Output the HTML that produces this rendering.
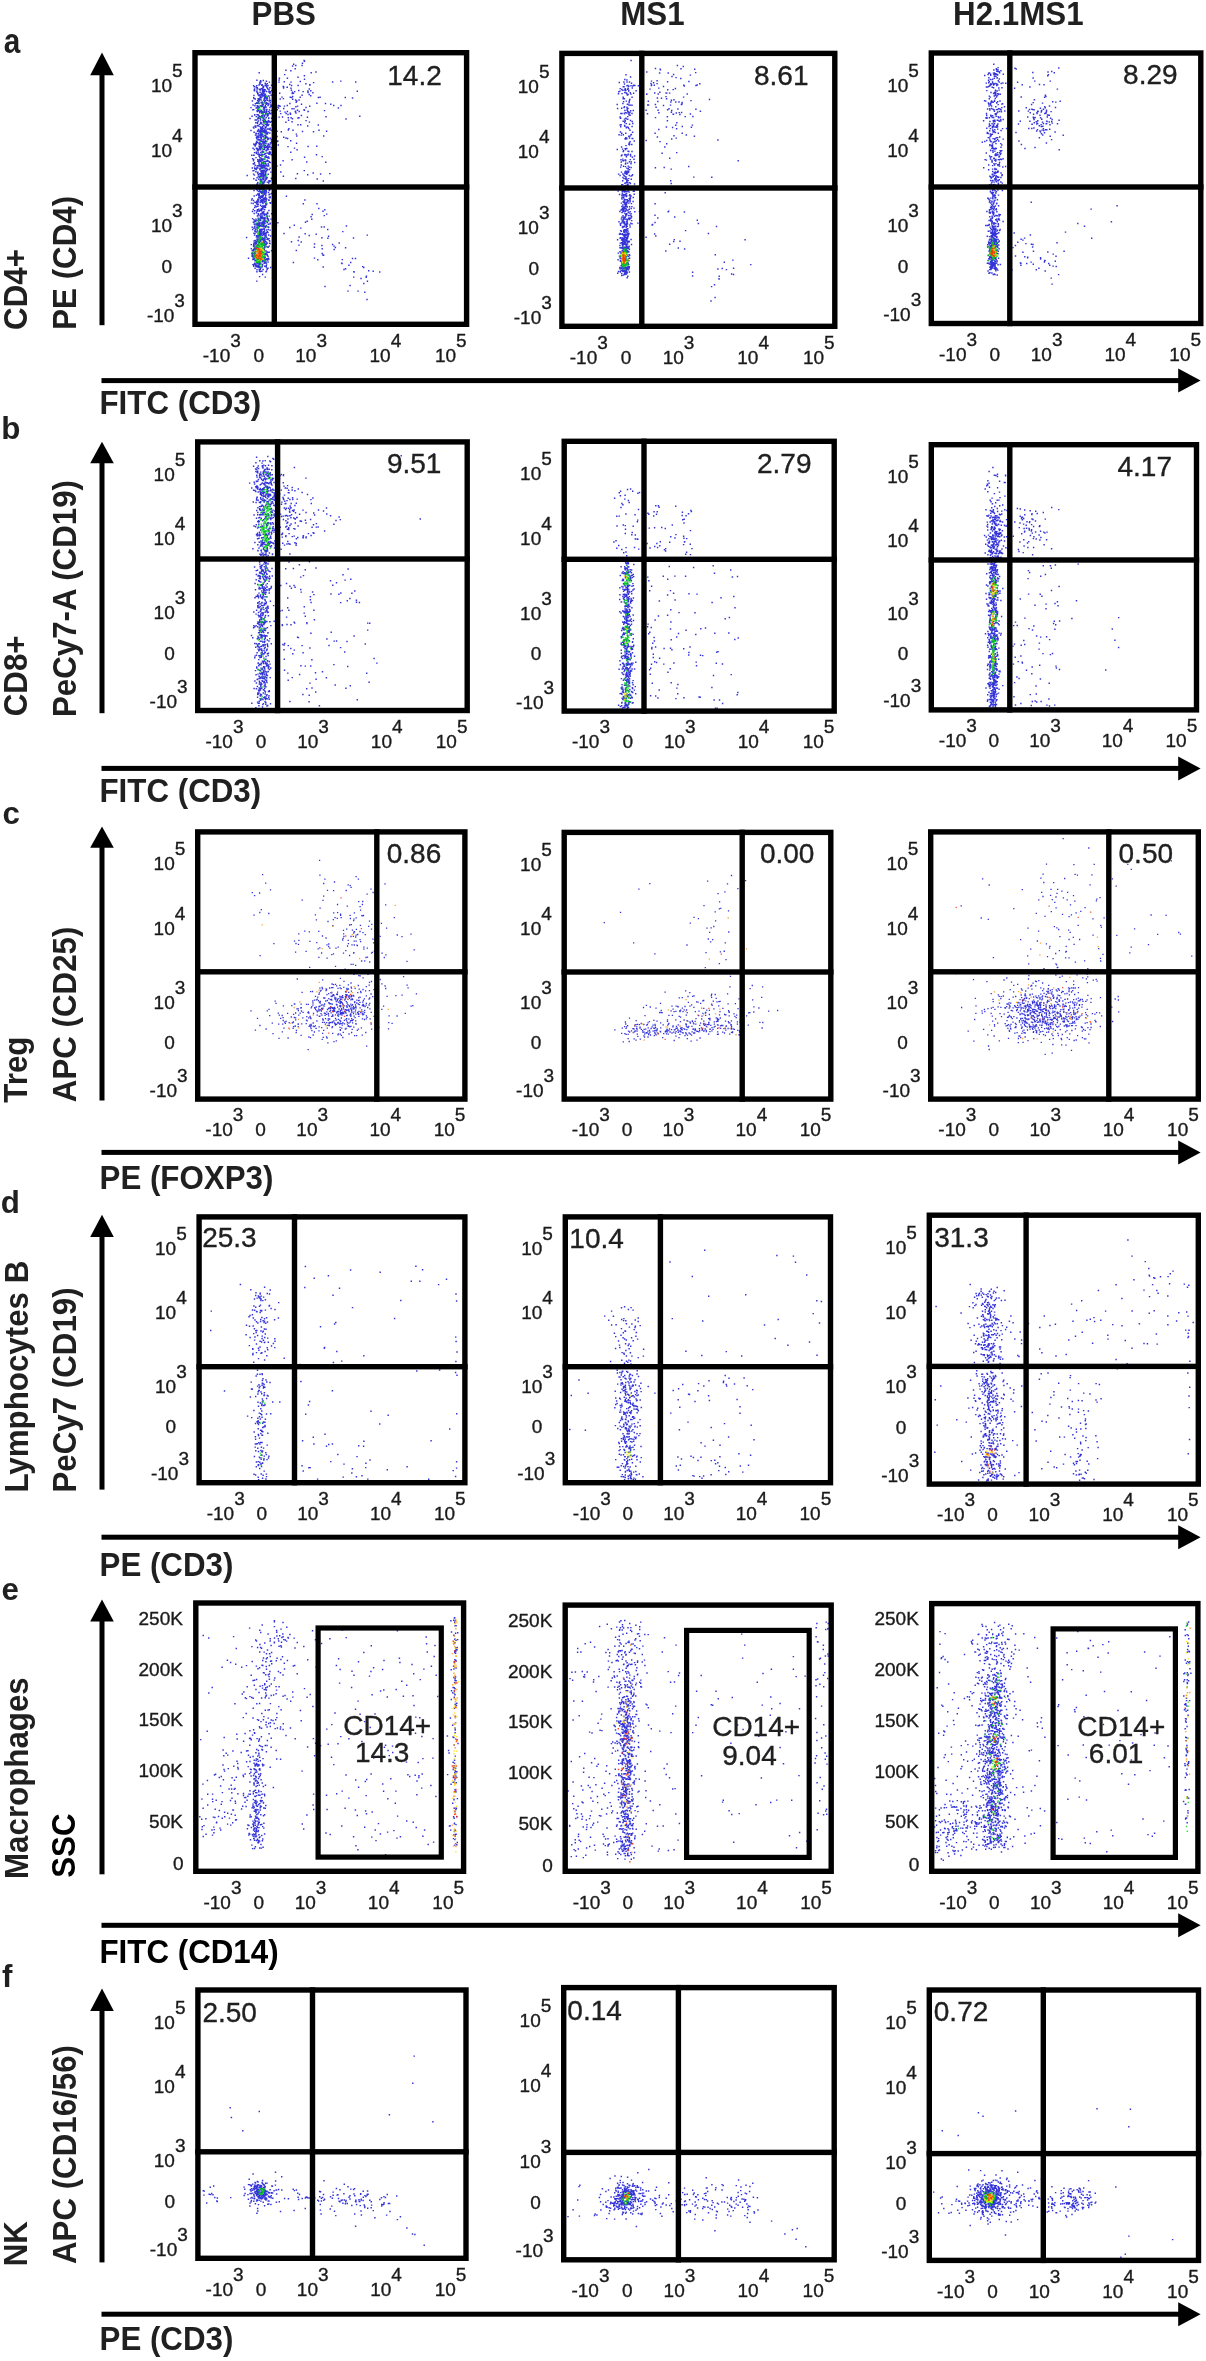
<!DOCTYPE html>
<html><head><meta charset="utf-8"><style>
html,body{margin:0;padding:0;background:#fff;}
body{width:1206px;height:2361px;overflow:hidden;font-family:"Liberation Sans",sans-serif;}
svg{display:block;}
.r{stroke:#1a1a1a;stroke-width:0.35px;}
</style></head><body>
<svg width="1206" height="2361" viewBox="0 0 1206 2361" font-family="Liberation Sans, sans-serif">
<rect width="1206" height="2361" fill="#fff"/>
<g stroke-linecap="square" fill="none" stroke-opacity="0.8">
<path stroke="#0000d0" stroke-width="1.3" d="M394.3 917.7h0M302.1 992.3h0M402.1 995.2h0M308.2 1049.6h0M297.3 979.0h0M302.2 900.2h0M273.9 943.7h0M260.1 955.7h0M306.1 951.3h0M319.6 860.4h0M270.5 889.9h0M385.0 883.9h0M366.7 1046.2h0M407.0 961.3h0M335.5 966.3h0M251.0 1010.8h0M295.6 952.2h0M385.7 904.9h0M347.3 906.2h0M411.0 934.1h0M414.2 949.8h0M334.5 882.0h0M397.1 1016.0h0M405.3 1013.3h0M416.4 993.8h0M268.8 913.5h0M319.9 875.2h0M320.1 908.1h0M403.6 976.6h0M265.7 883.1h0M262.6 874.6h0M257.5 1018.4h0M309.3 931.8h0M298.8 933.9h0M254.0 915.1h0M273.0 1033.7h0M380.2 936.3h0M283.4 1005.9h0M266.1 1029.0h0M395.9 995.7h0M316.4 919.9h0M323.7 883.5h0M309.9 941.4h0M288.1 1038.0h0M375.3 916.8h0M333.6 890.7h0M279.0 1038.3h0M371.0 889.1h0M318.9 957.3h0M358.4 879.2h0M275.2 1001.1h0M356.1 876.6h0M309.7 967.3h0M255.4 1030.1h0M386.6 928.1h0M308.9 971.4h0M324.9 879.1h0M304.8 931.1h0M378.9 1027.3h0M381.4 923.3h0M327.5 890.3h0M318.8 931.3h0M261.3 909.7h0M272.3 1023.2h0M387.1 996.4h0M388.5 1028.9h0M408.1 987.8h0M373.1 892.5h0M380.2 979.5h0M337.5 904.5h0M367.1 894.2h0M259.6 893.0h0M315.4 914.9h0M259.8 912.5h0M407.1 985.1h0M323.0 900.3h0M369.7 962.0h0M412.8 1005.6h0M340.4 978.4h0M402.0 936.6h0M397.3 935.0h0M346.2 890.5h0M411.1 1006.2h0M276.0 1003.4h0M343.5 953.2h0M323.7 896.1h0M372.9 939.1h0M301.1 1035.4h0M254.6 895.7h0M269.7 1015.7h0M373.6 942.9h0M327.1 958.2h0M259.9 1025.5h0M328.0 921.5h0M252.3 892.6h0M389.1 1015.9h0M316.8 942.6h0M322.5 936.0h0M381.9 983.8h0M385.7 988.5h0M351.1 887.3h0M382.1 953.2h0M371.5 929.1h0M326.0 938.0h0M322.7 979.9h0M384.3 957.5h0M371.6 1029.2h0M327.9 1042.9h0M338.2 947.2h0M367.5 971.0h0M392.1 1023.3h0M354.0 974.3h0M377.3 1027.1h0M385.1 986.0h0M385.9 954.8h0M267.3 1010.8h0M349.6 955.5h0M278.7 1024.2h0M369.5 921.2h0M388.8 1022.6h0M269.0 1009.4h0M308.9 1037.0h0M332.9 925.6h0M383.6 1006.2h0M278.3 1013.1h0M377.8 1002.9h0M371.8 924.4h0M381.8 1009.3h0M358.8 975.7h0M350.1 915.3h0M282.3 1031.9h0M358.7 901.7h0M374.3 951.2h0M376.1 1014.6h0M310.5 1037.7h0M371.5 981.5h0M365.8 1032.5h0M349.3 971.6h0M333.5 953.9h0M368.0 974.3h0M350.2 885.6h0M363.1 977.8h0M321.6 953.0h0M348.2 884.9h0M298.5 944.3h0M353.9 952.7h0M345.8 950.6h0M344.0 981.3h0M298.9 940.4h0M355.7 965.4h0M354.4 912.9h0M294.5 941.2h0M296.0 943.5h0M353.6 953.2h0M310.6 991.7h0M372.4 952.4h0M345.1 969.2h0M322.2 1039.3h0M361.6 961.0h0M368.7 926.4h0M360.4 925.4h0M345.1 969.7h0M331.8 954.7h0M333.7 912.9h0M334.0 1041.7h0M360.2 975.9h0M362.7 901.5h0M336.0 948.1h0M376.4 1009.0h0M367.3 948.2h0M287.6 1013.3h0M343.5 930.3h0M336.3 1040.9h0M362.3 1035.2h0M372.8 996.6h0M365.3 934.7h0M363.5 915.4h0M347.5 946.0h0M364.7 960.8h0M349.0 1034.0h0M363.0 915.9h0M361.4 1027.9h0M333.3 919.6h0M342.8 1037.5h0M318.2 948.9h0M319.8 947.8h0M279.3 1015.1h0M363.9 947.2h0M353.1 964.3h0M373.9 989.6h0M351.1 964.3h0M363.9 949.2h0M360.1 906.7h0M363.0 932.6h0M371.5 953.2h0M362.4 904.5h0M367.5 957.1h0M374.0 1016.3h0M328.8 944.0h0M350.4 918.5h0M366.0 957.5h0M332.7 1033.3h0M313.2 1035.0h0M337.6 912.7h0M369.5 982.3h0M361.8 915.7h0M327.0 944.9h0M291.8 1005.6h0M360.6 910.2h0M283.9 1028.2h0M335.0 917.7h0M341.1 917.6h0M327.1 1038.0h0M349.7 925.0h0M343.6 933.9h0M340.6 914.1h0M340.6 915.4h0M354.6 1035.7h0M323.3 1037.3h0M346.7 929.2h0M356.6 1035.7h0M343.1 938.4h0M348.4 943.6h0M356.2 917.8h0M342.7 940.0h0M354.0 919.1h0M328.6 946.5h0M337.3 918.3h0M326.5 1036.8h0M329.8 948.1h0M366.3 986.6h0M353.7 920.7h0M357.3 1030.3h0M358.4 1029.1h0M369.2 985.2h0M371.1 1024.0h0M360.1 939.7h0M348.4 984.9h0M360.6 941.7h0M343.9 936.5h0M351.3 924.7h0M351.4 924.6h0M322.6 1033.4h0M371.1 994.0h0M351.0 983.0h0M352.0 944.8h0M280.7 1018.4h0M332.1 984.0h0M358.3 985.5h0M369.4 990.6h0M371.2 1012.3h0M357.0 945.2h0M296.4 1030.5h0M296.2 1032.7h0M293.6 1014.3h0M357.4 945.7h0M335.5 984.3h0M333.5 984.6h0M369.7 998.0h0M366.3 995.9h0M308.3 1004.4h0M319.0 1030.8h0M348.2 940.4h0M354.3 945.0h0M306.5 1004.3h0M363.0 989.5h0M365.6 990.9h0M312.5 991.5h0M301.8 1023.8h0M351.6 1032.5h0M370.1 1018.8h0M323.7 1030.4h0M282.2 1015.5h0M283.1 1017.6h0M301.1 1004.1h0M338.3 1033.8h0M338.0 1034.9h0M294.3 1003.8h0M294.8 1004.1h0M311.9 1030.7h0M366.3 1018.8h0M352.4 930.1h0M361.0 992.7h0M283.2 1020.5h0M360.7 991.5h0M369.9 1008.8h0M319.9 988.2h0M356.4 929.3h0M329.7 988.0h0M291.3 1017.0h0M364.5 1019.5h0M340.2 1034.1h0M341.4 1035.3h0M314.4 1032.0h0M356.1 941.1h0M322.1 987.5h0M284.7 1022.2h0M282.8 1024.2h0M321.7 1027.6h0M354.2 941.1h0M340.2 987.8h0M339.9 985.4h0M360.0 931.5h0M351.0 936.5h0M336.6 985.8h0M343.3 1032.3h0M369.0 999.1h0M343.8 987.4h0M357.7 934.5h0M319.1 1026.9h0M295.6 1013.0h0M302.8 1017.9h0M359.2 989.1h0M369.8 1003.3h0M369.1 1005.0h0M340.4 1030.4h0M297.0 1008.9h0M353.7 933.2h0M362.5 1018.8h0M351.2 987.1h0M314.5 1000.2h0M311.8 1006.6h0M331.7 987.6h0M311.2 1007.9h0M332.9 987.7h0M316.9 1021.0h0M298.2 1024.3h0M293.1 1028.4h0M298.2 1026.6h0M295.6 1017.9h0M298.2 1023.9h0M294.4 1017.5h0M298.8 1015.2h0M367.1 1017.3h0M308.5 1011.9h0M366.4 1015.9h0M300.9 1008.0h0M301.3 1007.7h0M306.2 1023.6h0M303.1 1012.4h0M298.3 1008.9h0M298.4 1010.7h0M354.5 931.7h0M316.1 1028.3h0M354.1 931.9h0M316.2 1028.3h0M353.4 936.4h0M352.2 1029.4h0M286.1 1021.4h0M300.2 1013.2h0M285.4 1023.3h0M311.1 1028.6h0M301.5 1011.0h0M322.5 988.8h0M313.0 1003.0h0M312.8 1001.0h0M319.4 992.8h0M355.7 937.0h0M356.1 935.2h0M320.4 991.2h0M295.7 1019.8h0M321.0 990.3h0M357.8 992.7h0M310.5 1017.9h0M355.2 988.3h0M310.0 1016.5h0M315.4 1025.8h0M317.8 997.1h0M315.5 996.3h0M332.1 1027.5h0M308.9 1013.2h0M313.2 1023.0h0M307.9 1012.7h0M327.3 1028.2h0M364.4 998.8h0M323.8 998.0h0M326.0 988.8h0M326.6 989.5h0M317.2 1015.2h0M326.1 990.7h0M307.2 1020.8h0M306.5 1020.2h0M327.0 994.6h0M308.7 1017.8h0M306.8 1016.6h0M295.2 1026.4h0M319.0 994.4h0M317.4 999.1h0M316.4 999.9h0M289.2 1022.7h0M295.2 1025.8h0M293.5 1026.7h0M310.9 1018.5h0M338.0 988.3h0M312.9 1005.2h0M341.2 988.7h0M292.3 1022.9h0M293.4 1021.8h0M367.7 1007.5h0M293.0 1022.6h0M355.9 1023.7h0M356.1 1024.1h0M346.1 1028.5h0M314.3 1026.6h0M345.3 1029.1h0M313.3 1026.1h0M313.5 1013.5h0M309.1 1026.3h0M311.2 1025.6h0M309.8 1025.1h0M311.1 1024.5h0M310.7 1027.0h0M360.1 997.4h0M324.8 998.0h0M366.4 1003.4h0M366.1 1005.1h0M340.3 1029.6h0M340.0 1027.4h0M341.7 1028.1h0M314.7 1007.6h0M328.7 993.7h0M322.6 1022.4h0M319.3 1016.3h0M319.9 1016.1h0M363.4 1000.5h0M353.8 1027.1h0M318.4 1000.7h0M320.2 1003.1h0M319.4 1002.2h0M320.3 1001.5h0M351.4 991.2h0M323.3 1019.9h0M322.7 1018.8h0M351.5 988.2h0M323.1 1020.2h0M363.9 1014.1h0M364.7 1012.3h0M358.7 997.9h0M328.8 998.7h0M325.8 1001.0h0M355.7 1020.8h0M362.7 1002.1h0M348.4 989.0h0M364.6 1010.4h0M363.9 1005.4h0M363.2 1004.5h0M365.1 1006.7h0M327.9 1025.4h0M363.5 1006.0h0M329.3 1025.6h0M336.6 1024.3h0M358.9 1016.4h0M335.5 1025.1h0M332.5 1026.7h0M347.2 989.8h0M346.9 989.0h0M346.9 988.3h0M337.2 993.8h0M337.6 992.1h0M342.3 1025.1h0M316.2 1007.0h0M315.1 1008.4h0M351.0 1026.3h0M348.5 1025.7h0M349.9 1026.8h0M348.8 1026.3h0M348.0 1026.2h0M317.3 1011.8h0M331.8 992.5h0M331.3 992.8h0M317.0 1010.6h0M321.0 1013.7h0M352.6 1022.9h0M315.7 1009.7h0M330.9 992.7h0M320.0 1006.1h0M325.4 1024.2h0M324.4 1022.3h0M326.7 1022.7h0M322.8 1004.9h0M321.4 1005.2h0M328.8 1002.7h0M327.4 1000.5h0M321.9 1015.2h0M356.9 1000.1h0M325.1 1015.3h0M325.6 1018.6h0M359.1 1000.4h0M360.0 1002.3h0M358.5 1000.7h0M362.9 1004.9h0M362.8 1005.4h0M362.4 1005.7h0M354.1 1016.1h0M355.1 1017.7h0M332.5 995.2h0M324.1 1006.0h0M324.6 1004.0h0M331.1 996.1h0M360.7 1012.7h0M326.6 1014.4h0M362.9 1014.8h0M325.3 1013.5h0M362.6 1013.6h0M332.1 996.6h0M324.4 1013.1h0M319.3 1006.3h0M318.9 1006.9h0M322.6 1009.2h0M323.0 1008.1h0M321.6 1008.3h0M321.4 1011.2h0M318.7 1010.8h0M318.6 1009.2h0M321.0 1009.8h0M319.0 1010.9h0M360.1 1007.9h0M319.9 1009.9h0M352.5 1020.5h0M351.7 1018.7h0M353.2 1019.7h0M351.9 1020.5h0M354.8 1001.7h0M354.7 1002.6h0M328.6 1015.9h0M356.8 1003.0h0M348.9 1023.2h0M350.2 1022.1h0M358.4 1004.0h0M359.5 1004.6h0M331.3 999.3h0M361.7 1009.9h0M330.4 999.6h0M331.8 1000.0h0M347.5 1022.4h0M362.9 1011.8h0M347.4 1024.1h0M361.2 1011.8h0M329.0 1022.9h0M329.8 1022.4h0M329.2 1023.9h0M342.6 1023.0h0M343.0 1022.8h0M326.8 1011.8h0M344.5 1023.9h0M329.6 1019.1h0M328.3 1018.9h0M329.4 1018.8h0M328.2 1020.3h0M328.4 1014.2h0M341.2 1023.7h0M357.9 1012.7h0M328.3 1013.3h0M358.9 1014.1h0M357.6 1012.3h0M339.7 1024.0h0M340.2 1023.2h0M358.2 1013.5h0M358.4 1014.4h0M340.7 1021.3h0M330.8 1022.6h0M334.0 995.6h0M333.1 995.4h0M332.3 1021.9h0M333.6 994.7h0M333.6 994.9h0M332.3 1022.5h0M332.8 1021.9h0M329.3 1003.2h0M329.4 1003.7h0M332.7 1016.1h0M331.7 1016.3h0M355.5 1004.9h0M334.5 1022.9h0M338.4 1023.1h0M334.9 1023.9h0M337.9 1022.9h0M335.7 1024.0h0M337.7 1022.8h0M338.1 1022.3h0M359.0 1011.3h0M336.7 994.3h0M337.4 994.5h0M335.5 1018.4h0M333.9 1020.9h0M348.7 992.3h0M348.9 1019.2h0M350.7 1020.7h0M355.9 1014.1h0M352.4 998.9h0M351.1 996.9h0M351.6 995.5h0M353.4 995.3h0M353.7 996.0h0M352.7 999.6h0M351.8 996.3h0M351.7 999.1h0M352.6 1004.7h0M351.2 1005.9h0M352.4 1005.1h0M336.1 1020.0h0M336.2 1019.9h0M338.4 1019.3h0M335.0 999.0h0M334.9 997.5h0M335.7 999.8h0M346.7 1018.7h0M346.0 1019.3h0M346.6 1020.9h0M327.5 1009.5h0M341.4 997.0h0M339.9 996.5h0M329.8 1011.4h0M345.5 991.6h0M346.1 992.1h0M354.3 1008.2h0M339.8 1020.3h0M340.0 1020.6h0M355.8 1006.3h0M356.2 1007.9h0M355.1 1007.7h0M344.4 1020.3h0M355.2 1011.8h0M355.6 1010.2h0M331.1 1012.9h0M329.4 1008.0h0M332.8 1014.8h0M328.6 1008.5h0M353.1 1012.2h0M353.5 1013.6h0M351.5 1012.2h0M349.2 1005.7h0M350.8 1004.2h0M350.3 1015.2h0M350.9 1015.2h0M350.9 1016.4h0M332.4 1004.2h0M330.1 1003.8h0M330.6 1003.7h0M332.0 1004.1h0M353.5 1006.7h0M353.8 1009.0h0M352.9 1008.0h0M351.1 1008.0h0M342.5 995.6h0M342.6 995.8h0M351.6 1010.6h0M351.8 1009.6h0M337.5 999.6h0M336.0 998.1h0M338.2 998.6h0M337.8 1015.5h0M338.5 1016.1h0M348.9 997.3h0M350.8 999.9h0M349.6 998.4h0M348.8 996.2h0M348.9 995.9h0M349.7 995.9h0M347.2 1015.4h0M346.6 1015.6h0M335.5 1014.9h0M349.5 1006.5h0M350.6 1008.9h0M336.3 1001.6h0M338.4 1002.1h0M337.3 1000.7h0M346.8 1005.8h0M346.4 1005.8h0M347.9 1004.7h0M346.3 1001.7h0M347.2 1003.0h0M350.7 1014.0h0M350.1 1014.9h0M350.8 1013.9h0M341.4 1018.0h0M330.6 1010.5h0M332.9 1010.5h0M332.6 1008.3h0M330.2 1008.0h0M331.9 1007.6h0M330.8 1006.8h0M330.5 1008.6h0M332.2 1007.7h0M340.4 999.6h0M340.1 998.1h0M341.5 999.1h0M346.0 994.7h0M345.6 994.9h0M345.4 996.7h0M347.3 994.8h0M346.7 995.9h0M347.0 1006.7h0M348.8 1009.3h0M349.1 1011.5h0M347.1 1007.3h0M348.7 1010.2h0M348.8 1010.3h0M348.6 1010.1h0M342.3 1003.0h0M343.0 997.6h0M336.8 1004.6h0M342.5 997.5h0M336.4 1004.3h0M337.0 1005.1h0M344.8 1000.0h0M343.2 1004.8h0M344.2 1005.9h0M342.8 1004.2h0M340.4 1003.2h0M341.4 1001.9h0M341.4 1002.3h0M340.1 1002.3h0M340.6 1001.3h0M339.6 1000.8h0M336.6 1012.9h0M346.0 997.3h0M347.9 999.4h0M345.2 999.2h0M338.2 1014.0h0M345.9 997.8h0M346.0 1013.0h0M345.2 1012.3h0M333.3 1008.0h0M334.6 1007.4h0M333.8 1007.8h0M335.0 1008.7h0M339.6 1006.0h0M340.6 1005.6h0M340.1 1003.6h0M340.8 1006.0h0M334.8 1011.4h0M333.0 1011.0h0M334.4 1010.4h0M333.3 1011.7h0M333.9 1009.2h0M334.3 1010.3h0M343.8 1009.1h0M343.4 1007.5h0M346.5 1010.7h0M347.4 1010.2h0M345.5 1009.6h0M346.6 1010.0h0M337.6 1007.1h0M340.2 1012.4h0M341.9 1013.6h0M341.3 1013.9h0M340.4 1013.3h0M341.0 1012.7h0M340.0 1014.7h0M341.7 1008.7h0M340.6 1006.8h0M339.1 1009.0h0M343.2 1012.6h0M342.8 1012.2h0M342.0 1015.1h0M343.0 1013.6h0M342.2 1012.4h0M342.5 1013.5h0M343.8 1013.6h0M342.3 1013.1h0M337.0 1012.2h0M337.8 1011.9h0M337.7 1011.5h0M338.4 1011.5h0M337.6 1011.3h0M337.1 1011.8h0M344.8 1011.6h0M343.1 1012.1h0M344.8 1011.2h0M341.8 1010.1h0M340.2 1011.6h0M340.4 1010.3h0M341.6 1009.3h0M768.6 1011.1h0M638.9 889.2h0M731.5 875.5h0M707.6 881.1h0M737.9 888.7h0M620.5 912.3h0M748.3 1025.1h0M654.9 953.9h0M614.9 1029.8h0M665.1 992.1h0M728.8 932.0h0M725.3 942.8h0M706.0 952.6h0M604.3 922.7h0M777.6 1010.5h0M730.5 976.4h0M649.8 883.7h0M687.0 945.0h0M745.6 880.7h0M633.6 942.9h0M752.7 999.9h0M761.7 997.3h0M762.6 986.9h0M704.0 905.6h0M690.3 923.2h0M660.5 1003.3h0M727.6 993.9h0M710.7 971.1h0M727.5 883.8h0M718.0 893.7h0M719.4 963.6h0M705.3 967.7h0M729.9 986.8h0M715.6 920.9h0M750.1 988.6h0M724.9 891.8h0M742.9 950.9h0M726.0 959.6h0M752.3 985.5h0M645.0 1015.6h0M719.6 901.8h0M762.1 1028.0h0M728.5 910.9h0M741.5 997.1h0M698.4 918.7h0M629.5 1018.1h0M715.2 911.9h0M674.2 1040.5h0M694.0 917.4h0M623.3 1041.9h0M710.7 941.8h0M646.4 1005.4h0M762.8 1022.5h0M697.0 1040.1h0M712.7 939.7h0M735.4 1003.7h0M685.7 990.9h0M759.9 1022.3h0M708.3 939.0h0M720.4 951.9h0M643.5 1007.5h0M758.9 1008.0h0M709.6 932.3h0M707.0 928.2h0M650.3 1007.0h0M742.7 1007.2h0M679.3 997.9h0M739.0 998.9h0M720.8 908.3h0M728.1 1003.9h0M713.8 926.5h0M656.0 1008.2h0M719.4 908.9h0M691.1 1041.2h0M738.1 1008.6h0M746.6 1015.9h0M740.8 1001.6h0M753.9 1006.9h0M715.2 994.5h0M753.8 1012.0h0M703.7 1000.5h0M711.1 927.8h0M724.2 951.4h0M682.3 997.6h0M724.3 951.2h0M748.7 1012.8h0M694.1 995.8h0M700.1 1038.0h0M749.8 1012.6h0M636.0 1040.2h0M711.7 994.2h0M629.2 1041.5h0M689.8 992.7h0M711.3 995.5h0M672.0 1006.1h0M659.7 1012.5h0M692.7 996.3h0M662.2 1012.7h0M702.8 1000.9h0M688.0 996.5h0M711.6 997.4h0M688.4 1002.4h0M695.3 1011.7h0M693.9 1007.3h0M661.2 1010.5h0M691.6 1004.8h0M636.2 1020.7h0M736.7 1015.1h0M661.2 1012.7h0M657.0 1021.1h0M700.6 1003.4h0M649.4 1021.7h0M698.0 1002.1h0M696.6 1001.9h0M675.8 1019.9h0M672.4 1015.4h0M734.0 1013.9h0M653.9 1020.4h0M717.4 1034.3h0M740.1 1022.2h0M668.9 1015.3h0M625.4 1022.0h0M690.0 1006.2h0M625.7 1024.0h0M718.4 1034.2h0M621.7 1033.4h0M722.9 1008.4h0M708.6 1034.1h0M716.2 998.4h0M671.1 1010.9h0M740.3 1019.9h0M740.5 1020.7h0M699.0 1011.2h0M729.0 1011.7h0M622.3 1028.2h0M685.0 1006.5h0M729.2 1012.3h0M728.6 1010.6h0M736.2 1017.7h0M720.0 1011.6h0M720.1 1001.3h0M718.9 1001.7h0M734.9 1016.3h0M676.1 1006.2h0M667.5 1021.3h0M634.1 1038.8h0M628.1 1038.7h0M667.5 1019.8h0M677.8 1006.5h0M703.8 1008.4h0M713.3 1001.2h0M729.2 1015.9h0M718.7 1005.8h0M679.0 1037.6h0M729.7 1034.2h0M673.1 1009.1h0M662.7 1037.6h0M626.1 1034.3h0M660.7 1022.8h0M712.2 1005.4h0M717.0 1001.9h0M711.6 1004.2h0M725.9 1014.8h0M680.4 1021.7h0M713.9 1008.9h0M724.6 1014.5h0M739.0 1034.7h0M687.3 1038.6h0M696.0 1018.6h0M739.3 1035.0h0M640.3 1039.1h0M674.1 1011.7h0M728.4 1021.6h0M731.5 1020.9h0M737.4 1024.1h0M737.4 1021.9h0M680.6 1017.2h0M679.2 1016.3h0M686.3 1015.2h0M626.6 1026.9h0M624.6 1026.6h0M739.5 1030.8h0M740.8 1032.9h0M678.2 1006.8h0M739.6 1032.1h0M698.7 1015.7h0M648.0 1022.8h0M682.4 1008.2h0M655.0 1024.5h0M709.4 1010.4h0M647.4 1024.6h0M705.8 1012.5h0M684.1 1020.0h0M706.8 1010.2h0M648.0 1037.0h0M719.5 1014.8h0M643.9 1024.5h0M702.0 1016.2h0M686.6 1010.0h0M687.2 1012.6h0M675.9 1011.4h0M709.4 1014.5h0M644.6 1037.1h0M725.5 1021.1h0M695.1 1021.3h0M624.9 1033.6h0M628.2 1034.4h0M711.9 1030.8h0M626.1 1028.3h0M705.7 1015.4h0M627.6 1025.7h0M705.4 1013.0h0M702.9 1013.3h0M701.7 1019.0h0M637.5 1024.4h0M717.7 1031.9h0M668.9 1023.3h0M668.5 1024.2h0M691.6 1035.1h0M709.9 1031.7h0M722.7 1032.1h0M637.3 1034.2h0M641.2 1023.5h0M637.8 1036.4h0M720.3 1018.0h0M737.8 1030.3h0M683.0 1011.6h0M684.2 1009.9h0M692.4 1021.4h0M728.9 1022.9h0M692.3 1020.9h0M729.9 1022.8h0M680.7 1010.2h0M679.7 1010.8h0M680.1 1011.5h0M687.1 1020.6h0M690.4 1034.0h0M687.8 1021.2h0M724.5 1033.0h0M731.5 1032.4h0M732.6 1031.8h0M717.5 1018.3h0M732.5 1032.7h0M706.4 1031.6h0M716.2 1017.9h0M708.7 1018.7h0M709.9 1018.5h0M663.2 1024.8h0M628.5 1031.2h0M629.6 1032.0h0M663.7 1033.7h0M676.0 1036.1h0M693.9 1023.8h0M695.8 1024.1h0M703.8 1021.2h0M704.1 1030.8h0M733.1 1028.8h0M703.7 1031.2h0M734.4 1029.4h0M646.8 1025.2h0M685.0 1035.7h0M687.5 1035.1h0M666.5 1033.8h0M686.3 1034.1h0M668.3 1034.2h0M717.7 1028.4h0M632.9 1028.6h0M718.3 1019.5h0M718.0 1021.2h0M718.0 1019.7h0M717.6 1021.4h0M718.7 1019.7h0M633.3 1032.6h0M700.6 1023.2h0M730.9 1025.0h0M693.3 1022.9h0M631.5 1030.9h0M731.2 1024.7h0M720.6 1028.3h0M731.5 1026.4h0M685.9 1024.0h0M686.4 1024.4h0M712.0 1027.7h0M692.1 1031.9h0M713.0 1029.3h0M634.8 1025.2h0M654.3 1035.7h0M655.2 1033.8h0M634.8 1026.2h0M656.2 1034.8h0M635.2 1031.0h0M694.7 1033.0h0M634.5 1031.8h0M636.0 1024.7h0M693.7 1033.0h0M637.0 1031.0h0M643.9 1035.8h0M644.7 1034.2h0M679.9 1034.3h0M655.6 1027.7h0M689.1 1033.0h0M655.3 1025.9h0M640.1 1027.2h0M717.3 1019.8h0M652.1 1026.9h0M653.1 1025.2h0M639.4 1024.7h0M696.6 1031.2h0M636.8 1026.8h0M709.9 1019.9h0M698.9 1031.8h0M697.7 1031.4h0M728.1 1028.5h0M717.5 1024.9h0M715.1 1026.4h0M722.8 1025.5h0M690.4 1023.1h0M721.4 1025.5h0M690.0 1022.0h0M720.5 1025.8h0M718.1 1025.1h0M731.5 1028.0h0M660.7 1027.9h0M634.0 1029.0h0M731.3 1029.2h0M648.6 1034.5h0M650.5 1035.0h0M716.5 1021.7h0M692.0 1026.3h0M726.4 1025.9h0M725.8 1030.2h0M723.9 1028.7h0M725.4 1028.3h0M726.1 1026.4h0M667.8 1025.1h0M637.1 1029.1h0M636.6 1028.6h0M641.4 1029.3h0M640.0 1028.0h0M710.2 1029.4h0M660.6 1031.9h0M709.9 1029.2h0M693.1 1029.3h0M660.3 1031.5h0M658.4 1033.7h0M693.3 1029.0h0M714.1 1027.1h0M665.5 1031.1h0M665.3 1031.8h0M688.2 1027.6h0M678.3 1024.9h0M688.8 1026.3h0M676.5 1026.5h0M672.9 1026.9h0M644.2 1029.4h0M673.1 1025.9h0M687.1 1027.0h0M686.3 1025.9h0M695.0 1029.6h0M695.4 1029.5h0M695.0 1030.6h0M695.2 1028.8h0M685.6 1032.8h0M714.3 1021.8h0M699.8 1025.3h0M703.6 1024.0h0M685.9 1032.9h0M714.3 1024.1h0M704.0 1023.4h0M648.2 1027.8h0M642.6 1030.7h0M644.1 1032.2h0M642.8 1032.2h0M645.7 1029.1h0M699.4 1028.6h0M706.2 1030.3h0M686.9 1029.6h0M684.9 1029.4h0M670.1 1032.0h0M705.2 1029.0h0M672.0 1033.0h0M647.4 1032.8h0M646.1 1032.7h0M702.4 1030.0h0M710.8 1025.3h0M701.4 1027.9h0M646.2 1033.2h0M702.0 1030.2h0M699.6 1030.5h0M702.4 1028.9h0M647.9 1031.2h0M707.5 1024.6h0M705.8 1024.4h0M653.7 1028.1h0M656.9 1030.0h0M654.6 1028.3h0M651.1 1028.5h0M655.2 1030.5h0M657.3 1028.8h0M649.5 1030.5h0M683.1 1033.1h0M704.4 1025.4h0M708.6 1024.4h0M708.7 1022.9h0M667.1 1032.2h0M667.0 1030.8h0M704.9 1025.2h0M709.0 1022.4h0M667.2 1031.0h0M673.7 1032.1h0M682.8 1032.7h0M709.0 1024.4h0M666.8 1031.0h0M708.8 1024.7h0M675.4 1033.1h0M653.1 1031.2h0M676.1 1031.6h0M657.3 1032.9h0M656.7 1030.9h0M671.5 1029.7h0M654.6 1030.8h0M678.3 1032.4h0M654.9 1032.6h0M669.5 1028.9h0M668.8 1030.5h0M667.2 1029.4h0M706.4 1026.5h0M666.8 1030.6h0M666.9 1029.5h0M682.3 1029.8h0M682.1 1027.9h0M684.0 1028.6h0M649.0 1033.4h0M650.0 1032.1h0M649.0 1033.7h0M679.1 1031.2h0M680.5 1031.0h0M681.0 1032.0h0M674.3 1029.8h0M675.1 1029.7h0M677.4 1028.2h0M676.1 1028.3h0M678.0 1030.2h0M677.7 1030.2h0M678.0 1029.8h0M681.1 1027.9h0M681.3 1029.4h0M680.7 1028.4h0M988.3 919.4h0M1088.8 848.0h0M1053.7 882.6h0M986.9 981.7h0M1075.4 962.1h0M1078.2 925.3h0M1020.6 939.7h0M1091.9 874.8h0M1046.5 864.2h0M1038.6 931.2h0M993.4 957.7h0M1064.7 878.5h0M1027.9 928.1h0M1171.4 860.8h0M1116.8 935.3h0M1191.8 956.1h0M1063.2 838.6h0M981.2 918.0h0M968.2 1031.1h0M1112.4 878.8h0M1084.6 960.9h0M1134.6 928.9h0M973.9 1041.1h0M1094.2 864.3h0M1108.8 854.2h0M956.1 973.5h0M961.6 1007.5h0M1013.8 908.7h0M973.5 979.7h0M1151.1 915.0h0M1090.1 884.8h0M1116.2 886.2h0M1148.5 944.6h0M1166.1 915.4h0M1157.7 934.4h0M1100.5 997.7h0M1022.3 889.6h0M1073.9 864.7h0M1036.3 913.3h0M1062.5 914.4h0M1030.7 949.1h0M989.2 885.0h0M1045.0 916.4h0M1108.9 960.1h0M982.6 878.8h0M1071.5 1050.3h0M1127.8 864.3h0M1104.1 917.9h0M1118.7 1011.8h0M1052.2 1053.1h0M1131.3 869.3h0M1043.1 874.1h0M1045.2 1054.4h0M961.2 905.8h0M975.4 998.3h0M999.3 1040.9h0M1111.8 1007.1h0M1112.6 1021.5h0M1028.7 963.9h0M1087.8 968.7h0M1131.2 947.2h0M1027.7 955.8h0M1059.9 936.6h0M1093.0 918.9h0M1041.3 1042.3h0M1129.8 952.8h0M974.7 1019.5h0M1085.1 907.7h0M1038.8 899.9h0M1043.8 882.5h0M1079.6 939.5h0M983.6 1029.3h0M1047.5 956.6h0M1093.1 935.1h0M987.8 1034.8h0M1068.6 930.2h0M975.9 1013.4h0M1089.0 1042.8h0M989.2 1049.5h0M976.0 1005.8h0M1008.5 1038.4h0M988.5 1046.0h0M1041.7 892.4h0M1178.7 932.5h0M1040.9 878.1h0M1180.4 934.1h0M994.1 1036.0h0M1052.9 1044.5h0M1051.3 911.6h0M1037.4 941.0h0M1103.0 954.3h0M1004.0 980.0h0M1070.5 904.9h0M1069.1 916.6h0M1073.5 895.6h0M1100.0 897.6h0M1071.4 914.8h0M1006.8 978.0h0M1059.4 950.6h0M1107.6 925.7h0M1055.7 953.5h0M1087.4 982.7h0M1077.4 875.1h0M1075.1 874.4h0M1017.7 984.4h0M1051.0 889.3h0M1044.0 968.7h0M1043.0 896.5h0M1029.2 971.2h0M1074.8 901.2h0M1070.2 932.4h0M1074.1 944.3h0M1107.3 1033.2h0M1115.2 999.0h0M1056.1 907.8h0M1076.7 971.1h0M1053.1 958.6h0M1118.2 996.5h0M1098.7 948.7h0M1046.4 943.8h0M1100.5 958.4h0M1067.6 892.4h0M1100.3 1026.5h0M1069.0 957.9h0M1011.5 982.1h0M1069.1 939.5h0M1080.8 911.4h0M1028.0 1040.7h0M1100.7 961.0h0M1058.7 929.5h0M1118.4 1000.0h0M1100.8 925.3h0M991.6 1030.3h0M1066.2 946.4h0M1065.6 957.8h0M1076.1 912.9h0M1101.4 927.2h0M1096.8 899.2h0M1067.2 899.8h0M1096.4 900.9h0M1059.9 977.4h0M1054.4 926.6h0M1056.9 927.9h0M1028.9 975.6h0M1054.8 902.4h0M1063.4 897.8h0M1050.6 895.4h0M1073.3 937.4h0M1049.9 946.4h0M1108.0 1025.7h0M1049.5 948.2h0M1055.9 963.8h0M991.2 993.6h0M1076.2 1040.0h0M1097.1 981.1h0M1013.8 985.3h0M1010.2 989.7h0M1049.6 1039.3h0M1018.3 1042.7h0M1106.6 1027.9h0M1096.2 979.3h0M1082.8 977.8h0M1052.3 899.6h0M1061.9 891.1h0M1077.0 974.8h0M1071.5 973.7h0M1028.5 979.0h0M1090.9 1002.3h0M1061.7 1044.9h0M1099.6 1012.9h0M992.3 1016.1h0M1087.2 974.0h0M1101.7 1015.9h0M1055.9 975.0h0M1087.9 995.4h0M1066.0 1045.2h0M982.3 1013.2h0M1023.1 1042.4h0M1093.3 980.1h0M1091.2 998.6h0M1086.4 978.9h0M1066.4 951.4h0M1057.7 889.4h0M1074.1 1040.5h0M1065.8 952.0h0M1056.7 964.9h0M1056.0 897.0h0M1042.6 983.0h0M1057.0 893.3h0M1069.3 1039.4h0M1066.3 981.7h0M1087.7 976.8h0M982.0 1010.8h0M1077.6 1035.7h0M993.0 999.3h0M1003.7 991.8h0M1096.6 1012.7h0M991.2 1013.3h0M997.7 1023.1h0M993.2 1001.6h0M992.7 1021.2h0M1062.3 976.1h0M1078.3 992.6h0M1078.5 987.7h0M988.0 1008.6h0M984.4 1009.4h0M984.8 1011.5h0M995.6 1018.9h0M1094.9 1014.2h0M1082.4 1037.7h0M1088.8 1034.1h0M994.5 1024.6h0M1061.6 1039.5h0M994.6 1026.1h0M1062.8 971.5h0M994.9 1009.4h0M1085.8 1038.8h0M1087.1 999.9h0M1087.2 1009.4h0M1084.4 1038.9h0M1069.8 1033.9h0M1013.6 991.8h0M1038.8 980.7h0M1067.2 1037.6h0M1033.8 1038.6h0M1036.4 981.7h0M1073.6 981.1h0M1092.4 1013.6h0M1057.3 967.6h0M1040.8 987.8h0M1057.8 967.3h0M991.4 1008.2h0M993.1 1007.4h0M1003.3 996.0h0M1001.5 1016.7h0M1057.2 971.8h0M1013.2 997.1h0M1061.2 1038.5h0M1035.5 981.2h0M1053.3 1038.6h0M1000.8 998.7h0M998.1 1006.8h0M1014.9 1033.2h0M1062.3 1034.5h0M999.5 1003.1h0M1025.2 1037.0h0M1009.3 999.3h0M1090.1 1029.7h0M1091.1 1027.5h0M1001.2 996.7h0M1000.0 1013.6h0M1085.2 1030.4h0M1028.1 988.1h0M1035.8 985.9h0M1033.1 983.2h0M1073.7 984.7h0M1095.0 1020.4h0M1005.2 1023.7h0M1082.3 1031.2h0M1022.2 990.1h0M1021.4 988.9h0M1057.9 1033.4h0M1058.4 1035.5h0M1000.9 1007.3h0M1075.2 987.9h0M1075.1 988.2h0M1075.4 1028.9h0M1031.7 985.5h0M1071.9 1030.5h0M998.3 994.9h0M1030.8 986.2h0M1068.5 987.9h0M999.2 996.3h0M1081.4 1026.8h0M1083.5 1029.5h0M1081.6 1027.2h0M1082.3 1027.5h0M1087.9 1027.6h0M1096.0 1021.9h0M1085.2 1023.1h0M1085.8 1001.4h0M1095.6 1021.7h0M1087.7 1015.8h0M1031.9 989.2h0M1018.4 1038.5h0M1020.7 1037.7h0M1025.7 991.0h0M1067.0 1030.6h0M1065.5 1031.9h0M1086.3 1014.7h0M1007.9 1028.4h0M1085.6 1012.6h0M1071.7 987.8h0M1015.7 996.5h0M1072.7 990.6h0M1009.5 1031.3h0M1009.3 1030.5h0M1074.7 994.5h0M1073.4 988.0h0M1085.8 1017.7h0M1081.9 1007.2h0M1087.1 1022.7h0M1091.0 1024.0h0M1048.7 985.3h0M1082.3 999.5h0M1069.4 994.9h0M1004.2 1014.2h0M1069.1 990.0h0M1006.1 1025.9h0M1018.9 1036.1h0M1069.8 988.4h0M1019.8 1036.0h0M1008.5 1024.6h0M1052.9 1035.7h0M1052.0 1034.0h0M1007.5 1025.5h0M1045.4 1035.5h0M1043.5 1034.6h0M1021.9 1033.4h0M1071.5 992.0h0M1060.3 1029.7h0M1017.1 1032.6h0M1010.7 1003.2h0M1076.0 1025.6h0M1009.1 1002.9h0M1082.2 1004.6h0M1005.0 1007.7h0M1005.2 1008.0h0M1005.5 1008.0h0M1067.0 993.5h0M1069.0 991.6h0M1081.8 1015.1h0M1042.7 990.6h0M1043.7 988.8h0M1008.1 1004.2h0M1007.0 1020.6h0M1055.4 1030.3h0M1007.1 1004.0h0M1039.3 1034.4h0M1040.8 994.1h0M1010.9 1029.2h0M1067.6 999.0h0M1010.6 1028.1h0M1083.0 1001.4h0M1057.1 991.0h0M1073.7 999.6h0M1058.1 988.7h0M1059.3 990.4h0M1058.7 989.2h0M1010.1 1026.0h0M1013.0 1022.2h0M1012.3 1018.7h0M1011.0 1024.4h0M1015.1 1027.6h0M1015.8 1027.5h0M1007.5 1017.3h0M1008.1 1012.4h0M1063.2 991.7h0M1064.9 993.9h0M1008.0 1017.3h0M1008.2 1017.2h0M1006.7 1006.6h0M1061.6 992.6h0M1025.2 1033.0h0M1062.3 991.4h0M1024.0 1032.6h0M1078.4 998.2h0M1080.5 999.3h0M1076.4 999.2h0M1025.2 994.0h0M1070.3 1002.0h0M1068.4 1002.7h0M1016.2 1024.4h0M1056.2 989.8h0M1022.6 1031.2h0M1013.9 1016.7h0M1015.9 1026.4h0M1015.4 1023.4h0M1009.0 1016.3h0M1016.9 1018.0h0M1010.9 1016.7h0M1009.5 1015.3h0M1011.4 1017.4h0M1078.7 1008.1h0M1009.4 1005.2h0M1072.4 1025.7h0M1072.5 1001.9h0M1033.6 997.0h0M1035.9 996.1h0M1011.2 1010.3h0M1032.4 994.2h0M1052.2 989.7h0M1030.1 994.5h0M1069.7 1005.8h0M1078.5 1017.2h0M1079.4 1005.3h0M1058.9 1026.2h0M1064.9 999.3h0M1057.8 1027.2h0M1065.1 999.3h0M1079.5 1004.6h0M1080.0 1016.1h0M1079.2 1017.6h0M1046.7 1032.4h0M1042.8 1031.3h0M1060.4 1024.2h0M1044.1 993.3h0M1010.0 1006.8h0M1009.2 1008.2h0M1010.0 1006.2h0M1048.6 1032.0h0M1048.2 989.1h0M1078.3 1000.9h0M1080.0 1000.5h0M1048.3 988.7h0M1079.4 1000.9h0M1050.3 990.5h0M1030.0 995.1h0M1077.0 1003.1h0M1074.4 1004.1h0M1073.1 1003.2h0M1075.0 1002.3h0M1074.5 1005.5h0M1038.6 995.9h0M1021.0 1024.9h0M1014.7 1005.7h0M1076.3 1004.9h0M1065.8 1003.1h0M1021.5 1028.3h0M1022.0 1027.5h0M1024.0 1030.2h0M1021.2 995.0h0M1012.5 1010.8h0M1077.2 1009.4h0M1077.8 1011.5h0M1040.9 1031.6h0M1040.0 1032.2h0M1060.9 997.9h0M1020.0 999.6h0M1072.8 1008.1h0M1074.8 1007.6h0M1025.8 995.9h0M1058.0 995.2h0M1024.9 995.5h0M1019.5 1022.2h0M1059.8 995.6h0M1059.4 995.6h0M1033.4 1032.3h0M1033.6 1031.7h0M1071.5 1025.7h0M1069.3 1025.9h0M1013.1 1007.9h0M1077.9 1019.4h0M1076.8 1018.4h0M1065.7 1024.8h0M1076.3 1019.5h0M1064.3 1026.0h0M1069.9 1008.0h0M1021.0 1018.5h0M1019.5 1020.7h0M1020.6 1019.0h0M1055.7 1024.8h0M1056.7 1026.6h0M1036.8 1030.9h0M1036.3 1032.4h0M1036.7 1032.9h0M1072.7 1021.9h0M1074.8 1023.0h0M1036.6 1031.8h0M1073.2 1022.9h0M1074.5 1021.4h0M1062.8 1001.0h0M1018.3 1012.4h0M1020.0 1013.9h0M1020.2 1014.5h0M1016.7 1010.6h0M1017.4 1009.5h0M1016.6 1010.2h0M1066.8 1026.9h0M1063.2 1004.1h0M1066.3 1025.8h0M1067.0 1025.0h0M1065.0 1005.3h0M1068.1 1026.1h0M1066.8 1026.5h0M1065.5 1006.1h0M1047.8 992.9h0M1066.4 1006.4h0M1046.9 991.3h0M1051.9 994.1h0M1052.1 991.8h0M1051.1 993.2h0M1053.2 1029.0h0M1051.2 1028.2h0M1056.7 998.9h0M1017.6 1005.3h0M1077.4 1012.7h0M1075.7 1013.2h0M1042.6 995.9h0M1042.1 997.0h0M1076.1 1016.7h0M1027.5 1030.0h0M1048.3 991.5h0M1073.6 1010.5h0M1062.9 1021.5h0M1049.1 993.3h0M1057.1 997.4h0M1059.2 999.7h0M1057.2 998.3h0M1064.4 1006.7h0M1063.8 1009.1h0M1050.5 998.1h0M1057.3 1022.6h0M1029.3 998.7h0M1052.7 996.2h0M1053.3 995.1h0M1022.1 1027.0h0M1055.8 1001.6h0M1019.8 1002.9h0M1018.1 1002.3h0M1063.0 1004.3h0M1063.0 1005.9h0M1044.6 1028.6h0M1053.6 998.0h0M1051.3 1000.1h0M1053.8 997.2h0M1053.3 998.3h0M1048.9 1001.4h0M1039.2 1030.0h0M1041.6 1027.4h0M1071.9 1023.4h0M1070.0 1023.7h0M1017.8 1007.6h0M1015.1 1006.5h0M1016.2 1007.4h0M1015.1 1006.6h0M1064.4 1021.5h0M1064.0 1022.1h0M1020.4 1010.8h0M1033.8 1000.1h0M1022.5 1000.1h0M1054.5 1005.0h0M1021.6 997.7h0M1023.9 999.5h0M1023.9 1000.0h0M1045.5 996.5h0M1046.4 994.4h0M1045.4 996.4h0M1047.2 997.0h0M1055.8 1008.5h0M1059.6 1000.9h0M1057.4 1012.1h0M1054.6 1006.3h0M1054.5 1007.3h0M1057.1 1002.3h0M1059.2 1001.3h0M1056.0 1006.2h0M1059.1 1000.9h0M1068.5 1021.5h0M1030.0 1027.3h0M1058.7 1004.5h0M1060.0 1006.0h0M1032.9 1029.4h0M1032.5 1028.7h0M1030.1 1029.1h0M1057.4 1004.3h0M1072.1 1019.1h0M1047.7 1028.9h0M1046.5 1028.2h0M1026.4 998.3h0M1026.8 997.9h0M1026.1 997.9h0M1022.5 1023.0h0M1024.5 998.3h0M1054.9 1011.5h0M1051.6 1005.1h0M1048.3 1027.9h0M1049.1 1029.5h0M1048.5 1028.8h0M1050.3 1027.9h0M1038.4 1027.8h0M1023.4 1020.3h0M1060.9 1009.6h0M1022.5 1018.4h0M1021.9 1020.8h0M1060.2 1011.5h0M1069.0 1009.9h0M1068.6 1009.7h0M1068.7 1010.3h0M1022.3 1013.8h0M1042.6 998.8h0M1021.9 1013.5h0M1023.8 1014.2h0M1042.4 998.8h0M1063.1 1009.5h0M1063.9 1011.5h0M1035.6 1030.1h0M1074.1 1012.9h0M1063.9 1009.2h0M1034.9 1028.2h0M1073.6 1014.1h0M1049.5 1005.7h0M1075.0 1014.5h0M1063.8 1011.4h0M1073.6 1012.2h0M1019.9 1005.1h0M1018.0 1003.2h0M1020.7 1004.6h0M1020.5 1004.8h0M1047.7 1000.5h0M1047.3 1002.0h0M1047.1 1002.5h0M1052.9 1024.6h0M1036.4 997.6h0M1037.7 997.8h0M1074.5 1017.8h0M1072.8 1016.6h0M1072.4 1018.0h0M1024.9 1025.6h0M1024.4 1024.5h0M1025.7 1026.3h0M1019.0 1007.2h0M1020.9 1007.2h0M1058.4 1012.9h0M1057.6 1013.7h0M1064.1 1019.2h0M1039.9 997.5h0M1064.2 1020.9h0M1040.0 999.0h0M1067.4 1020.9h0M1041.8 999.8h0M1065.2 1018.5h0M1040.0 998.3h0M1066.9 1019.3h0M1061.9 1019.0h0M1061.7 1018.2h0M1052.4 1008.5h0M1022.6 1001.1h0M1053.8 1008.0h0M1022.3 1002.8h0M1052.1 1006.4h0M1070.7 1012.6h0M1071.3 1014.8h0M1069.1 1013.5h0M1063.8 1012.3h0M1060.3 1014.7h0M1060.0 1013.6h0M1028.2 1001.8h0M1052.9 1011.2h0M1055.2 1014.5h0M1071.8 1017.4h0M1069.9 1018.2h0M1057.0 1012.9h0M1066.8 1014.1h0M1066.1 1012.6h0M1057.1 1019.6h0M1057.8 1020.8h0M1057.3 1018.8h0M1066.9 1017.2h0M1068.7 1016.4h0M1065.8 1016.5h0M1063.6 1018.0h0M1032.9 1002.2h0M1032.6 1002.6h0M1032.4 1001.5h0M1039.9 1025.2h0M1041.7 1025.3h0M1029.1 1024.5h0M1029.7 1026.9h0M1027.2 1027.2h0M1029.5 1026.2h0M1025.0 1017.5h0M1025.3 1015.4h0M1055.3 1018.4h0M1046.0 1004.9h0M1056.5 1019.7h0M1061.2 1015.3h0M1061.1 1016.3h0M1042.1 1025.2h0M1061.3 1016.4h0M1060.3 1015.8h0M1058.0 1017.0h0M1052.3 1012.9h0M1043.9 1003.0h0M1054.8 1018.1h0M1059.4 1017.2h0M1056.0 1016.2h0M1053.8 1012.3h0M1055.1 1017.8h0M1054.4 1017.5h0M1036.7 1026.1h0M1036.3 1024.7h0M1025.2 1022.8h0M1026.0 1022.9h0M1027.0 1023.1h0M1032.1 1027.0h0M1030.7 1026.4h0M1024.2 1021.5h0M1026.2 1022.2h0M1024.9 1021.3h0M1053.4 1021.7h0M1052.2 1023.0h0M1051.1 1022.7h0M1023.0 1003.3h0M1050.2 1006.3h0M1050.2 1008.7h0M1049.5 1007.3h0M1049.6 1007.3h0M1053.7 1017.9h0M1053.3 1015.6h0M1034.5 1002.6h0M1034.3 1002.3h0M1034.5 1001.7h0M1025.3 1021.0h0M1025.1 1018.3h0M1035.7 1025.4h0M1034.2 1026.2h0M1026.9 1019.1h0M1033.1 1024.8h0M1026.1 1019.0h0M1035.2 1026.5h0M1033.5 1027.2h0M1048.3 1024.7h0M1050.6 1026.3h0M1048.6 1025.0h0M1050.7 1024.3h0M1024.7 1014.9h0M1046.6 1024.8h0M1023.7 1008.1h0M1027.5 1023.1h0M1022.2 1007.8h0M1021.0 1009.0h0M1048.2 1010.3h0M1048.5 1011.1h0M1053.8 1018.4h0M1052.7 1019.3h0M1051.4 1019.5h0M1051.9 1020.3h0M1028.0 1019.5h0M1028.9 1019.0h0M1049.8 1013.7h0M1049.3 1013.5h0M1049.5 1012.2h0M1035.5 1021.3h0M1034.9 1021.8h0M1031.5 1022.2h0M1032.7 1022.5h0M1049.9 1017.3h0M1049.2 1015.4h0M1039.8 1002.9h0M1041.1 1002.5h0M1039.7 1003.1h0M1043.6 1005.3h0M1043.7 1005.4h0M1028.5 1015.4h0M1027.7 1015.7h0M1036.3 1002.9h0M1037.4 1022.3h0M1026.0 1005.3h0M1038.3 1022.0h0M1032.5 1018.8h0M1038.0 1001.0h0M1036.9 1002.5h0M1038.7 1022.1h0M1037.9 1001.2h0M1024.9 1006.2h0M1038.4 1022.1h0M1024.2 1003.2h0M1029.5 1004.7h0M1027.7 1004.5h0M1027.8 1006.1h0M1027.6 1005.3h0M1024.1 1010.6h0M1025.0 1011.9h0M1024.1 1011.4h0M1040.1 1021.8h0M1027.0 1012.1h0M1046.2 1007.4h0M1045.0 1008.6h0M1046.1 1006.5h0M1045.0 1008.9h0M1034.4 1020.0h0M1031.0 1005.7h0M1034.6 1020.9h0M1030.1 1004.3h0M1032.7 1003.7h0M1033.6 1019.4h0M1050.1 1019.5h0M1050.8 1019.6h0M1050.1 1023.4h0M1050.1 1024.1h0M1046.4 1010.3h0M1046.2 1009.5h0M1045.7 1010.4h0M1046.4 1015.0h0M1046.2 1012.5h0M1046.4 1013.7h0M1024.4 1006.2h0M1025.8 1007.2h0M1026.3 1007.2h0M1025.4 1006.7h0M1025.6 1008.9h0M1042.6 1021.3h0M1043.7 1022.0h0M1042.3 1022.9h0M1044.9 1023.2h0M1035.0 1005.1h0M1044.7 1008.7h0M1046.7 1017.0h0M1047.8 1017.7h0M1035.5 1004.9h0M1043.6 1008.8h0M1045.1 1016.8h0M1037.7 1018.6h0M1030.0 1013.1h0M1028.7 1014.9h0M1027.4 1014.8h0M1028.5 1015.0h0M1036.9 1020.3h0M1044.6 1013.0h0M1042.4 1011.5h0M1043.1 1009.3h0M1043.2 1011.7h0M1045.7 1022.1h0M1046.2 1023.7h0M1046.6 1023.4h0M1045.4 1021.5h0M1047.9 1022.9h0M1045.5 1021.2h0M1031.2 1017.8h0M1032.5 1015.8h0M1031.4 1016.0h0M1047.9 1019.7h0M1039.8 1020.4h0M1040.6 1005.4h0M1040.7 1004.9h0M1040.0 1019.1h0M1040.6 1021.1h0M1040.0 1003.6h0M1039.4 1005.0h0M1039.9 1019.9h0M1042.9 1017.4h0M1042.3 1016.1h0M1044.8 1016.7h0M1028.8 1007.8h0M1029.1 1008.1h0M1029.1 1006.4h0M1029.5 1006.3h0M1031.2 1008.1h0M1030.5 1007.4h0M1043.0 1019.9h0M1043.9 1019.8h0M1044.3 1018.5h0M1042.4 1019.1h0M1042.5 1018.9h0M1037.3 1004.2h0M1034.9 1006.9h0M1037.8 1005.6h0M1030.5 1014.1h0M1037.1 1005.4h0M1036.8 1004.0h0M1031.0 1012.7h0M1038.2 1005.5h0M1038.2 1008.6h0M1038.7 1007.5h0M1038.1 1006.3h0M1038.9 1007.8h0M1039.3 1012.6h0M1041.7 1014.1h0M1040.4 1006.8h0M1039.4 1015.1h0M1040.6 1012.3h0M1039.3 1013.2h0M1040.6 1007.4h0M1034.7 1017.6h0M1038.1 1016.0h0M1041.7 1015.5h0M1039.0 1015.4h0M1034.0 1016.8h0M1033.2 1015.6h0M1037.9 1015.8h0M1037.0 1016.8h0M1037.1 1015.2h0M1033.3 1016.0h0M1029.0 1010.0h0M1027.6 1011.0h0M1028.6 1010.8h0M1027.7 1009.5h0M1039.2 1009.3h0M1040.7 1009.2h0M1040.6 1010.2h0M1037.6 1011.2h0M1036.8 1011.4h0M1041.1 1010.2h0M1036.2 1011.0h0M1041.8 1010.0h0M1034.4 1012.3h0M1033.8 1012.5h0M1035.1 1013.6h0M1035.7 1013.6h0M1030.5 1010.7h0M1032.6 1009.4h0M1032.2 1011.1h0M1033.2 1009.9h0M1034.4 1011.6h0M1033.0 1012.0h0M1034.4 1009.7h0M1035.7 1009.9h0M1033.9 1009.3h0"/>
<path stroke="#ff8c00" stroke-width="1.3" d="M395.2 905.4h0M262.2 924.9h0M388.3 1009.3h0M332.8 926.4h0M359.6 958.5h0M299.8 1002.0h0M322.2 948.6h0M319.3 982.4h0M354.3 986.6h0M298.9 1027.8h0M289.4 1029.2h0M294.2 1007.5h0M298.5 1019.3h0M316.9 991.8h0M352.3 934.7h0M319.1 990.1h0M290.1 1023.3h0M359.4 996.8h0M313.3 1015.2h0M326.2 1025.9h0M331.6 993.0h0M361.2 1014.1h0M352.3 992.6h0M360.6 1011.4h0M346.3 991.2h0M333.6 1015.8h0M342.6 999.9h0M342.6 1006.0h0M347.8 999.4h0M709.3 959.2h0M728.2 918.0h0M746.6 948.9h0M644.1 1040.2h0M686.0 999.7h0M668.3 1009.9h0M719.9 1009.1h0M715.6 1013.9h0M736.1 1034.7h0M735.9 1034.8h0M685.6 1011.3h0M703.7 1014.9h0M642.3 1023.9h0M687.2 1021.4h0M658.1 1034.3h0M666.0 1026.8h0M633.4 1032.2h0M634.9 1025.5h0M730.0 1028.4h0M725.0 1028.0h0M667.5 1027.1h0M657.8 1032.6h0M707.5 1027.2h0M1039.9 954.8h0M1108.4 920.3h0M1097.4 937.2h0M1040.5 943.2h0M1098.2 946.6h0M989.6 1024.8h0M1069.8 977.4h0M994.4 991.9h0M1028.5 984.8h0M1037.0 1038.8h0M999.0 1000.2h0M1022.6 1038.5h0M1086.3 1018.7h0M1053.7 987.8h0M1090.6 1022.4h0M1018.6 991.6h0M1020.9 992.8h0M1053.1 1031.9h0M1031.2 997.2h0M1016.5 1002.3h0M1077.0 1012.3h0M1049.3 993.3h0M1049.9 999.5h0M1051.1 1003.6h0M1070.3 1019.0h0M1070.5 1016.6h0M1067.2 1012.3h0M1057.2 1017.2h0M1053.8 1023.3h0M1049.2 1026.4h0M1046.1 1008.2h0M1047.3 1011.9h0M1031.3 1017.9h0"/>
<path stroke="#ff2000" stroke-width="1.3" d="M341.0 897.9h0M361.3 928.6h0M371.0 1022.6h0M328.8 1033.1h0M345.8 936.0h0M288.9 1028.1h0M322.0 1009.5h0M346.0 991.5h0M350.4 994.5h0M332.7 1011.7h0M330.6 1006.6h0M344.5 1016.3h0M346.6 996.9h0M344.9 1011.3h0M721.3 954.1h0M742.6 1014.1h0M701.7 1008.2h0M665.2 1039.3h0M708.9 1008.3h0M698.0 1015.1h0M719.1 1027.9h0M705.1 1024.2h0M680.0 1026.2h0M702.8 1028.5h0M956.2 907.3h0M1090.7 912.2h0M1078.2 917.3h0M1049.1 906.1h0M1043.6 968.9h0M1062.7 987.6h0M1090.1 1021.6h0M1082.0 1013.6h0M1049.0 997.4h0M1062.7 1007.0h0M1022.9 1000.2h0M1025.7 1000.9h0M1043.7 1003.1h0M1031.7 1017.6h0M1047.4 1020.9h0M1043.1 1019.0h0"/>
<path stroke="#0000d0" stroke-width="1.45" d="M367.3 235.1h0M286.4 196.2h0M345.3 97.5h0M367.0 299.5h0M345.6 247.7h0M308.1 146.4h0M353.5 237.9h0M340.8 81.1h0M293.4 262.4h0M325.0 286.4h0M346.0 119.0h0M355.7 81.9h0M359.8 116.3h0M332.6 81.9h0M323.2 267.0h0M259.2 72.7h0M329.8 173.6h0M284.0 233.4h0M352.5 97.9h0M357.3 91.2h0M306.8 161.9h0M304.6 157.2h0M325.8 162.2h0M348.0 291.1h0M350.1 285.4h0M342.8 231.6h0M346.4 225.9h0M256.8 281.1h0M283.4 176.3h0M292.1 159.8h0M315.9 71.9h0M289.8 227.5h0M316.2 234.3h0M358.0 291.1h0M316.8 146.2h0M313.5 131.7h0M364.8 292.2h0M379.7 271.9h0M326.0 116.7h0M295.8 178.4h0M304.9 200.0h0M325.5 103.4h0M322.2 156.6h0M283.1 160.7h0M288.0 146.6h0M324.5 110.6h0M294.3 225.3h0M296.3 250.4h0M273.9 72.6h0M303.3 203.7h0M318.3 125.0h0M316.5 154.8h0M302.5 131.5h0M317.0 203.7h0M327.7 229.5h0M323.3 181.0h0M326.6 131.2h0M311.2 72.8h0M307.7 174.8h0M314.5 258.1h0M323.7 136.0h0M314.5 243.9h0M304.3 170.6h0M297.4 173.8h0M291.5 241.8h0M314.4 247.3h0M313.2 172.9h0M316.9 103.3h0M373.2 271.3h0M341.0 105.4h0M342.3 259.6h0M362.7 266.6h0M309.2 235.5h0M317.2 178.9h0M324.2 226.9h0M320.6 173.9h0M300.8 228.1h0M290.8 152.3h0M319.0 130.2h0M321.9 237.8h0M321.9 245.5h0M344.0 269.5h0M313.6 82.6h0M353.7 277.1h0M355.5 258.4h0M312.2 214.5h0M299.0 245.1h0M338.4 108.0h0M307.7 126.0h0M363.8 267.5h0M321.5 227.0h0M309.7 106.3h0M296.6 143.2h0M330.8 104.2h0M276.5 225.6h0M280.5 165.0h0M305.5 222.2h0M324.3 215.6h0M317.8 259.8h0M318.8 208.4h0M304.4 75.7h0M285.9 70.3h0M297.1 149.8h0M309.4 122.1h0M277.9 222.8h0M361.0 278.5h0M280.8 171.9h0M352.5 258.4h0M305.2 233.8h0M333.7 105.5h0M339.2 243.0h0M354.2 272.1h0M307.2 221.2h0M367.4 281.2h0M353.9 271.6h0M299.1 237.0h0M327.9 238.2h0M318.4 97.5h0M328.6 236.2h0M368.7 270.8h0M320.1 97.3h0M294.5 148.1h0M304.1 60.5h0M342.1 263.4h0M341.6 263.1h0M247.2 175.4h0M311.1 216.8h0M301.2 241.9h0M363.8 283.4h0M302.1 65.4h0M293.7 64.3h0M304.5 61.3h0M311.8 219.2h0M350.7 262.4h0M296.4 134.1h0M298.0 77.3h0M296.8 135.9h0M334.2 249.4h0M326.7 214.1h0M300.7 124.7h0M345.6 268.7h0M366.4 276.3h0M348.9 265.2h0M302.5 63.2h0M324.8 209.8h0M290.7 140.8h0M366.2 277.2h0M307.4 117.2h0M332.6 244.4h0M323.0 211.2h0M284.7 74.6h0M322.2 248.7h0M287.4 78.3h0M298.0 124.8h0M293.0 130.3h0M304.5 79.2h0M290.9 70.7h0M276.9 165.9h0M295.2 68.7h0M285.9 122.3h0M298.2 240.5h0M288.3 130.0h0M288.9 128.7h0M300.3 81.5h0M286.0 137.9h0M323.0 255.0h0M323.6 255.3h0M287.6 138.5h0M273.7 79.5h0M306.1 120.6h0M282.0 97.1h0M310.7 95.7h0M292.6 65.9h0M322.2 253.4h0M246.6 237.4h0M281.3 131.7h0M335.4 247.4h0M279.7 93.2h0M279.4 78.3h0M295.8 65.4h0M334.1 246.1h0M312.9 92.8h0M283.7 137.3h0M298.1 85.4h0M274.0 239.8h0M305.9 83.8h0M265.3 277.1h0M283.4 98.6h0M309.7 84.8h0M310.0 84.9h0M278.9 82.1h0M291.0 82.1h0M279.1 80.0h0M302.1 95.3h0M303.2 91.6h0M273.7 205.3h0M291.6 85.5h0M287.3 105.5h0M308.0 111.5h0M308.2 111.5h0M278.3 144.9h0M298.7 90.5h0M280.2 98.9h0M292.1 121.8h0M259.6 276.6h0M279.1 117.1h0M309.3 88.9h0M310.8 90.7h0M284.3 81.8h0M301.5 104.3h0M289.9 103.5h0M270.7 267.5h0M273.5 191.5h0M306.0 107.4h0M304.1 109.7h0M301.4 115.4h0M298.0 117.9h0M299.0 117.8h0M277.0 131.2h0M288.6 120.3h0M289.7 84.5h0M280.8 113.6h0M252.1 116.3h0M251.0 130.5h0M250.0 118.4h0M282.5 117.0h0M290.3 97.2h0M309.2 94.5h0M294.7 91.6h0M308.1 92.5h0M304.4 110.2h0M308.0 92.1h0M283.6 87.9h0M283.7 87.0h0M283.2 86.4h0M307.9 91.0h0M276.1 174.1h0M273.7 173.9h0M273.9 180.9h0M300.2 97.3h0M284.5 106.1h0M291.0 88.2h0M299.1 100.0h0M274.9 88.9h0M275.9 197.0h0M292.1 108.7h0M294.0 108.7h0M297.6 106.1h0M287.1 87.1h0M287.3 87.2h0M273.5 178.0h0M291.4 90.3h0M277.8 140.9h0M252.2 198.7h0M277.5 141.4h0M251.0 107.6h0M292.5 118.7h0M274.3 91.2h0M295.9 106.7h0M283.7 108.4h0M280.2 111.1h0M277.1 136.4h0M296.2 102.3h0M296.6 101.0h0M251.8 155.2h0M297.5 110.2h0M288.3 117.7h0M299.2 111.5h0M287.4 111.4h0M292.7 99.2h0M295.6 111.3h0M291.1 117.7h0M296.0 112.9h0M295.3 111.7h0M292.5 92.1h0M285.0 112.1h0M292.2 93.5h0M280.1 106.3h0M293.5 93.2h0M295.6 99.9h0M296.8 101.0h0M292.7 96.4h0M291.7 97.4h0M288.0 114.5h0M286.2 113.4h0M248.5 258.3h0M290.5 114.3h0M290.2 113.1h0M290.4 113.3h0M253.6 85.6h0M269.4 82.1h0M251.6 200.1h0M273.3 98.8h0M274.8 120.6h0M270.5 187.9h0M273.7 120.6h0M271.6 213.8h0M271.5 85.2h0M251.4 203.1h0M271.6 250.8h0M278.6 108.1h0M277.9 107.3h0M256.9 80.2h0M276.8 109.4h0M277.3 109.7h0M262.6 274.5h0M271.6 184.6h0M272.1 188.1h0M279.2 105.8h0M278.2 105.4h0M270.6 203.2h0M268.0 268.3h0M273.9 134.5h0M273.4 134.7h0M275.1 134.5h0M274.0 134.9h0M270.6 236.0h0M274.1 141.3h0M273.6 101.3h0M272.2 179.4h0M275.4 103.4h0M254.6 88.9h0M254.3 86.8h0M271.4 178.2h0M272.0 178.6h0M270.8 172.1h0M271.5 193.5h0M274.2 106.9h0M253.8 178.8h0M254.2 90.2h0M254.6 90.7h0M254.2 196.0h0M254.0 190.6h0M254.0 188.4h0M266.4 81.3h0M273.3 224.7h0M252.2 227.2h0M270.5 162.6h0M253.7 97.8h0M253.9 95.4h0M255.2 120.0h0M271.6 90.6h0M270.4 91.7h0M272.3 201.8h0M260.6 82.1h0M260.7 80.8h0M260.2 81.5h0M260.9 81.9h0M270.3 196.9h0M270.4 202.7h0M254.7 114.6h0M254.8 115.1h0M259.7 82.9h0M254.4 175.1h0M253.6 174.1h0M266.1 271.7h0M266.4 271.2h0M267.1 269.6h0M253.4 127.1h0M254.9 126.1h0M272.8 93.5h0M253.9 127.9h0M263.3 80.5h0M254.1 132.2h0M256.8 85.6h0M273.3 166.7h0M273.1 164.8h0M254.2 213.5h0M253.3 209.4h0M254.0 98.6h0M252.4 100.9h0M254.7 210.7h0M252.5 211.5h0M254.5 152.6h0M254.3 149.4h0M252.9 109.7h0M253.7 109.6h0M273.2 220.3h0M271.0 219.1h0M253.1 170.8h0M268.0 85.5h0M267.3 83.6h0M253.9 170.6h0M254.0 155.2h0M271.1 95.2h0M253.7 155.3h0M253.5 160.7h0M254.9 105.8h0M268.9 210.4h0M253.7 159.4h0M252.6 158.8h0M253.1 105.0h0M271.1 130.3h0M253.9 164.0h0M253.3 163.7h0M253.0 148.3h0M254.5 162.7h0M255.2 165.3h0M272.0 125.1h0M254.7 207.4h0M270.6 100.8h0M252.3 167.9h0M254.7 168.7h0M272.7 131.2h0M254.5 167.1h0M270.5 152.8h0M271.4 154.7h0M253.8 144.0h0M255.2 146.0h0M254.9 144.7h0M254.3 144.8h0M254.6 202.1h0M253.5 200.5h0M256.9 271.7h0M257.0 269.8h0M270.4 122.3h0M272.6 122.5h0M272.9 122.4h0M253.2 203.4h0M255.1 205.6h0M270.3 102.7h0M251.3 244.6h0M270.5 104.9h0M271.5 106.2h0M271.3 105.1h0M270.8 106.6h0M270.4 138.3h0M271.4 139.4h0M271.3 139.9h0M271.0 149.2h0M271.1 149.2h0M261.9 271.2h0M263.1 269.4h0M271.1 142.9h0M271.6 141.6h0M270.4 142.7h0M268.7 182.9h0M268.9 182.1h0M257.0 88.0h0M257.3 87.6h0M257.4 88.6h0M256.1 87.0h0M267.5 88.2h0M269.9 87.8h0M267.7 88.8h0M259.0 85.0h0M260.2 84.0h0M272.1 112.8h0M271.3 110.5h0M271.7 121.5h0M273.0 148.0h0M271.7 147.6h0M266.2 84.4h0M265.3 85.5h0M265.3 83.3h0M266.1 85.7h0M265.2 83.6h0M267.2 268.4h0M264.7 266.2h0M266.2 267.0h0M271.5 118.3h0M273.0 116.5h0M268.7 234.9h0M267.5 212.4h0M270.3 180.9h0M269.0 180.8h0M269.5 181.6h0M267.8 213.5h0M272.8 113.8h0M253.7 266.2h0M270.8 113.8h0M255.1 268.2h0M269.2 189.9h0M269.4 190.6h0M268.1 261.9h0M267.4 260.1h0M269.8 189.7h0M256.9 91.8h0M256.9 90.1h0M259.7 270.5h0M260.4 271.5h0M259.5 271.3h0M259.3 269.6h0M260.3 269.2h0M261.8 85.2h0M262.2 84.7h0M261.9 84.6h0M268.0 232.5h0M270.1 230.1h0M267.3 232.1h0M268.7 227.3h0M268.4 229.4h0M254.0 219.6h0M269.0 89.5h0M267.6 238.5h0M257.7 93.3h0M258.0 94.6h0M254.4 221.0h0M258.0 93.2h0M269.1 91.3h0M270.0 91.6h0M257.4 92.5h0M252.6 218.6h0M269.2 238.6h0M257.6 122.2h0M255.9 122.6h0M257.5 123.2h0M255.8 122.8h0M256.4 119.9h0M257.8 119.1h0M258.2 126.0h0M255.8 126.0h0M257.6 125.5h0M255.8 127.3h0M257.9 209.8h0M257.1 211.3h0M257.4 209.6h0M257.5 210.7h0M264.8 207.2h0M265.6 207.2h0M264.9 206.1h0M261.2 88.8h0M268.5 192.4h0M266.9 87.2h0M268.9 92.0h0M269.9 93.3h0M266.6 86.1h0M268.3 174.2h0M258.0 154.3h0M269.1 200.3h0M258.1 152.2h0M258.2 153.9h0M256.3 152.2h0M256.4 153.6h0M270.0 202.7h0M269.1 200.3h0M268.5 157.0h0M268.2 157.6h0M267.6 157.8h0M257.7 194.0h0M256.0 157.6h0M256.4 180.3h0M255.9 180.1h0M264.7 209.4h0M256.1 206.4h0M256.4 206.8h0M257.9 206.2h0M269.2 216.1h0M267.3 217.5h0M256.5 195.3h0M257.5 150.4h0M268.4 160.9h0M257.5 149.9h0M258.1 117.8h0M258.1 150.4h0M269.0 158.3h0M257.8 149.1h0M256.3 116.6h0M257.8 182.4h0M257.6 183.4h0M257.7 183.1h0M256.9 184.3h0M258.2 130.2h0M258.1 114.6h0M257.1 177.8h0M257.0 114.6h0M255.3 98.9h0M257.6 100.8h0M258.1 98.7h0M269.5 240.8h0M254.5 235.1h0M255.0 233.5h0M257.3 190.5h0M256.8 189.2h0M258.3 214.5h0M257.2 188.2h0M256.5 212.7h0M254.0 233.3h0M269.7 241.1h0M254.9 233.5h0M268.1 239.4h0M255.1 231.2h0M256.4 186.4h0M254.9 231.0h0M257.6 185.4h0M257.7 159.6h0M255.9 186.3h0M255.1 230.5h0M257.6 186.2h0M268.7 258.5h0M257.8 109.8h0M257.3 107.8h0M268.2 258.8h0M257.2 107.3h0M256.2 107.9h0M268.7 259.5h0M258.2 103.0h0M268.1 105.5h0M256.9 102.8h0M256.5 103.2h0M255.4 103.7h0M257.6 103.2h0M258.3 204.1h0M257.8 199.3h0M257.0 203.2h0M256.8 203.9h0M257.3 111.6h0M257.1 110.7h0M257.9 204.5h0M269.1 194.7h0M257.2 105.6h0M257.9 105.9h0M269.8 194.2h0M268.7 103.9h0M269.2 101.1h0M267.9 103.5h0M269.9 224.1h0M269.7 99.9h0M267.9 226.8h0M267.6 100.3h0M267.3 98.2h0M268.3 224.3h0M268.3 96.0h0M269.5 97.9h0M269.2 96.1h0M268.2 125.4h0M268.1 163.8h0M269.5 161.8h0M269.4 162.3h0M267.4 252.0h0M263.6 86.2h0M263.4 87.2h0M256.4 148.3h0M263.0 86.4h0M257.0 148.9h0M269.2 252.2h0M262.6 88.2h0M267.9 252.2h0M257.6 148.5h0M267.8 138.5h0M267.7 139.5h0M268.6 139.1h0M257.5 131.3h0M256.0 133.3h0M268.6 138.3h0M256.7 133.8h0M253.3 222.1h0M254.0 222.3h0M254.2 224.0h0M268.8 129.0h0M267.6 129.0h0M270.2 128.3h0M269.7 129.5h0M268.0 122.3h0M268.8 124.4h0M252.6 229.5h0M257.8 200.3h0M257.6 201.8h0M255.7 202.5h0M257.8 201.1h0M258.2 201.5h0M257.7 202.3h0M257.3 201.7h0M257.8 161.2h0M256.7 201.2h0M254.0 228.2h0M268.7 200.0h0M269.8 197.1h0M269.8 197.4h0M270.0 197.7h0M269.3 197.2h0M267.5 255.4h0M268.1 256.5h0M265.2 205.8h0M266.8 203.9h0M265.6 203.7h0M266.2 204.1h0M266.1 204.9h0M257.3 136.6h0M269.1 154.2h0M267.7 247.0h0M257.0 135.9h0M268.7 153.6h0M255.5 134.9h0M269.3 152.6h0M257.4 136.6h0M269.0 152.9h0M269.3 152.3h0M269.3 246.1h0M270.1 153.8h0M268.2 247.2h0M269.8 152.7h0M267.4 222.4h0M270.2 223.3h0M267.5 169.1h0M260.1 89.7h0M260.3 90.0h0M269.2 169.6h0M259.4 89.3h0M267.5 169.7h0M270.1 168.2h0M267.3 182.1h0M268.1 132.5h0M262.0 266.9h0M269.8 132.9h0M267.6 133.4h0M251.3 248.6h0M252.2 250.3h0M270.0 243.4h0M255.8 143.5h0M269.6 243.3h0M256.5 143.4h0M255.9 144.6h0M257.6 172.9h0M257.2 165.6h0M257.9 172.3h0M255.9 171.7h0M268.5 165.1h0M267.5 166.1h0M267.8 166.0h0M270.0 107.4h0M268.7 166.1h0M269.4 109.9h0M268.3 219.6h0M268.4 219.0h0M268.7 220.8h0M267.4 218.5h0M267.4 219.1h0M268.3 219.1h0M254.6 226.7h0M254.9 224.8h0M258.2 139.7h0M256.4 137.5h0M258.1 139.9h0M256.8 138.8h0M257.9 137.8h0M256.8 142.6h0M256.6 141.4h0M256.6 142.5h0M257.5 142.3h0M256.4 142.9h0M270.0 144.4h0M268.1 144.0h0M268.3 143.9h0M267.6 145.7h0M268.4 144.7h0M266.3 265.7h0M261.3 208.6h0M266.6 264.1h0M265.9 263.2h0M266.1 91.1h0M266.7 91.6h0M256.4 169.6h0M260.9 210.3h0M265.1 89.7h0M266.6 186.4h0M264.6 185.5h0M266.0 186.4h0M259.1 211.3h0M260.8 209.9h0M256.0 168.4h0M258.7 209.3h0M256.8 168.1h0M259.8 210.5h0M255.8 168.9h0M257.1 167.2h0M257.9 167.9h0M260.6 210.2h0M257.4 216.0h0M257.9 215.8h0M269.9 151.6h0M268.6 149.4h0M264.0 206.0h0M262.7 207.8h0M261.8 206.5h0M263.7 207.1h0M262.9 208.3h0M262.2 208.8h0M269.6 121.4h0M269.1 121.2h0M269.9 121.9h0M268.3 120.4h0M257.7 267.0h0M256.6 266.8h0M263.1 209.1h0M261.5 210.8h0M266.1 213.9h0M265.7 214.6h0M264.6 214.4h0M261.8 209.4h0M263.9 211.4h0M266.5 214.3h0M260.5 205.2h0M260.6 205.4h0M264.5 181.9h0M265.9 179.4h0M265.2 180.5h0M267.3 148.8h0M269.2 146.9h0M268.5 147.5h0M270.2 146.9h0M269.5 146.1h0M267.9 147.7h0M267.8 147.0h0M267.8 148.7h0M259.9 94.9h0M259.6 154.1h0M261.0 94.2h0M268.6 111.6h0M260.1 94.7h0M260.7 152.5h0M269.6 112.3h0M252.2 252.1h0M251.9 253.6h0M260.1 92.3h0M266.2 190.3h0M265.6 190.7h0M260.3 149.7h0M258.7 149.8h0M261.3 123.3h0M260.4 123.5h0M259.4 124.6h0M263.0 203.4h0M260.7 122.1h0M262.8 205.9h0M268.8 118.2h0M268.7 117.9h0M262.9 89.1h0M262.6 89.6h0M262.4 90.9h0M264.2 92.0h0M263.6 90.7h0M264.2 89.4h0M264.3 90.7h0M262.5 89.7h0M255.3 240.5h0M254.1 241.0h0M260.8 127.5h0M259.9 126.6h0M264.9 94.7h0M264.4 94.2h0M252.3 254.7h0M252.0 256.1h0M264.3 94.4h0M265.5 94.1h0M259.8 157.6h0M259.4 155.2h0M259.2 156.3h0M260.6 155.2h0M260.9 157.9h0M259.1 155.8h0M266.1 155.8h0M266.2 157.3h0M264.9 156.9h0M267.1 157.2h0M253.7 265.3h0M254.3 263.9h0M254.7 263.3h0M252.9 264.6h0M266.1 200.7h0M266.0 201.5h0M264.5 201.4h0M265.4 201.8h0M258.4 120.9h0M260.5 119.1h0M260.5 120.1h0M260.9 182.8h0M260.7 183.0h0M259.9 183.7h0M268.0 115.6h0M267.5 115.9h0M267.7 114.8h0M269.2 113.5h0M269.2 113.6h0M268.2 114.8h0M267.7 114.0h0M269.7 113.2h0M260.6 214.0h0M260.8 214.1h0M258.3 213.6h0M264.5 154.5h0M264.8 154.0h0M267.2 153.0h0M265.6 153.4h0M260.2 268.0h0M258.6 267.6h0M260.6 200.3h0M260.4 96.6h0M258.7 95.5h0M260.6 202.0h0M259.9 266.7h0M260.0 202.1h0M260.3 96.4h0M260.1 97.3h0M260.3 202.5h0M258.5 266.9h0M260.7 268.0h0M259.5 186.7h0M261.0 185.4h0M260.7 185.9h0M260.6 187.2h0M266.7 102.4h0M265.1 102.7h0M259.2 103.6h0M261.1 102.7h0M266.9 103.8h0M258.7 101.6h0M264.6 101.6h0M265.4 103.6h0M259.6 148.4h0M259.5 147.6h0M260.9 148.5h0M259.1 146.2h0M260.4 146.5h0M260.5 146.9h0M266.1 104.1h0M267.2 177.5h0M266.6 178.8h0M266.1 177.2h0M265.6 176.5h0M265.4 106.5h0M265.8 178.6h0M266.4 104.3h0M265.3 105.8h0M259.3 99.5h0M259.2 100.7h0M258.7 98.6h0M258.4 99.3h0M259.2 98.9h0M259.6 98.7h0M260.7 99.3h0M261.1 100.1h0M258.8 106.8h0M264.5 235.0h0M266.0 235.5h0M266.0 234.0h0M260.9 105.7h0M260.3 105.8h0M265.0 233.2h0M264.5 159.2h0M267.2 160.1h0M266.7 99.0h0M264.5 98.2h0M265.8 100.2h0M260.5 181.7h0M265.1 100.9h0M258.8 179.2h0M260.9 180.3h0M260.3 180.5h0M260.7 179.6h0M264.3 98.4h0M262.7 182.7h0M263.8 182.9h0M266.0 150.4h0M264.4 149.4h0M266.4 150.7h0M262.6 184.1h0M267.2 149.8h0M263.0 183.2h0M263.1 184.0h0M267.2 231.9h0M264.6 231.0h0M264.5 230.1h0M266.2 232.7h0M266.7 230.0h0M267.3 231.6h0M260.7 189.8h0M265.8 127.1h0M259.2 189.4h0M266.1 126.9h0M265.6 127.3h0M266.8 125.6h0M266.0 127.7h0M259.9 190.1h0M260.2 189.1h0M265.2 126.9h0M263.6 93.4h0M261.7 93.2h0M262.7 92.1h0M262.4 93.9h0M263.8 93.6h0M267.3 124.3h0M266.1 122.4h0M267.2 123.3h0M266.2 124.5h0M266.5 122.4h0M265.2 124.6h0M260.7 161.0h0M264.3 215.2h0M260.6 160.9h0M266.6 216.0h0M267.2 215.9h0M261.2 159.8h0M259.0 160.3h0M264.5 217.5h0M259.6 159.5h0M265.0 217.5h0M259.8 160.9h0M267.1 217.9h0M267.1 97.2h0M266.0 95.9h0M265.6 97.1h0M265.7 97.9h0M265.0 97.7h0M258.6 108.5h0M265.0 96.1h0M264.7 97.5h0M258.3 108.8h0M259.2 107.6h0M260.6 130.6h0M262.6 152.1h0M262.1 154.2h0M263.2 152.3h0M260.2 131.0h0M258.6 129.5h0M262.9 154.6h0M261.3 129.4h0M260.6 128.9h0M260.8 128.3h0M261.7 152.2h0M266.4 192.1h0M266.3 191.3h0M264.4 191.0h0M264.7 191.4h0M265.9 193.6h0M265.8 193.1h0M264.8 192.9h0M265.6 140.7h0M266.4 141.4h0M264.5 143.0h0M265.6 142.1h0M265.5 227.6h0M262.0 156.0h0M262.0 155.9h0M261.5 155.0h0M259.8 197.3h0M259.5 197.7h0M258.8 197.7h0M260.3 198.2h0M258.6 199.7h0M265.5 138.8h0M260.9 143.8h0M265.2 137.8h0M261.0 144.9h0M265.4 137.1h0M259.4 144.4h0M258.9 143.2h0M267.2 137.3h0M266.2 137.5h0M262.6 213.6h0M263.5 212.1h0M262.6 212.1h0M261.9 213.3h0M262.6 213.3h0M263.6 213.5h0M263.0 213.2h0M264.1 213.9h0M262.9 213.5h0M263.8 213.8h0M264.0 122.8h0M263.8 122.8h0M261.7 123.0h0M263.0 124.7h0M261.3 123.8h0M258.8 196.1h0M260.7 196.1h0M260.5 196.9h0M258.7 195.1h0M259.3 195.3h0M261.2 192.2h0M258.6 191.5h0M266.0 143.8h0M264.8 145.4h0M259.9 191.7h0M260.9 192.4h0M259.2 193.7h0M261.1 191.6h0M265.5 145.8h0M264.3 145.3h0M259.3 191.5h0M263.7 125.7h0M262.4 126.7h0M262.2 151.1h0M258.4 117.6h0M263.1 149.4h0M259.8 117.1h0M260.8 116.8h0M260.1 117.7h0M262.5 151.3h0M263.4 151.7h0M259.1 118.3h0M260.7 116.6h0M259.3 117.2h0M259.4 117.1h0M263.3 186.0h0M262.4 185.6h0M263.1 185.6h0M261.7 185.3h0M263.4 187.9h0M263.4 186.8h0M264.6 194.4h0M265.8 195.3h0M261.6 185.5h0M261.6 186.3h0M259.3 115.9h0M258.3 115.7h0M266.7 199.0h0M266.2 198.6h0M265.2 147.6h0M264.0 202.3h0M262.3 201.4h0M264.8 199.5h0M261.5 201.4h0M263.0 200.4h0M265.7 198.1h0M264.0 202.0h0M266.3 147.3h0M266.6 146.8h0M264.5 148.3h0M266.1 199.3h0M261.5 201.1h0M262.3 202.5h0M265.0 198.0h0M261.8 200.4h0M264.6 146.0h0M267.1 147.6h0M265.6 197.0h0M264.4 197.9h0M258.2 220.6h0M259.8 176.1h0M262.8 103.2h0M264.3 129.5h0M260.9 141.5h0M264.9 130.2h0M262.7 103.0h0M259.2 177.5h0M259.9 140.3h0M258.2 218.2h0M266.0 129.9h0M255.9 219.1h0M260.9 140.1h0M262.4 103.0h0M261.4 102.5h0M260.3 176.7h0M257.1 220.1h0M261.3 176.5h0M264.3 129.3h0M255.9 220.6h0M259.4 142.9h0M261.2 176.8h0M260.8 179.0h0M265.3 128.1h0M259.7 142.7h0M262.2 102.0h0M265.3 175.2h0M265.7 174.0h0M264.0 181.8h0M262.0 181.2h0M261.5 181.1h0M263.8 179.3h0M262.0 179.6h0M264.0 181.0h0M265.0 163.4h0M260.9 110.4h0M267.0 161.3h0M258.4 110.7h0M259.5 111.7h0M259.7 112.7h0M265.5 163.2h0M259.2 110.9h0M266.6 161.3h0M265.2 161.5h0M259.8 111.3h0M261.6 105.9h0M263.0 105.0h0M263.5 106.9h0M262.1 106.3h0M261.4 106.4h0M263.3 104.4h0M262.2 104.4h0M264.3 99.2h0M263.9 100.2h0M260.8 137.6h0M264.5 109.9h0M261.3 138.4h0M266.9 109.4h0M266.1 107.3h0M261.1 139.1h0M258.9 137.3h0M264.6 107.2h0M266.3 109.4h0M260.6 137.1h0M264.5 108.3h0M264.4 107.4h0M259.3 139.4h0M264.7 121.5h0M264.5 120.0h0M267.0 121.6h0M265.6 121.4h0M264.6 119.1h0M264.5 121.7h0M265.2 120.2h0M266.4 121.4h0M259.1 163.3h0M260.6 161.3h0M258.9 162.4h0M265.5 136.2h0M267.3 134.0h0M266.0 134.1h0M265.5 136.9h0M266.1 136.3h0M264.7 135.4h0M265.4 135.7h0M266.0 136.4h0M258.8 161.3h0M260.1 161.2h0M259.0 132.0h0M261.1 133.2h0M259.6 131.0h0M260.6 133.2h0M260.8 133.7h0M260.5 131.9h0M258.5 133.8h0M262.3 95.7h0M264.1 95.6h0M263.8 95.7h0M260.0 215.3h0M263.9 95.5h0M260.4 216.4h0M260.7 217.8h0M261.7 95.1h0M263.0 95.9h0M261.3 97.6h0M263.0 95.5h0M261.7 97.3h0M264.0 121.0h0M263.9 120.7h0M263.5 120.1h0M263.6 121.4h0M262.9 120.4h0M263.3 190.8h0M262.8 189.0h0M253.7 244.8h0M262.4 189.8h0M254.1 242.9h0M264.1 189.5h0M255.3 242.6h0M255.3 244.0h0M253.7 244.2h0M262.9 189.3h0M262.6 190.3h0M264.0 189.3h0M258.8 134.1h0M260.9 135.8h0M260.3 135.0h0M261.3 135.8h0M258.9 135.8h0M266.0 171.4h0M266.3 170.6h0M264.5 170.7h0M265.0 171.9h0M265.7 172.2h0M265.6 172.4h0M266.8 170.4h0M265.6 131.4h0M258.0 235.7h0M256.9 231.9h0M264.5 132.5h0M257.4 230.7h0M256.5 235.8h0M264.9 132.8h0M266.4 133.3h0M265.2 131.9h0M266.6 131.6h0M266.0 131.8h0M258.1 233.9h0M266.2 131.3h0M256.2 231.9h0M266.5 237.3h0M265.4 236.4h0M266.0 262.3h0M265.0 238.5h0M264.8 262.0h0M264.8 260.6h0M264.7 262.0h0M266.1 261.9h0M264.5 237.2h0M260.5 166.5h0M260.1 165.0h0M258.7 165.7h0M259.2 164.1h0M261.1 166.4h0M261.1 166.3h0M259.2 166.0h0M261.6 146.8h0M264.1 147.2h0M259.8 174.1h0M262.9 146.0h0M259.7 173.7h0M264.1 147.0h0M258.3 174.2h0M258.3 175.9h0M261.0 175.5h0M261.1 173.8h0M262.0 148.3h0M264.1 158.9h0M262.8 159.7h0M262.4 158.9h0M262.3 160.4h0M263.3 159.5h0M261.6 158.7h0M265.7 169.1h0M264.8 168.1h0M265.5 168.7h0M266.6 168.2h0M266.3 165.5h0M265.0 166.7h0M266.1 165.5h0M266.1 164.2h0M267.2 166.0h0M265.1 165.6h0M262.8 143.0h0M260.8 170.1h0M263.3 144.6h0M263.3 143.1h0M261.0 171.8h0M263.2 143.1h0M261.4 144.3h0M263.9 143.8h0M261.3 144.9h0M259.9 168.5h0M260.6 168.4h0M259.9 169.8h0M264.1 141.1h0M264.6 226.3h0M263.3 142.9h0M265.1 226.2h0M266.3 225.4h0M263.4 142.3h0M261.5 141.2h0M266.1 226.3h0M264.3 142.0h0M262.5 141.4h0M263.4 109.0h0M263.6 107.3h0M264.0 109.1h0M262.9 128.2h0M262.3 130.6h0M262.2 130.5h0M263.2 128.5h0M261.6 129.3h0M262.3 129.1h0M263.7 131.0h0M262.7 130.6h0M262.2 128.2h0M263.1 139.7h0M261.4 138.4h0M264.3 139.0h0M261.3 137.7h0M264.9 219.8h0M264.5 218.5h0M265.1 218.3h0M264.5 222.5h0M266.5 221.1h0M264.9 223.1h0M266.9 221.2h0M265.2 223.1h0M267.0 222.4h0M264.3 223.7h0M265.4 221.2h0M262.5 217.0h0M261.7 217.1h0M262.0 216.7h0M262.0 215.2h0M257.7 227.7h0M257.3 227.2h0M257.2 229.0h0M257.6 227.4h0M256.2 227.1h0M255.6 229.0h0M257.5 228.0h0M264.4 116.6h0M261.5 200.0h0M263.6 199.9h0M262.6 197.4h0M264.1 199.8h0M266.2 117.6h0M261.8 199.7h0M261.7 197.5h0M266.3 117.5h0M263.9 199.3h0M263.2 198.8h0M264.2 199.5h0M262.8 178.4h0M263.1 178.5h0M263.0 176.7h0M261.4 176.8h0M263.9 178.0h0M262.9 176.0h0M264.0 176.4h0M262.5 192.0h0M266.5 112.9h0M265.0 111.8h0M261.9 192.9h0M264.9 111.9h0M263.3 193.1h0M266.5 112.9h0M263.4 191.8h0M266.6 110.9h0M261.7 193.3h0M263.7 193.3h0M261.9 192.8h0M262.1 191.6h0M263.6 193.5h0M264.4 110.8h0M263.9 192.6h0M266.8 111.8h0M264.3 112.2h0M263.3 194.9h0M262.0 195.9h0M262.2 195.5h0M262.5 196.6h0M261.6 196.7h0M263.0 195.0h0M263.3 196.0h0M262.6 264.5h0M264.2 263.3h0M262.4 265.6h0M257.3 223.2h0M257.4 223.9h0M258.1 223.8h0M256.7 223.4h0M257.8 223.5h0M255.7 221.2h0M261.6 135.1h0M261.7 135.9h0M262.8 134.9h0M263.1 136.7h0M263.4 136.8h0M262.2 131.9h0M264.0 132.3h0M264.1 132.0h0M262.3 133.9h0M264.1 131.2h0M262.5 131.6h0M262.7 131.7h0M261.8 131.3h0M263.5 162.7h0M257.5 239.0h0M257.2 238.9h0M261.9 162.5h0M263.1 163.4h0M263.9 161.6h0M258.0 237.3h0M261.4 162.5h0M261.4 162.9h0M261.5 162.2h0M256.5 237.0h0M261.5 162.6h0M264.3 161.5h0M262.3 163.0h0M262.2 116.4h0M263.2 118.6h0M263.5 117.5h0M262.2 117.5h0M263.7 117.3h0M263.4 117.8h0M264.5 115.3h0M265.9 114.8h0M265.8 113.8h0M266.0 114.6h0M266.1 113.5h0M265.9 114.5h0M265.9 113.0h0M265.5 241.4h0M267.0 239.3h0M266.0 241.8h0M265.0 240.0h0M261.3 111.7h0M263.5 111.9h0M261.8 112.5h0M263.5 112.8h0M263.7 112.5h0M263.5 111.6h0M263.2 112.0h0M262.7 111.4h0M261.4 110.4h0M263.3 112.5h0M264.3 110.1h0M261.6 115.9h0M262.4 113.8h0M262.6 113.3h0M261.6 113.1h0M263.3 115.0h0M262.0 115.9h0M262.0 115.8h0M257.6 224.5h0M257.9 225.3h0M256.6 225.0h0M255.4 224.2h0M258.3 225.7h0M255.6 224.7h0M257.2 224.1h0M258.1 226.8h0M262.6 235.6h0M263.7 234.6h0M264.0 234.4h0M263.2 234.0h0M264.3 233.5h0M261.6 234.7h0M263.3 174.4h0M261.4 174.5h0M261.8 175.0h0M263.3 174.3h0M263.4 174.8h0M264.3 174.9h0M261.7 174.5h0M264.1 175.0h0M263.7 173.3h0M263.4 173.4h0M262.1 173.6h0M263.6 173.8h0M264.1 174.4h0M263.2 175.5h0M262.9 174.0h0M263.5 165.2h0M261.7 232.9h0M262.7 165.8h0M263.2 233.0h0M263.8 165.0h0M262.5 232.9h0M262.8 166.3h0M261.7 230.7h0M261.7 164.7h0M261.4 231.3h0M261.5 164.4h0M263.8 166.2h0M263.9 232.0h0M264.0 165.1h0M255.0 260.7h0M261.9 166.3h0M263.4 231.6h0M255.0 245.9h0M255.0 247.8h0M253.6 246.5h0M253.6 245.8h0M262.9 170.4h0M261.5 171.8h0M262.2 167.5h0M264.1 170.3h0M261.5 172.2h0M261.4 167.0h0M261.9 171.7h0M262.5 167.8h0M262.2 168.2h0M264.2 167.2h0M262.6 167.8h0M261.6 170.6h0M261.4 167.6h0M262.5 172.0h0M263.2 170.2h0M262.6 171.8h0M263.3 172.0h0M262.9 167.5h0M262.7 172.7h0M262.6 171.8h0M264.2 229.3h0M264.2 228.7h0M262.3 229.5h0M262.2 229.2h0M262.3 229.3h0M262.8 229.1h0M264.1 228.2h0M258.6 219.6h0M260.4 218.5h0M260.3 219.0h0M258.5 220.3h0M260.1 220.2h0M260.7 218.7h0M260.7 220.5h0M258.8 220.0h0M259.7 218.8h0M260.1 219.9h0M255.4 263.9h0M258.2 265.9h0M257.4 266.0h0M255.7 266.0h0M258.2 263.6h0M255.8 264.2h0M255.5 264.9h0M257.1 265.2h0M257.7 263.0h0M260.4 232.2h0M260.8 231.3h0M260.6 231.8h0M259.3 231.3h0M259.8 231.2h0M259.7 231.8h0M261.0 232.9h0M260.8 230.5h0M259.9 229.7h0M260.9 229.3h0M258.6 227.7h0M266.8 258.8h0M266.9 259.5h0M265.5 260.0h0M265.0 259.0h0M264.4 257.0h0M265.2 257.2h0M267.2 243.0h0M259.3 234.7h0M265.7 244.8h0M265.1 243.9h0M259.8 233.3h0M261.1 234.4h0M266.3 244.5h0M260.0 234.8h0M266.1 244.8h0M260.9 235.1h0M260.7 234.6h0M266.8 243.3h0M264.7 242.8h0M264.6 243.1h0M264.5 243.8h0M260.0 235.8h0M265.8 244.3h0M265.1 244.7h0M264.0 220.6h0M263.4 218.4h0M264.0 218.2h0M263.2 218.0h0M264.0 220.4h0M263.3 218.8h0M263.5 220.8h0M262.1 218.3h0M262.9 218.3h0M257.9 240.3h0M257.0 239.4h0M258.1 241.3h0M256.4 241.2h0M256.9 241.8h0M257.3 242.0h0M264.8 247.2h0M264.6 247.8h0M265.0 246.0h0M266.1 246.6h0M263.0 238.4h0M262.5 237.6h0M263.9 238.6h0M259.8 223.0h0M261.0 223.0h0M258.8 221.5h0M259.5 222.8h0M259.1 223.2h0M262.6 223.2h0M263.8 221.1h0M262.3 222.4h0M263.4 222.7h0M263.5 221.5h0M262.6 221.9h0M263.1 223.8h0M263.6 221.5h0M264.9 250.6h0M266.1 251.0h0M264.3 249.4h0M258.9 263.1h0M260.7 263.5h0M260.4 263.3h0M258.8 265.9h0M259.1 264.1h0M258.9 264.4h0M260.8 264.0h0M259.6 264.8h0M262.9 224.0h0M261.8 224.4h0M263.0 226.6h0M261.9 226.3h0M262.8 224.1h0M263.8 225.2h0M263.2 225.9h0M263.5 224.8h0M262.6 225.5h0M263.2 226.5h0M263.4 226.1h0M266.2 252.9h0M265.2 253.6h0M265.6 254.5h0M267.1 254.1h0M264.3 254.5h0M264.9 254.8h0M267.1 254.8h0M261.0 225.7h0M260.7 225.9h0M259.3 226.3h0M260.8 225.2h0M259.4 224.2h0M259.6 224.7h0M259.2 226.2h0M258.7 225.4h0M259.2 225.0h0M259.0 226.4h0M258.5 224.7h0M260.9 225.3h0M254.1 248.6h0M253.7 249.7h0M254.9 248.2h0M255.2 249.8h0M253.6 250.2h0M253.9 249.5h0M258.7 236.2h0M260.2 236.4h0M258.8 236.8h0M260.3 237.9h0M260.2 238.9h0M260.6 237.9h0M258.6 238.9h0M260.2 238.8h0M260.2 236.9h0M258.3 236.7h0M260.9 238.4h0M260.0 238.3h0M252.9 259.5h0M255.0 258.2h0M254.1 259.3h0M254.5 258.4h0M253.1 257.8h0M263.2 239.8h0M263.9 239.8h0M263.5 241.0h0M264.0 240.3h0M262.2 239.8h0M262.6 239.1h0M262.3 261.5h0M263.8 260.7h0M263.2 261.1h0M262.7 261.7h0M258.1 244.8h0M255.5 242.3h0M255.9 242.5h0M255.3 244.2h0M256.1 242.4h0M256.3 243.8h0M256.2 243.2h0M255.6 243.5h0M256.4 243.8h0M253.7 251.0h0M254.4 252.6h0M252.5 253.4h0M253.4 253.6h0M254.5 253.0h0M254.6 253.0h0M254.4 254.5h0M254.4 256.6h0M252.5 256.2h0M254.0 255.7h0M253.9 256.2h0M254.4 255.8h0M253.3 255.9h0M261.0 239.0h0M259.5 241.2h0M260.6 241.5h0M259.6 241.1h0M260.4 239.6h0M259.9 241.0h0M259.8 239.4h0M260.8 239.8h0M260.4 240.1h0M261.6 243.7h0M263.5 242.0h0M262.3 242.9h0M262.2 244.9h0M262.7 244.1h0M263.3 242.8h0M264.1 242.0h0M256.9 262.9h0M257.3 261.8h0M257.6 260.8h0M257.9 262.5h0M256.1 260.7h0M257.7 261.4h0M255.8 260.3h0M256.7 262.1h0M258.1 261.9h0M257.7 262.2h0M256.9 260.1h0M257.4 245.1h0M256.0 245.9h0M256.8 245.9h0M256.4 246.2h0M257.2 246.8h0M256.9 246.3h0M258.2 247.9h0M258.6 243.0h0M260.5 244.1h0M259.4 242.3h0M263.8 245.1h0M264.2 245.6h0M259.7 262.6h0M258.3 262.5h0M259.2 260.0h0M258.8 260.5h0M261.9 246.6h0M259.0 260.3h0M259.7 262.9h0M259.5 261.6h0M263.8 259.2h0M264.1 258.0h0M262.7 259.7h0M262.3 249.9h0M263.0 248.2h0M262.3 249.1h0M263.5 249.2h0M255.6 248.2h0M258.0 250.9h0M257.7 250.3h0M256.5 248.0h0M256.9 249.1h0M258.5 245.0h0M259.2 246.4h0M259.1 245.6h0M260.1 247.8h0M259.2 246.4h0M262.8 252.2h0M263.0 252.3h0M262.0 251.5h0M264.2 254.5h0M263.0 256.7h0M262.3 255.4h0M261.4 256.7h0M263.5 254.7h0M263.6 254.5h0M256.1 259.7h0M256.3 258.0h0M258.0 259.6h0M258.1 257.1h0M257.6 253.9h0M258.0 256.7h0M256.0 256.7h0M260.7 257.7h0M258.7 249.4h0M260.1 251.7h0M260.2 255.3h0M260.1 255.2h0M745.1 239.7h0M665.2 192.7h0M676.7 152.6h0M711.8 177.2h0M646.8 71.9h0M685.6 230.6h0M631.1 60.5h0M716.5 226.5h0M655.4 167.8h0M709.5 99.5h0M684.4 211.9h0M750.8 264.6h0M693.8 177.1h0M738.2 160.7h0M655.1 203.7h0M694.4 136.2h0M717.9 140.0h0M688.7 166.4h0M715.3 254.7h0M708.4 233.4h0M646.2 140.5h0M700.4 111.2h0M684.6 249.0h0M732.9 260.1h0M655.5 117.6h0M671.2 169.1h0M665.8 250.9h0M664.2 167.4h0M669.7 158.3h0M639.7 235.0h0M646.1 237.3h0M674.7 216.9h0M686.3 135.0h0M717.9 268.9h0M692.6 272.3h0M692.6 276.0h0M677.4 65.5h0M711.0 301.0h0M655.0 215.2h0M715.1 297.4h0M662.1 153.2h0M647.5 113.8h0M691.0 100.6h0M682.3 126.5h0M669.7 244.2h0M733.6 268.3h0M660.0 141.6h0M695.9 109.3h0M687.2 93.9h0M692.4 125.1h0M655.8 236.0h0M683.3 66.5h0M670.7 180.7h0M658.8 129.5h0M691.4 127.3h0M678.3 247.9h0M637.9 223.1h0M671.2 183.5h0M698.4 223.4h0M697.3 220.3h0M654.6 234.0h0M711.6 286.6h0M690.4 75.1h0M714.5 284.8h0M655.1 133.2h0M680.0 241.3h0M724.3 262.3h0M694.7 69.3h0M680.8 78.5h0M666.4 126.9h0M667.6 81.8h0M692.9 116.4h0M657.4 137.0h0M695.7 72.6h0M657.8 217.9h0M652.1 224.9h0M733.5 274.4h0M664.8 146.9h0M731.6 274.0h0M681.0 68.8h0M688.9 81.4h0M666.7 143.8h0M668.2 73.0h0M674.3 239.6h0M699.8 83.7h0M690.4 113.9h0M658.9 112.8h0M668.7 211.1h0M668.2 211.8h0M655.5 68.4h0M726.4 269.6h0M682.2 133.3h0M671.7 138.9h0M722.2 268.5h0M676.6 128.8h0M676.8 122.7h0M639.5 211.5h0M675.8 125.2h0M697.2 84.9h0M696.0 85.4h0M667.4 120.8h0M672.6 127.5h0M684.3 85.9h0M676.2 138.1h0M673.7 241.4h0M683.6 97.1h0M673.2 89.6h0M719.1 279.0h0M663.5 86.4h0M675.4 88.4h0M648.3 101.2h0M683.8 85.2h0M674.0 135.7h0M659.6 73.0h0M658.1 110.2h0M652.6 224.4h0M719.2 276.2h0M655.0 222.5h0M719.0 278.6h0M634.5 183.9h0M673.6 74.4h0M663.5 105.5h0M672.0 76.4h0M646.7 94.3h0M646.8 94.0h0M638.4 85.8h0M676.1 77.6h0M617.2 104.4h0M660.4 69.8h0M660.2 69.2h0M685.2 116.6h0M656.1 107.3h0M642.5 109.6h0M630.6 77.0h0M641.8 109.9h0M647.7 104.9h0M648.5 105.0h0M655.4 104.4h0M654.7 93.0h0M657.8 101.5h0M657.4 98.0h0M646.1 110.2h0M619.1 134.7h0M667.7 89.7h0M658.8 88.1h0M617.3 149.4h0M667.4 116.7h0M626.0 74.8h0M659.8 92.2h0M634.6 155.9h0M666.6 98.7h0M679.9 114.5h0M681.6 112.5h0M618.6 174.1h0M674.0 99.7h0M617.6 108.4h0M634.3 140.9h0M671.4 100.3h0M634.3 191.2h0M669.6 93.1h0M658.2 93.9h0M634.7 162.5h0M650.0 89.1h0M682.1 102.5h0M682.0 104.0h0M661.5 98.3h0M681.4 104.5h0M673.1 114.1h0M669.0 108.7h0M667.6 109.8h0M657.1 80.8h0M657.1 83.6h0M673.5 114.2h0M618.5 93.8h0M666.0 96.6h0M670.9 102.0h0M634.2 194.2h0M636.1 90.7h0M624.8 79.5h0M621.2 135.1h0M676.3 112.9h0M666.1 92.9h0M670.5 105.1h0M671.4 112.2h0M679.2 112.6h0M619.3 82.4h0M666.8 93.1h0M651.5 81.1h0M632.2 121.5h0M651.0 83.4h0M679.0 101.9h0M677.9 109.0h0M654.3 85.2h0M651.4 85.5h0M653.6 82.7h0M651.6 84.9h0M675.8 101.9h0M620.4 131.9h0M618.8 91.8h0M632.8 123.5h0M621.7 133.3h0M634.9 85.4h0M632.0 151.5h0M634.8 211.7h0M671.7 110.4h0M632.1 126.4h0M620.7 126.7h0M626.9 80.0h0M632.1 97.2h0M631.4 134.4h0M632.6 132.2h0M631.5 83.2h0M621.6 146.9h0M630.0 130.3h0M632.0 105.2h0M621.3 162.0h0M632.4 157.2h0M621.3 164.9h0M620.7 167.1h0M631.8 144.4h0M623.3 134.7h0M633.3 191.3h0M618.1 191.0h0M632.7 189.1h0M620.2 124.9h0M621.1 124.8h0M633.6 93.2h0M621.7 108.2h0M634.0 159.3h0M633.3 110.4h0M625.1 138.8h0M623.9 81.9h0M624.9 126.2h0M628.9 128.6h0M628.3 127.4h0M621.0 159.7h0M632.0 113.4h0M629.6 124.2h0M625.8 133.3h0M631.3 162.0h0M622.1 93.6h0M632.2 138.5h0M620.9 113.4h0M622.0 113.5h0M632.8 138.6h0M621.5 172.1h0M630.5 120.5h0M629.5 82.0h0M620.4 118.3h0M623.2 98.8h0M621.4 155.7h0M620.7 118.3h0M620.1 116.9h0M622.0 154.9h0M623.6 101.6h0M622.9 103.4h0M632.8 86.0h0M633.9 85.3h0M631.3 179.2h0M629.1 102.7h0M632.5 174.8h0M632.0 175.6h0M626.3 127.8h0M627.0 126.9h0M629.8 99.8h0M620.1 175.4h0M629.2 101.2h0M629.7 99.4h0M630.0 136.1h0M628.8 151.5h0M628.8 136.2h0M631.0 134.7h0M619.0 221.7h0M632.3 88.0h0M623.2 97.2h0M627.0 82.0h0M624.4 98.7h0M630.5 154.4h0M627.4 104.2h0M619.9 91.1h0M620.2 88.6h0M621.7 89.5h0M632.0 223.8h0M626.3 101.1h0M624.6 125.4h0M622.6 149.1h0M625.1 148.6h0M621.7 184.8h0M626.3 123.6h0M628.9 144.3h0M629.4 144.8h0M629.7 144.2h0M626.0 145.6h0M630.6 156.0h0M624.5 106.8h0M624.1 107.4h0M630.1 141.7h0M617.7 273.2h0M629.3 143.0h0M630.4 105.1h0M628.9 105.0h0M623.2 151.5h0M624.9 121.3h0M626.0 148.6h0M624.7 122.4h0M625.6 149.6h0M626.8 148.4h0M623.5 166.3h0M623.2 121.2h0M625.2 120.7h0M623.6 150.8h0M624.5 84.0h0M626.8 138.8h0M625.4 138.9h0M631.9 206.6h0M629.0 114.8h0M630.1 115.3h0M628.9 114.6h0M625.8 137.8h0M626.8 138.1h0M626.1 138.5h0M629.5 138.0h0M631.7 220.6h0M624.9 110.5h0M630.3 159.6h0M628.7 86.2h0M631.0 85.7h0M624.5 119.1h0M630.4 183.5h0M628.1 151.3h0M633.3 197.5h0M631.0 94.1h0M629.5 161.7h0M621.2 187.1h0M631.0 163.8h0M630.3 92.8h0M625.9 118.3h0M626.2 118.8h0M627.8 119.2h0M628.3 166.1h0M627.2 277.8h0M629.2 167.3h0M622.9 160.6h0M623.5 160.7h0M630.7 110.7h0M631.1 167.5h0M627.0 107.3h0M625.1 160.0h0M622.8 159.1h0M633.1 201.4h0M627.8 276.3h0M631.4 203.6h0M634.0 208.1h0M631.2 208.4h0M626.4 156.7h0M625.0 154.4h0M624.8 154.9h0M624.5 113.7h0M628.3 168.8h0M625.0 154.8h0M624.3 113.1h0M629.7 169.6h0M631.6 216.8h0M628.2 154.3h0M627.0 85.8h0M626.3 155.0h0M628.0 85.5h0M627.7 155.1h0M629.0 113.5h0M628.6 111.9h0M630.0 112.4h0M625.7 163.3h0M627.6 163.1h0M625.5 163.9h0M629.8 182.6h0M628.7 90.4h0M628.7 90.2h0M628.7 91.0h0M627.8 116.6h0M625.5 166.6h0M625.7 160.7h0M628.2 88.3h0M625.6 160.0h0M627.3 108.7h0M628.1 94.4h0M626.3 93.0h0M627.1 110.2h0M628.0 108.4h0M627.4 95.0h0M626.8 93.5h0M628.6 170.9h0M628.6 172.5h0M624.9 173.3h0M625.1 171.7h0M624.8 89.9h0M624.8 92.5h0M628.1 169.1h0M626.8 168.1h0M622.9 90.2h0M625.2 88.6h0M623.3 86.8h0M624.1 86.7h0M631.5 244.4h0M631.0 176.1h0M622.7 180.7h0M629.3 175.5h0M627.7 111.2h0M627.0 113.0h0M622.1 190.9h0M625.6 112.6h0M628.8 178.6h0M623.9 175.2h0M622.9 174.0h0M624.5 175.9h0M625.8 90.5h0M625.2 89.0h0M624.9 183.2h0M622.7 184.8h0M625.6 89.4h0M627.7 89.2h0M624.0 178.5h0M622.9 177.4h0M617.6 239.8h0M628.1 186.0h0M621.9 217.2h0M622.1 199.1h0M621.8 198.1h0M619.5 194.4h0M621.4 203.1h0M627.1 171.2h0M626.4 172.7h0M627.2 172.6h0M625.6 171.3h0M625.7 185.5h0M627.4 184.8h0M627.7 185.4h0M628.1 184.2h0M626.3 182.8h0M624.4 188.7h0M624.7 186.1h0M624.7 186.5h0M618.5 271.5h0M618.6 271.6h0M621.7 195.1h0M627.8 182.4h0M627.0 180.3h0M628.1 180.6h0M626.8 181.2h0M629.1 191.9h0M621.9 206.5h0M627.1 174.0h0M626.4 174.2h0M619.9 211.4h0M622.0 212.6h0M621.0 210.1h0M621.4 218.9h0M625.9 176.8h0M625.6 179.0h0M625.8 178.6h0M627.1 179.1h0M626.1 178.1h0M628.2 190.9h0M621.6 209.4h0M629.9 224.9h0M630.1 226.9h0M630.6 223.1h0M625.1 190.9h0M625.2 188.9h0M620.3 223.7h0M624.4 190.6h0M621.5 223.0h0M623.8 189.8h0M622.9 191.3h0M622.8 191.6h0M621.7 275.6h0M621.7 273.8h0M628.8 203.1h0M630.1 201.8h0M620.6 225.3h0M630.1 200.2h0M629.8 195.3h0M629.9 194.7h0M629.6 199.3h0M631.1 196.0h0M630.5 198.4h0M630.2 197.3h0M628.4 200.7h0M629.2 198.6h0M629.4 195.6h0M620.6 230.6h0M629.7 219.5h0M628.7 233.1h0M628.2 231.1h0M629.6 206.8h0M629.3 209.2h0M625.5 194.2h0M626.1 191.8h0M626.9 191.8h0M626.6 193.8h0M628.6 218.2h0M629.4 218.0h0M630.9 218.3h0M631.1 216.1h0M630.2 211.8h0M628.2 211.9h0M624.5 191.9h0M622.2 193.1h0M624.6 194.6h0M623.1 194.4h0M625.0 194.6h0M620.1 233.4h0M621.4 231.3h0M628.5 215.6h0M629.1 215.5h0M629.2 213.1h0M631.1 213.6h0M629.1 215.4h0M630.8 215.1h0M624.9 202.9h0M623.8 202.5h0M623.7 198.1h0M624.8 202.0h0M624.5 199.4h0M624.2 200.4h0M623.1 201.7h0M624.9 199.8h0M624.1 200.6h0M624.1 216.9h0M623.5 218.0h0M624.0 218.6h0M623.0 215.8h0M626.1 274.2h0M626.0 273.5h0M627.2 273.0h0M628.2 235.1h0M629.0 234.0h0M622.9 205.0h0M624.6 204.1h0M625.9 199.8h0M627.3 199.8h0M628.6 269.8h0M629.4 272.0h0M622.6 197.0h0M623.7 196.9h0M624.6 213.1h0M626.4 195.9h0M622.2 197.0h0M625.1 195.7h0M626.5 196.6h0M623.9 194.7h0M622.7 194.9h0M626.7 195.8h0M623.2 195.2h0M626.7 203.6h0M627.4 202.0h0M625.9 203.4h0M626.5 202.2h0M627.8 201.3h0M625.5 205.0h0M626.6 206.0h0M626.4 204.2h0M625.2 206.3h0M621.0 234.2h0M619.5 234.2h0M624.3 274.6h0M624.5 273.8h0M624.9 274.4h0M623.3 275.1h0M618.3 253.1h0M626.0 215.7h0M625.9 216.1h0M625.2 217.4h0M623.7 210.6h0M623.1 211.2h0M622.6 212.1h0M623.2 209.8h0M622.6 209.9h0M624.2 211.1h0M623.3 219.5h0M623.3 219.7h0M625.1 219.3h0M624.0 221.5h0M622.8 220.7h0M622.2 220.9h0M622.7 220.4h0M631.1 239.5h0M622.6 208.7h0M626.8 219.3h0M623.1 206.9h0M622.4 208.9h0M628.0 219.6h0M624.3 208.3h0M626.6 221.5h0M623.5 209.5h0M623.1 208.4h0M627.1 220.9h0M627.2 221.2h0M624.1 208.9h0M624.3 207.2h0M623.5 206.9h0M623.1 209.7h0M625.6 214.5h0M626.3 213.6h0M626.0 215.5h0M626.5 214.5h0M626.9 213.9h0M626.7 213.7h0M625.9 210.8h0M625.3 211.2h0M625.9 210.4h0M627.9 210.2h0M627.4 223.2h0M626.5 223.8h0M627.5 224.1h0M627.0 221.9h0M626.5 224.5h0M625.2 208.4h0M627.3 206.9h0M626.2 209.0h0M626.6 206.8h0M625.4 206.8h0M626.4 209.6h0M623.2 222.5h0M624.5 222.2h0M624.9 223.1h0M623.1 222.4h0M624.2 223.4h0M623.9 222.7h0M626.4 224.7h0M626.2 227.3h0M626.4 224.8h0M626.2 226.1h0M627.2 226.3h0M622.1 237.7h0M620.2 238.2h0M620.4 237.7h0M622.0 239.3h0M622.6 227.4h0M623.7 226.6h0M624.3 226.5h0M622.5 227.2h0M623.1 226.4h0M623.6 226.9h0M623.9 226.6h0M625.0 224.7h0M626.9 230.3h0M625.2 230.2h0M627.1 229.6h0M626.0 230.5h0M625.9 229.9h0M626.4 229.1h0M627.8 228.6h0M627.9 228.8h0M624.0 229.9h0M624.7 229.7h0M624.8 230.6h0M624.8 229.8h0M629.0 241.3h0M628.9 242.0h0M628.2 242.0h0M629.3 241.6h0M628.5 242.0h0M618.1 259.8h0M620.4 271.5h0M621.1 270.5h0M621.4 270.3h0M620.5 271.9h0M621.6 239.9h0M627.4 232.9h0M627.7 233.4h0M626.7 231.9h0M627.6 233.1h0M629.3 268.1h0M625.0 232.6h0M622.5 233.6h0M624.5 232.3h0M624.8 231.9h0M623.7 231.0h0M624.8 231.5h0M623.7 232.1h0M625.2 231.0h0M620.3 243.1h0M621.5 242.8h0M622.1 243.9h0M619.9 245.5h0M628.1 236.2h0M627.3 236.5h0M627.7 234.6h0M625.4 235.4h0M625.9 234.9h0M626.2 235.1h0M625.8 235.2h0M626.6 234.5h0M628.7 247.3h0M628.3 248.0h0M628.8 247.6h0M629.3 246.1h0M624.5 235.7h0M623.9 235.2h0M623.2 234.8h0M625.1 234.3h0M624.1 234.8h0M622.7 234.5h0M622.6 234.2h0M621.2 247.9h0M620.0 247.7h0M621.5 247.5h0M625.7 272.0h0M626.0 272.2h0M626.1 270.0h0M626.4 271.0h0M627.1 271.9h0M625.4 271.6h0M626.0 272.2h0M625.7 271.0h0M626.2 270.4h0M625.7 270.0h0M626.4 270.0h0M627.7 236.7h0M626.2 237.7h0M626.9 239.5h0M627.6 238.3h0M626.3 239.7h0M627.0 238.8h0M625.2 237.2h0M626.8 239.0h0M629.4 249.2h0M628.5 251.4h0M629.3 266.7h0M628.7 264.6h0M628.2 266.4h0M624.5 237.8h0M623.5 238.4h0M623.7 239.0h0M625.0 238.0h0M623.7 238.9h0M623.9 238.8h0M624.1 236.8h0M622.2 239.5h0M624.7 237.9h0M623.7 270.9h0M624.9 272.2h0M623.6 271.4h0M622.9 270.1h0M624.7 270.3h0M623.4 270.4h0M622.7 270.9h0M624.8 270.9h0M622.9 271.5h0M619.8 267.5h0M620.0 268.7h0M621.2 267.9h0M621.7 268.2h0M626.0 240.1h0M627.7 241.3h0M626.5 241.1h0M627.2 242.3h0M626.8 239.8h0M626.1 240.1h0M625.9 240.0h0M625.8 239.8h0M625.3 242.3h0M628.3 263.3h0M628.9 260.8h0M624.6 241.6h0M624.9 241.3h0M624.9 240.8h0M623.2 239.8h0M624.1 241.2h0M624.9 239.8h0M622.7 240.7h0M623.2 239.8h0M624.9 241.2h0M623.0 242.2h0M622.5 242.7h0M624.5 242.3h0M622.2 250.9h0M628.8 251.9h0M626.8 244.6h0M626.2 245.5h0M625.3 244.2h0M626.6 243.9h0M627.6 244.0h0M626.1 245.2h0M629.1 254.7h0M628.7 256.5h0M629.7 255.2h0M622.8 245.6h0M623.6 244.6h0M624.3 244.3h0M624.6 244.1h0M622.9 243.2h0M622.5 245.3h0M624.7 242.9h0M625.1 243.0h0M622.8 244.8h0M623.6 243.7h0M628.3 258.7h0M629.6 258.3h0M626.7 267.1h0M627.9 268.3h0M625.6 268.3h0M626.4 268.9h0M626.1 269.6h0M627.2 269.4h0M627.6 267.2h0M626.7 267.4h0M626.8 269.0h0M622.1 264.7h0M621.9 265.6h0M622.2 263.9h0M621.2 265.7h0M621.9 263.8h0M628.1 248.1h0M626.7 246.8h0M625.6 248.0h0M627.9 248.6h0M627.1 247.4h0M625.2 247.1h0M625.8 247.8h0M626.5 246.4h0M628.2 247.5h0M627.0 246.3h0M627.5 246.7h0M626.8 248.5h0M626.7 248.4h0M628.1 247.2h0M626.5 246.5h0M621.1 252.4h0M621.1 253.2h0M620.0 251.8h0M624.7 248.7h0M622.9 246.1h0M622.9 246.2h0M623.2 247.5h0M624.7 247.3h0M625.2 248.6h0M622.6 248.4h0M622.2 247.4h0M623.0 248.6h0M623.0 267.6h0M625.1 269.3h0M623.2 267.3h0M624.3 268.0h0M622.3 266.9h0M625.2 267.7h0M624.2 268.2h0M623.9 267.9h0M623.0 266.9h0M622.9 269.2h0M623.3 267.3h0M621.6 261.7h0M621.6 262.1h0M621.4 261.2h0M620.5 261.2h0M622.2 262.1h0M621.7 261.6h0M622.0 262.8h0M620.4 260.7h0M620.6 256.5h0M619.4 256.1h0M625.4 249.1h0M627.0 250.7h0M625.5 251.2h0M627.5 250.6h0M625.9 249.9h0M625.8 251.1h0M626.4 249.4h0M620.0 258.0h0M621.0 258.8h0M625.3 263.7h0M627.0 264.1h0M626.0 264.6h0M625.2 266.0h0M627.5 264.5h0M622.2 251.1h0M623.6 251.3h0M624.4 249.3h0M624.7 249.2h0M623.7 248.9h0M624.3 249.4h0M624.6 249.2h0M622.6 250.4h0M625.0 251.2h0M624.8 248.9h0M623.6 264.4h0M623.9 265.3h0M623.9 265.5h0M625.0 265.7h0M627.0 252.4h0M627.6 252.1h0M626.0 254.7h0M625.4 254.6h0M625.3 252.3h0M626.9 263.6h0M626.3 263.6h0M626.3 261.7h0M626.8 262.4h0M625.5 261.1h0M626.6 263.0h0M627.4 262.4h0M627.0 256.0h0M627.2 255.7h0M626.9 254.8h0M625.5 256.3h0M626.7 255.9h0M625.2 259.6h0M625.5 260.7h0M626.8 260.2h0M625.8 259.2h0M626.0 257.8h0M627.8 260.6h0M625.2 253.2h0M623.5 252.2h0M624.3 251.8h0M623.5 252.3h0M624.0 253.7h0M625.0 263.5h0M623.1 256.9h0M623.0 256.1h0M624.0 257.6h0M1059.2 149.7h0M1021.2 97.0h0M1111.4 221.8h0M1011.9 269.9h0M1065.5 232.1h0M1016.0 132.5h0M1031.2 202.2h0M1091.1 209.1h0M1117.1 205.8h0M1091.7 238.2h0M1035.0 147.4h0M1057.0 242.7h0M1064.1 251.2h0M1014.2 232.9h0M1057.4 89.1h0M1052.1 284.1h0M1058.8 68.0h0M1063.2 135.2h0M1084.5 226.3h0M1077.8 223.5h0M1018.8 111.0h0M1058.6 274.6h0M1014.6 88.2h0M1030.4 234.9h0M1032.8 72.4h0M1051.2 278.1h0M1025.0 148.5h0M1029.9 87.0h0M1020.3 121.2h0M1015.0 68.2h0M1022.2 84.7h0M1016.2 68.9h0M1017.6 82.3h0M1018.5 123.9h0M1044.0 84.8h0M1008.5 139.8h0M1047.8 252.0h0M1045.2 270.9h0M1046.4 143.0h0M983.7 167.7h0M1036.3 269.8h0M1060.2 101.2h0M1010.4 255.3h0M1022.9 252.3h0M1056.0 256.2h0M1053.2 254.1h0M1050.3 81.1h0M1019.0 140.9h0M1039.4 137.7h0M1033.1 77.9h0M1039.5 84.4h0M1051.6 139.6h0M1021.4 144.4h0M1015.5 255.9h0M1055.1 131.9h0M1034.4 99.8h0M1034.8 81.1h0M1055.5 107.4h0M1045.4 95.2h0M1015.4 245.5h0M1013.0 247.6h0M982.3 142.2h0M1059.1 120.2h0M1038.9 268.2h0M993.8 64.2h0M1045.9 96.4h0M1028.8 128.5h0M1017.8 242.2h0M1056.2 266.4h0M1055.3 261.3h0M1026.7 263.5h0M1044.6 97.2h0M1020.9 265.3h0M1033.3 264.3h0M1055.8 102.1h0M1025.9 243.6h0M1031.1 262.1h0M1021.1 239.2h0M1033.5 251.2h0M1052.7 101.7h0M1051.7 71.5h0M1054.3 72.7h0M985.1 159.6h0M1042.5 103.1h0M1027.7 257.2h0M1024.8 256.8h0M1048.0 71.9h0M1024.6 238.1h0M1022.9 240.1h0M1020.9 263.2h0M1027.6 257.7h0M1020.4 262.9h0M1032.6 247.0h0M1053.1 266.1h0M1047.7 75.7h0M1050.2 136.3h0M1033.2 102.6h0M1033.0 244.5h0M1006.5 128.5h0M1031.4 244.3h0M1048.4 74.8h0M1040.6 257.8h0M1040.6 258.9h0M1005.8 83.3h0M1057.5 123.7h0M1048.7 263.4h0M1049.7 265.3h0M1026.3 107.8h0M1002.4 190.4h0M984.7 75.5h0M1031.8 128.5h0M1049.5 105.9h0M1005.6 166.4h0M1045.1 260.6h0M1044.7 260.5h0M1044.4 262.0h0M984.6 100.8h0M1004.8 111.0h0M984.8 141.4h0M1004.5 106.7h0M983.6 120.8h0M1049.7 129.3h0M1031.6 104.4h0M1029.9 121.3h0M1042.7 135.0h0M1029.5 109.5h0M986.3 153.0h0M1044.8 106.8h0M1027.7 116.9h0M1030.2 112.8h0M986.4 160.1h0M998.1 67.6h0M1028.3 111.1h0M986.8 90.6h0M1000.9 70.7h0M1052.2 123.1h0M1002.6 128.6h0M1001.1 130.4h0M988.6 73.2h0M1003.2 139.1h0M1032.8 109.6h0M1031.9 109.2h0M1002.9 82.9h0M1001.2 83.4h0M1051.7 121.4h0M1034.1 109.8h0M1052.1 119.5h0M1002.6 103.8h0M1051.1 111.6h0M1001.9 104.1h0M1001.8 145.0h0M1002.0 87.7h0M1000.8 143.6h0M1003.3 74.2h0M1049.3 115.3h0M1033.6 114.3h0M1050.0 124.8h0M1003.1 221.5h0M1001.0 147.3h0M1032.2 124.2h0M1046.8 129.8h0M1032.0 124.3h0M988.7 164.9h0M1050.6 118.3h0M1046.5 110.2h0M1000.8 120.9h0M1044.5 132.7h0M1049.3 122.0h0M1003.2 119.5h0M1000.8 119.5h0M1041.5 133.7h0M1040.5 131.9h0M1001.4 111.7h0M1033.3 117.3h0M988.1 74.6h0M987.6 109.0h0M1033.5 117.7h0M987.9 87.0h0M986.4 87.0h0M988.6 169.8h0M1033.9 127.9h0M985.8 101.1h0M1040.4 108.3h0M1002.3 183.1h0M998.6 205.8h0M988.5 198.4h0M1001.8 150.6h0M987.7 198.1h0M986.7 140.4h0M1002.8 167.0h0M1000.8 151.5h0M1043.5 109.2h0M1045.2 107.7h0M1001.0 172.9h0M1001.8 107.6h0M1001.1 110.0h0M999.7 136.9h0M1036.7 131.0h0M1037.5 129.6h0M997.9 189.9h0M986.8 128.3h0M988.2 137.6h0M1036.9 112.8h0M1037.6 111.2h0M1038.2 111.4h0M1046.2 123.8h0M1000.0 101.0h0M1046.7 123.6h0M991.0 92.4h0M998.5 195.1h0M1047.1 121.5h0M1046.6 121.1h0M988.4 103.0h0M1046.1 112.4h0M998.0 69.7h0M1045.9 113.2h0M1046.5 111.6h0M987.4 132.4h0M997.7 101.6h0M988.3 133.5h0M987.2 133.3h0M1002.3 174.8h0M1037.1 113.5h0M1001.9 175.4h0M998.3 133.3h0M1047.3 116.9h0M986.9 211.5h0M997.8 270.1h0M1047.5 114.9h0M1048.3 115.2h0M1000.9 153.4h0M990.5 158.9h0M993.9 69.9h0M1003.1 158.7h0M997.7 129.1h0M1001.5 159.4h0M988.1 271.0h0M1034.3 122.8h0M1035.1 117.5h0M1033.8 118.5h0M997.6 137.7h0M1043.4 123.5h0M1000.8 181.9h0M988.5 80.3h0M986.3 83.1h0M1045.6 129.8h0M1043.8 130.4h0M1043.4 128.8h0M997.7 84.7h0M1044.8 113.4h0M1041.5 110.8h0M1041.8 110.5h0M1000.3 214.8h0M986.7 115.5h0M1036.2 121.6h0M986.5 113.7h0M1041.2 112.1h0M998.9 214.4h0M1034.1 119.4h0M986.5 113.4h0M1042.9 126.3h0M998.3 80.8h0M998.7 140.9h0M990.6 74.3h0M989.5 72.9h0M999.2 81.9h0M990.5 157.2h0M988.9 273.3h0M1042.0 130.1h0M989.6 156.0h0M1040.6 117.7h0M991.6 156.6h0M1041.7 119.1h0M1040.0 131.0h0M989.9 272.8h0M1039.3 125.8h0M1042.5 122.1h0M1040.0 115.2h0M1041.8 119.3h0M997.2 274.9h0M1037.8 120.7h0M995.0 274.4h0M986.1 117.6h0M986.0 118.1h0M987.0 117.7h0M987.0 118.3h0M1036.9 121.9h0M998.8 88.0h0M998.2 104.6h0M989.3 96.1h0M1000.9 177.4h0M990.3 97.1h0M996.8 71.2h0M996.3 68.6h0M996.5 69.5h0M999.3 79.0h0M1037.7 123.6h0M1036.7 123.9h0M1041.2 124.7h0M999.1 90.1h0M990.6 150.1h0M1041.7 126.6h0M1041.3 126.6h0M990.7 150.4h0M997.7 112.0h0M999.5 111.4h0M987.4 225.4h0M998.2 116.8h0M1000.4 117.0h0M985.8 225.5h0M998.8 117.8h0M998.1 71.5h0M999.2 71.8h0M997.6 126.7h0M997.7 74.9h0M999.6 72.8h0M992.6 165.6h0M997.9 124.0h0M994.2 273.9h0M998.4 94.4h0M998.5 93.9h0M991.9 273.0h0M998.6 94.0h0M1000.3 94.3h0M993.3 274.6h0M989.8 176.1h0M999.0 108.7h0M1000.5 109.3h0M998.7 108.6h0M989.8 108.8h0M992.6 169.1h0M991.6 100.9h0M989.9 110.1h0M989.3 98.8h0M990.7 75.2h0M999.1 216.0h0M990.7 105.0h0M991.6 106.0h0M989.1 106.0h0M998.9 120.4h0M999.2 121.3h0M995.3 98.4h0M992.2 161.9h0M997.8 164.7h0M989.5 184.7h0M999.6 166.0h0M992.0 161.8h0M994.0 163.7h0M991.2 184.3h0M998.1 165.4h0M996.7 102.7h0M996.8 102.9h0M991.0 187.5h0M999.3 164.3h0M988.8 185.7h0M990.1 186.9h0M999.6 162.5h0M991.1 135.2h0M994.2 92.9h0M990.9 135.8h0M993.6 93.5h0M991.0 134.5h0M990.2 136.2h0M995.8 106.8h0M996.8 113.1h0M1000.2 150.7h0M995.4 132.6h0M991.0 116.3h0M991.6 115.9h0M990.7 115.1h0M994.7 131.9h0M991.0 177.6h0M990.5 176.8h0M994.4 111.2h0M991.3 177.9h0M994.3 96.0h0M994.5 100.4h0M989.4 117.7h0M991.1 141.8h0M994.8 129.7h0M990.4 128.6h0M990.6 180.4h0M990.5 141.2h0M990.3 133.9h0M989.7 130.7h0M989.5 125.0h0M989.4 124.0h0M989.9 144.7h0M989.9 145.6h0M989.6 138.0h0M989.9 140.0h0M997.6 171.1h0M995.0 190.8h0M990.3 103.6h0M998.2 171.3h0M991.2 101.6h0M990.9 102.9h0M997.8 172.3h0M988.9 104.3h0M990.5 191.3h0M998.2 185.3h0M998.3 184.1h0M998.4 183.2h0M990.4 191.8h0M991.4 192.9h0M990.4 125.6h0M993.4 73.1h0M989.1 126.6h0M994.4 73.0h0M994.6 164.9h0M994.4 73.6h0M993.7 158.5h0M992.0 160.3h0M996.5 96.9h0M997.1 95.8h0M995.8 83.4h0M997.0 83.9h0M988.3 231.3h0M996.7 85.5h0M995.4 114.5h0M996.2 116.2h0M995.3 113.7h0M996.2 114.2h0M989.9 121.4h0M992.2 87.2h0M995.0 169.6h0M996.4 169.2h0M996.3 169.1h0M994.9 168.5h0M993.6 87.7h0M992.1 101.9h0M994.6 101.3h0M993.2 102.3h0M995.9 73.8h0M997.5 109.4h0M990.9 198.1h0M995.9 163.6h0M994.8 73.4h0M997.1 90.9h0M999.0 219.5h0M998.8 218.5h0M990.4 79.5h0M994.3 158.2h0M998.5 219.6h0M996.5 109.6h0M989.1 199.5h0M999.5 220.1h0M999.4 156.2h0M999.0 156.9h0M995.5 90.3h0M988.9 77.7h0M995.3 91.9h0M997.6 139.6h0M994.9 138.6h0M994.0 109.7h0M996.3 137.7h0M993.1 109.3h0M996.4 191.4h0M993.5 109.6h0M994.9 138.8h0M994.8 139.2h0M994.7 139.6h0M991.6 108.4h0M995.8 192.9h0M999.6 152.7h0M996.8 203.2h0M997.9 154.7h0M995.0 200.3h0M1000.3 154.5h0M995.7 197.7h0M997.4 199.8h0M999.4 159.7h0M1000.5 159.2h0M992.4 134.3h0M994.1 131.8h0M992.7 171.5h0M994.2 172.7h0M995.1 198.1h0M993.1 131.9h0M998.3 159.6h0M989.5 201.9h0M992.6 115.7h0M989.9 85.7h0M990.9 84.7h0M989.1 86.3h0M990.5 202.9h0M990.0 200.5h0M990.1 85.0h0M991.6 84.2h0M990.8 83.6h0M989.2 81.7h0M995.3 93.6h0M994.8 92.5h0M995.6 94.8h0M995.7 92.4h0M997.3 93.8h0M995.2 95.2h0M988.7 82.7h0M993.1 138.6h0M995.2 195.2h0M995.4 205.9h0M995.8 74.3h0M995.0 141.8h0M996.6 203.7h0M995.0 196.9h0M987.3 236.3h0M997.2 74.4h0M993.7 117.4h0M989.8 216.7h0M997.2 78.0h0M997.1 77.7h0M992.2 117.6h0M995.9 76.2h0M996.3 140.7h0M992.7 130.0h0M993.2 131.0h0M991.2 206.1h0M994.6 74.4h0M994.5 76.3h0M993.9 74.6h0M996.3 208.7h0M998.3 223.7h0M993.3 152.1h0M990.1 213.2h0M992.9 150.5h0M994.5 141.6h0M992.8 152.1h0M990.5 212.4h0M995.9 209.6h0M996.4 209.8h0M992.9 150.5h0M989.3 212.5h0M993.3 142.3h0M996.9 211.8h0M997.4 125.4h0M995.7 127.0h0M994.9 120.1h0M996.7 125.4h0M995.0 121.4h0M997.3 120.3h0M996.7 127.3h0M990.6 219.5h0M990.7 221.0h0M989.1 220.4h0M990.7 218.9h0M996.0 143.6h0M993.6 84.9h0M994.1 83.6h0M994.5 84.1h0M998.4 226.1h0M998.4 224.5h0M993.6 84.1h0M995.9 159.4h0M995.5 160.6h0M995.8 161.0h0M994.8 160.3h0M996.3 148.5h0M994.9 149.0h0M995.4 148.2h0M995.0 148.9h0M992.9 187.7h0M993.4 188.0h0M999.3 179.8h0M998.2 180.7h0M992.9 187.1h0M992.3 186.8h0M998.0 180.2h0M997.9 180.3h0M992.5 82.0h0M992.7 82.7h0M996.1 155.4h0M992.6 190.5h0M994.9 151.1h0M995.5 155.4h0M993.1 189.7h0M994.0 189.4h0M993.4 188.6h0M989.5 210.8h0M989.5 209.6h0M991.9 148.2h0M993.7 148.7h0M993.4 148.4h0M992.7 147.2h0M995.4 172.0h0M994.9 172.8h0M996.6 172.4h0M992.2 79.6h0M992.8 79.1h0M994.4 78.2h0M991.3 206.7h0M990.6 207.6h0M991.0 209.2h0M991.4 207.3h0M992.1 123.8h0M995.9 270.7h0M993.5 125.1h0M994.2 123.8h0M995.5 269.3h0M995.8 269.8h0M994.5 123.8h0M993.5 122.0h0M991.7 145.5h0M993.2 120.6h0M992.1 146.2h0M992.5 145.7h0M991.6 145.6h0M992.5 143.9h0M994.2 120.3h0M994.0 120.4h0M995.9 154.5h0M997.2 155.0h0M994.9 184.9h0M997.5 152.8h0M995.0 155.0h0M995.9 153.8h0M998.7 177.2h0M991.9 182.4h0M994.4 184.4h0M993.2 184.6h0M997.9 177.3h0M993.8 126.3h0M992.4 126.5h0M989.7 269.6h0M994.0 126.9h0M990.8 269.4h0M992.4 127.7h0M992.9 198.8h0M992.8 197.4h0M991.8 192.8h0M993.0 192.8h0M994.5 173.5h0M992.2 174.4h0M993.5 192.7h0M992.6 174.1h0M992.9 192.4h0M992.8 174.8h0M994.4 175.4h0M992.4 194.0h0M1000.1 229.4h0M991.9 201.1h0M992.0 202.0h0M993.9 202.4h0M997.2 215.8h0M994.2 200.9h0M995.9 215.4h0M997.6 230.2h0M994.1 195.8h0M992.9 195.0h0M993.0 196.7h0M994.4 194.9h0M993.1 195.2h0M998.1 264.8h0M1000.4 264.4h0M993.5 204.0h0M991.8 204.3h0M992.7 205.7h0M999.7 230.6h0M998.8 232.7h0M994.1 182.1h0M993.0 180.4h0M992.3 180.7h0M993.3 176.4h0M993.5 214.8h0M992.2 177.1h0M992.9 213.4h0M993.8 213.6h0M995.4 173.4h0M996.2 175.8h0M996.9 218.9h0M996.9 220.6h0M995.7 219.8h0M994.5 216.2h0M992.3 217.7h0M992.2 218.2h0M992.1 216.3h0M992.6 217.6h0M992.3 211.2h0M992.5 212.1h0M994.1 210.1h0M993.1 211.9h0M993.8 212.2h0M989.3 224.5h0M994.3 208.1h0M993.9 206.6h0M993.4 209.0h0M992.2 208.5h0M991.9 207.4h0M994.1 207.0h0M990.1 227.1h0M988.8 225.3h0M996.2 179.5h0M996.1 181.2h0M996.5 181.7h0M995.0 180.1h0M991.7 220.1h0M991.7 221.0h0M995.0 179.3h0M995.9 177.0h0M994.8 178.8h0M995.7 177.9h0M997.5 176.8h0M996.2 179.0h0M997.6 233.4h0M994.7 222.9h0M997.4 221.8h0M995.8 223.6h0M990.7 228.6h0M995.6 226.3h0M997.6 226.6h0M987.4 263.2h0M988.1 260.5h0M992.3 221.5h0M992.3 221.4h0M993.8 223.3h0M991.8 224.1h0M994.4 223.3h0M991.9 222.8h0M993.9 224.2h0M993.5 223.0h0M994.7 268.7h0M995.2 266.4h0M996.1 268.0h0M997.1 268.9h0M995.0 267.8h0M996.1 267.8h0M990.8 233.0h0M991.5 233.2h0M990.0 230.9h0M991.4 232.5h0M992.3 226.9h0M992.2 225.6h0M992.9 226.7h0M994.1 226.3h0M990.8 266.3h0M991.3 268.7h0M990.6 268.0h0M989.7 267.1h0M990.9 268.4h0M990.9 267.7h0M991.5 267.9h0M995.9 229.4h0M995.1 230.3h0M995.8 228.3h0M995.1 229.5h0M998.1 239.4h0M998.2 242.0h0M999.3 241.0h0M998.7 241.9h0M987.7 244.7h0M991.5 235.8h0M991.2 235.8h0M995.5 232.7h0M996.9 231.1h0M995.9 231.1h0M998.6 258.2h0M992.4 268.0h0M992.3 266.6h0M994.3 268.1h0M992.7 266.3h0M993.8 268.1h0M991.8 267.5h0M993.5 229.4h0M991.6 229.5h0M992.9 227.7h0M992.9 229.9h0M994.2 229.4h0M993.0 228.0h0M993.4 227.8h0M994.1 227.9h0M994.2 228.5h0M998.1 245.1h0M998.7 245.0h0M995.0 265.1h0M995.2 263.9h0M988.2 255.5h0M994.5 231.4h0M994.5 232.9h0M994.4 233.0h0M992.5 230.9h0M992.8 232.1h0M992.1 233.0h0M992.0 232.4h0M991.2 237.0h0M989.5 236.6h0M991.4 238.9h0M987.6 247.0h0M988.6 246.4h0M991.3 265.8h0M995.1 233.4h0M996.2 234.4h0M995.1 236.2h0M991.0 264.2h0M991.0 266.2h0M988.8 263.3h0M994.9 233.7h0M989.6 264.1h0M996.1 233.7h0M991.5 264.3h0M989.0 263.5h0M995.5 234.9h0M994.8 234.2h0M997.8 247.2h0M993.0 234.7h0M993.7 235.6h0M992.3 235.5h0M992.6 234.0h0M993.1 233.4h0M993.7 234.0h0M999.1 248.7h0M994.5 234.4h0M992.0 235.1h0M998.3 251.2h0M993.0 235.5h0M992.7 233.9h0M994.0 235.0h0M998.0 253.7h0M996.9 237.0h0M996.5 236.9h0M996.8 237.8h0M994.8 238.9h0M995.4 239.2h0M996.8 236.6h0M994.7 239.0h0M993.5 263.6h0M993.0 264.4h0M993.7 264.5h0M992.8 264.8h0M992.5 263.7h0M994.5 264.3h0M993.8 266.0h0M993.7 263.7h0M989.3 240.1h0M991.3 240.4h0M991.2 241.7h0M988.6 242.0h0M989.9 239.3h0M990.3 242.3h0M991.3 240.0h0M990.1 239.4h0M997.3 260.9h0M994.8 262.4h0M995.9 263.3h0M994.9 261.1h0M997.2 261.1h0M995.7 261.3h0M996.8 263.0h0M991.4 260.4h0M990.5 261.9h0M990.6 261.7h0M991.0 263.1h0M991.2 262.4h0M992.1 237.3h0M992.6 236.4h0M993.0 238.0h0M994.6 238.2h0M992.7 236.5h0M993.8 238.2h0M993.1 237.8h0M996.3 241.0h0M994.9 240.7h0M996.2 241.5h0M996.1 239.7h0M996.5 239.8h0M995.6 241.9h0M994.8 239.9h0M992.6 260.4h0M993.3 262.7h0M992.4 262.9h0M992.1 260.3h0M992.0 261.1h0M991.8 262.4h0M991.8 262.8h0M992.5 262.9h0M992.4 262.4h0M992.0 260.4h0M992.4 263.2h0M988.7 243.5h0M989.3 243.7h0M990.6 242.6h0M990.6 243.3h0M990.3 242.7h0M990.1 245.2h0M989.3 242.8h0M990.5 257.5h0M988.9 258.8h0M991.2 259.2h0M991.5 259.2h0M991.4 259.8h0M989.5 258.9h0M989.5 258.4h0M991.1 259.9h0M994.1 241.2h0M992.5 240.1h0M993.5 239.7h0M993.2 241.8h0M993.2 240.6h0M991.7 242.3h0M993.8 241.4h0M992.3 242.2h0M994.2 241.6h0M996.2 259.6h0M994.8 257.8h0M995.6 257.6h0M994.9 257.6h0M995.9 257.7h0M995.4 257.9h0M995.7 259.0h0M995.7 258.0h0M995.9 258.1h0M996.4 244.2h0M996.7 242.9h0M995.4 244.1h0M996.3 244.0h0M994.7 244.1h0M997.2 243.4h0M994.7 244.7h0M994.7 242.9h0M990.5 246.6h0M989.7 247.7h0M991.5 247.4h0M991.3 247.2h0M991.5 248.0h0M990.6 245.4h0M991.3 247.0h0M990.9 246.4h0M990.0 256.8h0M989.7 257.0h0M990.8 256.5h0M991.1 255.3h0M991.3 254.8h0M996.6 246.7h0M995.1 247.4h0M996.7 246.5h0M995.1 246.0h0M996.6 246.0h0M997.3 246.3h0M992.8 258.8h0M993.8 244.0h0M992.5 244.3h0M992.7 245.0h0M992.3 257.4h0M992.7 244.4h0M991.9 258.3h0M994.4 258.2h0M993.0 244.0h0M994.0 242.8h0M992.2 260.1h0M992.6 244.4h0M991.7 245.1h0M992.7 242.8h0M993.1 257.7h0M992.9 259.5h0M993.0 257.7h0M991.7 257.6h0M994.3 260.1h0M991.9 243.8h0M994.6 256.9h0M995.7 256.1h0M995.3 255.0h0M994.7 256.5h0M995.5 255.2h0M991.1 249.9h0M990.0 249.3h0M989.1 251.2h0M991.2 248.5h0M989.4 251.1h0M989.7 249.5h0M989.5 248.6h0M989.6 250.5h0M991.2 252.3h0M990.7 253.5h0M997.4 249.9h0M996.6 250.1h0M996.2 250.9h0M996.5 252.5h0M996.6 253.8h0M992.2 246.4h0M993.9 247.4h0M991.9 246.2h0M993.9 255.4h0M994.2 256.2h0M992.5 255.9h0M993.8 256.9h0M993.4 249.4h0M993.7 248.5h0M993.1 250.2h0M992.5 251.3h0M992.0 248.5h0M994.6 253.2h0M420.3 518.9h0M306.0 478.1h0M335.2 684.9h0M287.7 597.9h0M365.3 644.0h0M310.9 633.2h0M284.3 659.2h0M401.2 455.8h0M313.9 610.3h0M354.1 636.0h0M357.3 699.7h0M434.1 453.8h0M294.4 467.4h0M289.9 701.4h0M319.4 705.8h0M333.9 664.6h0M347.7 666.5h0M348.1 568.9h0M309.4 561.7h0M331.2 632.2h0M309.9 648.0h0M302.9 694.5h0M347.0 641.5h0M316.0 567.9h0M299.6 674.5h0M366.7 673.2h0M299.4 564.7h0M326.4 677.8h0M324.6 530.9h0M303.1 652.8h0M340.7 602.6h0M369.1 682.2h0M289.0 562.0h0M289.9 553.9h0M331.0 594.0h0M285.7 568.7h0M309.1 701.8h0M280.8 585.5h0M326.9 638.9h0M315.5 672.7h0M284.5 670.2h0M316.1 679.2h0M344.7 652.0h0M330.6 515.8h0M329.0 645.4h0M293.4 568.4h0M374.1 658.5h0M350.3 685.7h0M376.9 663.1h0M315.7 691.9h0M288.2 680.3h0M251.8 703.3h0M345.9 688.2h0M314.4 619.7h0M354.8 591.0h0M322.5 671.8h0M302.1 645.6h0M311.9 659.8h0M287.8 673.1h0M367.7 630.1h0M304.3 606.8h0M304.2 613.1h0M305.3 569.8h0M336.5 582.8h0M292.8 653.7h0M300.9 665.7h0M307.5 494.4h0M310.7 665.9h0M309.2 695.3h0M339.1 517.0h0M303.0 510.1h0M274.2 621.3h0M305.3 616.2h0M306.7 688.7h0M333.9 524.2h0M340.8 593.0h0M292.2 677.6h0M340.6 647.6h0M312.6 592.0h0M332.8 585.3h0M294.3 650.1h0M350.8 579.3h0M300.8 577.1h0M310.0 683.1h0M312.9 497.9h0M343.0 574.8h0M336.6 640.9h0M251.5 635.5h0M369.7 623.2h0M338.9 594.3h0M288.9 610.2h0M311.3 503.4h0M334.2 641.1h0M367.7 623.1h0M330.5 580.7h0M340.3 519.6h0M326.5 508.0h0M303.5 575.6h0M351.9 593.2h0M287.7 607.7h0M345.1 580.1h0M312.0 688.0h0M359.4 602.5h0M305.3 666.1h0M280.0 610.9h0M347.3 600.7h0M311.1 602.5h0M286.5 583.4h0M298.4 637.6h0M297.6 637.3h0M326.8 514.0h0M336.0 520.4h0M302.1 492.4h0M284.0 649.7h0M301.2 592.1h0M313.9 594.6h0M300.7 589.5h0M282.4 625.5h0M294.2 622.2h0M310.9 499.6h0M286.6 617.1h0M294.7 623.1h0M297.2 499.1h0M306.0 512.5h0M349.9 598.4h0M306.9 623.5h0M318.5 509.9h0M306.9 622.8h0M314.6 515.0h0M313.7 512.9h0M356.5 602.2h0M298.3 488.9h0M323.5 511.0h0M282.2 610.4h0M310.4 596.8h0M281.1 549.2h0M310.4 599.7h0M294.1 585.5h0M289.9 586.2h0M356.4 600.3h0M267.8 456.5h0M291.4 588.2h0M310.6 519.4h0M273.7 459.2h0M282.3 624.7h0M288.3 645.6h0M295.1 587.3h0M290.8 648.5h0M256.6 457.3h0M296.1 545.3h0M291.0 624.8h0M318.1 526.9h0M287.0 624.4h0M313.5 524.8h0M316.4 523.6h0M273.6 605.6h0M284.5 545.1h0M283.5 474.7h0M313.9 533.3h0M313.2 532.7h0M316.3 527.1h0M282.9 644.4h0M284.7 643.5h0M312.1 527.2h0M270.5 703.8h0M284.2 645.1h0M252.9 548.7h0M272.9 458.5h0M255.9 707.6h0M294.9 490.7h0M305.4 520.2h0M311.1 535.4h0M254.9 542.4h0M306.0 523.0h0M254.6 566.9h0M294.9 529.0h0M294.2 536.1h0M283.4 475.5h0M299.6 514.2h0M283.3 482.8h0M281.3 474.5h0M284.0 486.1h0M292.6 497.7h0M281.3 490.1h0M294.9 542.8h0M296.3 543.5h0M308.4 533.6h0M297.8 537.4h0M292.3 536.6h0M282.7 543.3h0M296.4 538.7h0M296.3 503.2h0M254.8 657.7h0M255.0 656.1h0M270.6 461.7h0M287.6 485.6h0M298.1 525.9h0M249.6 483.1h0M251.7 487.9h0M292.2 487.4h0M292.2 490.0h0M270.9 625.6h0M255.0 597.8h0M287.8 541.5h0M287.0 543.9h0M302.9 537.4h0M255.9 462.8h0M306.2 537.0h0M253.3 502.0h0M254.1 515.0h0M254.0 525.9h0M292.8 499.5h0M288.8 543.7h0M284.5 495.1h0M289.1 533.6h0M270.4 601.3h0M290.0 544.2h0M281.6 534.5h0M282.3 537.1h0M294.9 505.5h0M301.1 521.2h0M301.4 521.3h0M262.5 707.0h0M285.8 536.6h0M288.6 490.2h0M270.2 677.6h0M286.0 535.8h0M288.2 498.3h0M288.3 492.6h0M300.2 521.0h0M289.0 492.8h0M287.1 488.2h0M285.3 488.0h0M279.6 478.6h0M282.5 533.2h0M280.1 475.8h0M282.4 534.1h0M306.0 537.7h0M303.3 535.9h0M253.8 612.0h0M303.4 535.7h0M279.7 494.0h0M253.6 466.3h0M303.2 537.7h0M271.9 465.7h0M294.1 510.0h0M254.9 680.9h0M293.9 528.6h0M284.3 507.9h0M283.0 497.5h0M281.5 504.3h0M276.4 538.1h0M297.1 517.4h0M280.3 527.2h0M283.4 498.8h0M269.8 460.9h0M252.8 637.7h0M288.7 529.5h0M276.2 540.2h0M280.5 514.1h0M259.8 460.8h0M283.4 519.5h0M271.3 643.8h0M291.2 503.4h0M267.7 705.5h0M254.1 688.4h0M289.9 499.4h0M295.5 512.7h0M295.3 522.9h0M265.2 460.6h0M255.0 490.4h0M291.1 523.9h0M281.9 502.1h0M281.5 516.5h0M254.7 643.4h0M284.8 501.2h0M283.7 499.5h0M283.2 516.1h0M287.0 500.6h0M286.9 523.3h0M257.9 550.4h0M271.4 557.7h0M288.7 529.1h0M285.8 526.9h0M296.7 517.4h0M294.9 518.8h0M288.7 527.7h0M287.4 529.2h0M262.1 463.1h0M286.8 526.3h0M295.3 519.0h0M262.9 461.0h0M272.0 568.5h0M289.9 525.4h0M285.2 503.8h0M285.8 503.4h0M257.6 702.1h0M277.1 493.1h0M276.7 484.1h0M277.4 502.9h0M254.2 482.2h0M254.6 483.9h0M287.7 522.2h0M285.9 520.8h0M271.4 586.5h0M287.7 522.4h0M271.1 587.9h0M277.5 476.1h0M286.3 508.2h0M278.3 475.8h0M285.6 509.4h0M292.5 510.5h0M293.8 517.9h0M270.7 668.0h0M276.2 522.4h0M270.1 571.6h0M254.7 626.7h0M253.6 627.8h0M253.7 627.4h0M291.5 514.7h0M253.9 625.6h0M276.8 525.3h0M253.6 490.2h0M276.8 481.1h0M257.8 544.8h0M290.9 517.8h0M269.3 690.8h0M293.6 511.2h0M288.0 518.9h0M290.2 505.9h0M285.4 515.7h0M278.6 528.4h0M287.8 516.0h0M290.4 508.0h0M272.3 575.9h0M291.0 507.8h0M286.4 515.5h0M268.5 465.2h0M267.0 682.6h0M258.9 705.8h0M259.2 703.3h0M276.7 520.1h0M258.2 703.2h0M289.9 515.7h0M288.5 508.3h0M289.6 509.6h0M265.8 704.2h0M258.2 465.9h0M289.8 512.2h0M266.9 706.0h0M289.6 511.5h0M256.4 655.3h0M274.5 547.9h0M257.7 603.3h0M278.6 514.0h0M276.1 511.4h0M275.9 474.1h0M272.6 554.0h0M257.9 507.8h0M272.4 554.5h0M257.6 538.7h0M268.9 561.6h0M257.1 467.7h0M255.6 468.9h0M257.2 467.6h0M257.9 606.1h0M257.8 605.8h0M257.8 512.4h0M262.8 704.6h0M257.1 652.8h0M256.6 499.9h0M269.4 691.6h0M263.4 703.6h0M256.1 502.5h0M268.5 691.4h0M265.5 465.7h0M256.7 510.5h0M256.4 481.2h0M256.7 666.9h0M256.5 518.3h0M255.1 583.5h0M257.7 584.4h0M257.7 694.4h0M269.9 621.8h0M257.6 697.2h0M257.5 570.3h0M256.2 570.6h0M257.3 535.7h0M268.0 564.0h0M256.9 497.4h0M257.7 514.8h0M257.3 497.1h0M256.6 499.0h0M257.8 692.9h0M269.0 695.8h0M259.6 561.9h0M260.9 560.9h0M268.4 615.7h0M259.8 561.5h0M257.7 594.9h0M267.4 653.8h0M268.4 653.3h0M263.8 465.1h0M257.0 476.9h0M257.2 596.3h0M262.4 465.7h0M256.8 475.3h0M256.1 596.4h0M259.9 559.1h0M255.5 589.7h0M257.4 686.5h0M257.8 521.4h0M269.2 699.3h0M267.2 698.7h0M268.7 697.5h0M267.2 649.1h0M257.7 471.2h0M256.4 481.4h0M267.4 627.6h0M255.9 471.4h0M256.7 469.6h0M256.9 472.1h0M267.8 646.5h0M257.7 481.3h0M257.7 472.7h0M256.2 579.8h0M257.9 607.4h0M274.8 540.9h0M256.3 524.8h0M268.0 606.5h0M256.1 614.1h0M267.6 606.3h0M274.1 482.4h0M256.4 683.0h0M257.2 679.6h0M256.6 610.3h0M257.5 679.3h0M268.2 655.5h0M275.7 481.3h0M259.8 564.1h0M256.8 668.0h0M256.4 688.7h0M256.5 534.5h0M256.6 534.7h0M257.8 534.8h0M268.5 558.5h0M257.6 533.3h0M267.4 612.4h0M267.1 611.0h0M267.3 644.5h0M267.7 646.0h0M267.4 644.0h0M268.2 612.2h0M267.2 612.3h0M275.3 546.0h0M260.7 700.2h0M259.3 701.3h0M269.8 638.6h0M268.9 640.9h0M267.3 640.0h0M273.4 478.5h0M267.4 568.1h0M255.5 670.6h0M258.0 638.1h0M257.3 638.7h0M257.9 621.9h0M255.8 491.5h0M255.7 647.3h0M256.8 486.0h0M257.6 528.1h0M256.1 674.7h0M256.4 574.4h0M267.9 633.0h0M268.0 632.7h0M257.5 646.5h0M258.0 674.1h0M255.8 486.8h0M257.6 486.5h0M271.8 469.7h0M255.6 526.7h0M256.1 486.8h0M258.6 468.5h0M267.0 607.5h0M268.2 608.2h0M257.7 644.9h0M256.4 643.8h0M265.8 702.5h0M257.6 645.5h0M267.3 607.6h0M265.0 701.7h0M267.0 467.9h0M267.4 468.2h0M260.9 555.3h0M259.9 554.2h0M260.5 554.2h0M267.4 675.4h0M273.9 543.7h0M257.9 487.8h0M273.7 543.3h0M257.6 489.1h0M256.4 487.7h0M267.3 583.6h0M267.4 660.9h0M267.6 660.6h0M269.2 592.9h0M273.9 490.3h0M274.1 492.8h0M269.1 581.2h0M274.3 530.3h0M273.9 532.1h0M275.6 530.2h0M265.1 685.3h0M265.9 686.7h0M264.4 686.0h0M275.7 524.6h0M264.3 561.0h0M264.9 561.0h0M257.6 623.6h0M273.3 523.9h0M267.8 569.9h0M264.3 559.7h0M268.9 571.0h0M273.4 524.0h0M264.2 690.1h0M264.7 688.3h0M268.2 671.5h0M258.0 550.7h0M267.0 672.1h0M273.0 503.3h0M273.2 526.8h0M263.8 558.0h0M263.6 558.1h0M275.3 528.7h0M258.8 659.6h0M260.1 698.6h0M260.6 700.0h0M273.2 528.6h0M268.5 578.1h0M269.9 578.2h0M269.4 579.1h0M270.0 588.8h0M267.1 587.0h0M274.5 500.2h0M273.1 499.4h0M273.8 505.2h0M274.3 505.4h0M263.9 564.0h0M274.2 499.3h0M262.2 565.2h0M274.3 496.9h0M269.0 589.0h0M260.4 568.1h0M273.9 496.1h0M274.6 495.2h0M260.7 566.2h0M260.7 566.2h0M260.2 566.5h0M274.4 494.1h0M267.2 590.1h0M258.1 602.6h0M260.0 603.7h0M269.2 590.4h0M259.4 601.8h0M258.4 479.5h0M257.7 626.7h0M273.4 517.6h0M256.1 625.8h0M267.1 663.4h0M270.0 664.1h0M259.9 657.5h0M258.9 655.8h0M269.3 661.4h0M260.4 606.6h0M258.6 605.1h0M259.0 607.1h0M259.9 655.8h0M263.0 466.9h0M266.1 562.6h0M266.5 562.9h0M262.4 466.7h0M264.6 562.3h0M265.6 563.5h0M263.0 468.1h0M264.9 599.5h0M265.2 600.4h0M268.4 668.4h0M259.0 548.1h0M269.5 669.4h0M268.4 667.8h0M259.0 548.0h0M260.6 472.1h0M266.0 603.7h0M264.4 603.1h0M265.0 603.6h0M266.3 602.6h0M265.4 691.9h0M265.0 691.3h0M266.2 602.0h0M265.1 693.9h0M265.1 684.7h0M265.2 683.0h0M266.6 556.7h0M267.0 574.3h0M269.5 576.3h0M268.1 555.5h0M267.3 577.0h0M269.0 666.5h0M268.2 664.9h0M268.0 666.1h0M260.8 501.8h0M258.1 500.2h0M264.6 604.9h0M260.1 502.3h0M273.1 510.1h0M260.3 502.8h0M274.8 511.0h0M259.4 502.2h0M260.5 695.2h0M260.7 695.9h0M259.0 692.9h0M260.2 695.7h0M258.1 694.2h0M260.5 694.3h0M265.0 696.8h0M266.6 695.8h0M267.0 694.6h0M266.0 698.0h0M260.9 685.8h0M272.3 474.8h0M264.4 698.1h0M265.5 699.4h0M259.2 688.0h0M260.8 686.8h0M270.6 474.9h0M265.7 698.6h0M270.2 472.7h0M259.6 477.5h0M260.2 477.4h0M260.9 478.1h0M260.3 546.1h0M259.6 475.8h0M258.2 663.6h0M259.8 664.1h0M260.8 499.0h0M260.3 484.8h0M261.8 688.2h0M258.2 663.0h0M260.6 497.6h0M260.1 474.7h0M259.6 474.0h0M260.7 474.0h0M264.8 652.3h0M266.1 610.7h0M264.7 652.8h0M265.5 615.5h0M265.1 612.2h0M265.3 652.4h0M260.6 506.5h0M259.6 506.6h0M266.6 650.6h0M275.7 515.1h0M274.1 515.1h0M263.6 689.6h0M266.7 649.9h0M263.4 689.8h0M274.5 516.0h0M264.4 648.7h0M264.8 644.9h0M260.2 688.6h0M259.7 690.7h0M265.3 644.8h0M260.9 688.5h0M265.2 647.3h0M266.0 656.5h0M260.4 689.7h0M264.6 648.2h0M258.9 691.0h0M259.3 690.0h0M258.6 690.2h0M260.9 609.8h0M259.1 607.7h0M274.2 514.0h0M258.5 612.5h0M263.3 693.0h0M260.9 610.8h0M260.2 611.4h0M260.9 585.2h0M265.0 617.3h0M264.1 618.7h0M264.9 617.1h0M263.8 697.6h0M261.8 602.9h0M266.9 609.4h0M264.3 681.5h0M265.8 608.2h0M265.5 680.0h0M259.6 542.2h0M261.7 698.5h0M262.0 699.1h0M263.0 699.6h0M261.4 698.8h0M266.6 680.3h0M262.1 602.4h0M259.2 542.1h0M266.6 681.2h0M262.7 598.7h0M260.2 641.3h0M258.5 597.7h0M260.4 596.4h0M259.6 682.5h0M258.4 596.2h0M260.6 684.4h0M260.5 595.4h0M259.3 684.1h0M260.8 684.8h0M261.0 664.8h0M260.8 664.4h0M259.5 664.6h0M258.8 665.7h0M259.1 587.1h0M261.5 605.2h0M260.0 588.1h0M259.9 588.9h0M261.0 588.2h0M259.0 588.7h0M262.8 605.6h0M263.8 605.1h0M261.4 694.8h0M264.8 641.2h0M260.9 568.4h0M264.3 641.4h0M264.5 642.5h0M260.2 510.3h0M258.6 643.8h0M260.4 615.7h0M260.9 615.8h0M266.9 621.5h0M264.3 621.1h0M259.7 508.6h0M263.1 555.9h0M260.8 615.3h0M265.6 622.0h0M260.0 509.0h0M258.3 615.3h0M260.9 614.0h0M259.3 615.9h0M263.9 554.7h0M259.3 643.8h0M261.3 554.8h0M259.6 509.3h0M262.3 553.9h0M265.0 620.6h0M259.5 581.5h0M260.8 581.9h0M260.4 494.3h0M258.7 580.8h0M259.4 681.3h0M266.0 568.0h0M258.9 517.7h0M259.2 649.9h0M271.3 484.6h0M261.4 567.4h0M259.7 649.4h0M259.7 517.5h0M261.7 565.8h0M258.8 650.7h0M272.1 485.1h0M259.9 649.5h0M266.0 566.7h0M264.3 566.7h0M266.0 565.3h0M259.4 647.1h0M260.8 646.6h0M259.9 648.9h0M260.5 595.0h0M258.1 646.5h0M258.1 649.1h0M259.1 647.3h0M259.0 593.1h0M261.0 541.0h0M259.0 538.2h0M269.2 469.2h0M271.3 483.3h0M268.2 472.0h0M266.7 596.7h0M265.0 596.8h0M266.0 659.1h0M267.6 469.4h0M265.7 659.1h0M264.5 660.5h0M271.0 481.6h0M270.1 482.4h0M270.6 482.8h0M270.6 480.0h0M260.4 488.4h0M259.9 514.6h0M260.7 489.6h0M260.9 617.8h0M261.8 684.2h0M260.0 515.0h0M261.1 682.9h0M260.6 514.5h0M259.7 514.6h0M272.1 479.8h0M263.9 682.8h0M260.8 616.2h0M259.0 616.7h0M259.4 489.4h0M272.4 480.0h0M272.3 479.5h0M272.5 478.1h0M260.4 492.8h0M260.1 491.2h0M258.2 491.9h0M263.9 658.1h0M262.3 661.1h0M261.3 657.3h0M261.4 656.5h0M265.2 638.3h0M265.2 638.1h0M264.5 639.2h0M259.2 535.4h0M259.3 639.3h0M258.8 637.6h0M260.6 535.3h0M259.4 535.8h0M258.2 669.4h0M259.6 670.1h0M261.0 668.1h0M266.0 585.1h0M263.2 472.0h0M259.3 521.6h0M258.4 521.9h0M258.7 520.8h0M263.8 471.9h0M263.9 653.8h0M261.5 655.1h0M262.7 654.0h0M263.8 654.0h0M261.4 653.9h0M261.4 653.0h0M265.2 622.4h0M264.4 623.4h0M264.1 622.6h0M261.8 613.0h0M270.3 537.5h0M263.1 612.8h0M270.7 536.1h0M266.0 554.9h0M266.1 554.3h0M263.4 645.1h0M265.4 554.2h0M260.1 577.5h0M259.3 578.5h0M263.4 646.0h0M259.7 578.4h0M261.5 646.2h0M263.0 645.2h0M263.1 644.7h0M260.4 578.8h0M265.3 554.8h0M265.9 554.0h0M259.8 619.7h0M260.6 622.0h0M259.7 621.1h0M262.4 482.9h0M263.7 483.8h0M261.4 483.9h0M263.6 479.3h0M261.6 479.4h0M263.3 480.5h0M262.7 615.4h0M263.2 613.6h0M263.0 614.4h0M262.8 480.5h0M265.0 581.3h0M265.1 580.9h0M265.2 580.7h0M264.1 582.4h0M265.1 581.3h0M270.3 488.0h0M272.8 489.2h0M260.2 670.6h0M271.9 489.9h0M270.8 489.9h0M260.4 670.8h0M261.5 649.0h0M259.7 673.1h0M262.1 680.7h0M271.5 533.9h0M263.9 609.4h0M262.7 681.3h0M271.2 532.2h0M263.2 607.5h0M261.2 608.5h0M261.4 609.2h0M261.8 609.0h0M271.7 533.1h0M262.8 642.1h0M261.9 641.3h0M261.8 609.0h0M266.8 678.0h0M266.5 677.5h0M265.1 676.8h0M264.6 678.7h0M264.6 677.4h0M260.8 673.9h0M259.0 676.1h0M260.4 673.7h0M261.5 650.2h0M262.2 652.2h0M264.0 650.6h0M260.3 677.7h0M260.7 677.9h0M259.6 676.5h0M260.1 678.4h0M260.7 677.9h0M259.1 678.4h0M262.1 650.4h0M267.1 550.3h0M267.4 551.1h0M266.5 472.1h0M264.1 470.6h0M259.6 572.9h0M265.6 472.0h0M260.2 572.7h0M260.9 572.6h0M267.7 551.1h0M264.1 471.7h0M262.3 585.2h0M261.5 584.9h0M267.4 550.9h0M259.9 572.2h0M265.0 469.5h0M263.3 584.2h0M264.6 470.0h0M269.4 552.9h0M261.6 584.7h0M265.8 469.4h0M265.9 662.9h0M265.7 570.2h0M261.1 618.5h0M265.2 569.0h0M261.7 617.8h0M265.0 661.8h0M265.5 663.6h0M263.3 619.0h0M266.3 664.1h0M266.6 663.0h0M258.8 524.2h0M264.6 587.1h0M265.4 588.2h0M266.9 587.0h0M266.3 675.2h0M265.5 594.2h0M266.5 674.9h0M264.4 593.0h0M266.2 673.8h0M266.0 592.3h0M265.8 592.6h0M264.4 674.7h0M259.8 533.9h0M272.3 492.3h0M270.2 490.6h0M271.0 538.3h0M271.0 490.6h0M270.2 490.8h0M270.7 523.2h0M266.0 671.9h0M272.6 522.7h0M270.8 522.9h0M265.4 671.2h0M264.2 672.9h0M263.4 661.4h0M261.4 663.2h0M261.5 552.1h0M263.1 553.1h0M263.6 663.6h0M261.0 550.4h0M263.3 662.4h0M263.1 662.2h0M262.9 661.4h0M270.6 499.0h0M272.7 497.5h0M272.0 499.1h0M271.5 498.8h0M258.5 575.4h0M259.7 575.8h0M271.5 545.8h0M270.9 524.4h0M259.3 575.9h0M259.0 575.7h0M259.8 575.9h0M270.2 546.5h0M270.8 547.0h0M266.5 666.1h0M266.9 665.2h0M264.7 666.9h0M260.5 576.6h0M258.1 575.9h0M264.4 668.0h0M271.2 502.1h0M264.2 667.9h0M264.8 668.9h0M263.6 474.0h0M270.0 500.0h0M261.1 474.8h0M272.4 501.7h0M263.1 473.4h0M263.7 474.6h0M265.6 577.4h0M266.2 578.0h0M264.9 579.7h0M266.7 579.0h0M266.4 577.8h0M263.3 595.3h0M263.2 595.5h0M263.0 597.1h0M261.6 598.0h0M270.6 504.6h0M262.1 476.1h0M261.4 597.5h0M262.2 597.2h0M259.0 624.4h0M259.6 624.3h0M262.7 597.7h0M271.3 503.8h0M262.7 596.9h0M258.2 623.5h0M259.4 622.3h0M265.8 635.7h0M267.0 636.0h0M265.3 636.9h0M264.7 635.9h0M264.4 635.3h0M261.5 619.8h0M262.5 621.7h0M262.0 569.5h0M270.4 494.5h0M270.6 495.5h0M264.7 589.7h0M261.8 570.4h0M266.0 592.2h0M266.7 589.8h0M264.1 589.3h0M263.1 570.0h0M265.2 590.6h0M262.7 570.8h0M263.5 571.0h0M258.0 636.4h0M259.9 634.6h0M260.0 634.7h0M260.8 634.7h0M261.0 636.4h0M261.9 499.7h0M263.4 500.6h0M262.8 500.5h0M272.5 528.3h0M264.1 628.7h0M259.5 532.2h0M264.5 630.3h0M264.9 629.5h0M268.8 474.0h0M260.7 530.0h0M262.1 637.2h0M265.5 630.6h0M270.1 528.2h0M268.2 475.1h0M267.5 473.5h0M261.0 638.0h0M270.0 473.6h0M264.2 629.8h0M265.9 628.4h0M264.1 628.3h0M263.7 666.6h0M272.4 530.7h0M260.1 626.0h0M260.5 627.1h0M263.5 666.9h0M259.3 627.9h0M272.6 530.1h0M263.5 588.3h0M262.8 588.2h0M262.8 586.6h0M262.3 586.7h0M263.4 588.7h0M268.9 483.8h0M268.9 483.1h0M268.3 483.2h0M262.0 505.1h0M260.8 526.8h0M267.4 482.7h0M258.4 527.2h0M266.8 574.1h0M266.0 571.4h0M266.5 573.7h0M265.7 572.3h0M264.4 572.5h0M267.5 486.4h0M264.3 573.8h0M263.5 496.2h0M263.0 498.1h0M263.0 498.2h0M263.9 579.5h0M263.4 578.1h0M271.4 542.3h0M270.1 541.4h0M271.5 542.1h0M271.1 542.4h0M270.4 543.0h0M270.2 506.2h0M272.7 543.0h0M258.6 632.8h0M264.6 576.5h0M259.1 632.6h0M265.6 575.9h0M259.3 632.8h0M262.4 678.6h0M262.2 668.4h0M270.8 519.5h0M272.1 518.1h0M263.7 678.6h0M270.9 518.0h0M263.2 676.8h0M261.6 677.0h0M261.6 669.4h0M262.6 678.3h0M270.7 518.3h0M261.6 668.4h0M262.7 669.6h0M263.8 677.6h0M265.5 479.7h0M264.7 478.7h0M266.9 478.7h0M263.5 594.6h0M263.4 593.6h0M262.3 592.6h0M263.7 593.0h0M263.5 548.2h0M261.3 550.2h0M263.4 549.2h0M261.7 672.6h0M265.7 482.1h0M265.1 482.3h0M264.3 484.1h0M262.0 673.3h0M263.9 670.7h0M267.0 482.9h0M266.5 483.0h0M262.7 673.7h0M264.7 483.6h0M263.5 671.5h0M263.3 672.4h0M262.4 675.0h0M260.9 630.0h0M266.3 473.9h0M259.3 630.3h0M259.9 631.0h0M265.8 474.6h0M261.0 630.3h0M267.1 475.8h0M261.5 622.3h0M261.9 489.7h0M262.7 488.6h0M269.8 477.1h0M268.1 476.5h0M269.0 478.2h0M261.5 624.3h0M269.5 477.2h0M263.6 624.2h0M268.7 475.5h0M263.8 624.5h0M263.9 488.2h0M263.0 622.6h0M261.3 623.9h0M263.4 489.7h0M263.5 589.4h0M263.7 589.7h0M263.8 591.4h0M261.8 591.0h0M263.8 590.5h0M264.6 550.3h0M265.2 551.7h0M265.0 550.7h0M266.3 486.3h0M266.1 550.4h0M265.4 485.1h0M266.7 550.9h0M266.2 552.1h0M265.7 486.8h0M266.9 487.2h0M264.5 484.8h0M261.2 573.4h0M263.6 571.4h0M262.2 573.7h0M262.5 626.6h0M262.3 625.3h0M261.6 625.3h0M261.6 571.3h0M271.3 509.0h0M271.4 508.5h0M263.8 574.6h0M262.7 576.8h0M263.4 574.8h0M263.0 574.6h0M261.6 492.4h0M263.2 491.9h0M262.3 491.1h0M263.6 491.9h0M264.9 477.9h0M265.4 478.1h0M263.8 507.1h0M263.6 506.2h0M262.4 505.2h0M264.3 476.1h0M264.0 476.2h0M261.7 506.3h0M264.3 476.3h0M262.1 493.4h0M261.3 494.6h0M261.4 495.5h0M263.5 494.0h0M263.0 495.7h0M263.8 493.5h0M267.2 548.8h0M267.2 547.8h0M267.7 487.7h0M269.2 487.2h0M268.2 488.5h0M267.3 489.3h0M267.5 549.1h0M267.3 547.4h0M271.7 515.7h0M261.3 518.2h0M263.7 519.7h0M271.7 514.4h0M271.2 515.5h0M264.4 496.3h0M265.7 497.3h0M265.6 500.5h0M261.6 635.1h0M264.1 499.8h0M261.0 635.1h0M261.1 634.8h0M262.6 635.5h0M261.8 635.0h0M263.5 636.0h0M264.2 502.1h0M264.3 500.7h0M264.3 500.9h0M261.6 635.7h0M261.3 545.8h0M267.2 498.4h0M261.3 544.7h0M261.0 544.9h0M268.6 496.9h0M262.5 544.4h0M262.8 546.1h0M270.6 512.1h0M271.7 512.0h0M272.4 512.3h0M271.8 511.3h0M262.7 520.8h0M268.4 491.0h0M267.5 490.9h0M267.1 491.5h0M267.5 491.6h0M267.2 491.8h0M262.2 631.8h0M267.1 502.1h0M261.2 632.6h0M263.4 632.0h0M263.6 514.5h0M262.1 631.5h0M263.2 514.6h0M266.3 504.2h0M262.0 514.7h0M269.3 500.0h0M267.1 501.8h0M263.7 632.6h0M268.2 501.4h0M263.2 544.1h0M261.3 543.1h0M262.5 542.1h0M263.7 542.7h0M262.6 543.4h0M262.0 542.5h0M262.7 509.1h0M262.0 510.2h0M263.8 510.4h0M266.7 487.6h0M264.3 489.6h0M264.3 487.5h0M262.8 631.0h0M261.6 629.6h0M262.7 540.6h0M262.6 540.2h0M268.1 522.7h0M268.8 522.9h0M263.9 629.5h0M261.8 629.4h0M261.3 629.7h0M267.9 522.9h0M267.8 493.5h0M267.8 496.2h0M269.4 494.3h0M268.0 494.7h0M269.1 495.8h0M263.1 512.4h0M261.4 512.6h0M262.9 513.8h0M263.6 537.8h0M268.2 504.1h0M268.8 504.1h0M269.9 504.4h0M262.1 537.8h0M268.4 503.3h0M261.6 537.9h0M264.3 547.6h0M267.3 537.3h0M267.7 535.5h0M266.7 491.3h0M264.8 492.3h0M265.1 495.9h0M265.9 495.0h0M266.5 493.7h0M264.8 496.0h0M266.1 494.2h0M267.4 525.3h0M267.1 523.8h0M268.9 523.2h0M267.9 519.6h0M268.9 533.7h0M268.5 533.9h0M268.7 539.2h0M269.9 518.0h0M267.8 518.6h0M269.0 538.4h0M269.2 532.4h0M262.7 525.9h0M261.7 526.1h0M269.0 544.7h0M267.9 545.3h0M268.1 545.3h0M263.2 534.2h0M265.7 505.7h0M267.2 507.2h0M267.9 506.2h0M266.1 518.1h0M265.8 517.6h0M264.7 518.5h0M269.2 528.4h0M268.5 542.0h0M269.9 528.1h0M268.3 542.8h0M268.2 543.8h0M269.1 543.5h0M268.4 544.0h0M267.6 543.2h0M266.9 544.9h0M265.5 544.7h0M268.0 514.7h0M268.5 515.8h0M269.0 530.5h0M268.5 530.7h0M268.1 514.6h0M268.1 529.4h0M268.7 530.5h0M265.6 516.5h0M266.4 516.2h0M266.5 514.6h0M263.1 527.0h0M264.1 510.5h0M264.4 509.1h0M267.0 508.5h0M263.3 529.3h0M263.8 529.3h0M270.0 509.2h0M266.6 524.6h0M265.2 540.2h0M264.8 544.2h0M266.5 525.0h0M264.6 542.2h0M266.6 538.5h0M265.1 523.3h0M266.6 540.9h0M268.3 514.0h0M267.9 514.0h0M265.6 514.2h0M264.3 512.6h0M265.8 533.9h0M266.6 534.1h0M264.9 535.1h0M266.2 535.2h0M266.7 526.2h0M266.2 528.1h0M264.2 531.8h0M265.2 531.1h0M265.6 531.7h0M689.0 593.7h0M713.5 675.4h0M711.9 687.5h0M693.6 567.5h0M721.0 597.7h0M695.0 612.8h0M712.1 602.4h0M669.3 566.5h0M714.8 633.3h0M679.0 612.6h0M697.0 594.1h0M731.2 674.6h0M733.8 596.5h0M659.4 601.0h0M735.0 607.8h0M685.6 576.3h0M730.7 570.0h0M652.3 683.2h0M675.7 506.2h0M695.8 634.5h0M728.8 632.9h0M732.4 576.9h0M690.5 530.6h0M617.0 526.0h0M674.9 576.1h0M673.9 663.0h0M663.3 576.2h0M672.3 525.0h0M647.1 543.4h0M686.0 630.3h0M716.3 663.2h0M722.5 664.0h0M638.5 509.5h0M670.5 629.0h0M625.9 513.9h0M714.5 573.2h0M737.5 576.4h0M705.5 627.9h0M713.2 565.8h0M649.3 528.1h0M650.6 695.7h0M670.9 622.0h0M659.2 689.9h0M725.2 618.7h0M647.8 577.1h0M658.5 615.9h0M700.8 628.7h0M667.7 579.3h0M676.7 637.0h0M696.5 665.8h0M649.7 590.8h0M670.8 609.8h0M667.6 615.2h0M671.2 682.8h0M729.4 617.5h0M657.9 697.9h0M678.5 633.4h0M683.9 697.8h0M650.0 548.0h0M655.1 619.9h0M675.1 599.9h0M663.8 664.1h0M690.0 646.9h0M683.7 648.7h0M671.2 639.8h0M616.8 516.3h0M651.6 586.3h0M718.1 651.6h0M699.1 696.9h0M716.7 652.3h0M634.5 547.4h0M702.7 655.6h0M635.0 514.8h0M696.2 662.1h0M614.6 498.3h0M648.9 580.7h0M667.6 595.0h0M670.5 590.6h0M737.8 692.4h0M664.1 648.4h0M677.9 684.5h0M737.2 694.8h0M638.7 549.1h0M700.2 697.2h0M654.6 527.8h0M738.2 637.9h0M667.9 672.3h0M700.5 655.3h0M714.1 700.0h0M676.9 688.1h0M734.8 639.5h0M722.6 703.5h0M623.3 524.9h0M670.2 668.7h0M688.7 654.9h0M665.3 528.5h0M671.9 649.7h0M675.9 698.6h0M690.9 510.5h0M637.9 493.2h0M655.7 695.9h0M647.9 513.2h0M650.3 674.3h0M669.7 542.2h0M619.2 516.1h0M661.7 527.4h0M673.6 593.2h0M613.9 542.0h0M684.0 523.0h0M670.8 536.7h0M648.1 624.1h0M633.2 526.2h0M688.9 652.5h0M719.5 699.9h0M639.5 492.4h0M677.7 693.8h0M692.0 548.6h0M621.0 507.5h0M627.5 489.5h0M637.4 521.8h0M675.0 538.0h0M637.7 520.1h0M659.6 658.2h0M648.7 633.7h0M670.5 648.3h0M690.5 554.6h0M691.4 511.5h0M675.9 534.6h0M616.8 548.2h0M651.5 664.2h0M649.8 632.2h0M630.6 488.9h0M685.7 554.2h0M620.6 491.2h0M647.6 626.7h0M651.2 627.4h0M616.0 540.7h0M629.2 502.5h0M653.3 657.4h0M625.3 533.4h0M632.7 491.2h0M717.2 708.1h0M649.6 669.8h0M654.1 637.4h0M715.5 708.3h0M682.4 512.3h0M686.6 552.2h0M626.1 547.6h0M628.4 500.5h0M655.8 505.8h0M622.9 504.7h0M650.7 668.3h0M618.7 545.4h0M625.3 525.6h0M683.6 544.6h0M656.6 662.4h0M653.3 654.3h0M682.7 519.7h0M658.4 505.8h0M655.6 647.0h0M626.0 552.0h0M683.6 536.3h0M620.4 495.8h0M654.7 661.7h0M659.1 507.3h0M664.5 549.8h0M665.6 551.0h0M625.1 495.3h0M656.5 514.2h0M656.9 543.4h0M665.7 548.6h0M625.5 529.3h0M619.3 492.8h0M654.4 641.0h0M648.8 514.3h0M688.5 513.8h0M690.3 544.2h0M660.3 541.8h0M621.8 549.4h0M621.9 503.5h0M637.1 539.0h0M652.7 643.2h0M651.8 648.7h0M657.6 547.5h0M637.8 539.2h0M654.7 546.4h0M624.8 499.1h0M632.2 532.4h0M631.8 534.7h0M653.7 516.0h0M635.3 539.0h0M682.2 515.4h0M684.2 519.2h0M635.3 535.0h0M651.9 647.4h0M686.1 515.8h0M657.2 511.7h0M659.8 545.7h0M686.7 538.6h0M684.0 538.3h0M623.7 552.8h0M654.1 511.7h0M684.5 541.9h0M684.7 541.6h0M633.8 564.5h0M621.1 566.7h0M633.5 620.5h0M634.1 589.0h0M633.7 645.3h0M626.7 555.7h0M621.4 653.2h0M632.9 559.1h0M620.4 706.4h0M635.3 686.6h0M621.6 559.5h0M623.4 559.7h0M619.9 587.7h0M634.6 669.0h0M621.4 678.6h0M621.3 650.2h0M635.7 693.8h0M635.8 662.2h0M634.4 690.1h0M621.1 613.0h0M634.5 656.2h0M619.8 611.7h0M633.7 576.6h0M618.6 705.3h0M620.3 575.5h0M619.9 660.7h0M619.1 669.2h0M621.3 601.9h0M620.4 664.7h0M619.9 594.8h0M619.7 599.4h0M628.4 560.7h0M630.0 561.3h0M627.8 561.4h0M626.3 560.8h0M627.2 560.7h0M621.2 688.0h0M620.1 693.6h0M621.4 693.4h0M621.7 705.7h0M632.3 703.0h0M623.7 707.6h0M624.4 706.0h0M622.5 708.0h0M633.1 702.8h0M621.4 637.7h0M621.3 636.6h0M631.7 593.8h0M632.9 589.9h0M631.6 591.5h0M621.2 644.2h0M621.2 643.3h0M631.9 607.8h0M631.6 570.0h0M627.8 707.2h0M628.5 707.8h0M631.5 624.2h0M631.5 621.6h0M621.9 656.3h0M623.5 655.7h0M631.2 619.0h0M621.5 657.3h0M628.4 563.7h0M627.7 561.7h0M627.8 562.6h0M628.0 563.5h0M628.1 561.9h0M628.3 563.1h0M633.2 615.0h0M623.0 589.3h0M623.6 591.3h0M633.1 680.6h0M632.0 586.2h0M625.3 561.6h0M627.0 563.4h0M626.4 563.3h0M625.8 562.6h0M625.8 563.0h0M631.5 670.9h0M630.7 629.9h0M630.7 670.4h0M623.3 594.4h0M633.0 663.1h0M631.6 663.2h0M632.6 649.2h0M631.3 649.5h0M632.2 648.8h0M630.7 655.8h0M631.1 656.1h0M633.3 638.7h0M630.7 655.5h0M632.1 668.9h0M630.5 666.7h0M631.3 658.0h0M631.2 658.0h0M632.1 664.8h0M631.1 633.8h0M630.6 664.9h0M633.0 634.2h0M632.6 646.7h0M631.0 646.5h0M631.1 647.9h0M633.4 646.5h0M631.1 635.3h0M632.5 682.7h0M622.5 658.6h0M622.4 658.6h0M623.0 587.0h0M624.5 657.9h0M625.6 706.0h0M627.3 708.2h0M622.0 586.4h0M627.3 705.6h0M627.1 706.0h0M625.0 707.6h0M627.2 708.3h0M632.6 641.6h0M632.5 642.2h0M622.1 672.7h0M623.7 674.5h0M623.0 674.1h0M630.8 603.1h0M630.5 601.9h0M631.4 601.3h0M630.8 601.1h0M624.1 671.4h0M633.1 684.8h0M630.9 654.5h0M632.5 652.7h0M630.6 653.8h0M631.0 654.4h0M631.4 572.8h0M631.1 598.4h0M622.5 663.1h0M632.5 600.5h0M631.1 599.8h0M633.4 598.0h0M622.8 663.4h0M623.2 663.1h0M632.7 688.6h0M628.0 566.7h0M628.7 566.9h0M632.3 687.7h0M632.6 688.1h0M623.3 616.4h0M624.3 617.1h0M621.7 703.1h0M623.4 680.3h0M624.3 678.9h0M624.3 612.6h0M622.7 610.9h0M624.2 611.3h0M623.6 611.5h0M632.9 583.6h0M633.4 585.6h0M632.7 692.5h0M632.3 692.2h0M631.6 691.4h0M623.4 668.6h0M630.6 698.2h0M631.7 696.9h0M632.3 697.8h0M622.8 667.1h0M622.3 668.9h0M624.1 665.0h0M623.5 583.8h0M623.9 666.4h0M623.9 664.3h0M624.3 597.4h0M624.2 594.7h0M622.9 596.5h0M624.0 647.3h0M630.8 695.2h0M621.5 602.0h0M623.7 624.2h0M622.7 621.9h0M623.6 622.6h0M624.3 602.0h0M622.1 573.0h0M623.1 571.8h0M626.6 565.1h0M624.7 566.7h0M623.5 579.7h0M623.3 580.4h0M622.3 580.5h0M627.6 589.5h0M627.6 590.6h0M628.7 589.2h0M622.9 579.1h0M630.6 580.0h0M631.4 580.8h0M628.9 591.1h0M628.7 593.1h0M628.0 593.1h0M629.8 592.0h0M623.4 573.6h0M627.7 591.6h0M628.5 594.2h0M632.2 575.2h0M624.2 597.6h0M631.5 575.6h0M624.4 599.7h0M624.1 599.4h0M623.5 598.5h0M633.3 574.4h0M622.1 684.6h0M622.1 687.0h0M623.0 627.5h0M624.9 656.3h0M626.4 656.2h0M625.2 655.7h0M627.9 651.6h0M626.3 589.6h0M624.6 589.7h0M625.2 589.5h0M624.8 590.2h0M627.8 656.5h0M623.7 633.0h0M627.9 657.4h0M624.6 594.1h0M626.3 594.5h0M627.4 592.4h0M629.0 702.7h0M628.2 704.4h0M627.9 705.4h0M628.8 702.8h0M628.5 703.5h0M632.4 577.4h0M630.5 577.3h0M630.8 578.5h0M630.5 578.5h0M629.1 609.1h0M627.1 653.7h0M626.5 654.1h0M625.1 654.1h0M626.5 652.9h0M628.1 607.3h0M627.9 606.9h0M625.0 652.1h0M625.0 651.5h0M626.7 651.3h0M625.0 648.8h0M626.9 650.0h0M626.5 649.4h0M622.0 702.5h0M621.8 689.0h0M630.1 569.8h0M629.3 652.1h0M622.0 688.4h0M629.5 651.7h0M628.1 651.8h0M628.8 654.4h0M622.9 689.5h0M628.0 569.9h0M624.3 634.4h0M623.8 633.9h0M622.5 635.1h0M623.1 634.2h0M625.7 657.8h0M626.9 660.6h0M627.9 662.6h0M627.0 658.9h0M626.6 658.2h0M628.1 661.9h0M627.7 658.7h0M628.4 657.8h0M628.9 659.5h0M627.9 659.3h0M630.3 659.8h0M629.3 596.6h0M627.8 676.3h0M628.7 677.4h0M628.2 676.5h0M630.1 676.3h0M628.0 620.9h0M624.0 628.4h0M630.5 620.2h0M623.1 627.7h0M623.3 629.0h0M624.1 630.1h0M626.4 663.5h0M630.0 620.1h0M622.4 628.5h0M623.5 629.4h0M621.7 630.4h0M629.4 621.1h0M627.7 620.3h0M624.0 629.6h0M630.4 620.4h0M627.5 586.2h0M627.6 586.1h0M628.2 586.5h0M630.2 673.6h0M629.8 606.5h0M627.8 675.0h0M628.7 605.5h0M630.0 675.1h0M627.8 606.1h0M629.4 674.6h0M628.7 673.0h0M628.9 604.3h0M627.7 604.9h0M625.1 609.0h0M628.1 646.7h0M627.8 646.2h0M625.1 606.7h0M627.0 609.5h0M629.1 646.4h0M626.5 609.0h0M622.5 692.1h0M622.9 691.5h0M629.0 624.3h0M629.8 609.8h0M629.4 611.4h0M627.9 623.7h0M628.6 611.9h0M627.5 610.9h0M623.2 690.9h0M630.3 611.1h0M629.3 611.9h0M623.7 692.6h0M624.3 643.9h0M624.3 644.3h0M622.1 645.0h0M623.9 645.3h0M623.7 643.7h0M623.9 698.9h0M622.7 699.5h0M622.2 698.3h0M623.9 697.5h0M624.4 697.2h0M628.9 671.1h0M625.2 585.9h0M630.2 672.0h0M628.9 671.0h0M627.4 588.3h0M627.2 586.0h0M628.0 670.8h0M627.3 587.2h0M628.3 669.7h0M629.5 672.6h0M626.1 587.7h0M626.5 704.8h0M625.1 703.6h0M625.4 704.6h0M625.6 702.6h0M626.0 704.3h0M628.2 663.9h0M628.9 663.9h0M627.8 664.9h0M629.1 664.5h0M626.5 676.4h0M626.6 676.1h0M625.5 677.7h0M625.9 677.3h0M630.1 664.0h0M628.0 615.7h0M630.1 616.4h0M628.9 615.6h0M628.2 617.5h0M626.5 674.7h0M626.5 674.6h0M626.1 675.3h0M626.2 673.5h0M628.1 668.6h0M628.7 669.1h0M627.1 673.0h0M625.9 674.7h0M622.7 637.1h0M628.2 669.5h0M627.5 668.9h0M629.7 667.9h0M626.8 673.6h0M622.0 694.3h0M626.7 672.2h0M623.4 696.4h0M625.0 669.7h0M624.7 670.2h0M626.4 619.0h0M624.6 621.6h0M626.6 568.2h0M626.9 619.9h0M627.4 568.9h0M624.7 618.8h0M627.1 568.2h0M626.9 568.7h0M624.9 568.5h0M625.9 568.0h0M626.9 568.3h0M625.6 619.8h0M626.7 621.0h0M625.2 569.7h0M626.2 568.2h0M626.8 665.3h0M624.5 666.3h0M627.2 664.2h0M626.6 664.8h0M627.3 665.0h0M628.5 612.7h0M628.1 612.8h0M627.5 613.9h0M626.3 604.9h0M625.8 605.9h0M626.6 606.3h0M629.3 614.6h0M628.0 613.1h0M624.9 606.1h0M627.6 614.2h0M629.2 680.9h0M629.5 681.2h0M627.9 679.5h0M628.2 680.9h0M629.6 678.8h0M628.7 680.0h0M626.9 595.0h0M626.9 596.4h0M624.9 594.7h0M626.2 596.6h0M625.0 596.3h0M626.6 595.6h0M625.6 668.3h0M626.2 667.2h0M627.9 643.4h0M627.2 667.7h0M627.4 668.7h0M628.3 645.0h0M626.8 669.0h0M628.4 600.7h0M628.2 601.7h0M627.5 625.1h0M629.2 626.8h0M630.4 625.4h0M627.1 648.1h0M624.6 612.5h0M625.5 611.3h0M626.5 612.0h0M627.3 611.6h0M625.3 645.7h0M625.0 611.7h0M624.8 646.2h0M625.6 646.4h0M625.5 648.5h0M625.9 612.0h0M627.1 612.1h0M627.4 647.3h0M626.1 610.6h0M625.8 646.5h0M629.2 681.7h0M629.5 682.3h0M629.5 683.4h0M628.5 682.2h0M628.6 684.1h0M626.5 618.5h0M627.3 617.7h0M626.7 616.8h0M626.5 615.7h0M626.2 615.8h0M625.4 617.1h0M627.7 632.0h0M628.9 632.3h0M629.2 632.2h0M629.3 631.0h0M627.7 631.5h0M626.3 622.7h0M626.7 623.3h0M626.8 622.9h0M626.6 622.5h0M624.7 622.9h0M625.4 622.6h0M625.1 612.8h0M625.7 613.9h0M628.1 686.1h0M626.0 612.8h0M626.7 613.4h0M629.3 686.0h0M629.9 686.1h0M627.9 597.6h0M628.2 599.7h0M629.1 598.9h0M627.9 599.7h0M628.7 598.8h0M627.9 600.1h0M628.4 597.9h0M629.0 598.9h0M628.3 600.1h0M627.5 679.0h0M623.4 642.3h0M623.9 639.9h0M626.2 680.3h0M628.3 690.5h0M626.7 681.5h0M623.8 640.5h0M626.2 680.2h0M626.4 680.0h0M628.0 690.4h0M624.3 641.8h0M625.5 680.3h0M629.8 689.8h0M622.5 642.3h0M630.4 571.6h0M627.6 571.5h0M627.9 571.8h0M627.6 572.2h0M628.2 572.9h0M629.0 572.3h0M627.8 635.1h0M627.7 636.3h0M630.1 702.3h0M629.7 701.7h0M628.5 701.1h0M628.1 630.5h0M629.3 628.1h0M629.8 629.3h0M629.6 630.0h0M628.1 627.9h0M628.9 628.3h0M626.5 603.0h0M628.9 585.3h0M625.4 602.9h0M626.8 603.1h0M627.7 585.2h0M627.7 582.9h0M625.5 603.2h0M628.9 585.1h0M629.8 585.4h0M628.9 691.6h0M624.5 585.1h0M626.7 583.6h0M627.2 584.0h0M625.0 583.7h0M627.4 682.1h0M626.1 683.4h0M626.8 681.7h0M629.3 640.6h0M628.6 640.1h0M625.3 633.2h0M625.9 627.0h0M627.0 626.8h0M626.0 626.5h0M626.9 598.1h0M627.3 599.9h0M624.5 685.2h0M625.6 685.2h0M626.5 687.4h0M626.6 685.5h0M627.5 571.4h0M626.8 572.3h0M624.5 572.7h0M625.3 572.9h0M627.2 570.7h0M627.3 571.9h0M627.1 571.9h0M628.3 694.7h0M630.0 694.9h0M629.6 694.3h0M627.8 696.2h0M629.9 695.6h0M629.2 580.2h0M628.4 697.6h0M625.3 689.6h0M627.3 690.6h0M625.5 688.3h0M626.8 580.8h0M629.8 575.9h0M628.5 575.0h0M626.6 628.0h0M625.4 629.3h0M626.1 700.8h0M625.2 702.5h0M626.1 639.4h0M626.1 639.6h0M627.3 638.4h0M625.9 690.8h0M625.5 692.0h0M628.8 578.6h0M627.0 577.4h0M626.9 577.3h0M625.3 574.7h0M625.8 576.6h0M625.7 574.3h0M625.4 577.8h0M627.0 573.8h0M625.2 574.2h0M626.3 641.6h0M624.8 639.7h0M626.8 640.3h0M624.5 697.2h0M625.3 697.8h0M626.2 698.8h0M626.1 697.3h0M626.4 696.1h0M625.2 695.6h0M626.3 695.4h0M627.0 694.0h0M626.5 695.0h0M1071.9 618.5h0M1039.7 665.2h0M1035.0 605.3h0M1020.3 599.0h0M1059.1 586.4h0M1076.5 600.8h0M1024.9 618.1h0M1105.7 669.9h0M1112.3 629.0h0M1040.4 678.9h0M1118.7 617.6h0M1014.0 696.7h0M1028.6 594.1h0M1049.2 683.2h0M1051.5 590.5h0M1078.2 564.1h0M1032.2 667.0h0M1051.6 548.7h0M1051.7 507.5h0M1031.8 673.7h0M1058.8 509.6h0M1118.6 647.5h0M1114.9 640.2h0M1036.1 685.9h0M1028.1 578.6h0M1015.5 705.0h0M1014.6 682.6h0M1020.9 703.5h0M1054.7 705.1h0M1013.3 536.3h0M1013.4 664.1h0M1026.5 670.2h0M1049.6 639.6h0M1015.2 657.3h0M1036.6 636.0h0M1055.4 565.0h0M1054.9 629.2h0M1036.3 694.0h0M1030.3 694.6h0M1039.4 643.1h0M1043.3 565.8h0M1039.1 649.1h0M1043.0 653.6h0M1032.6 554.7h0M1041.9 596.2h0M1028.4 570.6h0M1040.2 594.2h0M1044.1 544.8h0M1046.6 636.7h0M1048.9 698.9h0M1040.7 637.1h0M1040.7 576.3h0M992.9 467.4h0M1052.5 653.5h0M1043.3 512.5h0M1033.8 626.0h0M1046.0 608.7h0M1046.1 604.1h0M1045.4 574.5h0M1024.7 644.4h0M1016.9 677.0h0M1004.9 496.1h0M1045.3 519.1h0M1019.1 678.5h0M1013.0 646.1h0M1023.8 640.4h0M1058.0 605.7h0M1020.9 656.0h0M1050.4 654.6h0M1029.6 572.4h0M1029.0 628.6h0M1014.8 521.9h0M1014.5 644.1h0M1059.6 621.0h0M1018.4 549.4h0M1046.9 705.1h0M989.1 471.5h0M1059.5 669.5h0M1015.5 622.1h0M1017.2 625.4h0M1056.0 666.1h0M1041.1 701.5h0M999.5 492.1h0M1051.3 568.2h0M1017.4 508.5h0M1019.0 551.5h0M1056.4 667.9h0M1032.5 630.0h0M1021.2 645.3h0M997.6 487.7h0M1031.3 705.5h0M1011.1 508.9h0M1013.7 625.6h0M1050.4 565.7h0M1033.6 547.5h0M1049.5 705.9h0M1057.4 601.7h0M1054.3 621.3h0M1055.0 603.4h0M1020.3 508.9h0M1023.2 552.6h0M1046.6 539.8h0M1022.4 662.9h0M1018.2 661.6h0M1022.2 662.1h0M1019.9 542.0h0M987.9 480.8h0M999.6 481.3h0M1030.2 510.7h0M1005.5 475.1h0M1005.6 475.8h0M1024.7 510.0h0M1053.6 623.4h0M1055.7 624.7h0M1037.2 513.5h0M1032.3 701.4h0M1007.0 510.4h0M1027.9 547.4h0M1036.7 701.9h0M1004.4 482.4h0M1005.2 482.6h0M1009.0 546.1h0M1047.0 532.1h0M1035.2 701.0h0M987.8 491.8h0M985.2 489.0h0M997.5 474.3h0M1007.8 548.2h0M1023.8 539.8h0M1035.7 511.2h0M1024.1 545.9h0M1002.7 504.9h0M994.4 475.2h0M994.4 493.6h0M1039.9 525.8h0M1039.7 525.6h0M1039.9 539.9h0M1027.5 542.9h0M1033.4 538.6h0M995.9 475.4h0M1028.7 541.6h0M989.0 483.2h0M1036.2 539.0h0M997.5 476.5h0M1000.0 497.6h0M1006.6 536.7h0M1004.8 509.8h0M1019.3 527.6h0M991.0 501.7h0M990.2 500.3h0M989.5 487.2h0M1007.3 525.2h0M1024.5 532.1h0M1021.7 533.7h0M1032.0 513.7h0M1035.5 521.0h0M992.1 498.1h0M1044.9 532.9h0M1040.9 537.4h0M1043.7 532.1h0M1040.6 531.2h0M998.9 500.1h0M1030.4 535.5h0M986.7 485.7h0M1033.9 536.8h0M987.7 484.9h0M987.3 484.1h0M1039.4 526.5h0M1020.2 516.2h0M1031.8 514.4h0M986.0 509.7h0M1039.1 534.9h0M997.2 500.2h0M985.2 553.0h0M1033.0 519.4h0M1032.0 518.9h0M1024.1 528.5h0M984.6 535.4h0M1020.0 522.9h0M985.5 633.7h0M1024.8 514.8h0M1032.3 533.1h0M999.7 505.7h0M1033.6 526.4h0M1021.6 517.5h0M1024.8 531.1h0M1031.6 524.6h0M1035.6 532.0h0M992.4 503.7h0M1000.9 600.5h0M1005.9 547.8h0M995.7 502.8h0M1006.5 519.6h0M1002.8 685.6h0M1023.6 524.1h0M1031.6 529.6h0M1031.4 531.0h0M1029.3 530.0h0M1006.1 526.2h0M1026.6 528.2h0M1029.1 528.4h0M1029.7 521.8h0M1029.5 522.6h0M1004.5 541.0h0M1022.4 519.7h0M1021.6 518.4h0M1001.1 633.5h0M1022.5 517.3h0M1023.7 518.4h0M1026.2 525.2h0M994.8 506.4h0M1001.8 511.1h0M1004.5 525.1h0M1004.5 525.6h0M1001.8 513.9h0M1027.0 521.8h0M991.8 507.7h0M990.4 510.4h0M1004.3 536.9h0M986.9 515.7h0M988.1 516.2h0M1000.7 635.1h0M1002.8 588.5h0M987.7 524.5h0M987.9 554.8h0M987.3 522.1h0M987.0 526.1h0M987.7 527.1h0M1001.6 616.5h0M995.4 706.9h0M997.3 508.4h0M987.7 530.0h0M988.0 564.0h0M989.4 706.6h0M989.6 706.0h0M993.4 509.7h0M993.1 510.9h0M1001.0 557.2h0M1003.5 545.9h0M991.5 511.3h0M990.8 513.2h0M997.6 511.5h0M993.0 706.3h0M1002.0 548.9h0M986.7 573.7h0M1001.9 553.6h0M1002.6 553.4h0M988.5 535.1h0M986.3 536.9h0M987.5 701.3h0M1001.3 525.2h0M1001.6 552.6h0M1000.8 521.6h0M1002.6 522.0h0M1001.4 540.3h0M994.5 513.4h0M992.4 512.0h0M993.9 512.5h0M991.1 516.0h0M988.9 515.1h0M1002.4 530.8h0M987.0 603.9h0M986.0 688.0h0M991.1 557.5h0M990.1 557.6h0M987.7 694.8h0M988.3 633.8h0M987.6 699.9h0M988.1 604.1h0M988.4 605.7h0M987.9 631.5h0M988.0 605.7h0M989.8 560.7h0M987.9 683.6h0M988.2 683.7h0M986.5 599.3h0M996.5 704.4h0M991.3 527.7h0M995.5 703.9h0M995.4 705.5h0M988.0 647.2h0M990.0 517.9h0M990.3 517.6h0M991.3 554.1h0M990.5 555.3h0M1001.4 535.8h0M991.0 529.4h0M1001.9 535.0h0M987.4 540.1h0M998.5 693.1h0M1000.8 533.4h0M1000.7 532.9h0M999.8 514.6h0M1000.4 514.7h0M999.4 514.3h0M991.5 520.9h0M990.2 522.0h0M988.6 611.6h0M997.8 600.0h0M987.6 645.3h0M990.5 705.9h0M998.4 557.5h0M997.7 557.8h0M999.0 689.3h0M990.9 704.8h0M1000.3 557.9h0M999.4 557.6h0M998.1 556.0h0M991.2 703.3h0M987.5 669.5h0M987.6 545.1h0M988.4 546.2h0M988.4 542.5h0M985.7 544.2h0M999.2 633.1h0M988.0 664.2h0M988.4 664.2h0M987.6 665.6h0M999.6 576.4h0M987.7 637.8h0M998.3 574.5h0M986.0 593.5h0M988.6 658.1h0M988.4 642.2h0M986.5 585.0h0M987.9 586.0h0M990.4 532.9h0M998.5 553.8h0M998.9 648.1h0M999.7 553.1h0M997.6 654.5h0M996.2 561.3h0M990.9 563.9h0M994.6 704.8h0M991.5 562.3h0M993.3 703.1h0M993.8 704.7h0M992.3 704.5h0M994.7 560.8h0M995.4 515.8h0M996.9 515.9h0M996.7 515.6h0M990.2 563.9h0M997.7 655.8h0M993.8 557.8h0M992.7 556.4h0M999.0 528.9h0M997.7 578.0h0M997.9 579.1h0M998.8 578.6h0M1000.0 671.8h0M999.9 671.0h0M999.0 671.2h0M996.3 700.8h0M996.1 700.1h0M995.2 702.2h0M999.0 674.1h0M998.7 659.3h0M993.0 560.9h0M994.3 559.4h0M993.6 560.3h0M998.7 524.5h0M998.4 524.1h0M998.8 676.6h0M992.4 553.7h0M999.8 551.0h0M998.1 677.4h0M999.4 552.3h0M1000.6 551.0h0M1000.5 552.7h0M997.8 551.1h0M997.1 556.2h0M995.6 559.0h0M996.0 557.5h0M997.7 544.3h0M998.5 545.0h0M997.7 546.6h0M990.3 552.2h0M989.4 550.2h0M988.8 551.2h0M999.0 541.6h0M991.4 552.3h0M998.8 542.8h0M990.3 551.2h0M991.2 550.8h0M998.7 517.2h0M999.2 518.1h0M999.1 517.8h0M998.3 517.3h0M998.0 519.9h0M1000.1 520.4h0M999.1 624.7h0M998.3 623.6h0M999.9 521.4h0M998.0 581.0h0M997.9 640.0h0M998.2 638.7h0M997.6 637.2h0M995.0 556.0h0M996.1 553.7h0M995.0 553.3h0M996.0 603.0h0M1000.3 529.4h0M999.4 530.6h0M997.8 597.8h0M991.2 537.3h0M999.4 530.2h0M990.9 536.6h0M999.5 529.4h0M989.7 536.6h0M992.5 527.4h0M994.5 527.0h0M992.4 527.3h0M994.4 528.3h0M991.7 526.6h0M990.6 702.2h0M992.4 517.5h0M994.4 517.3h0M993.0 519.4h0M995.4 562.4h0M991.1 702.3h0M994.8 562.5h0M990.4 702.3h0M993.4 517.2h0M990.3 567.1h0M997.9 585.5h0M995.2 528.2h0M994.4 523.4h0M992.3 524.0h0M999.1 621.0h0M999.7 541.0h0M997.8 540.1h0M990.2 602.1h0M991.2 603.3h0M990.0 602.9h0M991.6 601.7h0M992.5 530.9h0M994.6 521.7h0M993.6 520.7h0M994.4 529.7h0M991.7 529.0h0M993.7 529.3h0M993.0 522.1h0M992.2 520.6h0M994.5 529.2h0M995.1 698.3h0M997.0 699.6h0M996.4 699.8h0M995.8 605.6h0M996.3 604.6h0M990.8 547.9h0M995.4 524.6h0M996.1 525.2h0M996.0 524.7h0M996.9 525.2h0M995.9 523.4h0M997.1 525.6h0M991.5 573.3h0M991.3 572.1h0M991.1 571.4h0M990.9 572.3h0M989.4 572.7h0M990.4 575.4h0M988.9 605.9h0M995.5 517.4h0M994.8 519.0h0M994.6 519.3h0M996.9 518.0h0M995.4 519.5h0M1000.2 532.8h0M998.3 534.8h0M991.6 568.5h0M998.8 533.2h0M990.4 568.3h0M998.7 536.5h0M998.4 534.0h0M999.3 534.2h0M999.7 536.8h0M989.9 569.6h0M998.0 536.1h0M995.6 531.4h0M997.0 531.8h0M994.3 564.9h0M997.5 520.6h0M996.6 520.8h0M993.9 564.0h0M991.8 564.2h0M994.7 522.0h0M994.4 563.6h0M992.4 563.7h0M996.3 520.4h0M996.9 551.2h0M997.4 550.2h0M996.6 552.9h0M993.0 552.4h0M992.0 700.4h0M993.0 700.8h0M993.6 551.6h0M993.2 701.5h0M992.6 701.7h0M993.0 701.5h0M993.7 700.8h0M991.7 552.1h0M991.3 699.1h0M990.9 699.2h0M989.3 699.5h0M990.8 697.6h0M990.6 699.7h0M997.9 594.0h0M999.9 593.2h0M997.6 592.4h0M996.2 696.6h0M998.4 591.3h0M1000.0 591.0h0M996.3 694.7h0M992.7 534.9h0M991.5 693.8h0M989.0 692.3h0M990.5 693.7h0M991.6 632.7h0M991.6 539.4h0M988.9 538.7h0M991.0 538.1h0M991.4 539.2h0M996.9 548.1h0M991.5 696.6h0M990.1 696.1h0M995.1 549.1h0M995.3 567.9h0M995.3 567.3h0M995.9 567.3h0M991.0 695.7h0M996.2 566.1h0M996.2 549.7h0M990.0 598.4h0M996.6 565.3h0M995.5 565.3h0M991.5 598.1h0M991.4 600.4h0M990.1 688.3h0M991.3 690.6h0M989.3 678.2h0M990.4 678.8h0M990.2 676.8h0M990.6 679.3h0M989.8 674.9h0M991.5 675.9h0M989.2 675.1h0M989.5 674.3h0M991.5 675.5h0M989.3 686.4h0M990.4 685.9h0M989.7 685.5h0M994.7 598.7h0M990.8 578.7h0M990.1 577.7h0M989.7 577.1h0M996.7 600.1h0M995.1 599.3h0M989.6 542.1h0M989.0 543.3h0M989.4 541.1h0M991.4 545.3h0M990.1 546.9h0M991.5 545.2h0M991.5 545.3h0M989.6 546.9h0M995.2 691.6h0M997.0 694.0h0M994.7 693.3h0M996.8 574.6h0M995.7 691.6h0M993.5 602.4h0M995.3 692.6h0M993.7 603.3h0M995.4 576.8h0M991.1 630.2h0M989.8 629.0h0M992.4 602.2h0M991.6 601.3h0M995.4 691.1h0M993.6 602.3h0M990.7 629.6h0M995.1 609.6h0M995.1 608.5h0M995.8 610.0h0M996.4 607.7h0M996.4 607.9h0M997.4 631.3h0M996.1 631.1h0M994.8 633.7h0M995.7 631.3h0M994.8 631.8h0M996.1 628.0h0M994.9 628.9h0M996.5 630.0h0M989.3 684.9h0M996.3 533.0h0M997.2 571.9h0M996.8 573.9h0M994.8 532.2h0M990.3 684.1h0M995.0 533.8h0M996.2 533.7h0M996.3 571.6h0M995.0 532.1h0M997.2 533.6h0M995.9 571.1h0M988.7 683.1h0M995.2 572.7h0M990.0 682.5h0M995.6 533.9h0M996.9 571.9h0M988.8 684.6h0M995.3 573.9h0M991.1 682.5h0M993.7 547.6h0M993.9 547.8h0M991.6 550.0h0M993.4 548.3h0M991.6 547.4h0M995.6 569.2h0M990.4 634.0h0M995.2 570.7h0M991.0 635.9h0M989.4 634.5h0M990.6 636.5h0M995.3 689.3h0M997.5 569.6h0M995.3 690.4h0M996.2 570.9h0M997.2 570.3h0M995.4 569.7h0M989.6 634.6h0M988.8 635.5h0M997.3 688.3h0M992.7 535.3h0M993.0 536.8h0M993.0 537.3h0M990.1 672.9h0M993.7 535.4h0M989.7 670.1h0M993.5 606.8h0M992.3 604.1h0M993.6 605.1h0M993.9 604.2h0M994.4 604.4h0M993.4 607.0h0M994.1 605.6h0M997.5 546.5h0M991.5 647.5h0M995.8 545.0h0M991.0 646.1h0M996.2 544.6h0M997.4 544.4h0M994.2 699.1h0M996.8 542.9h0M994.4 698.3h0M992.8 699.4h0M995.5 541.7h0M993.5 697.3h0M996.1 541.9h0M993.4 567.4h0M991.7 566.4h0M992.9 566.9h0M994.0 567.3h0M991.8 567.4h0M993.6 565.2h0M994.1 565.6h0M994.7 687.7h0M995.0 685.1h0M996.1 685.6h0M996.3 535.0h0M995.4 536.1h0M996.7 687.9h0M995.0 538.0h0M997.3 536.5h0M991.0 649.3h0M989.3 651.4h0M989.9 649.2h0M990.8 667.1h0M990.1 667.3h0M990.1 668.5h0M991.2 645.1h0M989.7 643.5h0M989.1 597.4h0M990.4 597.8h0M990.8 666.3h0M989.7 666.0h0M990.8 665.0h0M990.2 664.2h0M995.1 539.9h0M995.3 539.9h0M996.2 538.6h0M995.6 579.0h0M996.0 540.3h0M991.6 580.1h0M989.6 582.8h0M990.9 582.3h0M989.9 581.7h0M990.5 581.8h0M990.9 581.8h0M992.8 574.0h0M993.7 572.4h0M991.3 611.6h0M991.4 612.3h0M990.3 611.7h0M990.1 610.6h0M991.5 610.8h0M990.3 611.6h0M989.3 610.2h0M990.6 610.7h0M993.5 575.5h0M994.0 575.4h0M991.4 654.3h0M994.9 634.6h0M994.1 575.7h0M997.0 634.8h0M993.1 576.5h0M993.0 574.8h0M995.2 636.3h0M992.1 575.2h0M996.9 636.3h0M995.8 635.6h0M991.2 638.6h0M994.9 683.8h0M989.3 639.7h0M994.8 683.8h0M990.4 638.1h0M990.9 637.8h0M989.0 639.6h0M995.0 682.0h0M997.0 684.5h0M994.9 684.5h0M996.3 682.6h0M995.9 682.5h0M995.8 649.3h0M991.9 631.2h0M994.0 633.3h0M993.0 633.3h0M994.7 650.0h0M992.0 633.6h0M996.9 649.6h0M992.7 569.1h0M992.6 569.4h0M992.8 568.2h0M994.4 569.1h0M992.3 570.7h0M992.9 568.0h0M992.0 570.3h0M993.7 570.5h0M995.2 673.5h0M996.2 675.2h0M997.3 676.0h0M995.0 675.0h0M994.7 673.5h0M993.9 696.6h0M994.3 696.1h0M994.1 694.1h0M994.5 694.8h0M995.8 672.1h0M993.1 695.2h0M992.2 695.8h0M994.5 694.5h0M996.8 670.2h0M993.9 696.8h0M989.8 662.5h0M990.0 661.4h0M994.7 681.6h0M997.3 681.6h0M994.7 627.7h0M991.6 662.1h0M995.5 680.5h0M995.8 680.4h0M990.9 661.1h0M996.5 681.6h0M994.8 681.0h0M994.8 680.7h0M994.7 627.7h0M996.2 648.6h0M997.2 669.4h0M995.6 646.3h0M994.7 667.9h0M996.5 668.7h0M995.3 669.0h0M994.7 647.8h0M995.0 648.2h0M995.3 647.7h0M989.2 627.1h0M991.5 627.0h0M989.8 627.4h0M990.6 627.9h0M989.6 615.4h0M995.0 676.1h0M991.2 642.3h0M989.6 640.9h0M994.9 676.8h0M996.7 677.0h0M988.6 615.3h0M994.8 676.6h0M995.0 677.4h0M997.2 678.3h0M990.6 642.7h0M991.5 613.6h0M990.8 615.0h0M989.9 642.3h0M992.3 599.3h0M993.3 600.9h0M993.6 600.0h0M994.2 600.9h0M993.2 598.3h0M993.8 538.9h0M993.1 538.2h0M992.4 538.1h0M997.2 652.4h0M992.0 539.2h0M995.5 654.0h0M995.1 653.6h0M992.0 539.2h0M991.4 660.8h0M994.1 539.0h0M993.5 539.4h0M991.6 693.3h0M994.5 608.4h0M992.0 691.1h0M994.5 608.3h0M991.6 693.2h0M993.4 693.8h0M993.8 691.9h0M993.8 607.6h0M994.2 693.3h0M994.4 608.7h0M992.5 692.9h0M991.7 608.4h0M993.5 691.1h0M992.7 609.5h0M996.2 666.1h0M996.4 666.6h0M996.5 664.1h0M996.7 664.1h0M995.3 665.4h0M995.6 644.0h0M994.7 643.4h0M995.1 664.2h0M995.0 666.0h0M996.7 643.2h0M996.9 643.6h0M990.3 655.7h0M990.8 656.7h0M988.9 657.2h0M989.9 655.6h0M991.4 657.5h0M989.9 657.4h0M990.5 657.6h0M988.9 655.7h0M992.7 546.5h0M993.0 545.9h0M993.5 544.7h0M992.1 545.0h0M993.8 544.4h0M994.4 546.7h0M992.8 546.0h0M993.9 545.1h0M992.8 689.7h0M992.8 689.4h0M994.3 541.8h0M994.1 543.4h0M992.6 541.9h0M994.6 689.3h0M994.0 688.7h0M992.6 541.7h0M993.6 543.5h0M994.4 689.3h0M992.0 690.9h0M994.0 688.3h0M992.3 541.6h0M989.8 583.6h0M990.0 583.8h0M992.5 687.1h0M992.9 685.0h0M993.2 685.8h0M992.6 686.8h0M993.5 687.1h0M994.4 629.9h0M994.7 657.3h0M993.5 629.2h0M992.8 630.2h0M993.9 629.1h0M995.1 657.0h0M992.2 628.8h0M996.3 656.3h0M994.3 628.5h0M994.3 629.0h0M989.0 594.7h0M989.6 594.7h0M990.0 594.1h0M991.5 592.1h0M989.1 592.9h0M996.4 610.3h0M997.5 611.5h0M995.6 611.6h0M996.0 612.3h0M997.6 612.8h0M996.2 612.1h0M995.1 610.2h0M995.9 611.3h0M995.7 582.0h0M996.3 580.6h0M994.7 582.5h0M996.0 580.8h0M995.8 580.2h0M996.2 582.5h0M993.7 679.8h0M994.4 681.3h0M993.9 680.5h0M994.2 681.5h0M994.6 679.5h0M995.0 637.0h0M990.2 617.1h0M996.9 638.8h0M993.5 634.9h0M994.4 636.7h0M995.0 638.4h0M994.8 638.9h0M995.4 640.0h0M993.9 635.2h0M990.2 618.8h0M994.6 638.8h0M996.8 663.9h0M995.4 662.8h0M995.3 661.4h0M996.1 663.6h0M995.8 661.8h0M994.8 663.9h0M997.3 663.9h0M995.7 662.3h0M991.5 586.2h0M991.0 588.5h0M991.3 587.2h0M995.3 658.0h0M996.0 659.7h0M994.4 677.2h0M993.2 677.8h0M993.9 677.5h0M995.4 659.1h0M992.7 676.9h0M993.0 678.7h0M994.6 595.7h0M993.7 683.2h0M995.7 596.5h0M993.6 682.5h0M993.2 683.5h0M991.7 684.5h0M996.0 596.5h0M996.0 595.0h0M992.5 683.6h0M994.9 595.8h0M992.9 682.6h0M994.0 684.8h0M992.3 579.0h0M994.0 577.6h0M991.6 578.9h0M994.3 577.9h0M994.5 578.8h0M992.2 577.9h0M995.1 641.1h0M995.0 640.2h0M990.1 620.4h0M990.6 591.3h0M990.5 590.5h0M990.8 620.2h0M990.5 620.0h0M995.7 640.3h0M991.1 590.6h0M989.7 621.3h0M991.4 620.2h0M989.8 619.9h0M991.5 624.1h0M992.0 674.8h0M993.2 675.4h0M993.9 675.4h0M993.4 673.0h0M989.6 622.8h0M990.8 623.3h0M994.6 675.1h0M993.0 673.2h0M995.5 622.7h0M995.8 622.6h0M997.1 622.8h0M992.9 670.2h0M993.7 672.8h0M992.8 672.2h0M993.7 672.2h0M991.7 671.8h0M994.1 670.4h0M993.4 671.5h0M996.8 613.9h0M997.5 613.7h0M996.0 614.5h0M997.4 614.6h0M995.8 615.1h0M995.6 583.1h0M995.5 584.2h0M993.4 669.3h0M993.1 667.5h0M994.6 664.1h0M993.9 665.8h0M993.0 664.1h0M994.3 640.0h0M991.8 637.1h0M992.9 637.1h0M992.9 638.5h0M994.2 637.2h0M993.2 637.8h0M993.1 611.7h0M993.1 611.0h0M993.5 612.7h0M992.0 611.8h0M992.8 610.9h0M992.8 647.3h0M992.7 648.5h0M991.6 647.3h0M992.2 647.2h0M991.9 646.8h0M993.2 649.6h0M993.1 651.6h0M994.4 650.1h0M992.9 650.0h0M997.4 588.0h0M993.7 644.3h0M993.8 645.3h0M996.3 620.7h0M993.7 580.4h0M992.2 581.2h0M993.1 581.5h0M993.8 580.8h0M992.2 595.0h0M992.6 596.6h0M993.1 625.6h0M993.7 625.4h0M991.7 625.8h0M994.1 596.9h0M992.4 626.4h0M993.7 596.0h0M991.9 627.4h0M994.0 596.7h0M992.5 595.1h0M995.6 618.9h0M995.7 616.6h0M995.9 618.9h0M995.6 617.1h0M995.8 618.7h0M994.9 618.1h0M992.9 661.8h0M997.1 616.1h0M995.1 594.0h0M996.0 594.8h0M994.7 592.6h0M996.4 593.0h0M993.4 652.0h0M992.8 641.4h0M993.5 641.3h0M992.1 642.0h0M992.1 642.3h0M992.2 640.9h0M993.9 613.7h0M997.4 590.4h0M994.7 590.3h0M993.8 659.8h0M994.4 659.4h0M992.0 659.6h0M994.1 655.2h0M993.6 655.5h0M993.4 656.4h0M993.2 656.6h0M992.1 657.7h0M993.6 657.9h0M992.7 585.9h0M992.8 619.0h0M992.4 623.1h0M994.1 623.7h0M994.6 623.6h0M993.3 621.5h0M991.9 620.7h0M991.7 587.8h0M991.7 586.3h0M992.8 591.2h0M994.0 590.3h0M333.0 1295.2h0M380.2 1272.3h0M314.2 1278.3h0M387.3 1469.8h0M302.6 1440.7h0M357.0 1456.6h0M343.2 1477.1h0M407.1 1466.7h0M341.7 1361.1h0M456.7 1413.7h0M328.4 1275.7h0M438.6 1284.6h0M350.6 1270.0h0M337.8 1454.5h0M320.5 1326.7h0M240.4 1284.5h0M388.2 1415.2h0M411.3 1281.3h0M299.9 1364.4h0M305.4 1266.5h0M455.9 1361.5h0M419.8 1281.2h0M333.4 1362.5h0M449.7 1428.9h0M394.6 1318.5h0M224.5 1390.9h0M210.7 1330.4h0M336.8 1351.5h0M300.9 1381.5h0M431.1 1440.8h0M206.6 1365.8h0M457.0 1351.9h0M339.5 1288.3h0M400.8 1300.5h0M371.0 1411.3h0M317.6 1479.1h0M325.0 1434.2h0M304.8 1287.4h0M332.4 1390.8h0M363.8 1355.8h0M428.7 1479.3h0M330.8 1461.6h0M352.5 1307.6h0M305.7 1414.3h0M379.7 1423.9h0M344.0 1464.1h0M446.5 1279.2h0M284.2 1358.2h0M211.3 1311.1h0M367.8 1479.1h0M313.3 1437.2h0M439.6 1370.0h0M422.6 1269.8h0M455.6 1476.4h0M352.4 1468.7h0M370.0 1460.0h0M415.9 1266.3h0M313.9 1443.9h0M434.7 1367.1h0M278.7 1302.6h0M456.6 1300.9h0M455.7 1337.1h0M456.1 1341.4h0M279.8 1402.0h0M456.0 1293.9h0M456.6 1461.7h0M274.6 1319.8h0M414.1 1367.3h0M351.8 1473.0h0M246.1 1334.7h0M253.7 1362.3h0M416.8 1370.9h0M278.4 1318.0h0M363.9 1441.3h0M362.0 1475.8h0M356.4 1476.7h0M453.2 1470.6h0M457.0 1375.2h0M309.6 1401.5h0M365.7 1467.6h0M455.6 1372.5h0M308.4 1404.9h0M326.5 1446.3h0M303.2 1471.0h0M302.0 1465.7h0M250.4 1396.9h0M272.7 1402.0h0M456.6 1468.1h0M251.2 1382.1h0M332.4 1443.9h0M365.9 1463.3h0M270.7 1413.8h0M358.7 1445.7h0M247.6 1416.1h0M264.6 1287.2h0M324.6 1347.5h0M250.8 1289.8h0M246.5 1325.3h0M275.0 1309.4h0M334.6 1323.9h0M335.8 1322.5h0M324.3 1348.3h0M363.6 1446.3h0M274.8 1338.8h0M328.7 1444.5h0M249.4 1345.6h0M274.8 1347.6h0M264.6 1359.9h0M308.9 1467.7h0M266.8 1355.7h0M310.2 1467.6h0M270.2 1289.9h0M250.1 1337.5h0M258.5 1358.6h0M269.5 1294.0h0M275.0 1341.3h0M258.6 1479.7h0M249.5 1326.2h0M267.2 1445.1h0M249.0 1316.8h0M265.9 1479.0h0M251.7 1417.6h0M271.1 1308.5h0M256.2 1375.9h0M250.0 1315.4h0M254.0 1474.2h0M257.5 1370.3h0M269.5 1305.4h0M269.2 1306.0h0M255.6 1475.0h0M266.5 1413.9h0M253.9 1410.5h0M267.7 1349.7h0M252.5 1310.0h0M258.2 1477.2h0M266.4 1474.1h0M252.7 1348.6h0M262.6 1478.3h0M252.8 1354.8h0M270.0 1382.5h0M271.5 1345.9h0M253.0 1353.4h0M273.4 1343.5h0M265.4 1310.1h0M266.5 1476.6h0M253.3 1318.0h0M253.2 1326.0h0M252.3 1389.3h0M252.9 1349.3h0M251.5 1388.9h0M268.5 1457.9h0M255.7 1396.4h0M268.9 1456.3h0M266.0 1329.2h0M267.8 1433.2h0M267.2 1347.8h0M255.0 1320.0h0M254.2 1431.9h0M254.6 1340.1h0M252.4 1314.8h0M263.1 1475.3h0M265.1 1351.4h0M267.3 1293.4h0M264.2 1471.1h0M253.9 1305.9h0M257.4 1374.2h0M265.4 1419.3h0M261.2 1474.0h0M266.6 1317.7h0M256.5 1344.0h0M261.0 1353.2h0M261.9 1352.8h0M256.0 1292.8h0M265.8 1323.2h0M256.5 1352.6h0M262.3 1374.4h0M262.1 1373.8h0M256.3 1466.8h0M260.0 1374.3h0M258.9 1350.3h0M263.0 1378.8h0M259.3 1413.1h0M255.4 1436.7h0M255.7 1307.3h0M254.5 1299.0h0M258.5 1348.3h0M267.5 1322.0h0M267.7 1338.1h0M254.4 1456.5h0M255.0 1337.0h0M256.5 1321.8h0M260.1 1346.9h0M257.9 1322.9h0M268.3 1342.3h0M267.3 1395.4h0M255.8 1330.6h0M254.4 1328.7h0M266.8 1382.0h0M255.6 1439.3h0M268.1 1396.0h0M255.8 1450.8h0M264.4 1329.0h0M266.0 1380.0h0M259.5 1306.3h0M260.5 1305.1h0M256.2 1332.5h0M255.5 1423.5h0M256.4 1461.9h0M253.7 1333.6h0M263.6 1448.1h0M255.7 1295.4h0M261.7 1414.7h0M260.7 1413.7h0M254.6 1310.3h0M263.2 1331.3h0M262.7 1332.1h0M265.3 1333.9h0M265.8 1452.7h0M261.8 1411.0h0M255.2 1447.1h0M261.4 1327.0h0M256.8 1330.5h0M259.0 1384.8h0M257.6 1335.5h0M264.1 1322.5h0M266.6 1398.5h0M261.0 1330.9h0M264.5 1318.8h0M258.0 1402.3h0M255.9 1444.0h0M262.5 1435.3h0M255.4 1444.0h0M256.5 1311.5h0M257.0 1311.7h0M258.5 1406.2h0M260.6 1321.5h0M264.6 1321.1h0M258.6 1435.5h0M260.7 1319.4h0M263.1 1320.8h0M258.3 1434.5h0M264.7 1337.4h0M260.2 1312.4h0M261.9 1317.5h0M261.7 1310.5h0M262.6 1451.0h0M261.5 1310.9h0M260.5 1310.4h0M264.4 1342.5h0M265.4 1299.7h0M264.8 1342.1h0M262.8 1300.6h0M262.1 1338.4h0M260.1 1341.3h0M263.6 1297.1h0M261.6 1341.9h0M263.4 1340.3h0M260.2 1294.0h0M260.2 1293.3h0M259.5 1438.1h0M262.2 1336.1h0M262.4 1380.4h0M266.4 1454.6h0M264.4 1395.0h0M264.0 1395.4h0M267.0 1459.6h0M258.2 1391.7h0M257.9 1394.0h0M264.4 1392.8h0M259.5 1416.7h0M258.2 1428.7h0M260.8 1408.8h0M262.1 1417.2h0M259.7 1468.4h0M261.6 1466.5h0M262.0 1442.5h0M259.9 1444.1h0M260.6 1442.4h0M257.8 1448.2h0M262.3 1383.2h0M258.5 1451.5h0M258.8 1442.7h0M257.3 1443.7h0M262.8 1431.6h0M262.8 1431.7h0M261.7 1393.7h0M260.9 1433.4h0M261.9 1435.1h0M261.0 1392.0h0M258.4 1295.9h0M261.4 1447.3h0M259.0 1297.4h0M257.2 1298.1h0M258.5 1424.4h0M262.7 1427.4h0M259.3 1457.1h0M262.4 1398.9h0M259.3 1390.4h0M264.9 1422.2h0M264.1 1384.4h0M262.7 1423.3h0M258.2 1420.8h0M258.8 1390.5h0M257.6 1386.1h0M263.5 1421.9h0M259.2 1387.8h0M257.8 1418.2h0M263.0 1383.4h0M265.1 1426.4h0M265.0 1404.8h0M263.8 1427.0h0M264.0 1405.4h0M263.5 1405.4h0M265.0 1425.4h0M260.9 1300.5h0M262.7 1462.9h0M260.1 1298.4h0M261.1 1299.0h0M260.6 1430.3h0M258.4 1464.7h0M261.8 1430.5h0M261.7 1431.2h0M258.5 1465.6h0M258.2 1465.0h0M261.2 1296.1h0M260.4 1419.0h0M259.8 1297.0h0M260.9 1450.5h0M258.2 1461.6h0M262.0 1404.0h0M261.7 1405.3h0M261.7 1405.4h0M257.8 1423.3h0M262.8 1402.0h0M258.1 1421.5h0M263.0 1400.6h0M263.6 1386.7h0M264.8 1387.2h0M263.6 1386.4h0M260.4 1402.9h0M257.0 1421.7h0M259.3 1422.5h0M263.5 1388.0h0M262.1 1385.3h0M260.0 1386.5h0M264.3 1456.1h0M262.0 1451.5h0M262.2 1463.2h0M262.2 1452.1h0M261.2 1464.1h0M260.5 1463.9h0M263.8 1459.9h0M264.0 1458.6h0M259.8 1462.3h0M261.9 1455.3h0M261.4 1454.9h0M260.0 1457.8h0M261.2 1459.2h0M745.7 1294.7h0M579.0 1379.9h0M670.8 1413.1h0M751.2 1425.2h0M809.5 1341.9h0M702.7 1321.0h0M750.6 1455.3h0M688.0 1422.1h0M813.2 1313.6h0M692.3 1276.4h0M711.1 1474.8h0M704.7 1250.2h0M728.6 1437.0h0M778.2 1319.4h0M643.6 1349.2h0M775.2 1338.5h0M817.0 1355.2h0M670.0 1262.0h0M806.7 1275.0h0M672.3 1318.6h0M585.4 1430.3h0M588.1 1393.3h0M685.9 1351.2h0M776.9 1255.4h0M678.2 1399.8h0M701.8 1355.4h0M741.7 1356.0h0M726.3 1351.6h0M571.3 1395.4h0M787.9 1345.3h0M569.8 1429.4h0M679.8 1407.3h0M754.0 1439.7h0M610.6 1361.5h0M711.2 1427.4h0M737.1 1399.4h0M744.1 1377.9h0M641.0 1446.4h0M819.5 1323.0h0M764.5 1324.9h0M708.7 1296.2h0M738.9 1453.8h0M679.4 1429.7h0M724.5 1423.6h0M720.0 1445.3h0M713.4 1440.3h0M682.7 1384.4h0M734.5 1383.9h0M654.9 1393.1h0M752.7 1389.6h0M816.8 1300.7h0M821.4 1301.4h0M709.0 1380.7h0M793.4 1256.1h0M795.5 1262.2h0M695.0 1401.4h0M747.2 1385.8h0M709.4 1400.5h0M673.2 1390.4h0M740.0 1406.8h0M740.0 1413.2h0M708.6 1395.8h0M648.2 1386.5h0M705.0 1446.1h0M678.6 1388.7h0M719.9 1456.7h0M742.8 1472.1h0M701.0 1457.3h0M677.9 1456.9h0M701.1 1442.8h0M678.4 1469.9h0M691.0 1456.2h0M698.6 1383.6h0M611.6 1311.1h0M697.9 1390.8h0M740.3 1466.0h0M748.5 1465.3h0M725.2 1375.5h0M703.8 1385.9h0M676.3 1466.0h0M643.4 1356.1h0M693.4 1457.5h0M604.7 1316.1h0M698.0 1460.5h0M621.5 1307.8h0M680.3 1465.3h0M615.7 1459.6h0M681.5 1459.0h0M728.7 1471.8h0M638.2 1357.6h0M633.1 1310.1h0M702.0 1478.3h0M688.6 1394.3h0M615.6 1348.5h0M614.4 1333.3h0M624.6 1306.7h0M637.6 1339.1h0M725.8 1474.4h0M615.2 1391.2h0M689.5 1394.4h0M729.0 1378.3h0M718.8 1470.6h0M641.3 1457.6h0M711.3 1460.6h0M638.2 1318.0h0M642.9 1476.8h0M694.1 1476.1h0M692.9 1475.6h0M615.7 1336.6h0M725.3 1467.5h0M703.6 1476.0h0M726.7 1386.1h0M608.8 1320.3h0M616.1 1324.8h0M714.8 1460.2h0M611.6 1324.9h0M613.4 1316.3h0M719.5 1466.2h0M715.6 1463.7h0M631.1 1307.6h0M717.8 1462.8h0M723.6 1381.2h0M699.7 1476.6h0M619.5 1345.1h0M623.9 1318.6h0M628.4 1309.4h0M621.7 1319.5h0M723.4 1382.4h0M618.5 1341.0h0M615.4 1425.6h0M726.3 1384.4h0M638.5 1376.4h0M621.8 1360.2h0M638.2 1321.4h0M640.9 1383.2h0M640.3 1461.9h0M631.9 1356.1h0M633.2 1340.8h0M619.8 1347.5h0M635.9 1336.3h0M641.3 1407.5h0M625.8 1320.8h0M623.6 1320.6h0M615.7 1397.9h0M635.2 1319.9h0M622.1 1352.6h0M621.5 1328.6h0M640.2 1325.6h0M637.2 1370.8h0M625.0 1330.9h0M626.4 1323.7h0M625.5 1331.2h0M631.6 1337.7h0M634.2 1329.6h0M621.0 1335.2h0M631.9 1324.0h0M629.4 1327.1h0M614.8 1407.7h0M641.1 1391.6h0M623.3 1332.8h0M636.3 1332.5h0M636.4 1332.5h0M630.4 1352.8h0M639.3 1473.9h0M626.3 1339.9h0M623.1 1337.7h0M619.4 1454.2h0M624.6 1338.9h0M630.7 1346.3h0M629.1 1348.7h0M624.5 1363.2h0M624.2 1354.2h0M623.9 1353.3h0M625.9 1350.4h0M617.3 1467.2h0M617.8 1428.5h0M640.2 1425.7h0M640.0 1419.6h0M618.7 1467.3h0M629.1 1343.9h0M635.4 1326.3h0M635.0 1327.5h0M615.7 1404.5h0M628.2 1345.4h0M635.4 1479.2h0M635.8 1466.3h0M625.6 1343.7h0M619.1 1450.6h0M638.9 1435.6h0M638.0 1422.5h0M640.0 1433.6h0M637.0 1373.9h0M626.4 1356.0h0M628.8 1360.1h0M630.5 1361.0h0M631.3 1364.2h0M630.9 1364.3h0M619.3 1422.4h0M623.3 1365.4h0M617.4 1372.9h0M619.3 1443.6h0M631.4 1367.7h0M617.2 1370.2h0M627.8 1362.3h0M618.8 1442.5h0M639.3 1386.0h0M621.3 1476.6h0M639.2 1386.0h0M616.6 1400.9h0M626.5 1361.2h0M638.3 1410.7h0M637.7 1409.5h0M617.7 1384.1h0M628.4 1365.5h0M640.2 1400.0h0M619.1 1377.0h0M640.5 1388.4h0M622.3 1474.6h0M638.2 1394.9h0M624.6 1479.7h0M637.0 1459.7h0M635.8 1471.4h0M633.3 1479.8h0M617.1 1403.5h0M622.4 1463.6h0M621.2 1465.7h0M634.7 1418.1h0M635.0 1379.8h0M632.4 1375.4h0M620.2 1470.2h0M620.6 1392.5h0M635.1 1426.1h0M634.9 1426.7h0M637.3 1427.1h0M637.1 1412.8h0M621.1 1454.9h0M619.9 1372.5h0M622.2 1371.4h0M632.4 1462.8h0M621.7 1373.0h0M635.6 1385.0h0M636.4 1474.7h0M636.8 1474.8h0M621.4 1438.6h0M619.8 1446.7h0M621.3 1375.0h0M620.2 1449.6h0M637.1 1456.1h0M627.8 1372.2h0M626.7 1371.5h0M628.3 1478.7h0M636.6 1457.0h0M637.0 1433.8h0M622.1 1389.3h0M621.9 1416.9h0M621.0 1379.7h0M621.9 1427.3h0M619.7 1398.3h0M620.4 1399.1h0M620.4 1429.7h0M620.7 1412.1h0M619.7 1412.1h0M620.5 1410.1h0M636.1 1437.1h0M635.7 1438.5h0M635.8 1438.4h0M620.9 1407.6h0M622.7 1371.3h0M620.5 1420.4h0M636.0 1409.3h0M620.0 1377.1h0M622.0 1419.0h0M621.5 1418.4h0M621.6 1441.3h0M631.0 1478.2h0M631.4 1478.8h0M630.5 1478.6h0M636.6 1390.2h0M637.2 1390.7h0M634.5 1445.2h0M620.2 1426.1h0M622.3 1382.7h0M632.9 1447.2h0M621.2 1383.3h0M633.7 1472.1h0M621.0 1384.9h0M633.9 1478.1h0M620.9 1405.7h0M621.8 1404.1h0M620.2 1405.4h0M622.1 1405.9h0M623.0 1476.6h0M623.7 1476.8h0M634.9 1391.4h0M625.2 1477.4h0M636.8 1393.0h0M633.3 1385.8h0M632.1 1386.3h0M636.1 1399.0h0M629.3 1375.9h0M629.9 1374.3h0M630.5 1374.5h0M632.9 1385.0h0M637.0 1408.9h0M637.4 1406.8h0M634.1 1381.9h0M635.7 1405.9h0M624.7 1375.4h0M636.4 1406.2h0M633.8 1418.5h0M637.1 1400.3h0M630.1 1466.9h0M633.7 1441.3h0M636.6 1400.7h0M632.0 1419.6h0M632.0 1441.9h0M634.3 1423.6h0M632.0 1424.1h0M631.7 1459.2h0M633.6 1416.8h0M632.8 1416.7h0M632.5 1417.2h0M625.5 1466.4h0M631.6 1474.5h0M623.6 1466.4h0M625.0 1468.1h0M623.6 1411.9h0M637.0 1395.6h0M635.6 1394.6h0M625.3 1475.0h0M627.8 1463.6h0M627.0 1464.3h0M626.0 1465.0h0M624.7 1459.9h0M624.3 1459.6h0M631.6 1410.6h0M624.9 1401.3h0M628.0 1466.6h0M625.4 1472.0h0M625.5 1471.4h0M632.9 1429.6h0M625.3 1391.3h0M625.2 1393.0h0M625.3 1399.8h0M624.3 1397.3h0M628.2 1476.1h0M628.3 1476.5h0M634.1 1449.6h0M627.7 1460.5h0M631.0 1411.7h0M625.1 1413.9h0M624.3 1412.7h0M627.1 1461.9h0M628.5 1410.5h0M626.8 1462.7h0M626.7 1408.6h0M622.6 1419.5h0M626.7 1461.7h0M630.7 1419.4h0M625.5 1419.3h0M625.3 1412.9h0M623.7 1414.3h0M628.6 1407.9h0M623.3 1376.6h0M625.1 1378.3h0M623.2 1376.8h0M623.4 1376.8h0M633.9 1439.2h0M632.2 1439.1h0M634.5 1437.1h0M629.2 1415.7h0M630.0 1378.1h0M629.1 1378.1h0M630.8 1378.4h0M634.3 1432.4h0M631.8 1430.9h0M626.1 1378.9h0M624.1 1435.8h0M634.1 1409.0h0M623.8 1424.2h0M623.2 1390.8h0M624.6 1390.3h0M634.0 1406.5h0M625.4 1422.4h0M623.0 1433.8h0M627.2 1470.5h0M631.2 1388.1h0M629.9 1387.9h0M629.8 1386.1h0M630.1 1389.5h0M630.7 1403.9h0M625.1 1442.7h0M632.9 1405.2h0M630.9 1475.9h0M630.4 1477.5h0M632.5 1404.5h0M629.6 1475.3h0M634.1 1405.4h0M625.6 1443.2h0M630.1 1406.7h0M629.6 1407.3h0M630.8 1413.4h0M622.8 1446.6h0M625.0 1437.9h0M631.0 1412.5h0M629.6 1412.4h0M623.3 1437.9h0M624.3 1436.7h0M629.0 1470.4h0M625.8 1389.2h0M629.1 1470.4h0M629.7 1471.3h0M631.0 1471.1h0M628.9 1469.3h0M622.8 1383.9h0M628.0 1381.6h0M629.0 1382.9h0M629.0 1385.1h0M625.6 1427.8h0M625.4 1428.4h0M626.4 1417.1h0M626.2 1415.5h0M625.8 1382.5h0M623.5 1387.1h0M630.6 1441.6h0M623.6 1387.9h0M623.8 1386.4h0M623.7 1426.4h0M625.0 1386.8h0M625.4 1385.3h0M625.4 1387.3h0M625.9 1419.5h0M628.2 1420.9h0M623.9 1424.7h0M625.7 1394.1h0M626.8 1392.0h0M624.6 1440.7h0M624.8 1441.8h0M625.1 1439.6h0M623.3 1439.2h0M634.5 1455.0h0M623.5 1454.7h0M633.8 1455.6h0M631.3 1393.0h0M625.1 1456.7h0M626.9 1412.3h0M632.6 1456.3h0M624.8 1456.7h0M627.2 1412.9h0M631.3 1381.9h0M631.3 1472.9h0M629.9 1379.8h0M630.9 1381.9h0M629.6 1459.8h0M629.9 1379.8h0M631.0 1473.5h0M633.2 1395.7h0M625.9 1423.0h0M633.1 1403.2h0M631.7 1396.3h0M632.8 1395.7h0M628.4 1421.8h0M634.4 1396.9h0M624.0 1449.4h0M624.6 1450.4h0M624.1 1449.5h0M626.9 1458.6h0M629.2 1426.1h0M625.2 1452.6h0M626.5 1402.0h0M628.0 1400.4h0M628.1 1402.5h0M631.1 1426.0h0M626.3 1401.1h0M626.4 1441.8h0M628.6 1439.7h0M629.2 1436.8h0M631.1 1438.6h0M629.5 1439.0h0M631.1 1447.8h0M627.6 1436.9h0M629.3 1447.4h0M630.1 1446.0h0M626.6 1436.8h0M629.1 1447.7h0M628.5 1394.7h0M626.2 1398.3h0M628.5 1399.8h0M625.7 1395.0h0M627.8 1394.3h0M626.6 1445.4h0M625.9 1446.9h0M627.2 1446.5h0M628.7 1402.8h0M630.3 1402.4h0M630.0 1400.6h0M629.6 1397.8h0M629.1 1433.8h0M627.2 1433.7h0M626.6 1424.7h0M628.2 1434.1h0M627.3 1424.3h0M630.2 1427.5h0M629.5 1428.2h0M629.5 1427.4h0M627.1 1430.8h0M630.1 1397.1h0M630.0 1397.1h0M627.9 1431.8h0M629.0 1395.3h0M628.7 1430.6h0M629.3 1430.2h0M629.7 1431.6h0M626.6 1428.9h0M626.2 1427.9h0M628.5 1429.0h0M626.0 1428.8h0M627.7 1457.0h0M630.6 1450.5h0M630.4 1448.3h0M630.6 1449.5h0M629.0 1448.6h0M630.4 1448.5h0M628.5 1452.3h0M628.6 1452.3h0M628.7 1456.6h0M630.8 1455.3h0M630.2 1452.0h0M956.8 1419.7h0M1132.0 1256.1h0M1058.7 1383.2h0M1139.4 1323.8h0M966.3 1422.1h0M1061.5 1406.9h0M1056.0 1355.9h0M1127.9 1240.0h0M1092.6 1343.3h0M1117.4 1368.8h0M1097.6 1458.6h0M1167.8 1295.9h0M1133.9 1279.7h0M961.1 1313.0h0M1073.0 1321.2h0M1132.0 1348.2h0M1036.2 1440.9h0M1081.7 1300.7h0M1189.2 1407.6h0M1032.3 1412.4h0M1157.2 1344.1h0M1121.9 1298.4h0M936.1 1306.5h0M1188.3 1453.7h0M971.3 1436.9h0M1116.1 1359.4h0M970.7 1470.1h0M1059.0 1417.9h0M1122.0 1325.7h0M1039.8 1327.5h0M1116.1 1284.7h0M1167.8 1315.9h0M1187.8 1372.9h0M1050.7 1451.2h0M940.8 1385.9h0M1132.1 1311.0h0M1189.5 1439.5h0M1189.7 1387.3h0M1144.0 1290.1h0M1125.3 1340.4h0M1094.0 1479.5h0M1133.9 1365.2h0M1044.3 1316.0h0M1176.6 1320.9h0M1156.4 1334.0h0M1105.6 1311.1h0M1189.0 1396.0h0M1167.9 1324.7h0M1078.6 1383.6h0M935.3 1399.7h0M937.2 1425.1h0M1027.0 1293.9h0M1112.7 1324.6h0M1098.4 1290.4h0M1066.2 1354.4h0M1034.9 1429.8h0M934.8 1452.3h0M961.7 1461.5h0M1189.9 1361.3h0M1076.6 1310.4h0M974.4 1362.5h0M1071.6 1304.1h0M1014.6 1411.7h0M1041.8 1468.8h0M1028.5 1323.5h0M1082.2 1332.3h0M1021.4 1406.4h0M1021.8 1385.9h0M1149.5 1296.6h0M970.2 1284.5h0M1063.5 1464.1h0M1020.2 1332.0h0M1145.3 1261.6h0M1039.4 1379.3h0M1017.2 1445.1h0M1068.8 1339.9h0M1065.1 1454.5h0M1014.1 1365.4h0M1193.2 1322.4h0M1098.1 1447.5h0M1100.8 1320.3h0M1108.0 1339.1h0M1047.8 1415.5h0M970.6 1380.2h0M1169.6 1283.7h0M1049.9 1404.1h0M1070.3 1390.1h0M1048.0 1462.2h0M1075.5 1336.2h0M1178.8 1312.7h0M1048.0 1372.9h0M1152.6 1284.6h0M1107.8 1335.3h0M1095.9 1435.7h0M1154.2 1310.8h0M1012.7 1440.6h0M1019.0 1472.6h0M1014.8 1475.4h0M1090.0 1394.0h0M1149.3 1313.3h0M1148.8 1268.4h0M968.1 1323.4h0M1039.7 1348.9h0M1041.9 1352.7h0M967.9 1398.0h0M1005.0 1300.2h0M1014.8 1338.9h0M1173.0 1271.1h0M1067.7 1398.5h0M1097.1 1441.7h0M1010.8 1332.3h0M1069.9 1414.4h0M1101.1 1398.7h0M1056.7 1467.7h0M1041.2 1373.7h0M1010.9 1316.0h0M978.6 1479.9h0M1064.4 1437.1h0M1096.1 1383.6h0M1049.9 1325.5h0M1184.3 1284.1h0M1083.7 1393.1h0M1147.4 1343.7h0M1054.2 1467.0h0M1070.1 1377.6h0M1055.4 1324.3h0M1059.7 1437.0h0M1070.5 1375.6h0M1188.0 1316.1h0M1088.8 1464.0h0M1099.4 1384.5h0M1017.8 1355.5h0M1144.0 1343.5h0M973.7 1352.5h0M1158.1 1293.2h0M1013.9 1389.8h0M1186.7 1311.9h0M1004.2 1290.8h0M1042.0 1421.3h0M1094.6 1321.5h0M1097.1 1402.1h0M969.9 1327.6h0M972.4 1453.9h0M1046.3 1421.9h0M1019.0 1356.5h0M1053.9 1391.7h0M968.9 1408.1h0M1188.8 1285.2h0M1170.3 1273.7h0M1168.1 1276.6h0M1021.5 1343.6h0M1082.1 1400.7h0M1160.5 1276.7h0M971.1 1340.3h0M1127.1 1363.7h0M1125.0 1364.6h0M1068.6 1426.3h0M1078.4 1400.4h0M1050.9 1397.5h0M1021.6 1340.0h0M1156.8 1290.5h0M1086.9 1320.2h0M1187.5 1287.2h0M1072.9 1434.7h0M1088.2 1447.6h0M1074.7 1438.3h0M1006.8 1451.2h0M1013.1 1322.7h0M1053.9 1395.1h0M1096.0 1400.0h0M997.2 1287.4h0M1086.1 1437.4h0M1002.0 1367.9h0M974.2 1335.3h0M1011.0 1399.3h0M1088.4 1410.9h0M1083.0 1436.0h0M1013.6 1392.9h0M1002.2 1372.9h0M1009.4 1321.3h0M1013.0 1401.1h0M1071.2 1428.0h0M1094.0 1317.6h0M973.5 1389.9h0M1078.5 1409.1h0M1010.2 1387.9h0M1001.7 1339.7h0M1087.2 1461.2h0M1085.8 1440.6h0M974.2 1325.5h0M1078.4 1412.2h0M1069.1 1406.6h0M1072.3 1401.5h0M1090.3 1319.3h0M1149.2 1275.1h0M969.5 1306.6h0M1149.6 1276.1h0M1073.5 1473.8h0M1003.8 1380.3h0M1007.2 1383.7h0M972.6 1407.4h0M1004.8 1416.8h0M977.4 1317.9h0M1087.8 1470.2h0M1080.6 1442.3h0M1070.6 1456.9h0M1005.3 1469.0h0M1069.4 1408.1h0M1077.6 1448.6h0M1154.8 1278.2h0M1080.8 1429.0h0M1076.3 1429.3h0M1076.5 1431.9h0M975.6 1452.9h0M1080.7 1443.8h0M1153.7 1277.7h0M1072.3 1409.0h0M1085.8 1428.4h0M1083.6 1410.6h0M1005.6 1329.5h0M1003.1 1381.4h0M1185.7 1330.1h0M976.8 1370.7h0M999.7 1368.8h0M1086.3 1473.2h0M1006.7 1327.2h0M977.1 1410.0h0M977.1 1375.9h0M1005.4 1438.9h0M1073.5 1463.3h0M1003.9 1385.4h0M976.1 1351.3h0M1084.4 1414.6h0M973.2 1307.7h0M1079.6 1480.2h0M980.4 1366.4h0M1188.5 1336.4h0M1074.4 1464.8h0M1188.0 1337.6h0M975.8 1414.6h0M1079.6 1470.1h0M972.9 1302.8h0M974.0 1398.2h0M1001.4 1300.5h0M976.4 1373.8h0M1075.9 1470.9h0M977.5 1338.4h0M1080.5 1423.2h0M1188.9 1330.1h0M1189.1 1330.3h0M974.8 1305.6h0M1000.1 1363.4h0M999.0 1298.0h0M1188.2 1333.3h0M1085.5 1418.9h0M1002.4 1325.6h0M1086.1 1423.9h0M977.7 1408.2h0M974.6 1395.2h0M1085.3 1472.3h0M1002.3 1334.1h0M1003.8 1433.9h0M1076.4 1474.9h0M1003.7 1394.2h0M1002.0 1455.0h0M1085.3 1420.8h0M982.9 1477.4h0M1003.5 1435.3h0M1077.4 1461.5h0M1004.3 1394.9h0M1083.2 1478.0h0M1084.5 1478.7h0M994.1 1367.7h0M981.2 1365.9h0M1076.5 1463.5h0M979.8 1472.5h0M1082.1 1450.0h0M991.3 1289.3h0M1000.5 1347.0h0M981.1 1288.9h0M999.5 1347.0h0M1003.3 1398.8h0M1002.7 1359.0h0M1003.9 1445.2h0M1002.3 1408.8h0M976.3 1341.3h0M1003.7 1456.9h0M980.0 1423.6h0M976.0 1304.4h0M1000.1 1348.9h0M1085.6 1424.4h0M1085.5 1424.6h0M1076.1 1461.4h0M980.3 1445.7h0M995.7 1292.4h0M975.5 1343.7h0M980.5 1327.1h0M975.3 1400.6h0M1080.0 1460.3h0M975.8 1401.3h0M1002.6 1438.7h0M976.1 1293.5h0M1082.3 1478.1h0M1078.2 1453.6h0M1003.7 1427.9h0M990.9 1371.5h0M1003.7 1476.7h0M1003.2 1479.1h0M980.3 1398.6h0M979.5 1399.1h0M978.9 1324.2h0M1079.0 1474.8h0M1079.3 1474.2h0M978.9 1398.2h0M974.6 1297.3h0M977.3 1298.7h0M1081.1 1474.2h0M1002.0 1410.6h0M976.7 1295.7h0M996.5 1297.9h0M1081.2 1454.8h0M1078.6 1457.1h0M1080.5 1454.5h0M981.8 1374.3h0M982.7 1374.1h0M1001.1 1351.7h0M1080.3 1455.5h0M1079.8 1456.2h0M1001.0 1330.6h0M980.0 1450.3h0M1000.5 1433.7h0M999.5 1335.4h0M979.4 1415.2h0M1001.5 1429.7h0M980.2 1415.7h0M1002.1 1475.6h0M1002.7 1422.6h0M1001.9 1424.8h0M978.5 1416.5h0M1001.4 1322.7h0M987.2 1480.0h0M988.2 1480.3h0M986.7 1481.1h0M979.5 1293.3h0M997.1 1337.7h0M998.7 1356.3h0M992.1 1365.2h0M983.3 1361.1h0M994.1 1291.3h0M983.3 1361.3h0M993.4 1293.0h0M999.9 1440.4h0M980.1 1389.1h0M995.8 1376.5h0M999.4 1402.7h0M998.7 1319.8h0M996.6 1388.4h0M1000.4 1359.2h0M982.2 1402.9h0M996.6 1388.9h0M1000.9 1357.1h0M999.1 1357.2h0M998.6 1358.0h0M998.1 1327.4h0M991.5 1480.1h0M979.7 1386.1h0M979.1 1383.8h0M996.3 1427.0h0M982.0 1376.6h0M992.7 1372.8h0M987.0 1373.4h0M978.9 1294.1h0M1000.7 1443.7h0M978.7 1295.4h0M987.5 1374.3h0M982.5 1292.9h0M997.2 1434.0h0M988.5 1364.9h0M981.1 1291.2h0M989.3 1365.4h0M1000.3 1465.7h0M1000.4 1462.9h0M991.3 1372.8h0M998.8 1465.9h0M998.7 1464.0h0M999.7 1465.1h0M1001.5 1397.9h0M983.1 1422.9h0M997.5 1333.4h0M989.7 1291.2h0M981.7 1471.3h0M983.3 1470.9h0M1000.3 1461.0h0M996.2 1335.3h0M996.2 1330.5h0M983.0 1445.6h0M981.3 1443.5h0M989.3 1291.4h0M999.2 1455.6h0M983.3 1442.1h0M982.5 1311.3h0M1000.1 1423.0h0M999.9 1423.3h0M981.1 1440.9h0M1001.4 1420.0h0M983.0 1354.8h0M978.7 1343.8h0M981.2 1354.2h0M979.4 1344.4h0M995.9 1356.3h0M983.5 1335.3h0M994.3 1300.6h0M993.4 1360.5h0M993.5 1360.9h0M983.3 1333.1h0M977.9 1345.0h0M995.5 1299.4h0M999.7 1467.9h0M982.7 1314.8h0M983.2 1315.1h0M997.2 1323.8h0M981.5 1316.2h0M981.1 1431.5h0M983.4 1316.8h0M1001.4 1415.7h0M998.4 1423.4h0M997.7 1437.6h0M1000.8 1413.1h0M997.2 1424.1h0M990.1 1423.2h0M995.1 1340.3h0M981.6 1305.2h0M982.5 1303.4h0M983.1 1304.2h0M982.5 1467.5h0M985.8 1474.0h0M993.2 1430.6h0M982.9 1394.2h0M981.7 1468.5h0M993.0 1429.1h0M981.8 1325.9h0M983.9 1474.7h0M984.2 1376.9h0M983.4 1319.6h0M1000.5 1416.8h0M981.3 1295.1h0M994.6 1306.7h0M993.0 1308.5h0M981.5 1419.3h0M986.5 1360.1h0M992.9 1304.8h0M994.4 1305.3h0M981.5 1337.1h0M981.3 1447.5h0M982.3 1297.2h0M995.3 1304.8h0M981.0 1465.0h0M988.2 1479.0h0M983.2 1437.0h0M983.2 1436.2h0M999.5 1471.0h0M990.5 1294.9h0M993.9 1343.5h0M993.3 1344.1h0M991.9 1296.4h0M996.1 1420.7h0M982.1 1391.6h0M1000.4 1474.0h0M1001.5 1474.4h0M994.2 1377.3h0M995.4 1375.5h0M993.2 1376.1h0M982.8 1379.1h0M983.8 1294.2h0M986.2 1294.6h0M996.6 1463.9h0M994.7 1333.7h0M993.3 1334.7h0M985.6 1357.8h0M997.0 1441.0h0M991.4 1420.8h0M987.7 1427.8h0M985.7 1427.0h0M984.9 1427.1h0M983.9 1425.8h0M987.1 1428.2h0M996.4 1405.2h0M997.6 1404.8h0M994.1 1358.8h0M993.8 1329.8h0M981.2 1452.2h0M983.1 1449.6h0M996.8 1393.5h0M994.6 1312.1h0M988.0 1293.8h0M991.4 1298.5h0M987.4 1296.3h0M990.9 1297.4h0M993.0 1346.3h0M983.7 1408.4h0M997.9 1410.2h0M994.8 1345.7h0M986.0 1299.5h0M997.7 1410.2h0M985.5 1300.7h0M984.7 1302.2h0M994.0 1433.8h0M994.6 1433.7h0M996.7 1479.1h0M988.0 1420.4h0M996.1 1403.3h0M996.8 1477.6h0M990.0 1376.4h0M992.3 1430.3h0M993.2 1325.0h0M995.1 1323.7h0M985.6 1424.0h0M985.6 1425.2h0M985.3 1423.8h0M984.6 1404.8h0M982.6 1454.3h0M992.9 1386.1h0M994.5 1384.9h0M994.4 1384.8h0M993.9 1351.3h0M985.3 1411.3h0M995.7 1319.9h0M986.1 1412.2h0M994.4 1354.7h0M996.1 1318.7h0M993.3 1435.1h0M997.3 1319.0h0M995.7 1318.1h0M996.6 1319.7h0M998.2 1319.6h0M993.4 1347.5h0M993.7 1419.0h0M994.6 1315.1h0M987.3 1359.9h0M988.3 1362.2h0M988.7 1361.5h0M993.2 1316.7h0M993.5 1379.0h0M992.6 1379.5h0M985.1 1429.2h0M994.5 1378.0h0M993.8 1378.2h0M982.7 1381.3h0M984.5 1414.5h0M994.4 1322.5h0M985.3 1312.0h0M997.4 1417.2h0M985.0 1421.4h0M996.0 1418.1h0M996.7 1414.9h0M997.2 1419.2h0M985.3 1309.7h0M995.7 1419.1h0M984.3 1354.8h0M985.4 1306.6h0M987.5 1296.6h0M984.3 1355.4h0M986.6 1307.7h0M988.3 1296.8h0M984.7 1306.3h0M990.5 1356.8h0M995.6 1395.9h0M997.7 1395.9h0M990.9 1357.3h0M997.5 1395.6h0M995.8 1401.2h0M993.7 1477.1h0M994.8 1478.3h0M995.9 1410.5h0M983.9 1333.8h0M994.1 1415.6h0M996.0 1398.8h0M998.2 1411.1h0M986.0 1335.2h0M997.9 1412.9h0M997.1 1399.2h0M993.0 1477.3h0M996.3 1410.8h0M985.0 1318.2h0M984.2 1319.9h0M986.5 1319.5h0M997.9 1446.2h0M997.9 1444.1h0M982.6 1384.1h0M981.8 1385.8h0M988.3 1413.7h0M994.9 1440.1h0M993.7 1437.7h0M997.0 1446.4h0M988.5 1302.4h0M989.5 1418.6h0M989.3 1417.7h0M991.8 1334.8h0M985.1 1320.7h0M986.5 1326.6h0M992.3 1326.8h0M984.6 1327.3h0M984.6 1327.6h0M995.6 1457.4h0M993.7 1391.1h0M995.1 1389.6h0M993.3 1409.9h0M995.9 1456.7h0M989.6 1430.6h0M993.2 1410.5h0M990.5 1418.9h0M982.5 1342.2h0M990.6 1306.3h0M991.5 1307.3h0M989.9 1307.6h0M992.6 1417.2h0M983.9 1336.0h0M990.8 1337.6h0M982.2 1347.8h0M982.5 1349.2h0M982.9 1348.6h0M989.8 1337.1h0M981.4 1347.8h0M988.5 1413.4h0M985.2 1418.7h0M985.4 1417.6h0M985.5 1417.0h0M984.7 1417.7h0M984.3 1417.8h0M988.5 1358.6h0M990.8 1315.1h0M991.1 1331.2h0M991.5 1311.3h0M990.5 1316.4h0M989.3 1357.7h0M994.0 1318.1h0M991.9 1416.3h0M989.7 1413.9h0M996.0 1449.5h0M996.1 1448.2h0M993.3 1441.9h0M985.4 1379.4h0M985.9 1379.9h0M996.1 1448.2h0M985.2 1433.8h0M984.4 1447.4h0M984.1 1448.1h0M989.6 1320.6h0M985.8 1434.0h0M992.2 1323.4h0M987.6 1305.0h0M987.0 1304.6h0M981.2 1344.7h0M987.6 1302.7h0M989.4 1304.2h0M984.0 1468.6h0M984.0 1326.0h0M987.0 1319.8h0M990.0 1312.6h0M985.9 1324.1h0M992.1 1354.9h0M990.3 1314.2h0M989.1 1319.4h0M985.4 1324.1h0M992.2 1354.0h0M983.8 1325.0h0M989.8 1355.1h0M985.2 1395.4h0M984.1 1392.6h0M988.2 1327.1h0M996.0 1453.1h0M997.4 1450.1h0M989.0 1329.2h0M991.8 1432.8h0M997.5 1454.5h0M992.0 1432.3h0M991.4 1343.6h0M990.7 1411.4h0M995.8 1471.7h0M989.7 1410.5h0M987.9 1409.4h0M988.7 1408.8h0M989.1 1409.5h0M988.8 1409.3h0M991.9 1351.9h0M985.0 1340.9h0M998.5 1475.5h0M996.9 1474.4h0M990.0 1325.4h0M997.6 1476.2h0M988.7 1334.8h0M990.5 1326.1h0M996.2 1476.2h0M985.9 1340.2h0M984.2 1339.0h0M991.0 1325.1h0M991.5 1378.0h0M991.1 1352.8h0M990.5 1317.8h0M988.7 1332.3h0M987.9 1331.5h0M991.8 1320.3h0M986.8 1331.2h0M987.4 1354.9h0M985.4 1435.0h0M986.3 1436.1h0M988.6 1355.6h0M987.8 1356.5h0M984.2 1434.7h0M989.0 1445.6h0M983.8 1436.4h0M992.9 1395.0h0M993.0 1394.9h0M988.3 1313.9h0M987.7 1313.8h0M985.1 1390.9h0M985.6 1390.2h0M988.2 1306.1h0M989.6 1312.1h0M984.7 1391.2h0M989.4 1313.3h0M989.9 1434.8h0M993.8 1402.1h0M988.7 1326.1h0M988.5 1311.3h0M989.2 1310.5h0M992.0 1347.5h0M989.5 1308.9h0M993.5 1402.0h0M987.5 1326.3h0M989.6 1443.1h0M989.0 1442.6h0M992.0 1440.2h0M993.4 1464.8h0M988.7 1336.9h0M987.1 1335.6h0M989.0 1335.5h0M988.0 1338.3h0M987.8 1338.5h0M987.8 1338.4h0M987.1 1379.8h0M993.6 1443.7h0M987.7 1378.6h0M991.3 1443.3h0M992.1 1443.1h0M987.8 1473.3h0M985.3 1464.5h0M986.2 1464.9h0M990.4 1348.0h0M990.2 1349.4h0M987.7 1340.1h0M990.1 1349.4h0M986.2 1465.5h0M987.7 1471.3h0M991.8 1348.9h0M988.5 1406.1h0M990.3 1404.9h0M988.7 1407.2h0M992.4 1407.2h0M988.3 1406.3h0M987.9 1405.3h0M991.5 1383.4h0M992.2 1381.0h0M991.1 1383.3h0M989.8 1389.3h0M991.4 1387.5h0M989.4 1431.8h0M991.6 1475.6h0M991.8 1474.3h0M990.5 1476.3h0M989.4 1434.5h0M992.5 1474.3h0M991.6 1384.1h0M989.5 1432.2h0M990.4 1475.7h0M992.9 1398.6h0M984.1 1386.7h0M984.3 1461.8h0M993.7 1400.4h0M994.2 1397.5h0M986.6 1461.9h0M985.0 1388.4h0M994.5 1475.3h0M994.3 1461.4h0M993.4 1460.8h0M985.9 1452.3h0M995.0 1469.1h0M994.3 1468.4h0M987.7 1402.3h0M993.5 1468.6h0M989.6 1402.6h0M988.0 1403.7h0M987.1 1401.8h0M992.6 1469.2h0M984.6 1342.3h0M991.4 1391.8h0M986.5 1381.9h0M983.9 1382.6h0M989.4 1439.4h0M987.7 1439.9h0M985.9 1381.8h0M986.1 1381.7h0M991.8 1390.6h0M985.5 1382.4h0M988.0 1440.0h0M988.1 1439.4h0M989.5 1438.0h0M990.2 1446.1h0M991.4 1446.5h0M990.9 1445.8h0M990.7 1401.7h0M992.2 1402.1h0M986.6 1349.8h0M984.8 1347.6h0M985.2 1349.5h0M988.8 1398.5h0M987.6 1400.2h0M989.1 1399.9h0M987.8 1400.3h0M984.4 1383.7h0M985.6 1385.6h0M989.0 1391.2h0M989.4 1435.1h0M989.1 1343.8h0M986.8 1435.6h0M988.4 1344.0h0M988.9 1436.6h0M992.6 1472.2h0M992.6 1473.5h0M987.1 1448.6h0M989.4 1448.7h0M987.4 1395.9h0M987.6 1397.3h0M988.4 1398.1h0M989.2 1386.8h0M987.4 1388.4h0M989.3 1397.6h0M988.5 1470.4h0M989.4 1468.2h0M995.1 1448.6h0M995.1 1449.2h0M986.5 1346.5h0M984.4 1344.9h0M983.6 1345.3h0M985.1 1344.8h0M984.9 1461.1h0M984.6 1345.0h0M985.9 1459.5h0M985.8 1459.3h0M987.4 1380.6h0M989.2 1393.3h0M989.0 1394.7h0M987.1 1382.9h0M988.4 1393.4h0M989.0 1394.2h0M989.1 1350.4h0M992.2 1401.4h0M990.1 1393.1h0M991.5 1393.3h0M990.7 1392.6h0M989.9 1472.9h0M988.1 1346.9h0M991.8 1397.0h0M988.1 1345.3h0M989.9 1396.3h0M987.9 1345.4h0M988.4 1344.7h0M989.2 1345.1h0M987.9 1385.7h0M988.8 1384.1h0M988.4 1384.7h0M987.0 1384.1h0M990.4 1463.4h0M990.7 1462.4h0M991.8 1464.5h0M991.6 1467.4h0M993.1 1455.8h0M994.2 1457.1h0M986.0 1456.4h0M984.7 1457.3h0M991.2 1465.2h0M994.7 1455.9h0M991.7 1466.1h0M985.6 1457.0h0M983.8 1456.6h0M991.4 1465.0h0M991.6 1467.0h0M987.9 1465.7h0M987.1 1464.6h0M987.1 1463.1h0M992.2 1448.9h0M990.3 1448.9h0M992.5 1448.9h0M993.6 1455.2h0M993.8 1454.1h0M994.4 1455.4h0M990.3 1461.4h0M989.5 1459.6h0M987.3 1461.4h0M989.4 1459.0h0M991.8 1450.4h0M990.2 1457.4h0M990.0 1457.5h0M987.3 1456.8h0M987.3 1457.2h0M989.1 1457.3h0M987.7 1453.1h0M988.4 1453.1h0M992.1 1453.9h0M990.3 1453.9h0M991.8 1454.7h0M224.2 1737.4h0M387.8 1798.7h0M346.0 1774.9h0M341.8 1825.9h0M396.2 1689.5h0M372.1 1694.7h0M249.6 1628.1h0M326.5 1795.2h0M397.4 1630.7h0M297.2 1673.7h0M363.8 1652.5h0M423.9 1669.1h0M439.7 1850.4h0M312.5 1630.8h0M346.2 1637.6h0M306.9 1814.9h0M236.3 1648.4h0M207.2 1731.3h0M432.9 1758.1h0M430.9 1785.5h0M312.9 1706.4h0M327.1 1809.5h0M314.6 1755.7h0M351.6 1687.5h0M431.4 1666.3h0M329.9 1638.7h0M301.2 1720.7h0M382.6 1669.4h0M342.2 1630.1h0M358.5 1661.8h0M371.3 1645.7h0M412.0 1664.5h0M295.2 1738.7h0M433.1 1738.6h0M435.9 1796.5h0M200.7 1739.6h0M403.4 1696.3h0M335.0 1712.9h0M385.6 1854.8h0M353.6 1836.7h0M345.1 1808.2h0M361.9 1741.4h0M366.2 1795.6h0M307.7 1659.8h0M355.7 1780.0h0M436.2 1675.2h0M233.6 1636.6h0M222.1 1667.3h0M328.2 1744.3h0M358.1 1701.1h0M313.6 1794.1h0M414.0 1705.5h0M384.0 1660.5h0M395.3 1803.3h0M375.0 1713.9h0M413.0 1695.7h0M302.1 1771.1h0M406.5 1762.1h0M234.9 1703.7h0M316.2 1667.3h0M300.4 1710.5h0M339.6 1683.1h0M437.7 1696.5h0M395.9 1791.1h0M364.7 1827.3h0M397.6 1816.1h0M420.3 1679.6h0M364.6 1721.6h0M358.6 1787.2h0M401.8 1681.2h0M435.0 1645.5h0M390.8 1778.7h0M370.2 1727.4h0M387.3 1697.0h0M222.4 1792.6h0M406.7 1685.2h0M416.9 1794.7h0M304.5 1688.6h0M413.7 1673.8h0M371.1 1773.9h0M348.9 1798.1h0M424.6 1830.0h0M434.2 1656.4h0M326.8 1729.1h0M243.3 1717.6h0M416.2 1827.5h0M338.0 1743.8h0M273.4 1787.4h0M331.8 1724.6h0M208.7 1638.0h0M421.9 1736.5h0M369.5 1676.1h0M422.9 1758.6h0M433.6 1842.1h0M422.9 1836.3h0M397.0 1838.1h0M340.1 1669.5h0M315.5 1639.7h0M338.6 1658.8h0M307.1 1697.2h0M428.2 1844.4h0M201.9 1799.1h0M376.0 1840.6h0M378.5 1823.6h0M393.9 1830.6h0M348.9 1738.8h0M421.7 1788.1h0M203.2 1635.4h0M400.4 1836.7h0M415.5 1733.2h0M418.2 1762.4h0M336.7 1793.7h0M303.8 1646.5h0M321.6 1643.4h0M383.6 1791.2h0M302.3 1823.9h0M427.3 1651.9h0M426.2 1637.0h0M342.2 1791.1h0M357.9 1849.7h0M310.2 1694.5h0M246.2 1713.4h0M333.8 1764.6h0M355.9 1845.8h0M307.6 1746.9h0M357.3 1815.5h0M426.6 1643.7h0M406.7 1820.9h0M331.5 1757.2h0M320.6 1745.6h0M355.4 1809.9h0M303.7 1829.0h0M286.0 1735.5h0M313.7 1809.4h0M371.8 1837.1h0M383.8 1689.9h0M382.7 1784.0h0M236.8 1734.3h0M292.7 1691.9h0M354.0 1675.3h0M340.8 1736.6h0M208.8 1692.9h0M360.1 1714.3h0M220.6 1785.9h0M336.4 1665.5h0M202.9 1784.1h0M227.4 1660.2h0M326.0 1832.9h0M203.1 1808.3h0M280.6 1759.3h0M419.8 1717.8h0M330.2 1834.4h0M352.0 1671.3h0M313.1 1804.9h0M290.5 1728.0h0M415.8 1717.1h0M212.2 1687.5h0M207.4 1780.5h0M373.6 1667.8h0M235.7 1664.2h0M355.5 1709.3h0M253.2 1708.3h0M380.6 1691.0h0M372.2 1812.0h0M207.7 1794.3h0M223.0 1764.9h0M232.9 1750.9h0M295.0 1647.9h0M276.2 1750.5h0M387.6 1832.1h0M380.4 1833.9h0M413.2 1822.2h0M223.1 1750.0h0M252.2 1661.5h0M399.9 1662.5h0M241.7 1667.3h0M281.1 1709.8h0M246.5 1665.6h0M375.2 1829.9h0M447.4 1736.0h0M271.2 1738.3h0M278.8 1706.6h0M230.6 1662.4h0M373.8 1758.1h0M262.2 1625.0h0M370.9 1671.5h0M251.2 1675.2h0M251.9 1646.6h0M407.9 1774.7h0M276.7 1758.9h0M237.2 1738.9h0M399.4 1658.2h0M203.2 1836.4h0M286.8 1627.3h0M392.5 1746.1h0M382.6 1757.1h0M253.0 1717.9h0M365.3 1781.4h0M270.2 1767.2h0M366.7 1779.4h0M212.6 1794.1h0M247.2 1686.8h0M215.2 1809.2h0M313.4 1738.6h0M384.4 1747.2h0M422.2 1774.0h0M260.7 1632.5h0M297.3 1642.4h0M207.7 1805.0h0M366.5 1813.8h0M220.7 1830.0h0M205.9 1818.8h0M365.6 1810.9h0M378.3 1756.4h0M409.7 1776.4h0M223.4 1779.8h0M215.6 1774.3h0M259.8 1630.3h0M292.9 1697.1h0M389.3 1755.6h0M315.6 1743.2h0M392.7 1752.5h0M274.4 1620.8h0M447.6 1774.6h0M237.0 1761.3h0M293.3 1666.0h0M294.7 1665.4h0M283.0 1622.5h0M284.5 1668.9h0M290.7 1701.3h0M417.0 1781.0h0M285.0 1695.5h0M201.7 1819.2h0M222.0 1801.6h0M243.9 1691.9h0M246.6 1761.7h0M199.8 1816.8h0M202.0 1829.4h0M243.6 1741.2h0M221.3 1804.2h0M282.5 1656.8h0M223.8 1755.8h0M241.2 1752.5h0M270.4 1703.6h0M269.1 1733.8h0M278.4 1671.4h0M214.5 1774.9h0M385.6 1745.2h0M212.5 1835.1h0M256.8 1703.7h0M212.7 1801.6h0M259.6 1703.4h0M283.1 1696.3h0M255.7 1640.0h0M279.1 1686.7h0M256.0 1689.5h0M294.2 1638.1h0M241.6 1808.9h0M232.1 1777.7h0M284.3 1663.3h0M265.5 1785.2h0M219.3 1777.4h0M227.6 1824.1h0M227.7 1755.1h0M204.0 1825.6h0M230.5 1800.5h0M276.9 1713.4h0M388.0 1750.5h0M287.4 1660.5h0M283.3 1723.7h0M234.5 1780.2h0M202.3 1826.7h0M249.8 1745.2h0M226.2 1753.3h0M274.4 1621.8h0M235.2 1815.3h0M219.4 1810.4h0M418.9 1777.5h0M228.3 1768.6h0M236.3 1777.2h0M233.8 1766.3h0M242.3 1694.0h0M261.8 1713.5h0M238.2 1769.0h0M216.2 1800.3h0M233.4 1809.9h0M276.1 1693.7h0M232.0 1798.3h0M245.1 1733.4h0M232.9 1809.9h0M212.5 1799.3h0M280.9 1659.5h0M235.5 1803.2h0M253.2 1698.2h0M280.4 1672.7h0M283.1 1729.4h0M283.0 1675.0h0M206.1 1834.2h0M249.9 1730.8h0M418.9 1775.7h0M269.3 1709.8h0M261.6 1697.9h0M237.7 1763.5h0M287.1 1699.0h0M415.2 1775.3h0M224.6 1812.2h0M221.3 1776.4h0M224.0 1769.4h0M281.0 1629.1h0M235.3 1801.3h0M274.4 1626.6h0M232.7 1822.7h0M213.4 1817.1h0M237.8 1767.4h0M224.6 1771.1h0M235.1 1788.5h0M246.6 1750.9h0M268.1 1634.0h0M227.7 1813.2h0M289.9 1634.5h0M271.1 1645.5h0M230.7 1825.1h0M256.5 1641.0h0M220.0 1828.1h0M259.0 1692.5h0M251.7 1697.4h0M242.7 1806.3h0M243.5 1776.6h0M243.2 1775.2h0M235.6 1820.0h0M236.4 1819.7h0M276.6 1690.1h0M237.9 1793.8h0M266.4 1751.7h0M271.6 1652.5h0M271.1 1747.2h0M265.3 1710.2h0M253.1 1680.5h0M231.8 1792.8h0M254.3 1685.2h0M268.0 1710.1h0M254.6 1680.3h0M270.2 1641.0h0M213.8 1827.1h0M259.7 1651.9h0M213.9 1832.7h0M276.1 1686.6h0M231.2 1785.2h0M258.6 1720.3h0M231.4 1814.3h0M224.7 1816.8h0M257.5 1719.6h0M270.3 1638.7h0M267.4 1740.5h0M256.4 1666.1h0M222.3 1818.2h0M250.0 1696.6h0M245.4 1697.8h0M274.8 1678.0h0M258.0 1668.8h0M246.4 1698.6h0M247.9 1750.7h0M264.8 1643.0h0M249.9 1781.9h0M277.1 1658.2h0M256.6 1679.5h0M229.5 1818.1h0M276.3 1660.7h0M274.2 1680.1h0M449.1 1752.9h0M214.9 1817.5h0M279.1 1646.3h0M248.5 1755.3h0M246.1 1806.5h0M214.3 1829.6h0M250.0 1761.5h0M448.6 1750.5h0M252.6 1848.6h0M234.3 1789.2h0M457.4 1798.6h0M263.9 1716.6h0M216.7 1822.3h0M450.4 1718.0h0M275.2 1728.6h0M212.0 1830.0h0M261.4 1736.8h0M277.4 1727.9h0M245.1 1773.9h0M253.6 1729.8h0M450.9 1620.7h0M280.6 1727.0h0M281.4 1647.0h0M280.9 1645.7h0M280.4 1729.0h0M243.5 1793.5h0M216.5 1822.8h0M229.1 1789.0h0M231.6 1789.0h0M218.5 1816.5h0M263.1 1847.3h0M261.0 1721.6h0M457.7 1632.8h0M257.6 1647.5h0M269.0 1698.1h0M259.9 1644.4h0M249.6 1738.4h0M263.4 1719.8h0M274.3 1642.8h0M270.3 1726.4h0M267.5 1649.9h0M259.5 1726.6h0M265.2 1697.8h0M259.8 1727.8h0M275.7 1719.8h0M261.6 1728.3h0M276.8 1717.6h0M249.8 1738.1h0M271.3 1683.9h0M271.7 1663.7h0M451.5 1632.0h0M457.3 1842.5h0M269.6 1653.7h0M267.1 1726.9h0M271.2 1695.5h0M245.0 1802.3h0M273.6 1694.9h0M274.2 1723.5h0M264.2 1652.1h0M276.8 1632.3h0M251.2 1739.7h0M276.6 1630.5h0M243.5 1795.4h0M265.3 1808.2h0M250.7 1738.4h0M248.2 1766.6h0M259.6 1667.8h0M455.3 1756.1h0M262.1 1665.3h0M260.6 1647.5h0M262.3 1783.0h0M261.6 1648.2h0M449.4 1826.1h0M450.1 1825.7h0M271.5 1661.0h0M250.0 1790.8h0M271.2 1719.9h0M252.5 1735.1h0M268.2 1718.1h0M250.0 1817.0h0M458.0 1743.4h0M247.1 1800.2h0M270.3 1656.5h0M265.8 1805.4h0M452.7 1803.3h0M251.9 1845.1h0M266.5 1653.8h0M263.4 1786.4h0M269.9 1671.5h0M269.4 1679.3h0M286.6 1641.1h0M263.5 1657.9h0M263.0 1758.6h0M254.7 1733.2h0M265.3 1745.4h0M269.1 1676.6h0M256.7 1749.4h0M267.0 1745.4h0M266.0 1724.7h0M257.1 1738.6h0M258.7 1741.2h0M254.4 1732.8h0M454.2 1745.1h0M264.6 1834.0h0M259.4 1738.9h0M259.3 1739.8h0M266.2 1722.2h0M450.7 1830.1h0M288.0 1637.4h0M264.2 1672.9h0M264.2 1673.1h0M263.4 1672.6h0M455.6 1633.2h0M244.6 1797.6h0M451.2 1669.7h0M273.0 1720.4h0M245.8 1797.5h0M262.5 1750.0h0M288.4 1638.1h0M268.7 1723.4h0M454.0 1799.2h0M274.4 1642.3h0M453.9 1635.3h0M255.4 1846.7h0M454.7 1617.7h0M255.9 1752.8h0M454.3 1618.1h0M454.0 1799.8h0M254.5 1848.5h0M269.4 1665.4h0M454.8 1845.1h0M262.7 1660.4h0M456.8 1844.8h0M276.9 1635.9h0M266.4 1695.3h0M265.9 1696.2h0M457.1 1739.7h0M268.3 1674.8h0M262.8 1665.5h0M269.4 1674.0h0M265.7 1674.8h0M279.7 1635.7h0M270.4 1722.7h0M453.6 1816.8h0M453.1 1762.3h0M261.9 1749.5h0M282.8 1634.0h0M259.7 1847.9h0M453.8 1677.4h0M261.4 1848.1h0M266.3 1666.5h0M270.6 1661.3h0M266.5 1669.2h0M274.5 1637.9h0M267.3 1657.7h0M266.4 1658.7h0M250.3 1757.2h0M453.5 1838.6h0M262.4 1746.7h0M264.7 1683.8h0M283.1 1636.7h0M455.2 1729.9h0M266.7 1681.3h0M259.5 1745.4h0M269.5 1686.0h0M278.7 1641.0h0M452.6 1725.2h0M260.8 1746.1h0M453.7 1620.3h0M265.9 1661.7h0M455.4 1717.5h0M248.9 1794.1h0M453.1 1737.0h0M453.9 1737.6h0M260.1 1686.2h0M278.3 1638.8h0M263.5 1815.7h0M264.6 1814.7h0M285.3 1640.0h0M283.8 1639.6h0M454.6 1760.3h0M455.0 1727.9h0M262.8 1838.9h0M455.2 1728.7h0M249.7 1773.6h0M454.4 1823.8h0M456.0 1824.6h0M454.5 1823.3h0M258.9 1753.2h0M258.4 1750.5h0M262.8 1765.8h0M455.1 1732.8h0M264.4 1794.2h0M264.5 1794.5h0M455.6 1722.6h0M281.9 1637.5h0M262.4 1840.8h0M457.7 1639.6h0M281.5 1642.2h0M247.9 1796.2h0M263.8 1828.1h0M265.7 1693.0h0M262.7 1826.6h0M263.9 1823.3h0M454.0 1669.0h0M248.8 1835.1h0M247.9 1824.9h0M454.9 1839.6h0M455.6 1676.9h0M264.7 1795.8h0M263.8 1765.0h0M456.7 1816.7h0M454.2 1818.3h0M262.5 1764.3h0M258.9 1755.0h0M456.1 1625.8h0M455.1 1626.0h0M257.7 1756.1h0M259.3 1785.1h0M451.3 1699.5h0M451.1 1784.3h0M248.9 1825.4h0M453.1 1687.5h0M456.4 1808.2h0M455.9 1809.4h0M454.2 1808.2h0M250.3 1794.2h0M455.2 1639.1h0M455.4 1620.6h0M267.3 1686.9h0M259.7 1757.3h0M262.5 1688.1h0M454.8 1639.2h0M264.3 1689.6h0M456.1 1667.9h0M453.6 1666.3h0M261.0 1844.4h0M264.7 1684.7h0M264.8 1684.4h0M455.9 1791.1h0M455.9 1792.0h0M249.7 1833.9h0M249.1 1833.5h0M451.5 1690.7h0M262.5 1685.6h0M455.0 1789.8h0M454.9 1659.7h0M452.7 1692.7h0M247.4 1828.7h0M262.2 1800.8h0M265.8 1687.7h0M265.4 1689.5h0M266.4 1689.9h0M253.1 1756.5h0M455.1 1678.8h0M454.7 1622.3h0M456.1 1680.8h0M455.0 1680.4h0M455.2 1834.4h0M455.2 1836.1h0M261.1 1779.7h0M454.4 1831.4h0M456.1 1834.2h0M261.1 1791.6h0M455.2 1830.6h0M455.4 1830.2h0M250.2 1815.0h0M260.3 1775.4h0M260.7 1773.7h0M454.9 1811.4h0M457.1 1649.7h0M259.4 1776.8h0M263.8 1807.9h0M457.2 1647.5h0M254.2 1783.4h0M453.2 1782.2h0M254.1 1785.0h0M454.3 1697.3h0M455.0 1694.4h0M454.6 1682.6h0M251.1 1775.9h0M454.9 1694.7h0M256.1 1786.4h0M251.3 1769.6h0M252.2 1807.7h0M250.5 1769.3h0M260.3 1760.8h0M263.5 1803.0h0M254.2 1760.2h0M263.4 1802.5h0M455.0 1688.8h0M250.8 1772.2h0M454.5 1763.3h0M453.9 1643.7h0M253.0 1804.1h0M454.2 1687.8h0M257.4 1785.6h0M456.4 1705.4h0M455.6 1653.3h0M454.4 1708.3h0M454.8 1652.5h0M454.4 1691.1h0M454.3 1693.0h0M254.3 1791.0h0M255.5 1790.2h0M253.4 1791.7h0M256.3 1759.0h0M456.1 1640.3h0M455.9 1640.2h0M257.6 1759.3h0M252.9 1805.9h0M262.1 1794.2h0M260.0 1795.2h0M250.5 1839.7h0M259.2 1769.5h0M259.8 1768.8h0M251.2 1816.8h0M259.9 1770.0h0M258.8 1791.8h0M258.7 1790.4h0M456.3 1782.8h0M454.5 1782.3h0M260.8 1814.8h0M456.0 1661.3h0M454.3 1662.2h0M456.0 1660.4h0M455.1 1704.5h0M455.4 1704.3h0M455.8 1660.8h0M456.8 1703.3h0M453.3 1777.5h0M255.3 1780.9h0M255.7 1792.6h0M253.3 1793.7h0M453.8 1776.0h0M261.5 1797.7h0M253.9 1783.0h0M258.3 1782.5h0M258.1 1782.9h0M257.2 1781.3h0M257.1 1783.2h0M259.2 1765.0h0M254.1 1763.3h0M255.0 1764.7h0M254.9 1796.2h0M256.8 1792.8h0M259.7 1841.1h0M255.5 1796.6h0M258.6 1795.0h0M259.3 1837.6h0M258.2 1761.3h0M256.1 1760.6h0M454.9 1642.7h0M261.8 1835.4h0M259.9 1837.0h0M255.2 1766.1h0M256.9 1771.9h0M258.5 1778.5h0M258.7 1774.2h0M454.1 1765.7h0M454.0 1767.6h0M253.0 1821.1h0M256.6 1795.6h0M453.2 1769.5h0M255.0 1800.7h0M455.1 1651.3h0M260.7 1800.4h0M260.4 1800.7h0M454.7 1651.0h0M455.8 1651.2h0M253.4 1799.5h0M255.9 1800.4h0M456.0 1649.8h0M256.0 1780.2h0M254.0 1779.0h0M254.8 1778.7h0M256.1 1777.5h0M455.7 1647.8h0M455.2 1778.1h0M456.8 1777.5h0M252.4 1834.6h0M253.0 1835.7h0M454.9 1779.7h0M255.5 1772.2h0M254.4 1773.7h0M255.2 1769.4h0M254.5 1769.6h0M254.1 1768.8h0M256.3 1770.3h0M255.6 1816.3h0M255.5 1776.2h0M455.8 1775.9h0M253.5 1775.4h0M256.1 1776.7h0M257.5 1766.1h0M258.5 1765.7h0M455.6 1768.2h0M257.5 1764.3h0M256.6 1764.6h0M256.1 1765.1h0M257.8 1764.6h0M256.4 1763.4h0M259.3 1822.6h0M254.3 1811.3h0M255.9 1812.7h0M261.7 1824.4h0M260.5 1824.8h0M255.8 1811.3h0M252.7 1824.1h0M255.5 1801.4h0M255.7 1803.3h0M254.3 1802.6h0M260.2 1807.8h0M260.3 1810.0h0M261.0 1801.8h0M259.8 1803.6h0M454.8 1772.8h0M455.7 1773.5h0M456.9 1771.7h0M455.5 1771.3h0M251.4 1827.4h0M455.0 1770.6h0M258.7 1840.4h0M258.8 1841.7h0M258.5 1842.7h0M258.0 1840.6h0M258.0 1842.7h0M256.4 1840.5h0M258.5 1841.0h0M258.2 1842.7h0M258.0 1813.7h0M256.8 1814.6h0M254.1 1838.5h0M254.5 1840.3h0M253.7 1838.6h0M255.9 1818.0h0M254.7 1819.1h0M255.3 1809.7h0M253.7 1808.1h0M257.5 1839.3h0M260.5 1806.0h0M260.7 1806.3h0M261.4 1806.6h0M259.0 1812.2h0M258.9 1811.9h0M256.2 1812.1h0M254.2 1807.2h0M253.6 1806.2h0M257.0 1818.3h0M257.1 1817.3h0M256.6 1817.8h0M256.2 1817.4h0M258.5 1818.4h0M257.1 1801.9h0M256.2 1803.3h0M256.6 1831.6h0M258.1 1831.6h0M256.5 1835.9h0M258.9 1834.8h0M255.4 1821.2h0M255.0 1820.7h0M256.5 1810.1h0M256.1 1809.4h0M257.9 1809.7h0M254.9 1834.5h0M254.0 1836.6h0M254.8 1835.1h0M255.8 1836.8h0M255.9 1836.4h0M258.9 1819.8h0M259.0 1821.9h0M257.1 1821.1h0M258.6 1822.2h0M258.7 1804.4h0M256.9 1805.9h0M256.2 1805.1h0M256.5 1805.0h0M257.5 1806.2h0M253.5 1834.0h0M255.9 1834.0h0M255.8 1832.9h0M256.5 1830.0h0M256.2 1830.3h0M258.4 1830.5h0M256.5 1828.7h0M258.0 1825.0h0M258.4 1823.7h0M257.4 1827.4h0M259.0 1827.6h0M256.9 1826.6h0M257.1 1826.7h0M253.6 1824.7h0M253.8 1822.9h0M255.1 1822.9h0M254.2 1822.8h0M254.6 1831.2h0M253.5 1830.0h0M255.1 1831.1h0M254.4 1829.1h0M254.1 1828.2h0M255.2 1827.9h0M253.5 1826.3h0M255.0 1828.1h0M255.5 1825.3h0M253.7 1825.6h0M675.8 1814.0h0M664.5 1637.7h0M758.8 1736.3h0M671.0 1732.6h0M785.9 1731.7h0M582.4 1701.2h0M678.1 1840.1h0M573.8 1701.0h0M692.7 1732.6h0M783.5 1763.7h0M668.2 1671.6h0M730.9 1743.2h0M701.2 1675.5h0M796.5 1847.8h0M778.2 1730.7h0M675.7 1706.1h0M662.3 1652.0h0M799.6 1832.5h0M799.5 1708.8h0M780.1 1703.5h0M733.7 1842.3h0M596.1 1691.4h0M816.6 1696.8h0M696.6 1691.3h0M756.0 1804.8h0M771.4 1669.2h0M757.3 1682.3h0M741.7 1634.1h0M650.7 1751.4h0M716.0 1691.3h0M763.0 1673.4h0M744.7 1645.1h0M573.1 1781.9h0M659.8 1731.1h0M646.3 1823.7h0M770.8 1697.0h0M823.8 1724.7h0M672.7 1713.7h0M701.6 1775.7h0M799.0 1775.6h0M789.5 1835.8h0M808.8 1657.5h0M761.4 1777.9h0M808.4 1649.8h0M821.6 1706.1h0M817.2 1829.7h0M806.8 1841.2h0M793.4 1656.6h0M732.3 1697.4h0M571.3 1761.5h0M780.1 1747.5h0M742.6 1658.1h0M805.1 1676.1h0M676.1 1645.1h0M791.7 1800.2h0M679.4 1823.4h0M762.3 1705.1h0M815.6 1718.4h0M737.6 1725.0h0M819.7 1800.8h0M653.2 1810.4h0M659.8 1804.8h0M573.8 1796.3h0M650.4 1800.9h0M579.2 1715.7h0M645.2 1771.2h0M568.1 1790.9h0M647.0 1673.0h0M573.1 1720.0h0M750.5 1723.2h0M816.9 1732.4h0M651.3 1728.8h0M652.1 1846.1h0M590.5 1837.3h0M667.1 1764.0h0M579.6 1756.7h0M823.7 1686.8h0M820.2 1777.5h0M793.4 1669.3h0M810.0 1745.8h0M743.1 1729.5h0M648.5 1725.0h0M607.0 1827.9h0M796.2 1676.6h0M645.1 1781.0h0M824.7 1663.9h0M696.0 1725.2h0M776.8 1800.1h0M599.6 1626.4h0M698.3 1717.5h0M770.7 1802.5h0M584.7 1753.4h0M817.1 1782.8h0M657.5 1826.3h0M739.2 1813.6h0M591.5 1811.1h0M606.7 1765.8h0M718.3 1698.8h0M668.4 1850.4h0M771.7 1708.8h0M598.8 1676.5h0M674.1 1849.8h0M821.7 1747.8h0M770.3 1715.2h0M663.2 1825.9h0M827.7 1678.5h0M816.1 1636.8h0M585.2 1643.7h0M729.1 1810.8h0M640.7 1622.1h0M825.8 1736.0h0M664.2 1768.5h0M644.7 1831.3h0M601.7 1714.1h0M669.5 1777.8h0M607.3 1624.3h0M824.0 1785.9h0M594.6 1647.0h0M822.3 1789.2h0M598.1 1723.2h0M593.9 1777.6h0M816.9 1740.4h0M585.8 1855.3h0M589.1 1777.3h0M679.5 1672.9h0M675.1 1788.6h0M595.9 1784.7h0M571.3 1856.6h0M648.2 1634.6h0M604.6 1783.2h0M816.9 1623.5h0M607.5 1854.8h0M672.7 1788.9h0M816.2 1627.8h0M666.2 1774.5h0M600.9 1719.1h0M659.2 1848.9h0M723.3 1800.2h0M722.6 1802.1h0M583.3 1857.6h0M646.0 1704.1h0M818.1 1813.3h0M821.6 1737.9h0M611.4 1628.8h0M670.6 1682.2h0M606.0 1771.3h0M827.0 1764.1h0M590.5 1642.3h0M711.3 1704.8h0M608.1 1687.1h0M583.8 1768.2h0M601.9 1730.6h0M593.5 1681.9h0M645.7 1797.4h0M731.8 1814.4h0M824.8 1672.6h0M648.3 1707.8h0M600.1 1730.3h0M646.0 1790.8h0M826.2 1622.1h0M658.3 1851.1h0M583.6 1772.3h0M582.8 1789.9h0M712.7 1705.3h0M674.5 1682.0h0M592.0 1732.9h0M607.4 1852.3h0M595.3 1850.1h0M610.2 1802.6h0M609.6 1773.7h0M815.1 1762.9h0M589.6 1732.1h0M593.7 1679.8h0M570.0 1678.6h0M678.6 1675.4h0M825.1 1752.9h0M581.4 1786.0h0M816.6 1755.8h0M605.2 1795.6h0M596.9 1766.2h0M569.6 1825.5h0M594.7 1758.5h0M569.8 1826.3h0M601.8 1809.2h0M592.1 1791.5h0M602.1 1788.2h0M580.9 1652.0h0M612.3 1753.3h0M611.3 1806.2h0M591.6 1762.8h0M825.7 1629.4h0M647.0 1705.0h0M608.8 1792.6h0M577.7 1648.4h0M594.5 1845.2h0M624.7 1620.4h0M590.1 1787.5h0M816.0 1685.7h0M586.6 1848.0h0M572.6 1680.2h0M590.9 1797.9h0M597.4 1796.4h0M611.1 1708.8h0M572.7 1803.6h0M571.9 1672.3h0M825.3 1759.2h0M826.7 1756.2h0M592.9 1801.2h0M611.9 1785.5h0M575.4 1672.0h0M644.9 1665.4h0M603.8 1794.2h0M819.6 1658.9h0M597.7 1802.6h0M576.4 1856.2h0M608.3 1669.4h0M820.4 1658.2h0M823.5 1675.2h0M590.3 1815.7h0M577.6 1652.3h0M815.5 1758.5h0M642.4 1834.5h0M826.7 1814.3h0M588.2 1785.5h0M578.6 1834.3h0M819.9 1684.3h0M816.0 1679.8h0M583.0 1802.7h0M598.3 1764.2h0M582.1 1801.9h0M642.9 1646.1h0M826.5 1809.2h0M608.4 1661.1h0M823.4 1645.3h0M605.9 1652.4h0M589.7 1846.4h0M599.4 1815.6h0M600.9 1816.0h0M642.3 1654.4h0M606.6 1813.9h0M823.3 1649.5h0M573.8 1808.7h0M603.1 1834.3h0M583.2 1826.9h0M609.4 1667.1h0M578.3 1848.9h0M608.1 1649.4h0M578.1 1806.2h0M817.6 1678.9h0M612.6 1810.9h0M597.7 1822.1h0M587.2 1672.0h0M828.3 1656.0h0M635.9 1625.2h0M638.3 1735.7h0M575.8 1818.5h0M611.7 1812.8h0M607.5 1808.0h0M827.9 1654.0h0M818.0 1642.1h0M641.5 1686.9h0M817.5 1641.7h0M637.7 1674.2h0M609.5 1656.0h0M640.8 1686.8h0M644.5 1660.1h0M640.9 1680.1h0M580.6 1841.5h0M825.4 1655.9h0M825.7 1811.0h0M637.9 1811.6h0M828.2 1623.5h0M644.8 1634.4h0M582.3 1671.5h0M574.1 1849.6h0M615.6 1637.3h0M639.3 1779.2h0M823.6 1814.8h0M603.5 1844.0h0M576.2 1810.2h0M571.8 1844.7h0M609.7 1652.7h0M617.7 1858.6h0M604.1 1836.5h0M612.0 1662.5h0M827.8 1629.0h0M828.1 1628.5h0M576.9 1813.7h0M619.2 1669.3h0M575.5 1850.8h0M591.0 1827.5h0M605.3 1845.6h0M639.7 1626.8h0M638.0 1806.2h0M634.6 1852.5h0M605.6 1838.9h0M581.5 1813.9h0M608.0 1838.8h0M578.4 1836.5h0M586.5 1829.5h0M592.7 1825.0h0M629.7 1623.5h0M640.7 1683.2h0M639.5 1648.8h0M608.0 1846.1h0M613.2 1747.9h0M615.1 1836.1h0M593.6 1823.3h0M615.5 1751.1h0M575.2 1839.7h0M614.9 1646.3h0M638.0 1792.1h0M584.6 1674.7h0M589.5 1818.6h0M639.1 1720.9h0M584.6 1677.0h0M639.0 1791.3h0M583.7 1676.7h0M577.6 1817.4h0M575.3 1842.8h0M612.7 1742.0h0M579.2 1840.2h0M611.4 1743.6h0M638.6 1742.5h0M635.3 1653.4h0M639.7 1629.4h0M614.1 1671.8h0M636.3 1670.5h0M631.7 1631.4h0M642.3 1662.0h0M586.3 1819.9h0M638.9 1747.6h0M638.4 1746.7h0M620.9 1620.7h0M626.7 1633.3h0M619.5 1621.9h0M582.5 1816.4h0M638.6 1718.7h0M612.3 1677.9h0M633.8 1857.9h0M619.2 1636.3h0M630.6 1630.3h0M609.3 1843.9h0M616.2 1660.8h0M608.2 1844.8h0M615.7 1854.2h0M640.2 1640.8h0M582.0 1819.2h0M617.6 1639.6h0M639.5 1636.2h0M586.8 1827.1h0M611.1 1680.8h0M615.3 1769.2h0M587.0 1824.6h0M630.9 1627.6h0M611.2 1680.8h0M635.9 1816.1h0M637.5 1633.9h0M637.6 1660.9h0M638.8 1633.6h0M619.3 1694.1h0M623.0 1634.2h0M619.4 1697.9h0M619.5 1630.2h0M636.9 1667.7h0M614.6 1687.0h0M616.8 1627.1h0M614.6 1782.2h0M617.3 1660.2h0M618.3 1660.9h0M619.6 1671.6h0M619.5 1640.0h0M616.5 1733.1h0M629.0 1641.2h0M614.6 1677.3h0M635.8 1638.7h0M635.0 1639.9h0M614.2 1676.0h0M625.0 1859.1h0M639.7 1682.3h0M634.2 1653.1h0M617.2 1676.0h0M636.8 1647.6h0M635.1 1810.6h0M637.5 1662.2h0M621.2 1644.1h0M622.5 1624.7h0M636.6 1711.0h0M617.5 1689.7h0M619.2 1646.0h0M620.1 1642.8h0M635.8 1696.0h0M634.9 1645.8h0M628.0 1627.8h0M636.2 1829.3h0M637.4 1674.8h0M631.3 1859.2h0M635.4 1664.7h0M631.7 1660.0h0M634.6 1662.6h0M613.7 1842.4h0M619.7 1629.7h0M622.2 1630.0h0M635.8 1726.1h0M626.2 1654.4h0M625.8 1655.1h0M633.1 1643.9h0M616.0 1775.6h0M632.0 1649.2h0M629.4 1652.3h0M630.8 1650.7h0M636.0 1714.4h0M636.8 1806.7h0M622.7 1670.2h0M626.1 1643.5h0M628.1 1642.2h0M636.7 1714.4h0M626.0 1660.9h0M620.4 1627.7h0M615.5 1729.9h0M623.6 1627.9h0M622.5 1626.6h0M631.9 1664.2h0M617.8 1687.3h0M629.0 1642.5h0M623.9 1664.2h0M618.8 1656.5h0M631.4 1644.1h0M623.6 1664.6h0M636.0 1778.8h0M617.8 1750.4h0M620.4 1692.4h0M620.8 1854.5h0M619.2 1686.2h0M623.7 1646.1h0M628.9 1673.0h0M623.1 1657.0h0M631.4 1649.3h0M615.1 1742.9h0M623.7 1646.3h0M619.3 1683.0h0M616.9 1682.2h0M634.9 1716.7h0M618.7 1760.2h0M635.1 1836.0h0M635.1 1768.7h0M636.2 1755.9h0M617.3 1654.5h0M618.8 1763.8h0M635.7 1684.7h0M616.6 1839.2h0M637.4 1764.0h0M622.3 1659.3h0M634.8 1838.0h0M618.0 1851.7h0M619.2 1853.2h0M634.7 1838.7h0M630.8 1664.4h0M628.0 1671.6h0M634.3 1676.4h0M625.8 1671.7h0M627.1 1662.7h0M617.3 1812.9h0M619.8 1681.9h0M629.1 1664.1h0M634.5 1741.4h0M626.7 1673.4h0M619.0 1650.6h0M618.2 1651.7h0M624.1 1679.3h0M618.5 1651.9h0M626.9 1677.3h0M635.0 1766.5h0M634.7 1767.2h0M636.4 1683.1h0M617.1 1825.0h0M616.6 1826.3h0M618.6 1818.4h0M614.6 1725.8h0M617.1 1818.5h0M615.3 1726.6h0M621.6 1687.7h0M621.6 1654.8h0M619.8 1689.0h0M619.3 1821.8h0M629.0 1855.8h0M627.1 1666.4h0M626.2 1668.2h0M631.4 1854.5h0M627.5 1665.8h0M620.6 1684.8h0M628.2 1665.4h0M625.2 1651.6h0M624.8 1652.7h0M614.1 1725.3h0M619.3 1848.9h0M629.8 1675.1h0M617.9 1783.5h0M620.4 1650.7h0M620.6 1651.1h0M619.0 1788.4h0M622.1 1650.4h0M625.4 1855.7h0M616.7 1841.8h0M618.2 1841.1h0M617.4 1714.3h0M618.8 1712.7h0M618.8 1711.3h0M627.5 1855.5h0M633.7 1818.3h0M625.2 1681.3h0M634.2 1678.7h0M632.1 1680.2h0M632.4 1680.2h0M619.2 1708.7h0M618.1 1708.4h0M634.2 1689.5h0M633.8 1694.7h0M634.0 1693.1h0M634.1 1847.8h0M632.7 1687.4h0M618.5 1792.3h0M618.3 1733.8h0M632.5 1708.7h0M625.1 1687.5h0M632.7 1833.1h0M632.0 1684.3h0M632.6 1828.4h0M616.7 1780.4h0M632.9 1829.1h0M632.8 1680.5h0M633.2 1695.6h0M624.8 1684.7h0M618.5 1799.7h0M631.6 1794.1h0M632.1 1794.0h0M632.5 1696.2h0M629.5 1678.1h0M618.8 1775.5h0M634.3 1783.9h0M618.6 1773.9h0M619.1 1773.9h0M633.1 1782.8h0M632.2 1796.8h0M616.6 1717.4h0M625.8 1681.3h0M621.7 1699.9h0M630.7 1852.6h0M634.0 1782.2h0M632.6 1824.9h0M632.5 1825.7h0M632.6 1820.2h0M634.5 1780.9h0M631.8 1788.5h0M632.4 1790.2h0M631.9 1788.6h0M622.5 1753.4h0M618.3 1797.0h0M619.2 1796.9h0M633.2 1823.6h0M631.6 1799.8h0M634.5 1706.2h0M633.1 1706.3h0M633.4 1707.1h0M633.2 1798.9h0M620.5 1836.8h0M621.0 1838.8h0M621.8 1829.2h0M619.5 1828.9h0M620.6 1828.8h0M632.0 1833.8h0M631.7 1834.9h0M631.9 1843.4h0M627.7 1690.7h0M630.0 1682.0h0M630.8 1683.2h0M628.7 1681.0h0M626.2 1690.6h0M627.7 1687.0h0M634.0 1702.5h0M632.2 1703.9h0M627.4 1684.7h0M625.7 1686.0h0M633.9 1701.6h0M622.4 1764.6h0M620.3 1756.0h0M631.4 1694.1h0M631.3 1692.8h0M631.2 1690.9h0M624.6 1696.8h0M622.6 1697.8h0M630.0 1692.1h0M623.5 1697.3h0M633.3 1803.8h0M630.3 1688.1h0M629.6 1687.3h0M628.9 1687.2h0M632.1 1806.2h0M631.4 1686.0h0M617.3 1743.4h0M617.1 1741.2h0M616.9 1741.2h0M633.7 1750.0h0M632.1 1750.7h0M619.1 1742.4h0M631.9 1747.2h0M634.3 1747.4h0M632.6 1800.8h0M632.0 1801.1h0M633.1 1720.9h0M632.7 1716.8h0M631.5 1840.6h0M621.6 1702.5h0M621.8 1811.9h0M634.1 1774.9h0M619.7 1702.8h0M622.3 1701.7h0M621.4 1702.9h0M621.8 1811.6h0M620.9 1826.0h0M621.6 1825.5h0M621.1 1813.0h0M621.5 1770.4h0M632.6 1723.1h0M622.4 1759.5h0M623.0 1831.0h0M623.0 1832.2h0M620.3 1821.9h0M627.7 1854.3h0M622.1 1761.2h0M633.0 1723.9h0M624.6 1832.8h0M627.9 1853.1h0M630.1 1828.8h0M622.2 1748.0h0M622.4 1762.5h0M622.5 1851.3h0M633.7 1733.0h0M633.0 1756.2h0M633.7 1727.4h0M632.7 1731.9h0M622.0 1763.5h0M622.0 1849.4h0M620.9 1763.3h0M631.0 1698.3h0M631.8 1756.3h0M620.1 1841.0h0M622.4 1842.2h0M622.3 1840.9h0M633.1 1730.8h0M621.1 1841.6h0M618.7 1721.9h0M616.9 1720.9h0M621.4 1815.6h0M632.0 1754.4h0M624.2 1853.4h0M631.6 1754.1h0M625.0 1853.4h0M618.9 1721.3h0M620.5 1704.5h0M620.5 1707.1h0M629.0 1708.5h0M620.1 1807.1h0M632.1 1740.7h0M632.0 1737.4h0M622.3 1710.5h0M622.2 1844.1h0M632.3 1770.9h0M620.0 1711.0h0M629.7 1810.7h0M620.8 1708.8h0M622.0 1709.0h0M629.5 1791.8h0M627.5 1696.5h0M625.0 1829.4h0M629.3 1794.2h0M626.9 1696.2h0M623.1 1828.8h0M626.7 1696.3h0M632.1 1765.2h0M629.8 1710.7h0M624.1 1837.1h0M625.2 1837.2h0M621.4 1714.9h0M631.3 1812.8h0M629.0 1700.7h0M629.9 1700.9h0M621.1 1846.0h0M621.7 1846.4h0M627.4 1833.3h0M620.8 1848.0h0M621.6 1789.6h0M629.4 1833.7h0M631.1 1833.6h0M629.5 1846.1h0M630.2 1705.6h0M629.9 1845.7h0M631.1 1835.3h0M631.3 1825.5h0M621.5 1803.7h0M621.9 1805.1h0M619.1 1722.6h0M619.1 1723.0h0M621.5 1781.0h0M621.5 1781.9h0M626.7 1830.0h0M622.1 1794.2h0M629.0 1789.1h0M620.9 1792.9h0M630.1 1785.9h0M628.4 1827.8h0M621.7 1773.9h0M620.4 1775.8h0M628.2 1834.3h0M631.0 1702.0h0M628.3 1836.2h0M629.9 1703.1h0M626.2 1834.1h0M625.5 1755.4h0M624.0 1754.5h0M629.1 1784.1h0M623.9 1751.2h0M629.7 1844.9h0M625.5 1751.2h0M622.5 1752.3h0M629.2 1798.1h0M631.2 1843.2h0M622.9 1749.5h0M629.9 1844.4h0M622.2 1779.1h0M629.4 1838.7h0M628.0 1850.6h0M626.4 1848.6h0M628.8 1715.5h0M628.0 1849.4h0M629.2 1837.6h0M621.5 1777.0h0M629.4 1837.4h0M621.9 1776.5h0M630.3 1779.6h0M626.1 1851.2h0M624.1 1706.8h0M623.6 1702.0h0M623.7 1703.4h0M625.5 1702.8h0M623.7 1709.4h0M629.7 1823.9h0M630.6 1808.5h0M630.6 1823.8h0M630.1 1821.9h0M630.8 1808.8h0M629.9 1807.6h0M630.4 1808.1h0M620.9 1745.5h0M620.2 1743.8h0M625.3 1825.2h0M625.4 1849.2h0M625.2 1756.0h0M623.9 1848.9h0M623.8 1850.8h0M623.5 1767.9h0M628.1 1698.7h0M620.3 1803.1h0M620.8 1798.6h0M629.8 1749.8h0M628.4 1699.2h0M621.9 1802.2h0M625.9 1699.8h0M631.3 1750.4h0M621.9 1801.1h0M628.0 1701.4h0M629.6 1820.9h0M627.7 1837.1h0M629.6 1818.8h0M625.8 1836.4h0M626.9 1837.4h0M630.6 1818.7h0M629.4 1818.6h0M629.3 1821.1h0M624.3 1711.7h0M620.9 1795.0h0M620.0 1797.1h0M621.4 1797.3h0M625.1 1711.2h0M620.0 1796.9h0M627.7 1710.2h0M627.7 1710.0h0M629.5 1840.5h0M629.5 1841.9h0M628.9 1841.7h0M631.0 1842.3h0M624.2 1844.0h0M623.8 1811.5h0M622.6 1811.0h0M626.3 1810.3h0M625.2 1810.9h0M627.3 1810.5h0M623.7 1844.9h0M627.5 1810.8h0M625.9 1825.0h0M628.1 1826.6h0M631.0 1747.8h0M626.5 1827.1h0M630.9 1746.9h0M628.8 1748.3h0M628.5 1825.3h0M626.5 1824.8h0M631.2 1747.0h0M627.4 1826.2h0M623.1 1822.4h0M629.9 1753.9h0M628.7 1754.8h0M622.9 1822.6h0M628.9 1753.1h0M628.6 1754.0h0M630.4 1806.1h0M631.4 1755.7h0M626.7 1712.4h0M626.0 1712.7h0M626.4 1712.6h0M628.4 1848.0h0M620.6 1735.7h0M626.0 1750.5h0M628.1 1705.9h0M626.9 1845.4h0M626.8 1706.9h0M627.5 1705.3h0M623.6 1812.8h0M624.4 1814.3h0M629.6 1744.0h0M628.4 1704.8h0M627.9 1845.2h0M624.2 1848.1h0M625.6 1840.3h0M624.2 1846.4h0M625.0 1848.1h0M623.4 1749.2h0M624.4 1848.3h0M622.6 1845.8h0M627.9 1840.5h0M625.3 1846.2h0M626.0 1841.7h0M627.5 1839.8h0M623.9 1747.4h0M626.8 1794.0h0M625.8 1813.2h0M625.7 1792.4h0M626.0 1814.3h0M628.3 1815.4h0M625.8 1791.7h0M626.6 1793.0h0M627.8 1814.2h0M622.1 1732.1h0M628.3 1754.0h0M619.7 1734.3h0M621.7 1741.0h0M627.4 1752.6h0M629.0 1801.3h0M630.0 1717.0h0M630.9 1719.3h0M625.2 1792.1h0M623.0 1760.4h0M623.2 1759.2h0M623.5 1760.6h0M630.1 1801.7h0M628.7 1803.0h0M623.5 1793.4h0M623.7 1759.0h0M631.3 1718.4h0M626.5 1704.0h0M625.7 1701.9h0M625.5 1715.1h0M624.2 1762.9h0M623.8 1716.4h0M624.9 1816.6h0M624.6 1806.4h0M623.7 1816.6h0M622.9 1807.4h0M623.2 1807.7h0M624.7 1818.2h0M625.1 1816.1h0M622.5 1817.0h0M624.3 1787.3h0M622.7 1787.2h0M624.9 1821.3h0M625.3 1787.6h0M624.1 1821.3h0M625.1 1785.5h0M623.1 1788.4h0M625.1 1818.7h0M623.6 1820.7h0M623.1 1819.6h0M629.9 1778.0h0M628.6 1779.2h0M630.5 1779.1h0M629.1 1779.2h0M628.9 1777.3h0M629.5 1778.3h0M628.0 1816.6h0M628.0 1817.9h0M626.7 1816.8h0M626.9 1817.8h0M631.1 1719.9h0M626.1 1796.0h0M625.5 1795.1h0M624.4 1785.0h0M623.0 1789.3h0M624.8 1784.2h0M623.8 1791.2h0M623.4 1783.0h0M625.3 1790.8h0M623.0 1784.4h0M622.0 1738.8h0M620.7 1739.3h0M622.5 1739.6h0M620.3 1739.7h0M620.5 1739.4h0M626.8 1784.9h0M625.5 1785.0h0M628.2 1807.9h0M625.5 1756.1h0M628.4 1756.9h0M628.5 1757.2h0M628.0 1784.0h0M626.0 1788.3h0M630.8 1774.0h0M626.1 1787.1h0M628.0 1786.4h0M629.9 1775.5h0M620.8 1721.3h0M620.8 1721.3h0M620.7 1721.0h0M623.6 1795.4h0M627.3 1789.2h0M623.4 1779.8h0M626.6 1790.8h0M622.7 1795.4h0M624.4 1794.6h0M625.7 1789.2h0M624.4 1781.6h0M630.0 1770.1h0M629.6 1768.1h0M627.2 1747.6h0M627.6 1747.0h0M628.5 1748.2h0M627.5 1747.0h0M628.9 1769.8h0M627.9 1818.7h0M621.9 1729.1h0M626.0 1821.2h0M629.6 1761.3h0M627.6 1819.2h0M629.3 1760.2h0M629.8 1759.7h0M630.2 1760.8h0M630.4 1760.9h0M628.1 1716.1h0M626.4 1714.8h0M625.8 1714.7h0M626.5 1714.3h0M631.1 1740.4h0M628.9 1743.2h0M629.1 1741.2h0M629.0 1762.1h0M630.9 1763.3h0M629.4 1762.9h0M630.0 1764.2h0M624.4 1773.7h0M625.2 1773.8h0M623.9 1774.0h0M622.7 1797.5h0M624.6 1806.0h0M625.4 1803.5h0M625.0 1803.5h0M625.2 1797.7h0M625.3 1804.2h0M624.9 1804.7h0M628.1 1798.3h0M626.6 1799.6h0M629.4 1767.0h0M630.5 1723.9h0M630.3 1725.2h0M630.6 1773.0h0M630.8 1771.5h0M631.2 1771.4h0M628.7 1772.7h0M629.8 1767.1h0M631.3 1766.0h0M629.6 1772.3h0M630.6 1772.5h0M629.2 1722.7h0M630.8 1766.9h0M630.1 1723.0h0M631.0 1738.2h0M630.3 1739.5h0M629.8 1739.5h0M626.0 1768.4h0M627.2 1768.5h0M628.4 1770.4h0M628.5 1769.9h0M624.6 1777.8h0M623.0 1777.8h0M625.0 1777.9h0M628.8 1737.3h0M623.6 1777.8h0M623.7 1777.7h0M631.1 1735.8h0M623.1 1778.1h0M625.0 1745.6h0M623.9 1746.2h0M623.7 1745.0h0M623.6 1745.7h0M625.0 1744.4h0M625.1 1743.6h0M628.8 1733.7h0M629.4 1726.4h0M630.9 1726.8h0M628.2 1760.7h0M625.6 1758.5h0M626.6 1760.1h0M625.9 1758.7h0M627.0 1778.8h0M621.0 1724.2h0M622.1 1723.9h0M620.0 1723.0h0M626.0 1779.3h0M622.1 1724.2h0M627.0 1779.2h0M628.2 1776.7h0M619.7 1725.8h0M623.7 1802.1h0M624.4 1803.1h0M622.1 1727.0h0M624.0 1803.1h0M627.7 1765.3h0M628.1 1767.1h0M625.5 1766.3h0M627.9 1766.7h0M628.4 1766.9h0M627.1 1773.8h0M630.4 1729.5h0M628.2 1776.1h0M626.1 1770.8h0M627.8 1772.4h0M628.4 1771.7h0M626.7 1770.4h0M626.8 1763.9h0M626.2 1763.9h0M627.3 1761.5h0M627.7 1762.9h0M627.0 1761.6h0M625.6 1718.0h0M626.4 1717.5h0M628.1 1718.6h0M627.7 1717.7h0M625.6 1718.0h0M627.7 1717.4h0M627.4 1719.3h0M627.8 1716.7h0M627.5 1719.3h0M627.9 1803.2h0M627.8 1802.8h0M627.4 1800.5h0M627.1 1801.9h0M627.1 1801.9h0M627.5 1800.6h0M628.0 1801.1h0M622.8 1740.6h0M622.6 1742.3h0M623.1 1740.7h0M627.6 1722.2h0M627.1 1721.0h0M627.3 1719.6h0M623.5 1721.1h0M627.1 1742.1h0M624.6 1720.4h0M628.4 1743.1h0M626.0 1743.3h0M627.2 1740.9h0M625.1 1720.3h0M627.2 1741.6h0M624.1 1735.9h0M624.9 1735.3h0M623.8 1739.6h0M624.0 1738.4h0M625.3 1738.9h0M623.6 1739.0h0M623.7 1733.0h0M624.2 1731.6h0M622.5 1733.3h0M626.3 1739.3h0M627.9 1738.2h0M628.2 1724.0h0M628.5 1739.7h0M627.4 1738.0h0M626.8 1725.1h0M625.3 1730.5h0M625.0 1723.6h0M623.0 1729.8h0M624.1 1725.2h0M625.0 1731.2h0M624.0 1731.3h0M624.9 1731.2h0M622.8 1723.4h0M623.3 1724.9h0M623.7 1724.1h0M626.8 1735.6h0M625.8 1735.9h0M626.4 1736.5h0M627.8 1736.1h0M627.7 1735.4h0M623.9 1726.5h0M625.4 1727.9h0M623.2 1726.1h0M622.6 1726.1h0M625.0 1726.5h0M624.6 1727.7h0M625.8 1728.1h0M628.1 1725.9h0M626.8 1728.2h0M626.6 1727.2h0M627.1 1726.6h0M628.1 1732.8h0M626.5 1732.5h0M627.8 1732.0h0M625.6 1732.6h0M628.3 1732.7h0M626.2 1730.9h0M627.9 1729.7h0M625.8 1730.0h0M627.0 1730.4h0M626.0 1729.9h0M625.5 1730.8h0M627.2 1731.1h0M1146.6 1700.4h0M1027.2 1668.0h0M964.5 1654.4h0M1022.6 1719.7h0M1121.8 1773.8h0M1096.8 1831.7h0M1150.0 1770.6h0M1023.8 1633.7h0M1083.3 1745.0h0M1067.1 1652.7h0M1134.8 1774.8h0M1141.0 1734.6h0M1168.0 1746.0h0M1056.7 1637.9h0M1056.8 1822.5h0M1128.5 1784.2h0M1098.0 1657.2h0M1044.9 1737.3h0M1154.3 1745.3h0M1076.7 1651.3h0M1108.2 1652.9h0M1119.9 1740.6h0M1067.9 1799.2h0M1077.8 1631.4h0M1156.0 1668.2h0M1163.8 1821.1h0M1160.0 1656.1h0M1131.3 1691.8h0M1037.4 1648.3h0M1143.0 1818.9h0M1104.5 1691.5h0M1106.8 1851.7h0M937.2 1687.8h0M948.6 1684.0h0M1086.2 1757.4h0M939.5 1672.5h0M1174.8 1733.4h0M1131.4 1759.9h0M1039.4 1760.8h0M1083.9 1716.8h0M1040.4 1825.8h0M938.0 1767.4h0M1083.3 1670.7h0M1103.4 1724.5h0M939.9 1644.2h0M1118.0 1710.4h0M1169.2 1766.8h0M1144.6 1652.0h0M1169.8 1636.7h0M1100.7 1672.1h0M1058.1 1745.6h0M1034.7 1637.4h0M951.4 1747.1h0M1086.2 1695.3h0M1173.7 1719.1h0M1155.1 1733.0h0M1132.6 1743.0h0M1109.2 1745.1h0M1143.6 1717.1h0M946.1 1780.2h0M1126.1 1725.4h0M1068.2 1754.9h0M1164.4 1757.7h0M1062.6 1679.7h0M1036.9 1776.3h0M1034.9 1785.4h0M957.3 1776.5h0M1028.0 1676.7h0M1030.6 1682.3h0M1028.8 1815.9h0M1075.2 1778.1h0M1025.1 1843.3h0M1102.9 1644.6h0M1027.2 1807.7h0M1031.4 1791.0h0M934.7 1778.5h0M1079.8 1781.0h0M952.6 1699.6h0M1086.5 1800.0h0M953.1 1783.4h0M1112.8 1835.7h0M1108.7 1641.7h0M954.2 1692.7h0M1111.2 1830.1h0M1079.3 1797.1h0M1018.1 1829.5h0M1018.2 1736.3h0M1024.8 1836.0h0M958.4 1708.2h0M945.1 1633.6h0M947.7 1711.7h0M940.0 1631.6h0M1071.7 1669.6h0M1031.8 1810.1h0M1040.3 1808.5h0M961.3 1745.6h0M967.6 1788.8h0M957.4 1790.0h0M1067.2 1664.8h0M1044.6 1811.0h0M1023.6 1792.3h0M935.5 1785.5h0M969.6 1777.4h0M1022.9 1786.9h0M1041.5 1717.7h0M957.3 1713.7h0M1034.4 1833.2h0M1061.9 1839.2h0M973.5 1781.3h0M1015.6 1634.0h0M1058.1 1706.5h0M936.8 1793.5h0M972.6 1795.2h0M966.5 1751.9h0M1019.2 1650.1h0M1031.4 1750.1h0M1029.3 1750.8h0M1058.7 1838.6h0M953.5 1720.4h0M946.7 1794.3h0M1058.7 1704.7h0M1031.1 1834.0h0M954.1 1724.6h0M1084.3 1838.1h0M947.1 1726.1h0M1011.4 1735.5h0M972.1 1705.8h0M1154.6 1833.2h0M1148.0 1834.6h0M951.7 1754.1h0M961.3 1754.7h0M941.7 1705.1h0M1008.7 1624.3h0M1015.0 1819.3h0M947.8 1661.9h0M1012.9 1778.6h0M943.3 1860.3h0M1013.5 1718.1h0M965.6 1741.0h0M1090.3 1843.4h0M948.3 1761.6h0M942.9 1706.3h0M1076.4 1707.4h0M1016.6 1787.6h0M1152.3 1836.3h0M1014.9 1645.2h0M1020.1 1710.2h0M994.6 1622.4h0M935.7 1791.5h0M1042.3 1728.3h0M961.0 1768.7h0M1085.3 1842.7h0M961.9 1766.4h0M1011.2 1628.8h0M967.9 1744.6h0M1012.2 1625.7h0M967.6 1761.2h0M963.7 1759.8h0M1090.4 1640.5h0M950.9 1794.5h0M1014.7 1794.7h0M962.4 1850.0h0M982.0 1624.5h0M964.4 1698.5h0M1012.9 1742.4h0M945.3 1754.8h0M956.5 1842.6h0M1013.7 1836.8h0M944.2 1757.5h0M938.7 1733.3h0M949.3 1814.3h0M962.1 1793.1h0M1093.2 1645.8h0M1014.8 1701.4h0M1015.9 1714.5h0M1074.6 1709.8h0M1075.0 1711.7h0M935.7 1808.1h0M1013.1 1691.8h0M934.6 1827.0h0M1037.6 1726.7h0M944.7 1731.7h0M1016.1 1708.8h0M948.9 1856.3h0M1189.2 1789.4h0M982.6 1626.2h0M972.8 1746.1h0M1014.4 1706.0h0M963.8 1841.5h0M971.3 1771.6h0M1037.3 1723.0h0M1040.9 1721.9h0M1185.2 1728.7h0M976.9 1837.3h0M976.0 1788.0h0M943.6 1735.2h0M1088.2 1648.3h0M1088.5 1648.5h0M986.0 1626.5h0M960.9 1855.5h0M975.2 1685.3h0M943.8 1730.9h0M972.5 1760.6h0M941.4 1858.9h0M1187.1 1726.5h0M945.0 1659.5h0M1185.9 1789.8h0M978.9 1634.1h0M1187.9 1810.8h0M978.2 1634.5h0M936.5 1816.3h0M966.4 1847.3h0M939.4 1809.8h0M1187.2 1822.8h0M1010.4 1816.7h0M941.6 1657.8h0M1015.5 1649.5h0M943.1 1656.4h0M941.2 1658.5h0M967.4 1696.8h0M975.8 1725.3h0M1012.6 1846.4h0M936.6 1825.3h0M976.4 1849.7h0M972.2 1693.5h0M941.1 1807.9h0M966.1 1841.6h0M977.5 1644.1h0M968.4 1839.7h0M1185.3 1635.5h0M973.7 1692.6h0M966.9 1836.4h0M1010.3 1839.0h0M1013.9 1654.0h0M939.4 1815.3h0M1183.6 1801.5h0M1007.3 1648.4h0M1010.6 1792.5h0M1188.0 1812.9h0M970.6 1691.6h0M977.0 1833.1h0M969.4 1697.0h0M975.0 1652.0h0M971.4 1641.4h0M1186.8 1775.1h0M1007.6 1639.3h0M1013.2 1658.7h0M975.6 1652.1h0M1009.0 1639.5h0M1185.3 1777.5h0M969.6 1699.8h0M972.7 1640.2h0M937.6 1841.4h0M1183.9 1673.8h0M1185.2 1629.8h0M972.5 1644.0h0M1183.8 1681.4h0M971.8 1643.0h0M949.8 1801.0h0M1188.8 1638.8h0M982.8 1669.8h0M1187.1 1634.6h0M982.6 1669.8h0M1009.9 1669.2h0M1188.3 1635.5h0M971.2 1842.0h0M973.6 1833.3h0M1010.6 1774.0h0M945.0 1804.5h0M948.1 1852.7h0M1011.7 1652.0h0M987.2 1629.8h0M1183.8 1696.0h0M991.6 1629.5h0M935.6 1820.8h0M1001.5 1852.0h0M1186.2 1773.2h0M979.6 1790.7h0M1188.1 1715.2h0M1190.9 1673.2h0M979.2 1716.4h0M998.4 1626.3h0M1187.1 1774.6h0M999.9 1625.1h0M973.4 1847.1h0M946.7 1846.3h0M971.7 1849.0h0M952.8 1801.4h0M1007.3 1837.5h0M954.6 1854.0h0M975.8 1744.0h0M975.9 1677.3h0M1007.3 1837.1h0M1185.2 1790.2h0M979.0 1845.2h0M1185.5 1718.6h0M1186.2 1719.0h0M1185.9 1790.3h0M1009.5 1815.9h0M973.8 1844.3h0M975.1 1768.9h0M958.2 1850.9h0M1185.6 1818.9h0M940.5 1830.0h0M1185.6 1721.0h0M1187.0 1625.5h0M974.3 1759.3h0M1184.8 1672.9h0M981.9 1693.1h0M1186.2 1722.3h0M944.3 1807.7h0M1185.7 1818.2h0M957.3 1800.6h0M946.4 1807.6h0M1008.0 1849.0h0M1187.6 1623.9h0M1188.6 1621.9h0M1186.6 1818.0h0M936.4 1832.4h0M982.2 1638.0h0M1187.5 1815.7h0M1185.3 1659.9h0M949.1 1844.7h0M1012.7 1770.4h0M967.9 1801.1h0M1185.3 1804.1h0M1185.7 1804.2h0M936.9 1837.4h0M1005.0 1642.3h0M1010.7 1666.7h0M1187.9 1643.2h0M977.3 1735.1h0M951.9 1846.2h0M954.0 1847.2h0M946.0 1842.4h0M979.5 1725.2h0M977.3 1672.6h0M979.1 1725.6h0M978.9 1671.6h0M1011.4 1656.3h0M978.2 1725.8h0M978.8 1655.3h0M936.9 1846.0h0M971.5 1807.0h0M976.7 1754.0h0M1186.5 1737.7h0M1005.6 1643.9h0M1185.7 1737.3h0M1007.0 1754.4h0M1010.0 1693.7h0M962.7 1832.4h0M976.0 1806.2h0M964.3 1833.6h0M1187.2 1682.4h0M1187.3 1672.6h0M1007.5 1823.0h0M939.1 1846.4h0M976.8 1807.2h0M1187.4 1683.5h0M953.0 1850.5h0M1186.1 1740.6h0M977.0 1712.7h0M1187.0 1769.1h0M961.3 1801.7h0M1003.6 1628.0h0M936.8 1847.8h0M982.1 1725.0h0M979.3 1650.0h0M977.8 1649.3h0M939.5 1850.0h0M938.6 1850.5h0M982.6 1839.4h0M1187.0 1747.4h0M1186.5 1663.2h0M1188.3 1646.3h0M978.6 1776.8h0M983.7 1670.2h0M1184.6 1679.7h0M984.5 1663.6h0M1189.9 1668.8h0M979.0 1673.2h0M954.1 1851.5h0M935.6 1850.6h0M950.7 1839.4h0M938.7 1840.7h0M940.5 1822.5h0M957.6 1813.6h0M1186.4 1755.0h0M938.6 1838.6h0M935.5 1852.5h0M939.3 1821.6h0M1003.8 1665.7h0M955.2 1850.8h0M1186.2 1755.7h0M937.5 1852.6h0M1189.0 1651.1h0M978.6 1683.7h0M977.5 1683.2h0M983.6 1646.7h0M1189.4 1651.7h0M1004.0 1654.5h0M1187.6 1649.5h0M1188.7 1798.2h0M1186.9 1745.5h0M1187.5 1651.9h0M1187.3 1796.9h0M1005.8 1678.5h0M966.0 1831.2h0M964.6 1801.4h0M972.5 1814.8h0M981.0 1796.6h0M1187.7 1710.2h0M980.0 1660.7h0M979.7 1709.3h0M1011.5 1663.4h0M978.8 1708.8h0M1000.6 1629.8h0M979.5 1762.7h0M1009.7 1700.5h0M978.4 1763.3h0M938.2 1832.2h0M953.3 1837.7h0M940.6 1835.1h0M1188.1 1674.3h0M1188.6 1680.8h0M1007.3 1718.6h0M1187.2 1679.8h0M982.1 1791.4h0M1187.9 1675.5h0M982.9 1795.2h0M1005.1 1706.2h0M1007.5 1715.3h0M1008.4 1807.7h0M1008.0 1806.9h0M942.0 1821.2h0M1003.2 1631.9h0M1001.9 1633.5h0M1008.8 1802.5h0M1187.2 1750.8h0M1186.1 1711.2h0M979.6 1680.3h0M989.2 1632.3h0M1004.1 1750.4h0M1002.8 1635.4h0M1184.5 1709.7h0M1186.3 1749.8h0M1008.7 1665.8h0M951.6 1807.1h0M1186.1 1748.4h0M1005.1 1746.8h0M951.1 1805.1h0M1187.0 1751.4h0M1007.5 1795.5h0M979.2 1767.9h0M1187.5 1752.5h0M1007.4 1797.6h0M1189.6 1700.6h0M985.0 1639.9h0M978.5 1677.7h0M1001.7 1642.4h0M985.3 1638.0h0M1008.0 1757.8h0M947.1 1839.2h0M946.1 1837.5h0M985.7 1849.2h0M979.5 1750.8h0M1005.6 1818.1h0M948.1 1840.2h0M1186.5 1698.3h0M1187.5 1661.6h0M1188.8 1662.4h0M1189.8 1661.7h0M1004.2 1816.1h0M995.3 1847.2h0M979.2 1738.1h0M1004.5 1657.6h0M1002.0 1649.5h0M1002.1 1644.3h0M992.7 1633.9h0M1004.9 1847.4h0M979.6 1808.2h0M955.1 1807.3h0M1003.4 1648.5h0M954.3 1806.8h0M986.7 1644.6h0M977.8 1771.0h0M953.0 1806.9h0M978.7 1810.8h0M986.5 1634.8h0M968.6 1810.5h0M994.4 1650.6h0M979.6 1752.1h0M981.5 1784.6h0M968.5 1810.3h0M980.8 1783.9h0M989.9 1664.6h0M986.5 1635.0h0M1187.0 1706.1h0M1002.2 1652.6h0M989.2 1664.3h0M945.3 1822.0h0M943.9 1832.5h0M942.8 1832.7h0M944.4 1820.0h0M1006.5 1709.5h0M945.7 1822.6h0M955.5 1820.3h0M979.6 1742.6h0M993.6 1847.4h0M955.9 1822.0h0M998.8 1633.9h0M948.1 1821.6h0M996.7 1649.7h0M999.1 1847.1h0M961.3 1816.3h0M956.8 1810.0h0M958.3 1810.1h0M1000.9 1651.9h0M1006.0 1661.1h0M979.3 1740.5h0M970.4 1827.1h0M994.7 1655.5h0M1188.8 1761.8h0M1188.4 1762.6h0M1003.9 1847.4h0M1008.7 1660.2h0M947.5 1836.4h0M977.7 1739.9h0M977.3 1812.1h0M1008.8 1699.3h0M989.8 1648.8h0M1186.5 1700.6h0M964.8 1818.1h0M989.4 1667.9h0M999.0 1651.0h0M990.8 1654.4h0M980.2 1654.3h0M963.5 1801.9h0M963.3 1803.5h0M1185.0 1765.6h0M992.3 1659.0h0M979.8 1754.3h0M984.2 1649.5h0M966.3 1806.7h0M1000.3 1647.8h0M998.7 1635.3h0M994.0 1659.6h0M1185.5 1765.6h0M966.4 1805.5h0M963.5 1801.9h0M1184.9 1763.7h0M1001.0 1663.5h0M978.7 1756.3h0M964.1 1824.8h0M996.6 1656.4h0M1185.4 1708.7h0M967.3 1827.9h0M985.7 1660.5h0M966.1 1827.8h0M945.1 1828.8h0M944.6 1828.2h0M984.6 1686.7h0M956.7 1806.9h0M984.4 1660.4h0M967.6 1825.9h0M1003.6 1656.1h0M999.0 1644.5h0M987.6 1651.8h0M982.3 1677.3h0M1005.4 1679.4h0M996.4 1646.5h0M981.6 1678.0h0M980.7 1698.4h0M986.6 1651.2h0M960.9 1808.5h0M1009.6 1661.9h0M959.5 1822.5h0M976.7 1826.2h0M1008.3 1662.8h0M1005.7 1743.2h0M959.5 1822.5h0M1007.9 1662.1h0M984.3 1836.7h0M974.8 1826.2h0M1008.8 1761.7h0M998.9 1655.4h0M974.7 1828.8h0M1001.4 1658.7h0M1188.5 1763.3h0M1001.2 1673.5h0M1184.7 1704.5h0M1185.8 1703.7h0M967.0 1820.3h0M989.2 1848.3h0M1188.3 1765.5h0M1185.9 1704.9h0M1003.4 1659.6h0M987.1 1659.2h0M966.4 1821.2h0M987.8 1658.9h0M991.3 1849.3h0M981.8 1681.2h0M988.1 1637.9h0M1187.5 1764.4h0M1006.6 1724.0h0M986.5 1638.5h0M996.2 1659.7h0M1007.6 1770.9h0M964.0 1822.1h0M966.8 1812.2h0M987.8 1675.0h0M991.3 1671.2h0M971.7 1822.9h0M988.1 1674.8h0M1000.3 1670.5h0M977.5 1815.6h0M1007.8 1695.7h0M963.9 1805.9h0M1007.8 1696.6h0M985.0 1693.1h0M962.8 1828.2h0M983.7 1721.1h0M977.4 1814.6h0M1008.0 1696.0h0M963.5 1812.0h0M966.3 1809.7h0M981.9 1710.8h0M992.7 1634.5h0M981.3 1709.7h0M995.2 1668.1h0M984.1 1790.8h0M966.2 1814.3h0M982.8 1707.2h0M966.2 1814.2h0M997.1 1662.8h0M971.5 1821.9h0M996.6 1663.9h0M997.1 1661.5h0M996.5 1636.0h0M1007.6 1767.2h0M997.4 1662.6h0M965.9 1816.6h0M972.4 1820.6h0M997.3 1636.1h0M964.5 1814.2h0M1004.3 1845.2h0M989.2 1643.3h0M985.4 1657.4h0M963.9 1815.2h0M991.0 1643.6h0M1004.6 1844.3h0M980.0 1805.7h0M981.2 1807.8h0M1005.3 1754.1h0M1006.8 1822.1h0M1004.7 1822.5h0M992.2 1669.2h0M985.2 1653.0h0M986.7 1653.2h0M994.7 1669.1h0M985.5 1652.9h0M994.2 1668.6h0M1005.2 1826.0h0M991.7 1642.2h0M1004.9 1809.7h0M1006.2 1826.5h0M980.8 1781.9h0M1004.5 1827.9h0M988.0 1657.8h0M964.1 1809.9h0M1005.3 1810.6h0M987.0 1656.6h0M980.1 1704.1h0M981.5 1826.7h0M1004.8 1810.6h0M996.6 1645.7h0M981.7 1701.4h0M980.7 1700.6h0M982.6 1700.3h0M981.1 1759.4h0M947.8 1832.6h0M948.0 1834.2h0M1006.8 1701.8h0M949.2 1832.3h0M982.5 1810.8h0M948.9 1829.9h0M994.2 1643.1h0M994.9 1643.3h0M984.9 1682.7h0M985.3 1683.9h0M983.5 1684.4h0M953.2 1834.8h0M954.6 1833.3h0M976.0 1823.7h0M1004.5 1683.2h0M996.3 1642.9h0M997.1 1642.9h0M984.0 1840.3h0M991.1 1637.7h0M956.2 1823.8h0M997.0 1638.3h0M1006.9 1740.1h0M960.8 1828.1h0M996.3 1638.7h0M982.3 1749.3h0M975.6 1822.7h0M1005.9 1718.4h0M975.1 1821.8h0M980.2 1747.2h0M982.9 1771.2h0M982.8 1771.3h0M976.9 1822.8h0M982.6 1769.9h0M1006.8 1715.0h0M980.2 1779.2h0M979.3 1819.3h0M1004.5 1716.0h0M1004.9 1717.1h0M1004.5 1716.3h0M979.6 1817.8h0M984.7 1720.7h0M1004.6 1843.8h0M1005.4 1841.5h0M986.0 1794.3h0M1006.3 1841.5h0M1002.2 1845.4h0M984.7 1846.1h0M993.5 1637.6h0M988.8 1677.1h0M985.3 1730.8h0M948.0 1828.7h0M987.4 1678.2h0M983.1 1845.3h0M985.7 1844.7h0M956.7 1829.6h0M981.8 1752.9h0M996.7 1672.6h0M956.9 1830.7h0M1004.7 1800.0h0M982.1 1754.6h0M1004.0 1799.0h0M1002.3 1748.7h0M1004.2 1776.8h0M978.7 1824.1h0M950.3 1824.1h0M979.2 1822.9h0M952.8 1823.3h0M950.4 1823.8h0M977.0 1824.2h0M981.8 1776.6h0M987.4 1687.1h0M1001.3 1746.3h0M1004.6 1737.2h0M984.8 1829.7h0M983.2 1831.6h0M1001.8 1832.9h0M985.3 1831.2h0M985.1 1842.3h0M985.3 1841.0h0M1004.9 1798.2h0M1005.5 1797.1h0M986.9 1684.1h0M987.2 1682.1h0M1006.2 1796.8h0M988.5 1680.3h0M986.8 1689.4h0M986.5 1681.5h0M1001.0 1844.0h0M980.2 1744.8h0M1004.2 1686.5h0M983.4 1797.8h0M1006.6 1758.2h0M986.0 1695.9h0M985.4 1695.2h0M996.1 1844.4h0M1002.7 1752.8h0M956.2 1828.8h0M981.4 1819.1h0M980.4 1738.2h0M981.4 1738.0h0M958.1 1826.1h0M953.9 1831.0h0M981.2 1822.4h0M1006.1 1786.5h0M954.1 1831.2h0M955.4 1830.4h0M1005.8 1784.6h0M989.5 1676.0h0M1004.5 1690.2h0M983.9 1717.8h0M983.6 1717.0h0M1001.3 1836.2h0M1005.6 1688.6h0M983.7 1766.9h0M983.1 1768.5h0M984.4 1766.3h0M985.3 1763.7h0M988.5 1843.9h0M986.9 1846.4h0M1004.5 1696.2h0M987.4 1844.3h0M993.9 1845.0h0M1006.8 1787.9h0M1001.8 1710.3h0M1001.5 1841.1h0M1006.9 1788.2h0M1005.7 1790.0h0M1005.8 1773.0h0M985.9 1799.8h0M952.6 1826.6h0M1006.7 1692.1h0M1004.2 1691.4h0M985.4 1713.8h0M952.3 1827.7h0M1006.5 1691.2h0M952.3 1827.2h0M998.1 1673.2h0M1000.8 1672.9h0M1001.0 1839.5h0M988.8 1726.7h0M987.1 1837.2h0M988.1 1787.5h0M953.6 1828.8h0M988.3 1724.6h0M987.3 1786.9h0M955.9 1826.3h0M985.3 1703.5h0M983.9 1827.3h0M985.3 1827.3h0M985.0 1711.2h0M985.9 1709.4h0M1001.1 1826.5h0M985.5 1698.5h0M1002.4 1826.9h0M1002.2 1826.4h0M1003.6 1820.9h0M985.1 1733.9h0M988.9 1791.8h0M985.3 1761.5h0M983.5 1761.3h0M985.1 1810.7h0M1005.8 1760.2h0M1001.2 1704.9h0M984.2 1783.6h0M994.7 1675.0h0M1002.5 1823.0h0M987.9 1692.4h0M1003.0 1823.1h0M994.5 1674.5h0M985.3 1781.4h0M1004.5 1760.9h0M1006.0 1760.8h0M992.9 1675.0h0M984.6 1771.3h0M984.9 1700.1h0M983.3 1700.3h0M989.9 1680.5h0M985.4 1700.1h0M1002.4 1799.6h0M983.8 1804.9h0M1001.8 1680.6h0M1001.1 1720.2h0M1001.5 1720.7h0M1002.9 1728.4h0M1004.0 1729.2h0M995.7 1675.4h0M997.9 1673.6h0M1002.7 1728.7h0M987.4 1839.8h0M985.1 1750.7h0M1004.7 1769.5h0M1006.6 1771.5h0M1002.1 1803.3h0M988.1 1843.8h0M985.1 1759.5h0M983.7 1745.7h0M985.8 1746.7h0M1002.6 1810.2h0M1002.4 1809.7h0M984.5 1825.5h0M984.4 1825.7h0M1002.3 1724.3h0M1004.2 1764.1h0M988.0 1829.9h0M1006.7 1763.0h0M1001.1 1731.2h0M1001.7 1723.0h0M1001.5 1723.4h0M1004.7 1766.4h0M1005.9 1768.6h0M986.9 1794.2h0M1005.0 1767.5h0M998.3 1841.1h0M984.1 1814.9h0M998.2 1842.5h0M983.2 1815.9h0M998.9 1842.0h0M1000.8 1831.2h0M1000.1 1829.7h0M985.7 1755.7h0M1001.3 1807.2h0M993.8 1677.7h0M1003.9 1804.9h0M1001.4 1807.4h0M983.6 1754.9h0M983.7 1752.7h0M1001.8 1701.6h0M1001.1 1702.6h0M1002.5 1777.4h0M1002.0 1777.0h0M1001.0 1676.3h0M1002.5 1776.3h0M985.8 1778.9h0M988.0 1730.3h0M987.6 1731.7h0M985.1 1820.6h0M983.8 1780.7h0M998.4 1828.0h0M1000.8 1826.7h0M983.7 1817.0h0M1000.0 1834.1h0M985.2 1817.5h0M998.1 1819.9h0M983.4 1817.8h0M983.1 1744.5h0M1003.6 1739.7h0M1001.2 1792.9h0M1002.8 1793.9h0M1003.4 1741.7h0M1002.3 1684.2h0M1001.1 1684.3h0M1003.6 1734.8h0M1002.4 1733.5h0M987.8 1768.7h0M986.2 1826.6h0M998.8 1749.4h0M998.1 1750.2h0M999.3 1825.1h0M988.4 1765.5h0M996.4 1678.7h0M988.0 1696.2h0M988.5 1695.9h0M987.2 1716.5h0M997.5 1677.1h0M996.2 1676.1h0M986.3 1716.4h0M986.3 1716.0h0M991.0 1688.9h0M990.2 1688.1h0M1001.1 1698.2h0M1001.8 1698.0h0M991.3 1841.9h0M988.7 1706.0h0M990.3 1840.9h0M990.7 1841.4h0M991.1 1843.0h0M1000.8 1746.6h0M989.8 1843.1h0M984.6 1777.3h0M985.6 1775.5h0M1000.0 1821.1h0M998.9 1822.1h0M1000.4 1815.4h0M999.3 1821.5h0M998.5 1814.5h0M983.2 1775.9h0M998.3 1822.7h0M985.6 1737.0h0M993.2 1841.8h0M984.6 1736.4h0M1003.5 1781.8h0M1001.9 1772.4h0M989.4 1788.4h0M1002.9 1772.3h0M998.6 1835.6h0M1000.3 1837.2h0M999.9 1840.5h0M999.1 1838.1h0M998.6 1836.2h0M1000.3 1835.5h0M998.8 1838.0h0M992.3 1681.5h0M993.4 1679.0h0M987.6 1798.1h0M987.9 1796.3h0M1000.0 1753.1h0M998.7 1750.9h0M985.8 1740.6h0M988.5 1824.8h0M999.3 1752.3h0M984.3 1741.0h0M991.1 1789.9h0M991.0 1789.9h0M1001.3 1759.7h0M990.3 1790.0h0M1003.6 1759.4h0M1003.0 1736.9h0M1003.2 1738.1h0M998.8 1718.6h0M1001.1 1737.2h0M1002.2 1738.3h0M1000.7 1800.3h0M990.8 1836.4h0M989.1 1836.8h0M987.4 1710.7h0M999.0 1716.2h0M986.2 1711.3h0M1001.0 1799.5h0M988.6 1710.2h0M990.8 1722.3h0M1001.9 1792.8h0M1002.4 1791.0h0M1001.4 1688.1h0M987.2 1760.9h0M986.9 1762.6h0M986.4 1762.0h0M1002.6 1687.1h0M1002.1 1687.1h0M1001.3 1687.8h0M1002.3 1685.6h0M988.0 1703.9h0M988.9 1812.8h0M989.0 1833.3h0M991.1 1834.0h0M990.2 1832.3h0M990.6 1840.3h0M990.4 1839.0h0M998.4 1813.7h0M989.8 1838.0h0M986.1 1782.7h0M988.2 1782.7h0M986.7 1783.9h0M988.8 1781.8h0M987.5 1770.6h0M987.2 1770.1h0M996.3 1829.3h0M995.9 1831.2h0M999.1 1713.3h0M1000.9 1714.2h0M996.0 1830.4h0M998.7 1714.9h0M1000.0 1798.6h0M988.9 1734.2h0M999.1 1680.1h0M988.4 1815.5h0M988.2 1814.3h0M1000.4 1681.0h0M1000.4 1681.1h0M987.6 1815.6h0M1003.1 1787.3h0M991.5 1785.6h0M991.8 1793.3h0M990.2 1720.7h0M987.6 1821.1h0M990.6 1719.7h0M995.7 1828.4h0M989.2 1784.1h0M989.0 1718.0h0M987.4 1821.6h0M991.6 1794.0h0M999.4 1803.7h0M1001.2 1785.6h0M991.8 1829.0h0M1001.1 1785.3h0M1000.6 1803.8h0M999.8 1802.2h0M987.9 1702.9h0M989.9 1831.4h0M988.9 1700.0h0M989.5 1830.7h0M1003.3 1786.6h0M993.6 1682.8h0M998.5 1721.0h0M986.4 1818.0h0M988.8 1817.9h0M998.7 1722.9h0M998.9 1721.2h0M988.2 1818.2h0M999.3 1723.7h0M989.4 1726.0h0M991.3 1726.3h0M990.8 1724.7h0M991.5 1725.2h0M1000.8 1710.3h0M999.7 1711.2h0M999.9 1711.8h0M1000.2 1711.1h0M998.1 1710.5h0M987.7 1810.6h0M1000.7 1706.3h0M987.4 1809.6h0M993.9 1830.4h0M998.0 1823.1h0M996.7 1824.4h0M995.9 1825.4h0M996.6 1825.4h0M987.9 1757.9h0M987.8 1757.7h0M988.6 1759.8h0M997.4 1834.4h0M995.0 1834.3h0M988.9 1800.7h0M988.3 1801.4h0M991.1 1693.6h0M989.6 1693.3h0M998.5 1725.2h0M1000.7 1726.0h0M995.8 1838.8h0M997.0 1840.3h0M996.0 1679.7h0M1002.2 1770.2h0M997.0 1680.3h0M996.9 1838.1h0M995.1 1681.2h0M997.9 1839.2h0M989.4 1728.7h0M991.9 1727.3h0M987.9 1750.8h0M989.4 1727.9h0M994.9 1828.1h0M988.1 1749.1h0M999.7 1728.6h0M989.4 1729.0h0M1000.4 1744.9h0M987.2 1747.9h0M998.7 1756.4h0M1000.3 1755.3h0M998.0 1755.7h0M994.2 1825.1h0M993.4 1825.4h0M995.6 1821.2h0M995.2 1821.8h0M995.4 1822.0h0M1003.4 1762.7h0M997.3 1835.8h0M990.2 1828.9h0M997.8 1837.6h0M993.2 1834.6h0M991.3 1827.3h0M993.7 1833.5h0M993.0 1832.8h0M993.9 1833.3h0M991.2 1828.4h0M991.4 1826.1h0M989.6 1827.1h0M990.0 1828.6h0M994.7 1840.5h0M993.7 1839.2h0M998.6 1808.2h0M999.1 1808.1h0M998.7 1806.9h0M993.8 1839.4h0M994.1 1839.4h0M993.8 1838.5h0M995.6 1719.0h0M996.8 1718.1h0M993.3 1721.8h0M995.3 1719.6h0M997.0 1720.0h0M992.7 1722.8h0M999.0 1794.8h0M995.8 1798.4h0M999.4 1795.3h0M998.8 1793.1h0M997.7 1797.9h0M998.2 1793.6h0M1000.8 1794.2h0M997.9 1818.6h0M995.9 1818.3h0M997.4 1818.9h0M991.1 1823.9h0M988.0 1805.2h0M986.3 1806.5h0M986.8 1806.7h0M986.3 1807.0h0M990.7 1824.5h0M987.1 1805.2h0M1002.9 1767.1h0M999.2 1732.4h0M999.6 1705.4h0M999.8 1703.7h0M999.7 1730.2h0M998.3 1730.1h0M999.7 1731.0h0M990.8 1781.2h0M989.5 1781.1h0M986.6 1753.0h0M988.6 1753.2h0M986.6 1752.5h0M998.2 1684.6h0M1000.0 1775.4h0M999.2 1683.1h0M998.0 1775.1h0M986.8 1753.7h0M988.5 1802.8h0M989.5 1731.1h0M987.6 1802.4h0M987.1 1803.2h0M991.2 1730.7h0M986.8 1804.3h0M992.7 1687.9h0M995.0 1686.4h0M992.4 1687.7h0M994.8 1686.7h0M995.5 1716.0h0M987.7 1774.6h0M987.2 1772.9h0M992.4 1820.1h0M996.2 1717.7h0M993.0 1822.4h0M1001.1 1765.8h0M1001.9 1764.6h0M988.7 1778.4h0M987.8 1780.7h0M987.6 1780.3h0M995.4 1723.5h0M995.9 1793.2h0M991.3 1715.1h0M990.7 1715.1h0M989.9 1716.2h0M997.3 1795.8h0M995.4 1793.2h0M989.3 1715.1h0M995.1 1723.0h0M996.8 1722.8h0M990.0 1716.6h0M989.4 1798.4h0M991.6 1798.9h0M990.1 1796.9h0M991.7 1797.0h0M996.4 1749.5h0M986.9 1744.6h0M987.5 1743.7h0M987.2 1742.6h0M987.6 1743.5h0M992.5 1793.1h0M991.5 1821.7h0M989.9 1820.6h0M989.1 1820.8h0M990.5 1819.9h0M998.9 1778.7h0M999.6 1780.2h0M999.4 1779.7h0M999.7 1778.1h0M1000.4 1778.1h0M996.8 1746.9h0M995.2 1745.0h0M996.9 1747.1h0M998.3 1701.2h0M992.5 1819.2h0M998.4 1702.6h0M994.0 1817.4h0M998.4 1701.3h0M996.6 1682.8h0M991.5 1819.7h0M995.6 1682.1h0M997.6 1683.5h0M990.2 1818.0h0M989.6 1819.7h0M996.6 1684.8h0M991.1 1706.8h0M990.2 1708.0h0M991.2 1708.9h0M998.9 1774.8h0M994.6 1688.7h0M992.8 1790.4h0M993.1 1689.4h0M994.6 1791.7h0M992.7 1790.3h0M998.9 1735.2h0M998.8 1773.3h0M992.3 1791.0h0M1000.9 1773.9h0M999.5 1733.6h0M999.7 1772.3h0M992.4 1792.8h0M998.0 1814.3h0M995.6 1815.2h0M996.7 1815.4h0M996.7 1814.3h0M997.8 1816.0h0M990.4 1694.5h0M991.8 1695.4h0M991.5 1695.3h0M995.2 1752.3h0M997.7 1753.5h0M994.7 1716.3h0M993.2 1716.6h0M994.1 1716.2h0M998.0 1739.1h0M993.0 1717.5h0M993.5 1725.7h0M992.5 1726.1h0M992.2 1724.1h0M998.4 1741.0h0M990.2 1712.2h0M998.4 1694.2h0M999.6 1696.5h0M990.8 1714.0h0M991.0 1733.8h0M993.5 1787.4h0M990.7 1712.3h0M993.0 1787.5h0M999.5 1694.9h0M993.8 1788.7h0M993.8 1796.2h0M994.5 1798.3h0M994.9 1797.2h0M996.0 1712.6h0M997.1 1712.2h0M997.3 1713.7h0M992.4 1798.1h0M991.7 1709.6h0M991.4 1711.6h0M991.1 1709.1h0M988.8 1737.2h0M987.0 1737.4h0M988.9 1738.9h0M988.2 1736.9h0M986.8 1736.1h0M987.1 1737.4h0M990.1 1816.9h0M989.4 1814.7h0M996.0 1725.9h0M991.3 1815.4h0M986.7 1777.5h0M988.5 1777.9h0M987.0 1777.2h0M991.8 1769.3h0M995.7 1725.4h0M986.9 1776.2h0M991.1 1769.3h0M998.0 1777.1h0M989.8 1816.1h0M989.6 1771.4h0M987.7 1777.6h0M990.0 1763.5h0M1000.8 1790.0h0M1000.5 1791.8h0M995.9 1803.7h0M999.0 1790.5h0M999.7 1792.6h0M1000.3 1790.8h0M995.1 1804.2h0M997.9 1802.1h0M998.0 1791.4h0M1000.2 1759.5h0M999.3 1759.0h0M998.1 1759.5h0M998.9 1686.9h0M999.6 1687.4h0M999.1 1698.0h0M999.8 1697.7h0M1000.5 1697.2h0M1000.6 1697.8h0M987.4 1739.1h0M991.9 1779.1h0M990.3 1780.4h0M1000.5 1691.5h0M1000.3 1690.7h0M998.1 1693.1h0M1000.8 1691.1h0M998.2 1690.8h0M987.7 1741.9h0M998.6 1692.9h0M988.7 1741.1h0M1000.7 1691.0h0M999.1 1690.9h0M988.0 1741.5h0M988.7 1741.9h0M994.3 1728.0h0M995.0 1728.4h0M990.8 1811.6h0M992.0 1727.3h0M996.5 1779.5h0M991.7 1812.5h0M992.5 1727.7h0M996.1 1727.7h0M995.9 1727.7h0M991.8 1799.8h0M998.0 1729.4h0M991.0 1800.3h0M996.6 1729.5h0M996.3 1727.3h0M991.4 1801.5h0M990.5 1798.9h0M991.3 1799.8h0M989.6 1800.5h0M995.5 1709.4h0M996.2 1709.2h0M996.9 1709.9h0M990.0 1750.0h0M991.2 1748.1h0M991.6 1747.4h0M989.4 1747.9h0M993.3 1814.2h0M993.8 1815.1h0M994.2 1801.6h0M992.6 1801.8h0M993.4 1800.8h0M998.4 1781.1h0M999.4 1783.2h0M998.2 1781.9h0M998.0 1781.5h0M1000.5 1782.6h0M1000.0 1783.3h0M999.7 1781.9h0M991.1 1704.9h0M989.7 1705.0h0M989.2 1703.1h0M1000.0 1736.8h0M1000.0 1736.5h0M998.5 1738.2h0M998.5 1738.8h0M1001.0 1737.8h0M997.1 1731.8h0M997.4 1731.4h0M995.6 1731.6h0M997.3 1707.8h0M996.1 1706.1h0M995.8 1706.6h0M995.6 1707.2h0M996.6 1812.5h0M997.8 1811.9h0M996.8 1706.6h0M996.2 1812.5h0M995.7 1813.6h0M992.2 1713.2h0M994.5 1785.9h0M994.5 1714.6h0M993.9 1784.8h0M994.1 1712.1h0M994.7 1714.0h0M993.5 1786.1h0M994.9 1713.2h0M994.4 1712.8h0M994.7 1785.2h0M992.5 1730.7h0M993.0 1731.1h0M994.8 1732.7h0M994.7 1731.8h0M994.6 1782.0h0M993.3 1783.6h0M1000.5 1789.2h0M992.0 1693.3h0M992.8 1693.1h0M992.1 1693.6h0M998.9 1789.6h0M997.6 1773.1h0M998.5 1788.8h0M993.9 1783.8h0M996.4 1687.0h0M996.7 1685.2h0M995.8 1686.6h0M995.8 1687.8h0M996.9 1686.8h0M997.7 1787.4h0M996.4 1787.1h0M995.9 1788.6h0M989.0 1761.1h0M992.9 1750.8h0M990.6 1762.1h0M993.6 1749.2h0M993.0 1748.8h0M992.5 1748.6h0M991.2 1762.6h0M994.4 1747.9h0M991.2 1761.3h0M990.6 1760.4h0M990.1 1761.7h0M997.2 1742.0h0M996.0 1754.4h0M995.7 1783.3h0M995.9 1744.2h0M996.9 1782.1h0M995.5 1755.3h0M995.9 1755.4h0M998.0 1742.8h0M995.5 1742.3h0M997.2 1744.0h0M995.3 1755.4h0M996.9 1755.9h0M989.5 1809.8h0M990.8 1809.2h0M991.7 1808.5h0M994.8 1745.3h0M991.2 1810.8h0M992.6 1746.3h0M994.0 1745.1h0M990.1 1772.8h0M991.3 1756.1h0M989.9 1702.5h0M991.9 1772.6h0M989.8 1772.3h0M990.2 1700.5h0M991.2 1774.8h0M989.9 1700.8h0M989.6 1772.9h0M991.1 1774.1h0M990.0 1754.6h0M989.6 1774.2h0M989.4 1752.8h0M991.4 1751.7h0M989.5 1751.2h0M995.0 1690.5h0M990.6 1752.9h0M990.3 1753.1h0M995.8 1688.0h0M991.9 1753.2h0M996.5 1689.3h0M997.0 1689.7h0M995.6 1690.4h0M990.8 1752.8h0M991.2 1752.9h0M990.5 1758.1h0M1000.6 1771.7h0M990.3 1757.8h0M999.0 1770.8h0M998.6 1769.1h0M991.8 1759.9h0M999.3 1770.9h0M993.0 1711.1h0M998.5 1771.5h0M999.7 1770.4h0M992.4 1780.1h0M992.5 1779.2h0M992.0 1779.6h0M989.6 1777.6h0M989.1 1776.3h0M995.0 1779.3h0M993.7 1779.3h0M994.1 1778.6h0M990.2 1777.3h0M991.7 1775.8h0M990.8 1802.6h0M989.5 1802.9h0M994.2 1707.7h0M991.9 1804.9h0M989.8 1802.4h0M992.4 1707.9h0M991.7 1744.0h0M990.3 1742.0h0M998.0 1806.8h0M989.3 1699.0h0M995.9 1805.8h0M989.6 1698.2h0M995.9 1806.9h0M990.1 1698.1h0M990.0 1699.7h0M995.3 1807.0h0M996.3 1806.6h0M998.1 1784.0h0M1000.1 1784.3h0M999.7 1785.9h0M999.5 1785.0h0M990.1 1805.1h0M991.4 1806.0h0M991.1 1807.3h0M994.1 1813.1h0M992.3 1753.3h0M993.0 1752.7h0M993.7 1774.9h0M993.5 1734.0h0M994.6 1776.7h0M993.1 1735.9h0M994.9 1811.3h0M993.1 1752.2h0M992.7 1753.2h0M992.5 1752.5h0M994.8 1752.7h0M997.9 1692.6h0M996.9 1692.7h0M994.1 1802.7h0M997.4 1691.7h0M995.1 1693.0h0M1000.1 1760.6h0M995.3 1808.9h0M997.6 1810.4h0M994.7 1694.7h0M995.2 1810.8h0M997.5 1809.4h0M996.1 1810.2h0M999.6 1759.9h0M996.6 1785.0h0M995.9 1785.7h0M997.2 1785.7h0M994.0 1755.2h0M989.3 1736.4h0M990.1 1737.0h0M997.0 1704.0h0M993.7 1772.5h0M997.4 1704.8h0M997.8 1703.6h0M992.7 1773.5h0M994.6 1769.4h0M994.0 1769.9h0M994.9 1769.1h0M992.9 1771.2h0M1000.2 1768.2h0M998.7 1768.4h0M998.0 1770.4h0M996.2 1771.4h0M997.5 1771.2h0M997.9 1770.6h0M995.7 1740.8h0M995.8 1740.8h0M995.1 1738.9h0M996.3 1741.1h0M991.1 1741.2h0M994.9 1742.3h0M992.6 1744.5h0M993.7 1744.6h0M989.8 1740.9h0M992.2 1807.6h0M993.0 1806.6h0M994.1 1757.3h0M993.5 1806.3h0M994.9 1807.0h0M992.1 1806.4h0M993.3 1810.0h0M993.3 1808.2h0M993.2 1808.9h0M993.0 1809.3h0M1000.4 1764.0h0M999.3 1763.3h0M1000.8 1765.6h0M995.0 1702.8h0M995.3 1702.0h0M996.7 1702.8h0M997.6 1738.8h0M992.2 1704.2h0M997.3 1758.1h0M994.0 1704.1h0M994.7 1764.8h0M995.3 1698.8h0M997.2 1697.2h0M996.6 1697.9h0M992.6 1700.1h0M992.0 1761.1h0M994.1 1737.3h0M993.5 1738.6h0M992.7 1740.4h0M992.3 1739.8h0M993.9 1697.8h0M992.6 1699.2h0M993.4 1699.8h0M997.8 1766.3h0M995.2 1766.2h0M997.1 1759.9h0M997.7 1761.9h0M355.6 2226.2h0M324.0 2180.8h0M231.4 2117.5h0M230.7 2197.6h0M305.3 2208.4h0M230.2 2107.7h0M259.3 2111.4h0M424.2 2245.2h0M242.8 2130.7h0M280.5 2211.4h0M412.8 2083.3h0M414.2 2056.1h0M396.7 2195.9h0M432.9 2121.8h0M294.1 2210.5h0M389.4 2114.7h0M406.9 2227.9h0M275.5 2172.2h0M310.9 2184.1h0M288.4 2198.8h0M335.8 2215.6h0M374.9 2217.7h0M400.4 2216.8h0M397.4 2219.6h0M281.7 2176.8h0M206.7 2203.0h0M386.6 2215.1h0M354.7 2213.9h0M414.9 2234.4h0M253.1 2174.0h0M321.1 2214.0h0M412.5 2233.9h0M344.3 2184.3h0M203.9 2195.1h0M213.7 2186.0h0M334.5 2211.3h0M256.9 2213.3h0M320.4 2210.1h0M279.3 2201.8h0M284.6 2198.5h0M387.3 2194.4h0M203.3 2190.8h0M330.3 2209.0h0M314.1 2191.2h0M373.3 2210.6h0M249.2 2179.2h0M275.6 2180.9h0M210.3 2187.3h0M361.4 2215.0h0M348.0 2186.8h0M276.4 2202.2h0M331.8 2206.1h0M293.2 2189.2h0M390.0 2211.4h0M339.9 2189.7h0M257.8 2210.9h0M204.3 2191.1h0M336.4 2188.4h0M383.9 2196.6h0M217.3 2201.5h0M216.8 2201.0h0M281.8 2190.0h0M217.4 2198.0h0M294.4 2190.6h0M354.6 2188.6h0M296.4 2189.9h0M361.0 2210.9h0M333.1 2192.1h0M353.6 2189.5h0M343.9 2193.8h0M350.8 2189.1h0M379.8 2199.4h0M214.8 2197.4h0M314.7 2197.9h0M320.3 2204.5h0M209.2 2194.2h0M313.7 2195.8h0M298.6 2199.4h0M275.4 2185.1h0M367.6 2191.0h0M317.8 2200.3h0M211.6 2193.5h0M210.6 2194.6h0M213.0 2194.7h0M371.2 2207.8h0M297.8 2193.3h0M332.4 2198.2h0M307.0 2197.3h0M369.8 2200.2h0M354.0 2193.9h0M319.6 2191.5h0M320.5 2191.8h0M330.6 2196.7h0M307.6 2197.8h0M244.1 2187.1h0M333.1 2195.3h0M309.2 2198.0h0M302.2 2198.5h0M306.2 2197.0h0M371.6 2205.1h0M244.2 2195.5h0M371.2 2201.6h0M385.4 2197.4h0M257.6 2208.5h0M298.1 2197.2h0M299.5 2194.4h0M371.3 2201.7h0M367.7 2208.2h0M305.4 2198.0h0M388.4 2203.5h0M389.6 2203.5h0M350.0 2195.8h0M388.9 2203.4h0M351.8 2205.5h0M347.3 2203.4h0M245.1 2193.4h0M270.9 2204.5h0M345.4 2203.8h0M364.8 2206.5h0M276.6 2194.0h0M339.2 2201.3h0M318.6 2201.0h0M321.4 2200.9h0M364.8 2207.6h0M244.8 2189.3h0M381.5 2197.8h0M323.5 2194.4h0M324.6 2199.3h0M364.2 2205.0h0M356.6 2204.4h0M319.7 2196.8h0M367.4 2194.1h0M276.6 2190.0h0M337.1 2195.1h0M337.9 2194.7h0M368.1 2194.2h0M278.6 2189.4h0M338.5 2198.4h0M349.0 2197.3h0M350.0 2198.9h0M249.9 2206.0h0M342.2 2200.0h0M354.8 2195.7h0M384.1 2202.8h0M339.9 2201.7h0M341.2 2200.5h0M383.8 2204.3h0M381.7 2204.4h0M382.8 2204.8h0M381.7 2206.1h0M345.7 2201.7h0M360.2 2205.6h0M346.1 2200.4h0M322.6 2197.5h0M344.3 2200.0h0M321.4 2198.3h0M367.0 2195.3h0M323.8 2200.2h0M363.2 2191.3h0M360.6 2194.2h0M360.8 2193.7h0M342.9 2203.2h0M267.8 2204.2h0M268.7 2203.9h0M248.5 2184.6h0M363.1 2200.4h0M355.9 2200.2h0M355.5 2201.5h0M356.0 2201.8h0M248.4 2199.2h0M274.1 2190.8h0M365.9 2196.4h0M363.3 2197.2h0M364.9 2195.6h0M276.0 2190.1h0M264.6 2205.8h0M359.8 2201.5h0M359.2 2201.4h0M359.0 2199.7h0M361.2 2200.1h0M361.2 2199.1h0M247.9 2194.6h0M258.5 2204.6h0M255.4 2203.7h0M251.4 2200.5h0M250.0 2203.1h0M251.1 2201.8h0M272.4 2186.3h0M271.9 2185.9h0M262.6 2180.4h0M269.1 2201.1h0M268.2 2200.9h0M271.1 2197.8h0M272.8 2198.3h0M258.1 2181.9h0M257.3 2181.5h0M250.8 2198.1h0M253.8 2201.3h0M251.8 2197.5h0M251.7 2185.1h0M249.8 2184.8h0M271.3 2195.7h0M256.6 2201.0h0M257.3 2200.5h0M271.5 2192.9h0M271.6 2192.6h0M272.5 2193.0h0M265.6 2183.3h0M267.1 2183.1h0M264.5 2184.9h0M263.2 2202.2h0M260.9 2201.1h0M250.9 2185.4h0M251.3 2186.0h0M254.9 2185.0h0M252.8 2184.1h0M255.1 2182.5h0M251.5 2193.4h0M250.0 2193.5h0M252.9 2198.1h0M254.7 2198.2h0M254.4 2198.7h0M269.2 2197.3h0M250.3 2189.7h0M251.0 2191.0h0M251.2 2191.0h0M251.5 2188.8h0M262.4 2183.6h0M263.2 2184.2h0M262.1 2182.4h0M264.1 2185.2h0M255.5 2182.9h0M257.4 2185.0h0M270.1 2189.8h0M253.8 2194.8h0M254.3 2196.3h0M258.6 2185.1h0M258.5 2184.9h0M258.5 2184.7h0M257.1 2200.0h0M257.0 2199.8h0M270.2 2196.6h0M268.5 2196.2h0M254.8 2187.6h0M255.1 2186.8h0M254.2 2186.8h0M255.0 2186.0h0M264.4 2186.9h0M265.2 2186.7h0M264.7 2188.1h0M269.6 2192.7h0M268.3 2192.2h0M269.0 2193.1h0M264.8 2199.1h0M266.8 2199.0h0M266.0 2200.1h0M265.0 2198.6h0M266.0 2197.7h0M265.3 2199.0h0M254.9 2192.8h0M254.9 2192.4h0M255.0 2191.9h0M252.8 2193.1h0M252.5 2190.2h0M254.0 2189.0h0M254.2 2189.7h0M253.4 2188.5h0M260.6 2198.3h0M258.4 2198.0h0M259.7 2197.9h0M259.1 2200.2h0M260.4 2197.5h0M260.4 2197.4h0M258.4 2197.5h0M261.2 2199.0h0M262.1 2197.6h0M262.7 2198.4h0M257.5 2194.7h0M256.6 2195.4h0M258.0 2196.4h0M256.6 2188.1h0M256.2 2186.7h0M256.5 2186.6h0M257.4 2185.9h0M255.3 2186.2h0M256.5 2186.0h0M257.6 2186.9h0M261.4 2185.7h0M263.9 2187.6h0M263.4 2187.9h0M261.7 2186.4h0M265.5 2190.7h0M265.1 2190.9h0M264.7 2189.6h0M264.2 2190.6h0M265.9 2194.3h0M264.7 2196.0h0M264.9 2197.1h0M265.3 2194.9h0M264.4 2196.8h0M266.0 2195.1h0M265.3 2195.0h0M267.2 2194.4h0M259.2 2187.5h0M260.5 2187.3h0M260.1 2186.8h0M261.1 2188.2h0M260.6 2187.7h0M260.4 2186.2h0M260.0 2185.8h0M260.8 2186.9h0M260.3 2185.4h0M264.4 2192.3h0M265.8 2193.3h0M264.5 2192.3h0M264.3 2193.8h0M264.7 2193.8h0M266.6 2191.5h0M267.0 2191.3h0M264.3 2193.5h0M265.1 2191.4h0M264.2 2191.9h0M265.1 2193.1h0M266.6 2194.1h0M264.8 2191.7h0M257.9 2191.0h0M255.6 2188.7h0M258.2 2189.7h0M256.9 2190.9h0M257.1 2189.5h0M257.9 2189.0h0M256.5 2190.8h0M258.0 2191.0h0M258.1 2191.1h0M256.6 2191.1h0M258.6 2194.5h0M259.6 2196.0h0M255.2 2191.8h0M256.8 2194.1h0M256.6 2193.5h0M259.7 2194.3h0M257.7 2193.1h0M260.6 2195.1h0M256.7 2191.7h0M257.7 2193.1h0M260.8 2194.3h0M257.1 2193.9h0M258.1 2192.2h0M255.5 2193.4h0M257.9 2193.3h0M257.4 2194.3h0M259.3 2195.5h0M258.0 2192.1h0M256.4 2193.8h0M259.0 2196.4h0M263.6 2196.5h0M262.3 2197.1h0M263.7 2197.1h0M263.3 2195.4h0M263.3 2194.8h0M261.5 2196.6h0M263.3 2195.1h0M261.5 2196.5h0M264.1 2195.4h0M263.4 2194.6h0M262.2 2195.5h0M261.9 2188.6h0M262.6 2189.1h0M263.6 2190.1h0M263.8 2189.6h0M261.2 2191.0h0M261.6 2188.7h0M261.8 2188.8h0M261.7 2191.0h0M261.5 2188.5h0M263.1 2189.7h0M260.5 2189.5h0M259.2 2189.9h0M259.9 2194.1h0M259.8 2192.2h0M259.1 2193.3h0M259.5 2193.6h0M258.8 2191.5h0M263.6 2192.3h0M261.3 2192.7h0M263.9 2192.3h0M261.4 2192.9h0M262.3 2193.4h0M262.6 2192.0h0M714.9 2230.7h0M796.1 2239.2h0M668.8 2182.7h0M805.8 2246.7h0M573.1 2209.8h0M784.9 2234.0h0M636.4 2226.4h0M637.8 2172.8h0M568.0 2216.6h0M702.8 2219.9h0M579.4 2216.1h0M577.7 2199.9h0M648.8 2169.5h0M771.6 2221.1h0M706.2 2177.8h0M750.0 2222.3h0M694.7 2219.1h0M668.7 2194.7h0M610.1 2178.5h0M579.9 2185.2h0M579.0 2186.6h0M614.6 2219.1h0M792.4 2229.7h0M757.4 2197.8h0M677.5 2191.6h0M797.2 2228.4h0M642.6 2182.5h0M758.0 2209.9h0M661.9 2216.2h0M753.4 2197.2h0M673.2 2211.8h0M736.3 2185.6h0M723.2 2185.5h0M626.1 2218.9h0M599.4 2197.4h0M738.6 2180.0h0M656.5 2187.2h0M602.4 2188.8h0M730.8 2216.1h0M606.7 2218.6h0M752.8 2183.3h0M615.0 2175.9h0M660.4 2213.5h0M722.1 2189.9h0M621.3 2176.4h0M676.3 2200.9h0M722.1 2184.6h0M715.5 2189.8h0M716.2 2217.9h0M711.9 2184.8h0M655.4 2190.2h0M684.5 2188.1h0M600.5 2194.5h0M715.9 2187.8h0M600.9 2209.9h0M747.2 2217.4h0M754.4 2212.9h0M608.5 2190.0h0M695.3 2214.5h0M605.9 2191.4h0M727.6 2214.9h0M744.8 2215.6h0M746.0 2185.2h0M666.2 2198.3h0M600.6 2201.7h0M754.1 2211.6h0M671.8 2208.4h0M596.9 2215.0h0M712.2 2200.7h0M595.2 2214.0h0M642.1 2213.2h0M594.5 2215.5h0M678.9 2194.1h0M680.9 2199.2h0M717.3 2211.7h0M663.2 2202.9h0M707.1 2188.0h0M706.4 2188.0h0M648.6 2191.0h0M721.9 2201.9h0M749.9 2186.5h0M692.7 2190.3h0M671.3 2203.6h0M749.6 2191.4h0M660.9 2207.0h0M747.6 2213.5h0M686.8 2212.6h0M627.6 2177.2h0M717.5 2203.3h0M716.3 2214.9h0M740.7 2190.6h0M707.7 2191.5h0M727.3 2197.4h0M669.8 2205.4h0M741.0 2186.9h0M666.2 2205.0h0M655.8 2209.6h0M742.6 2207.2h0M695.2 2202.0h0M682.7 2192.6h0M697.6 2207.9h0M718.5 2204.1h0M733.3 2210.6h0M659.4 2195.4h0M695.0 2206.1h0M702.7 2208.4h0M659.3 2197.4h0M662.4 2204.0h0M704.9 2207.1h0M688.9 2211.0h0M609.1 2213.5h0M708.5 2212.8h0M704.5 2193.6h0M684.8 2194.4h0M713.1 2202.6h0M705.9 2193.3h0M684.6 2194.6h0M689.6 2199.7h0M697.9 2194.7h0M687.2 2194.3h0M640.5 2214.0h0M705.7 2195.6h0M690.5 2210.7h0M641.8 2214.6h0M724.5 2202.0h0M696.2 2204.9h0M690.3 2212.3h0M727.7 2209.1h0M729.0 2211.5h0M738.1 2205.3h0M731.4 2197.4h0M682.1 2204.7h0M698.4 2199.7h0M703.5 2206.8h0M696.3 2196.9h0M694.2 2193.0h0M693.4 2194.5h0M695.6 2196.7h0M716.5 2211.1h0M736.5 2197.6h0M706.3 2199.6h0M605.8 2202.3h0M707.6 2200.9h0M646.3 2190.9h0M704.5 2199.5h0M702.8 2198.2h0M738.1 2192.4h0M748.2 2209.7h0M747.7 2207.6h0M684.6 2201.5h0M734.8 2208.0h0M603.2 2204.4h0M685.4 2201.0h0M736.2 2204.1h0M748.4 2205.9h0M692.5 2204.1h0M749.9 2206.4h0M746.5 2193.8h0M745.2 2193.1h0M711.8 2205.3h0M714.7 2207.0h0M638.4 2213.5h0M740.1 2202.2h0M712.3 2209.5h0M727.6 2203.1h0M731.8 2207.2h0M608.0 2200.6h0M708.0 2207.3h0M710.1 2208.4h0M738.3 2196.3h0M746.9 2203.9h0M736.1 2199.9h0M741.5 2194.6h0M744.7 2201.2h0M733.9 2201.5h0M745.2 2200.3h0M745.7 2199.7h0M656.7 2204.8h0M684.5 2204.7h0M632.7 2214.0h0M655.3 2205.6h0M686.5 2204.5h0M684.6 2205.6h0M730.8 2198.4h0M731.4 2199.7h0M730.8 2199.1h0M652.6 2200.3h0M729.7 2205.3h0M650.5 2199.0h0M646.6 2201.8h0M731.2 2206.5h0M652.8 2200.1h0M645.0 2202.8h0M631.5 2180.1h0M743.9 2199.3h0M642.8 2206.3h0M645.0 2204.6h0M742.1 2199.0h0M609.8 2210.8h0M656.0 2198.6h0M654.9 2198.3h0M639.6 2207.7h0M620.2 2180.4h0M642.8 2189.8h0M620.3 2182.6h0M655.1 2203.4h0M611.1 2197.0h0M654.1 2201.5h0M655.0 2202.1h0M617.6 2183.3h0M636.0 2210.3h0M637.2 2185.8h0M623.0 2182.5h0M607.2 2207.0h0M606.4 2207.2h0M640.7 2188.0h0M622.3 2214.4h0M623.0 2213.0h0M606.2 2205.9h0M642.0 2201.0h0M633.5 2211.1h0M625.7 2213.3h0M640.9 2204.3h0M642.3 2193.1h0M643.6 2193.1h0M614.7 2192.7h0M642.8 2199.7h0M637.4 2208.8h0M643.7 2196.3h0M642.6 2195.3h0M645.0 2196.1h0M642.5 2195.7h0M617.4 2187.4h0M615.8 2188.2h0M640.5 2201.3h0M609.1 2207.7h0M610.6 2208.3h0M630.8 2212.7h0M640.6 2190.0h0M634.7 2185.7h0M633.2 2183.6h0M619.3 2185.0h0M618.6 2185.1h0M637.5 2206.4h0M639.6 2198.3h0M615.7 2190.1h0M616.2 2190.9h0M633.8 2207.6h0M611.6 2202.9h0M610.8 2202.2h0M610.5 2203.7h0M613.9 2196.9h0M640.6 2193.6h0M629.6 2210.1h0M639.1 2193.5h0M637.6 2187.3h0M638.6 2187.2h0M614.1 2209.8h0M614.8 2208.1h0M614.8 2208.9h0M622.8 2212.1h0M623.6 2212.4h0M632.9 2184.9h0M638.6 2201.5h0M622.6 2185.0h0M626.3 2212.1h0M618.3 2187.2h0M619.8 2188.2h0M618.1 2188.2h0M614.7 2198.7h0M617.1 2207.0h0M633.1 2205.7h0M633.2 2206.3h0M618.0 2207.3h0M627.5 2183.8h0M629.1 2185.3h0M629.9 2185.4h0M617.9 2194.5h0M624.0 2185.5h0M614.7 2205.3h0M613.7 2205.9h0M613.9 2204.5h0M636.6 2191.1h0M630.8 2208.8h0M630.9 2207.9h0M632.9 2208.1h0M631.4 2208.3h0M637.9 2199.2h0M638.3 2200.0h0M637.6 2199.1h0M612.8 2203.2h0M614.0 2203.3h0M614.5 2202.5h0M633.8 2186.1h0M635.9 2187.5h0M636.0 2197.6h0M618.2 2191.2h0M619.1 2208.2h0M633.4 2201.6h0M619.9 2208.3h0M635.4 2201.5h0M618.4 2209.3h0M621.1 2187.9h0M616.2 2196.3h0M617.9 2195.9h0M628.6 2208.9h0M616.8 2206.5h0M616.4 2206.2h0M630.5 2204.6h0M632.9 2204.2h0M631.4 2205.7h0M632.4 2186.2h0M623.0 2209.3h0M622.1 2208.8h0M621.6 2207.3h0M621.8 2207.6h0M616.3 2198.6h0M615.6 2199.3h0M616.2 2200.4h0M615.9 2198.7h0M617.6 2198.4h0M625.5 2209.3h0M626.8 2207.4h0M624.2 2208.4h0M624.7 2207.6h0M625.3 2209.2h0M625.4 2209.5h0M625.0 2207.5h0M617.5 2203.3h0M615.0 2203.1h0M615.3 2201.9h0M616.6 2203.8h0M617.7 2201.5h0M635.7 2189.9h0M633.9 2190.7h0M633.6 2191.5h0M633.7 2191.1h0M619.0 2194.5h0M618.2 2192.3h0M620.6 2192.6h0M624.4 2188.2h0M625.3 2186.7h0M624.6 2188.5h0M626.2 2188.7h0M635.0 2199.3h0M634.9 2200.1h0M635.2 2199.4h0M633.6 2199.6h0M629.0 2187.1h0M627.6 2187.7h0M627.2 2187.0h0M619.1 2205.8h0M619.7 2204.6h0M619.5 2206.2h0M619.2 2204.3h0M619.0 2206.2h0M623.5 2191.1h0M622.5 2189.8h0M623.5 2191.7h0M629.2 2204.5h0M627.5 2204.6h0M635.6 2197.8h0M635.1 2197.4h0M635.0 2195.1h0M634.8 2197.1h0M631.5 2202.3h0M630.7 2203.4h0M630.3 2201.8h0M634.3 2193.9h0M634.5 2193.9h0M633.4 2192.5h0M634.3 2193.3h0M634.1 2194.8h0M634.0 2194.7h0M634.2 2194.4h0M633.4 2193.6h0M619.9 2195.2h0M618.9 2195.4h0M618.1 2196.1h0M618.8 2195.9h0M621.4 2204.5h0M621.7 2204.0h0M622.0 2204.9h0M623.8 2205.1h0M625.3 2204.7h0M626.5 2204.7h0M624.4 2205.1h0M624.7 2206.7h0M624.3 2204.4h0M620.4 2201.4h0M619.6 2201.6h0M620.9 2203.6h0M618.3 2201.7h0M631.1 2191.3h0M631.0 2189.6h0M631.0 2191.3h0M632.9 2190.8h0M632.1 2191.9h0M631.3 2190.4h0M620.4 2200.8h0M620.1 2200.5h0M619.0 2199.0h0M619.9 2197.9h0M620.6 2198.1h0M620.9 2198.8h0M622.0 2194.5h0M623.2 2194.0h0M622.3 2191.9h0M623.5 2192.4h0M631.4 2199.8h0M632.4 2199.4h0M632.3 2199.4h0M630.1 2197.9h0M625.7 2191.4h0M624.3 2191.1h0M626.9 2189.0h0M625.6 2189.9h0M625.6 2189.6h0M624.7 2189.7h0M625.3 2191.7h0M625.5 2191.1h0M625.2 2191.8h0M625.3 2190.7h0M626.0 2190.5h0M625.2 2189.8h0M625.8 2191.2h0M626.4 2191.7h0M625.7 2190.9h0M624.0 2191.8h0M628.5 2190.1h0M628.9 2189.8h0M627.0 2191.5h0M627.7 2191.6h0M627.1 2191.7h0M629.2 2191.8h0M627.6 2190.6h0M627.9 2191.2h0M630.0 2203.4h0M628.7 2203.0h0M628.3 2201.5h0M628.3 2203.7h0M628.1 2202.7h0M628.3 2203.2h0M628.2 2202.2h0M627.7 2202.2h0M627.6 2203.2h0M629.8 2203.8h0M630.0 2194.3h0M632.8 2192.0h0M631.3 2193.6h0M630.8 2194.2h0M630.8 2192.0h0M632.2 2194.5h0M630.3 2194.1h0M630.0 2193.2h0M631.5 2193.8h0M632.8 2194.8h0M632.9 2194.5h0M631.2 2196.6h0M631.6 2195.4h0M630.8 2197.0h0M631.2 2196.4h0M632.8 2197.6h0M630.7 2197.2h0M631.6 2195.5h0M632.9 2197.8h0M630.1 2196.7h0M623.1 2203.3h0M621.1 2201.5h0M622.8 2201.7h0M622.1 2202.8h0M621.3 2202.8h0M622.9 2202.8h0M622.5 2203.7h0M622.9 2203.2h0M623.9 2203.0h0M621.8 2203.3h0M622.1 2197.1h0M623.5 2197.6h0M621.1 2197.0h0M623.4 2196.7h0M622.7 2197.8h0M622.1 2196.4h0M622.6 2195.3h0M622.2 2197.3h0M624.0 2196.9h0M621.6 2196.1h0M623.2 2196.1h0M623.7 2195.0h0M626.9 2194.4h0M625.4 2192.3h0M625.9 2194.6h0M625.4 2194.4h0M622.6 2198.2h0M621.7 2199.4h0M623.1 2198.0h0M623.4 2198.7h0M623.1 2200.4h0M622.2 2200.4h0M624.0 2198.1h0M625.5 2201.7h0M626.1 2202.1h0M625.2 2201.8h0M626.6 2203.6h0M625.9 2203.0h0M624.2 2203.0h0M627.2 2200.5h0M628.2 2198.3h0M629.8 2198.7h0M628.4 2198.2h0M629.7 2192.7h0M627.5 2193.2h0M629.3 2194.5h0M629.5 2194.1h0M629.1 2194.4h0M627.0 2199.7h0M626.1 2198.1h0M626.4 2200.7h0M627.7 2196.0h0M628.1 2196.7h0M625.1 2197.4h0M624.4 2197.5h0M626.1 2195.8h0M1128.8 2126.7h0M968.7 2169.9h0M942.3 2130.8h0M1005.5 2234.9h0M1130.4 2109.3h0M1097.0 2108.8h0M970.2 2225.4h0M1128.9 2236.1h0M958.2 2135.4h0M957.2 2186.5h0M1015.6 2110.9h0M1172.6 2239.6h0M1115.8 2187.0h0M1017.7 2172.3h0M1088.6 2180.6h0M933.7 2192.1h0M938.5 2212.7h0M980.6 2170.6h0M1120.9 2257.3h0M1125.3 2254.3h0M1017.7 2219.6h0M1034.9 2180.4h0M978.4 2112.7h0M1051.9 2186.7h0M983.0 2116.3h0M942.2 2196.9h0M1045.0 2182.2h0M1002.0 2170.8h0M984.6 2175.3h0M1041.4 2179.1h0M940.6 2198.0h0M949.0 2213.3h0M1006.3 2221.5h0M1011.2 2222.0h0M941.8 2203.8h0M943.8 2208.4h0M1044.6 2189.3h0M1037.4 2207.2h0M1009.7 2215.3h0M1022.5 2184.9h0M1095.3 2193.2h0M951.9 2204.6h0M959.4 2213.2h0M1030.5 2188.0h0M951.2 2212.4h0M980.6 2219.1h0M1065.8 2215.4h0M1066.6 2216.9h0M1028.1 2188.5h0M996.0 2175.0h0M1064.0 2188.2h0M1056.6 2212.7h0M1056.1 2212.8h0M999.3 2219.5h0M965.9 2210.3h0M957.8 2210.2h0M956.5 2199.3h0M990.3 2222.3h0M1007.1 2178.2h0M1036.9 2190.6h0M1061.3 2190.6h0M974.1 2214.0h0M970.2 2186.1h0M1008.7 2181.3h0M1055.6 2192.6h0M988.1 2224.0h0M956.0 2201.1h0M1060.2 2211.1h0M1044.6 2207.9h0M968.1 2197.1h0M1034.2 2194.0h0M1041.8 2193.1h0M1061.1 2193.4h0M1083.7 2188.0h0M1028.7 2205.3h0M1032.9 2205.9h0M1095.2 2202.9h0M1095.8 2202.1h0M1000.2 2178.0h0M1060.8 2198.3h0M1006.6 2179.5h0M962.1 2207.6h0M1050.5 2196.7h0M959.6 2201.3h0M1072.0 2214.4h0M958.6 2200.9h0M1016.8 2185.8h0M1036.5 2191.8h0M1021.3 2207.6h0M1047.2 2211.9h0M1037.7 2192.9h0M1023.7 2194.0h0M1048.8 2211.2h0M1031.2 2199.5h0M965.0 2203.3h0M970.4 2189.4h0M1035.7 2196.5h0M1088.7 2207.6h0M1010.6 2212.2h0M1032.1 2201.1h0M988.8 2219.1h0M1015.9 2210.4h0M1029.0 2201.3h0M1013.6 2211.7h0M987.6 2220.8h0M1052.6 2210.4h0M1028.9 2200.8h0M961.6 2203.3h0M961.7 2204.2h0M1060.7 2203.9h0M965.3 2203.5h0M1032.7 2199.3h0M1039.8 2198.7h0M1039.0 2197.5h0M1038.8 2198.4h0M972.5 2209.7h0M1009.6 2184.9h0M1090.2 2191.9h0M1014.7 2188.1h0M1015.6 2187.3h0M1079.3 2188.2h0M1089.0 2191.9h0M1063.2 2192.8h0M1083.6 2207.5h0M967.9 2205.8h0M1082.7 2208.7h0M967.6 2201.1h0M1024.2 2196.6h0M1063.8 2196.2h0M1062.0 2197.0h0M991.8 2216.1h0M1048.7 2206.9h0M1044.5 2198.1h0M1064.5 2207.1h0M1044.4 2198.1h0M1044.3 2198.1h0M1025.3 2200.9h0M1078.1 2210.0h0M1002.5 2214.8h0M1013.9 2191.2h0M1048.2 2199.1h0M981.1 2217.4h0M1091.9 2202.1h0M1024.1 2199.8h0M1054.9 2202.7h0M1062.7 2200.8h0M1019.9 2205.7h0M1020.8 2203.5h0M984.0 2216.2h0M969.8 2194.9h0M1051.8 2198.1h0M977.3 2184.9h0M1052.4 2198.7h0M987.4 2218.0h0M1010.6 2208.3h0M1051.9 2208.3h0M1051.6 2206.7h0M1048.6 2202.9h0M1062.5 2203.8h0M969.5 2205.2h0M1021.4 2195.5h0M1019.9 2197.2h0M1064.3 2203.5h0M1016.4 2192.6h0M1082.3 2207.5h0M1054.7 2205.6h0M1011.2 2201.7h0M1011.1 2202.9h0M1016.6 2207.0h0M1054.3 2204.9h0M1053.3 2204.3h0M983.2 2180.1h0M981.8 2180.9h0M1012.7 2193.0h0M1010.7 2192.8h0M1068.6 2191.1h0M1069.4 2189.1h0M1009.5 2195.3h0M1020.7 2202.6h0M1009.6 2186.9h0M1021.0 2201.6h0M1089.8 2195.2h0M1090.8 2197.2h0M1019.2 2191.5h0M1017.4 2192.5h0M1018.8 2193.9h0M1018.1 2192.9h0M1091.6 2204.8h0M1089.5 2204.1h0M1008.3 2207.3h0M1088.9 2206.0h0M1008.8 2208.3h0M1087.8 2205.3h0M1083.2 2204.3h0M1080.5 2190.1h0M1080.0 2188.7h0M1079.9 2188.8h0M1052.5 2200.3h0M1068.0 2211.1h0M1052.2 2203.1h0M969.0 2203.0h0M1070.9 2188.8h0M1051.8 2204.3h0M1016.8 2200.9h0M1016.2 2205.4h0M1016.2 2203.4h0M1014.5 2204.6h0M1018.0 2200.9h0M1019.4 2197.8h0M1018.1 2199.9h0M1009.1 2201.3h0M1083.0 2191.4h0M1000.1 2214.5h0M1000.0 2215.2h0M1073.7 2190.3h0M998.7 2213.8h0M1078.4 2190.5h0M1075.2 2211.0h0M1077.1 2189.6h0M974.8 2211.8h0M1065.1 2207.6h0M974.5 2188.5h0M1009.0 2191.3h0M1087.1 2194.8h0M1083.1 2200.6h0M1083.1 2195.3h0M1080.7 2192.1h0M1081.5 2194.3h0M1088.9 2203.0h0M1004.7 2208.0h0M1091.0 2202.5h0M1066.2 2202.8h0M998.3 2181.9h0M1089.4 2198.4h0M1079.7 2197.0h0M996.9 2180.4h0M1081.2 2198.0h0M1084.8 2197.6h0M1079.0 2192.3h0M1078.7 2191.6h0M1081.9 2203.2h0M1066.6 2203.9h0M998.5 2214.9h0M995.9 2213.4h0M979.9 2184.7h0M978.1 2184.0h0M974.4 2194.1h0M976.9 2186.1h0M1068.6 2192.7h0M1087.6 2199.9h0M1085.9 2197.6h0M1069.4 2193.7h0M1088.5 2198.4h0M1070.6 2193.6h0M1087.6 2197.6h0M1006.8 2186.1h0M982.5 2213.9h0M994.6 2213.1h0M974.6 2204.5h0M983.2 2214.5h0M982.4 2212.6h0M972.7 2203.6h0M995.3 2180.1h0M993.3 2180.4h0M991.6 2212.4h0M990.1 2214.3h0M1072.3 2191.4h0M1070.9 2193.9h0M1005.5 2204.5h0M1006.2 2203.7h0M1067.9 2196.5h0M1069.0 2196.3h0M1068.3 2195.5h0M1001.5 2211.5h0M973.8 2196.7h0M971.8 2195.3h0M1007.2 2202.0h0M975.7 2208.1h0M1005.2 2199.5h0M1000.4 2182.3h0M1004.9 2200.1h0M1005.6 2200.0h0M1000.0 2183.2h0M1001.5 2183.7h0M1006.8 2198.0h0M1075.2 2197.1h0M1070.1 2207.0h0M1068.0 2208.6h0M972.6 2200.5h0M974.0 2203.2h0M1078.6 2204.5h0M1077.0 2202.8h0M1002.2 2206.5h0M1002.3 2207.6h0M1003.2 2206.7h0M1077.1 2205.5h0M1077.8 2202.1h0M1004.2 2207.9h0M973.6 2198.2h0M1005.4 2190.4h0M1007.4 2190.7h0M1005.3 2189.8h0M1006.0 2189.6h0M1070.6 2196.7h0M1071.1 2196.5h0M1070.8 2196.5h0M1073.5 2197.2h0M979.3 2210.6h0M977.6 2212.3h0M979.0 2210.8h0M983.0 2184.8h0M1005.8 2193.5h0M1007.3 2192.2h0M1069.2 2202.6h0M1067.8 2202.8h0M1071.4 2197.4h0M1075.6 2198.1h0M1074.1 2199.3h0M1075.7 2198.5h0M1075.0 2207.7h0M1076.4 2209.2h0M1074.7 2207.4h0M1074.4 2206.6h0M1067.8 2203.4h0M1001.7 2187.5h0M1069.5 2203.8h0M1002.1 2186.9h0M1068.5 2204.0h0M1073.3 2206.8h0M1071.6 2207.1h0M1072.5 2208.5h0M974.8 2189.5h0M975.2 2190.5h0M975.8 2188.5h0M978.3 2186.8h0M978.4 2186.1h0M998.5 2210.6h0M1002.5 2204.4h0M1072.8 2200.8h0M1075.3 2200.9h0M1074.9 2201.6h0M1076.3 2200.8h0M1076.4 2200.3h0M1074.5 2206.1h0M986.5 2184.1h0M986.1 2184.6h0M1075.6 2203.4h0M985.6 2183.5h0M1073.8 2205.5h0M1072.6 2205.8h0M1072.7 2203.9h0M1071.8 2204.9h0M1073.4 2203.3h0M977.4 2204.3h0M974.7 2203.6h0M983.3 2212.2h0M982.1 2211.6h0M982.7 2210.8h0M976.8 2193.3h0M999.9 2208.8h0M994.2 2211.7h0M993.3 2209.9h0M1004.5 2202.3h0M1001.7 2189.6h0M1002.9 2188.7h0M1003.1 2189.9h0M977.6 2207.2h0M985.9 2210.7h0M987.8 2184.7h0M988.6 2182.8h0M999.7 2188.3h0M987.3 2211.2h0M988.0 2211.4h0M974.7 2200.5h0M977.2 2202.2h0M980.8 2187.5h0M982.0 2186.1h0M993.0 2184.9h0M1003.4 2199.4h0M1002.9 2197.4h0M976.8 2195.7h0M976.7 2197.0h0M1003.5 2196.6h0M1004.5 2194.0h0M977.8 2190.7h0M980.3 2188.6h0M991.2 2184.8h0M991.8 2182.3h0M990.1 2183.0h0M976.3 2199.3h0M977.3 2197.7h0M974.6 2198.3h0M1000.6 2204.2h0M1000.2 2203.5h0M999.0 2204.6h0M997.4 2206.6h0M996.0 2208.1h0M997.7 2208.4h0M981.2 2208.5h0M982.7 2208.3h0M977.8 2203.9h0M978.5 2203.4h0M998.7 2188.4h0M999.3 2190.7h0M999.2 2189.5h0M985.1 2186.7h0M984.7 2187.3h0M985.2 2187.1h0M985.3 2187.8h0M996.5 2185.6h0M998.1 2186.8h0M998.6 2187.3h0M978.4 2192.2h0M978.6 2192.1h0M979.4 2194.3h0M979.2 2192.4h0M982.2 2190.7h0M983.4 2188.7h0M983.5 2188.7h0M980.6 2191.1h0M980.8 2189.1h0M998.7 2202.1h0M1000.2 2200.3h0M1000.1 2201.4h0M999.6 2202.7h0M995.5 2207.5h0M994.4 2206.8h0M992.8 2207.6h0M993.2 2206.8h0M1000.6 2194.0h0M1001.1 2192.8h0M998.7 2191.4h0M998.8 2192.1h0M1000.0 2193.1h0M1000.4 2193.4h0M985.1 2207.4h0M986.3 2207.3h0M985.8 2209.1h0M984.9 2208.3h0M985.4 2206.4h0M984.3 2206.6h0M985.5 2207.9h0M988.4 2187.2h0M988.3 2186.7h0M987.4 2187.0h0M980.3 2200.9h0M979.3 2202.2h0M979.8 2202.5h0M980.2 2200.9h0M980.3 2201.4h0M980.2 2202.0h0M995.5 2187.3h0M992.7 2187.9h0M995.1 2186.4h0M995.4 2185.7h0M995.3 2187.3h0M994.9 2188.2h0M994.2 2187.5h0M994.6 2185.6h0M977.9 2194.5h0M978.4 2195.7h0M979.5 2194.5h0M979.6 2196.3h0M1000.5 2196.0h0M1000.0 2195.3h0M1000.9 2195.0h0M999.3 2195.2h0M998.9 2198.9h0M1001.4 2197.7h0M1000.4 2199.6h0M1000.4 2199.3h0M992.3 2206.6h0M991.9 2207.1h0M990.7 2207.9h0M998.1 2203.8h0M991.9 2209.2h0M991.5 2208.5h0M997.9 2206.1h0M991.4 2208.0h0M989.9 2206.3h0M998.0 2203.4h0M988.6 2206.3h0M988.7 2207.0h0M988.3 2206.3h0M988.9 2207.6h0M977.9 2199.4h0M977.7 2200.0h0M980.2 2197.5h0M991.4 2187.6h0M989.9 2188.1h0M990.1 2185.3h0M991.8 2185.7h0M992.0 2186.3h0M991.2 2186.2h0M991.4 2187.4h0M991.0 2186.2h0M996.6 2190.4h0M996.5 2190.4h0M998.1 2190.1h0M998.4 2190.9h0M996.8 2189.4h0M996.4 2188.5h0M981.1 2203.9h0M983.2 2206.0h0M982.6 2205.1h0M983.1 2206.2h0M981.6 2205.8h0M980.7 2204.6h0M982.6 2205.9h0M985.7 2189.2h0M986.0 2190.8h0M983.3 2191.8h0M980.9 2192.4h0M980.9 2193.9h0M994.0 2189.3h0M995.5 2188.3h0M993.0 2189.0h0M994.1 2190.6h0M994.2 2190.5h0M992.6 2189.2h0M995.7 2200.8h0M996.2 2200.9h0M998.0 2203.2h0M996.6 2200.4h0M996.8 2203.2h0M998.0 2202.5h0M996.2 2191.9h0M998.4 2194.2h0M996.5 2193.6h0M995.9 2192.0h0M996.5 2192.1h0M996.6 2194.1h0M997.9 2193.5h0M996.3 2192.3h0M998.0 2191.8h0M992.8 2204.3h0M994.2 2205.9h0M994.3 2204.3h0M993.3 2204.8h0M994.1 2206.1h0M995.5 2203.7h0M993.7 2204.1h0M994.0 2203.5h0M986.8 2189.0h0M987.0 2188.4h0M987.9 2189.9h0M988.7 2190.8h0M987.6 2190.9h0M988.4 2190.6h0M988.0 2190.7h0M987.6 2189.6h0M986.2 2204.5h0M985.3 2204.8h0M984.7 2203.3h0M986.1 2206.3h0M986.0 2204.4h0M982.8 2202.5h0M980.8 2201.8h0M981.4 2201.4h0M981.3 2202.6h0M983.2 2201.3h0M982.6 2195.5h0M982.7 2195.3h0M982.4 2195.7h0M980.7 2194.7h0M983.2 2196.0h0M982.8 2195.2h0M981.3 2194.5h0M981.4 2194.8h0M982.8 2194.9h0M982.0 2197.0h0M990.0 2190.9h0M992.3 2189.1h0M989.8 2189.9h0M992.4 2188.3h0M992.4 2188.6h0M991.1 2191.0h0M990.7 2190.6h0M990.5 2189.5h0M997.7 2194.4h0M997.8 2195.1h0M995.9 2196.4h0M996.6 2194.4h0M997.0 2196.8h0M996.9 2197.0h0M996.0 2195.8h0M996.8 2197.8h0M998.3 2197.8h0M998.0 2197.9h0M995.8 2200.0h0M997.7 2198.1h0M997.0 2199.2h0M996.0 2198.4h0M996.1 2197.5h0M996.0 2197.8h0M995.8 2197.8h0M996.4 2200.0h0M983.2 2199.8h0M981.5 2197.7h0M982.2 2198.4h0M983.4 2198.9h0M980.9 2200.0h0M982.3 2199.2h0M983.5 2198.2h0M982.5 2199.3h0M981.9 2199.3h0M981.7 2197.9h0M989.5 2205.2h0M988.6 2203.4h0M988.1 2203.8h0M989.4 2203.9h0M989.5 2206.1h0M988.1 2204.3h0M991.8 2205.4h0M990.0 2204.4h0M990.9 2205.8h0M991.0 2205.1h0M992.0 2203.9h0M991.0 2203.6h0M990.4 2204.8h0M984.3 2193.9h0M985.1 2192.1h0M985.0 2193.9h0M986.1 2191.8h0M984.3 2192.1h0M986.0 2192.2h0M985.2 2193.8h0M986.5 2192.9h0M994.0 2192.7h0M993.5 2194.2h0M995.3 2194.1h0M993.3 2193.8h0M993.0 2191.4h0M994.0 2202.0h0M994.7 2200.6h0M993.1 2201.8h0M994.6 2201.9h0M994.7 2200.7h0M994.0 2200.7h0M994.9 2203.0h0M994.9 2202.6h0M992.8 2202.5h0M995.5 2202.9h0M986.1 2200.7h0M985.5 2201.3h0M985.8 2201.3h0M985.0 2202.7h0M984.9 2200.9h0M985.7 2202.5h0M984.5 2202.1h0M985.0 2202.5h0M985.2 2201.3h0M986.2 2200.9h0M984.4 2202.8h0M986.3 2200.8h0M986.6 2194.1h0M987.4 2191.5h0M988.2 2193.1h0M987.6 2192.6h0M988.9 2193.1h0M989.2 2192.3h0M986.7 2192.2h0M988.2 2191.8h0M990.6 2193.2h0M990.0 2193.7h0M992.2 2191.5h0M992.3 2192.1h0M989.9 2191.3h0M991.5 2194.3h0M990.4 2193.5h0M992.2 2191.6h0M992.1 2191.4h0M993.1 2196.9h0M993.0 2196.0h0M993.1 2197.0h0M993.2 2196.7h0M985.9 2195.7h0M985.9 2195.9h0M985.9 2195.9h0M986.5 2196.5h0M986.0 2196.9h0M984.6 2196.5h0M994.1 2200.3h0M994.4 2199.8h0M993.4 2200.1h0M994.3 2200.1h0M993.8 2198.6h0M993.7 2197.6h0M994.4 2198.1h0M986.5 2197.9h0M983.9 2200.1h0M986.6 2198.6h0M984.5 2198.0h0M985.7 2198.4h0M992.1 2202.0h0M990.7 2202.8h0M989.2 2200.7h0M989.5 2203.3h0M987.9 2195.1h0M986.9 2195.0h0M988.8 2196.4h0M989.5 2196.6h0M991.2 2196.4h0M991.2 2197.4h0"/>
<path stroke="#00e000" stroke-width="1.45" d="M266.2 202.5h0M259.6 183.2h0M260.9 182.9h0M260.6 266.4h0M259.1 102.9h0M265.3 102.8h0M265.8 176.4h0M260.6 106.5h0M265.1 159.0h0M260.5 181.4h0M261.7 182.4h0M264.8 123.3h0M266.8 216.3h0M266.6 96.5h0M258.8 109.2h0M260.3 109.1h0M263.9 152.1h0M261.9 152.8h0M267.1 141.5h0M267.1 227.0h0M262.8 156.0h0M261.7 149.1h0M260.9 117.1h0M259.5 117.8h0M257.9 220.8h0M260.6 177.6h0M259.9 141.7h0M263.3 102.7h0M266.9 175.0h0M261.5 100.1h0M264.5 120.6h0M262.9 190.4h0M258.1 233.4h0M265.2 237.8h0M265.2 261.3h0M262.2 148.6h0M263.3 146.2h0M264.0 158.9h0M263.9 145.2h0M264.1 137.9h0M266.5 221.3h0M257.9 228.6h0M257.4 229.9h0M265.6 118.5h0M263.3 193.8h0M256.0 222.9h0M255.7 223.9h0M263.7 135.1h0M262.4 133.1h0M262.3 162.7h0M264.3 163.4h0M263.1 117.6h0M266.5 113.6h0M263.4 111.0h0M262.5 113.8h0M258.1 226.7h0M263.2 168.6h0M259.4 218.4h0M259.2 220.1h0M258.5 232.3h0M258.7 228.2h0M258.6 234.4h0M263.2 220.1h0M257.5 241.9h0M265.2 245.4h0M265.8 247.0h0M261.5 237.0h0M265.3 250.6h0M260.4 264.4h0M262.1 225.1h0M264.5 256.5h0M264.6 255.4h0M255.0 248.1h0M260.8 237.9h0M259.4 237.1h0M260.4 236.7h0M261.3 236.6h0M260.2 237.8h0M254.9 257.4h0M261.5 240.9h0M252.9 252.5h0M255.1 253.6h0M255.0 251.8h0M254.4 255.2h0M255.1 255.5h0M253.6 254.5h0M254.0 256.4h0M260.5 239.0h0M260.0 239.0h0M259.1 240.3h0M259.0 241.2h0M259.8 239.1h0M258.8 240.1h0M262.9 245.0h0M262.9 244.0h0M262.4 243.2h0M262.3 244.8h0M264.2 244.1h0M256.6 261.5h0M258.2 261.2h0M258.0 260.3h0M256.9 261.9h0M256.2 262.2h0M258.2 245.9h0M257.4 246.2h0M255.8 245.4h0M256.0 246.5h0M259.3 243.8h0M258.8 243.9h0M260.1 244.2h0M261.1 242.7h0M261.2 243.1h0M258.3 242.9h0M258.8 262.4h0M260.9 261.7h0M258.5 262.2h0M259.6 261.2h0M262.1 246.4h0M261.5 245.2h0M259.6 261.8h0M260.3 260.7h0M259.4 260.7h0M262.5 246.3h0M262.6 246.3h0M261.3 245.9h0M262.3 246.3h0M262.1 245.4h0M264.2 260.0h0M261.8 259.3h0M262.2 258.1h0M261.5 257.0h0M262.0 257.0h0M263.4 257.4h0M262.1 258.9h0M263.3 258.7h0M262.3 248.5h0M262.1 250.6h0M263.6 248.2h0M262.3 248.5h0M263.3 249.7h0M261.7 250.5h0M256.7 249.5h0M258.1 249.0h0M258.0 249.4h0M255.8 250.9h0M258.2 250.3h0M257.8 248.5h0M261.3 247.7h0M258.8 245.9h0M259.3 246.4h0M260.9 245.2h0M260.1 245.6h0M259.9 246.0h0M260.0 247.7h0M259.5 245.8h0M260.0 247.5h0M260.6 247.4h0M259.9 245.4h0M260.0 247.9h0M258.8 247.5h0M264.0 251.7h0M262.3 251.8h0M261.5 253.2h0M262.2 252.1h0M262.0 252.6h0M262.2 252.8h0M264.1 252.5h0M263.6 253.3h0M262.3 253.9h0M262.3 253.5h0M262.9 255.3h0M262.3 254.1h0M261.7 256.7h0M262.7 255.7h0M262.9 256.9h0M263.2 256.4h0M257.5 259.3h0M256.6 257.8h0M256.4 257.7h0M255.9 257.7h0M255.8 258.9h0M257.1 259.8h0M256.8 260.0h0M255.8 257.0h0M257.5 253.9h0M257.3 252.3h0M257.2 252.0h0M257.9 255.1h0M257.0 256.3h0M258.3 255.9h0M260.6 258.0h0M261.0 258.3h0M259.1 258.4h0M258.5 257.1h0M260.3 258.9h0M259.5 259.4h0M261.2 259.9h0M260.9 257.7h0M259.0 258.5h0M261.0 259.6h0M260.4 250.4h0M258.9 248.5h0M259.6 253.9h0M260.3 253.3h0M258.4 251.9h0M259.5 252.3h0M259.1 253.1h0M258.7 255.3h0M259.5 256.3h0M625.4 269.6h0M623.4 246.6h0M623.1 267.1h0M624.9 269.1h0M623.5 266.9h0M622.1 262.9h0M621.7 262.3h0M622.1 262.9h0M621.9 263.6h0M620.4 255.3h0M620.9 256.3h0M625.3 249.3h0M625.9 251.3h0M625.2 248.9h0M625.9 249.0h0M622.0 258.2h0M626.1 265.2h0M626.0 264.4h0M628.0 265.1h0M626.8 265.1h0M627.7 264.3h0M625.8 265.4h0M624.6 251.6h0M624.3 250.6h0M624.5 249.6h0M624.3 249.2h0M624.9 251.5h0M624.0 265.0h0M622.6 264.1h0M623.6 264.9h0M622.2 263.8h0M624.8 266.0h0M624.9 265.4h0M625.0 264.4h0M622.3 264.1h0M624.6 266.2h0M625.1 266.0h0M623.3 264.1h0M624.1 264.1h0M622.6 265.4h0M623.0 264.7h0M625.9 253.8h0M626.5 253.1h0M626.1 252.1h0M626.0 253.8h0M625.7 252.6h0M626.0 252.4h0M626.1 253.2h0M626.9 252.4h0M625.5 262.2h0M626.4 262.0h0M626.9 261.7h0M627.4 262.1h0M625.3 262.2h0M627.0 263.1h0M626.4 260.7h0M625.9 263.1h0M625.3 254.7h0M626.1 255.4h0M625.8 255.8h0M625.5 256.2h0M625.8 257.6h0M625.3 257.0h0M627.8 259.6h0M627.5 260.6h0M625.8 258.1h0M625.9 257.8h0M625.4 260.1h0M628.1 259.9h0M625.9 260.2h0M625.6 260.4h0M624.5 254.6h0M624.9 252.0h0M622.5 252.7h0M624.9 252.7h0M624.5 251.7h0M622.3 254.2h0M623.6 254.5h0M624.9 253.7h0M624.0 252.4h0M624.0 254.6h0M622.3 254.4h0M623.8 252.7h0M625.0 254.6h0M623.6 261.9h0M624.5 261.5h0M624.3 261.7h0M622.9 257.0h0M622.7 255.4h0M622.4 258.4h0M988.7 260.6h0M993.0 239.5h0M996.2 243.0h0M989.2 246.8h0M988.8 246.8h0M990.0 248.0h0M991.0 255.6h0M989.6 254.5h0M988.6 254.9h0M995.8 246.1h0M994.7 245.6h0M991.9 259.5h0M992.4 244.0h0M992.9 243.6h0M992.8 245.0h0M993.3 258.3h0M993.5 258.7h0M991.6 243.1h0M993.1 242.9h0M992.0 242.7h0M994.3 258.0h0M993.3 243.5h0M994.3 258.6h0M993.2 242.5h0M993.4 242.3h0M997.6 256.0h0M995.9 256.9h0M996.8 256.0h0M994.9 256.0h0M996.5 256.4h0M991.1 250.1h0M991.4 248.8h0M990.1 250.0h0M991.3 250.9h0M990.6 252.1h0M989.7 253.6h0M991.0 251.5h0M990.3 253.5h0M991.5 253.8h0M989.7 254.1h0M990.6 253.9h0M995.3 249.9h0M996.5 248.9h0M995.7 251.2h0M995.3 248.4h0M995.6 251.1h0M997.2 250.9h0M995.0 250.7h0M994.9 250.7h0M996.0 252.1h0M995.6 253.0h0M996.4 252.0h0M996.3 253.4h0M995.9 254.0h0M995.3 253.8h0M996.0 251.5h0M996.7 251.4h0M994.2 248.1h0M993.3 247.1h0M992.7 245.8h0M992.5 247.2h0M993.6 245.9h0M991.8 248.2h0M994.4 254.7h0M993.8 256.3h0M992.4 255.0h0M992.8 256.1h0M993.0 256.5h0M994.3 254.9h0M992.7 257.3h0M993.4 251.1h0M992.1 248.4h0M993.2 250.5h0M992.4 253.3h0M993.0 251.8h0M262.9 687.0h0M273.5 514.9h0M258.9 585.0h0M260.5 585.0h0M270.1 548.4h0M261.1 698.7h0M262.2 696.4h0M264.6 619.9h0M259.5 644.6h0M260.5 519.8h0M265.8 566.3h0M264.2 659.8h0M267.0 596.7h0M270.7 477.9h0M263.1 656.0h0M258.5 639.9h0M258.2 669.7h0M261.2 653.5h0M266.5 580.3h0M261.6 608.2h0M265.8 570.3h0M262.9 618.8h0M258.5 526.0h0M262.9 583.2h0M271.7 491.0h0M270.2 499.7h0M260.8 622.3h0M262.2 622.0h0M263.9 619.4h0M259.4 635.2h0M263.5 501.6h0M262.0 638.5h0M270.5 528.7h0M262.0 639.0h0M268.5 473.4h0M269.4 474.5h0M259.8 527.5h0M268.8 478.5h0M260.9 631.4h0M263.7 677.3h0M261.5 669.0h0M262.3 594.2h0M263.3 593.8h0M261.2 672.0h0M265.0 472.8h0M265.9 487.1h0M271.3 510.7h0M263.0 575.0h0M263.4 575.5h0M262.4 491.3h0M261.7 519.9h0M270.5 513.1h0M263.7 523.0h0M266.9 502.8h0M263.9 515.0h0M270.0 499.8h0M269.7 500.8h0M263.9 508.8h0M262.4 511.1h0M264.7 489.8h0M266.4 489.4h0M261.0 628.6h0M262.9 539.6h0M263.8 629.5h0M261.7 628.7h0M261.2 630.1h0M261.1 628.5h0M261.0 512.5h0M268.9 504.4h0M268.6 503.9h0M267.2 504.3h0M266.0 548.4h0M265.9 547.5h0M264.3 549.8h0M266.5 491.8h0M265.7 492.1h0M267.0 493.3h0M268.2 524.3h0M267.9 524.7h0M269.5 534.7h0M268.3 539.7h0M267.3 518.3h0M268.1 538.9h0M268.7 517.6h0M263.5 523.7h0M263.7 524.9h0M261.3 524.2h0M269.1 545.5h0M267.9 544.6h0M268.3 544.6h0M266.4 520.5h0M265.7 522.2h0M263.8 532.2h0M261.7 532.6h0M263.6 533.1h0M265.5 507.2h0M264.6 507.0h0M264.7 521.2h0M265.4 522.9h0M267.0 507.4h0M264.6 507.0h0M265.2 521.9h0M269.5 506.2h0M268.5 506.4h0M268.7 508.1h0M270.0 508.1h0M265.4 519.2h0M266.7 519.3h0M266.0 517.5h0M265.8 519.2h0M269.9 526.9h0M268.2 543.6h0M267.2 542.3h0M266.0 545.9h0M266.7 546.9h0M264.7 546.8h0M265.6 545.2h0M266.8 546.0h0M267.3 531.8h0M267.5 516.2h0M269.6 515.0h0M269.2 531.3h0M268.0 531.3h0M267.9 514.8h0M269.4 516.1h0M269.3 530.2h0M265.3 537.1h0M266.7 535.8h0M264.1 536.7h0M266.8 537.9h0M266.2 537.7h0M265.0 535.8h0M266.8 514.9h0M262.1 527.5h0M262.8 528.9h0M263.6 528.0h0M261.0 527.6h0M262.1 528.4h0M263.7 526.9h0M263.7 528.5h0M264.9 508.9h0M266.7 511.0h0M262.1 531.2h0M267.8 510.9h0M269.3 510.0h0M261.4 530.2h0M270.0 508.8h0M268.3 510.4h0M267.4 508.9h0M268.9 508.5h0M267.6 510.5h0M263.8 531.5h0M261.9 530.2h0M263.5 530.3h0M267.9 510.1h0M266.9 540.0h0M264.1 526.1h0M264.9 540.7h0M266.5 540.1h0M264.9 538.7h0M265.9 538.9h0M266.1 539.8h0M265.8 523.4h0M265.5 540.7h0M264.1 525.1h0M266.2 541.4h0M270.0 512.4h0M267.4 513.6h0M267.7 514.0h0M265.9 512.3h0M266.5 511.7h0M264.3 514.1h0M265.4 513.9h0M265.6 514.1h0M264.4 535.1h0M264.2 533.6h0M265.3 532.4h0M264.1 527.8h0M266.5 527.7h0M264.3 527.6h0M266.8 526.4h0M266.7 527.6h0M266.3 530.7h0M267.0 530.1h0M264.5 531.0h0M265.5 531.5h0M264.2 531.9h0M627.0 565.6h0M627.9 650.8h0M629.2 704.2h0M623.7 699.7h0M625.1 651.0h0M623.3 688.1h0M627.6 661.7h0M626.5 659.8h0M629.9 658.2h0M629.1 658.6h0M627.3 660.7h0M630.5 648.3h0M622.6 644.6h0M622.7 637.3h0M626.8 670.7h0M625.3 619.1h0M625.9 664.6h0M628.4 613.8h0M626.9 605.1h0M629.4 681.3h0M627.8 626.7h0M629.8 633.3h0M629.1 685.7h0M625.8 613.6h0M626.2 615.0h0M624.2 639.9h0M628.3 688.0h0M623.0 641.2h0M625.0 678.8h0M627.9 570.6h0M629.8 635.2h0M630.3 633.8h0M630.4 701.6h0M628.8 701.4h0M629.1 629.1h0M629.8 628.7h0M627.9 637.8h0M628.3 637.2h0M627.8 636.6h0M627.5 638.0h0M628.7 637.4h0M628.1 584.3h0M625.1 602.4h0M626.3 603.6h0M627.2 601.9h0M625.2 602.8h0M627.2 601.1h0M628.7 692.1h0M628.2 691.0h0M625.2 583.0h0M627.0 584.4h0M624.5 584.4h0M624.6 583.0h0M626.7 582.9h0M625.4 684.3h0M627.2 684.4h0M627.0 682.1h0M627.0 682.8h0M624.7 683.0h0M628.3 640.4h0M629.6 641.7h0M627.9 640.2h0M629.5 641.1h0M628.9 641.6h0M627.0 630.9h0M626.9 631.9h0M626.3 633.5h0M627.2 633.5h0M625.8 626.9h0M625.0 626.9h0M626.1 626.3h0M624.8 600.2h0M625.1 600.4h0M626.3 600.2h0M626.8 600.3h0M627.1 685.2h0M627.3 687.1h0M625.2 684.7h0M627.1 635.6h0M626.8 684.7h0M624.8 643.9h0M626.3 643.2h0M627.2 572.0h0M626.2 645.2h0M626.6 572.6h0M629.4 695.2h0M629.4 580.9h0M628.3 698.0h0M630.0 579.9h0M629.3 698.2h0M627.6 582.0h0M629.6 697.3h0M629.3 579.6h0M627.9 579.8h0M627.9 580.2h0M628.6 697.6h0M630.1 582.1h0M625.8 687.6h0M626.6 690.2h0M627.2 690.0h0M626.4 688.9h0M624.6 582.6h0M625.2 581.7h0M626.5 579.8h0M628.2 575.1h0M629.0 574.5h0M626.4 628.6h0M626.6 629.6h0M626.6 627.6h0M625.1 629.5h0M626.8 628.5h0M626.6 630.0h0M626.6 700.9h0M627.2 700.9h0M627.3 700.4h0M626.9 701.6h0M624.9 700.7h0M627.2 638.8h0M627.2 637.7h0M625.6 639.4h0M626.9 639.0h0M625.4 637.6h0M625.4 638.1h0M626.4 638.7h0M626.1 692.0h0M629.1 577.5h0M628.8 577.3h0M627.7 577.7h0M627.8 579.0h0M627.4 574.5h0M627.0 574.8h0M627.4 577.2h0M627.2 577.4h0M625.5 575.0h0M626.5 642.6h0M626.0 639.7h0M627.1 641.4h0M624.6 640.6h0M625.7 699.2h0M625.2 698.0h0M625.6 695.5h0M626.3 696.3h0M997.6 581.6h0M994.9 637.1h0M989.6 588.5h0M996.0 658.7h0M991.7 682.4h0M994.4 577.7h0M992.3 579.1h0M991.9 579.8h0M990.6 591.9h0M995.0 641.3h0M990.2 620.0h0M997.1 641.2h0M994.6 641.4h0M992.3 674.2h0M991.2 624.1h0M989.3 624.8h0M990.9 623.5h0M997.3 622.9h0M994.1 672.7h0M993.1 670.8h0M993.7 672.4h0M996.0 614.8h0M996.9 585.6h0M996.4 584.7h0M995.2 584.4h0M995.8 584.6h0M994.9 585.8h0M992.3 669.0h0M991.9 667.2h0M993.6 667.5h0M993.4 669.5h0M993.0 667.3h0M993.7 669.9h0M992.0 667.5h0M992.6 665.7h0M993.6 665.5h0M992.8 666.3h0M992.7 639.6h0M993.2 638.2h0M993.9 611.8h0M992.2 611.8h0M993.8 612.9h0M992.6 646.0h0M993.9 646.8h0M992.8 647.2h0M994.3 646.1h0M994.1 646.3h0M993.0 648.2h0M993.0 647.9h0M993.1 651.5h0M993.3 651.2h0M993.1 649.5h0M993.0 650.5h0M994.5 651.6h0M993.9 649.9h0M993.1 650.7h0M996.5 587.8h0M995.6 587.6h0M993.9 643.5h0M994.2 643.8h0M995.2 620.4h0M995.5 620.5h0M994.9 619.1h0M996.8 620.5h0M996.4 620.6h0M994.9 621.2h0M996.0 620.1h0M993.6 580.9h0M994.0 582.7h0M994.4 581.6h0M992.1 626.7h0M991.8 597.8h0M993.6 627.5h0M993.8 627.3h0M993.5 625.9h0M994.2 596.6h0M993.7 595.1h0M992.6 626.0h0M992.3 626.9h0M992.0 627.1h0M996.2 618.6h0M994.2 662.3h0M996.3 617.3h0M993.2 661.9h0M994.6 661.7h0M995.0 592.9h0M996.0 593.7h0M996.7 592.1h0M992.8 655.0h0M993.1 653.4h0M992.0 653.2h0M993.2 653.2h0M993.1 652.2h0M993.8 653.7h0M993.5 642.6h0M991.8 642.4h0M993.9 642.0h0M992.2 642.3h0M994.4 640.7h0M992.0 640.8h0M994.1 640.5h0M993.2 614.1h0M991.9 613.6h0M996.7 590.6h0M994.7 590.1h0M993.8 659.1h0M991.7 658.2h0M993.6 660.7h0M992.4 658.9h0M991.9 660.2h0M992.1 660.9h0M993.7 655.2h0M992.0 657.5h0M992.7 656.3h0M992.4 585.0h0M994.0 583.4h0M994.5 584.2h0M992.5 584.5h0M992.4 583.2h0M992.7 618.2h0M993.6 618.1h0M992.7 625.0h0M992.1 594.4h0M993.5 593.4h0M991.7 589.7h0M262.1 1401.7h0M264.6 1403.1h0M260.4 1422.9h0M261.2 1465.6h0M260.3 1453.1h0M260.9 1455.3h0M261.6 1457.8h0M1187.3 1831.2h0M1186.5 1826.4h0M1186.3 1626.1h0M1188.2 1802.5h0M1187.8 1737.9h0M1187.1 1622.9h0M1187.2 1686.7h0M1186.5 1674.1h0M1186.8 1798.1h0M1188.2 1702.1h0M1189.5 1663.6h0M1188.4 1706.1h0M985.7 1720.7h0M992.5 1637.5h0M1005.1 1738.8h0M1005.4 1697.4h0M958.6 1828.4h0M998.9 1674.0h0M985.1 1734.7h0M991.3 1681.2h0M1002.4 1724.4h0M984.7 1816.4h0M998.8 1677.3h0M998.4 1837.7h0M988.2 1822.9h0M1000.4 1799.6h0M998.1 1801.0h0M998.4 1713.8h0M998.7 1680.6h0M998.5 1722.8h0M992.3 1829.9h0M992.9 1829.2h0M1003.7 1769.9h0M1000.7 1744.1h0M1003.6 1762.5h0M994.2 1839.5h0M992.1 1837.8h0M987.9 1753.7h0M990.7 1820.0h0M997.1 1682.1h0M992.6 1689.4h0M993.6 1725.6h0M992.6 1725.3h0M991.4 1713.1h0M994.0 1796.8h0M991.8 1710.9h0M998.4 1791.0h0M1000.8 1690.1h0M995.2 1813.2h0M991.6 1762.0h0M990.9 1754.6h0M997.8 1690.2h0M997.5 1734.7h0M994.6 1708.1h0M995.5 1734.5h0M990.7 1744.5h0M991.4 1699.2h0M990.9 1698.2h0M990.1 1699.5h0M999.4 1786.4h0M992.5 1811.9h0M994.9 1734.3h0M994.9 1777.6h0M992.1 1804.2h0M995.5 1786.7h0M995.6 1784.6h0M996.0 1785.0h0M996.3 1696.8h0M995.1 1694.0h0M989.9 1738.4h0M992.3 1773.0h0M993.7 1773.2h0M994.8 1769.9h0M998.6 1768.7h0M995.1 1770.0h0M995.4 1741.4h0M990.0 1740.5h0M993.9 1742.3h0M994.1 1759.4h0M994.6 1767.0h0M994.1 1767.0h0M998.8 1763.3h0M1000.0 1763.2h0M997.2 1702.4h0M993.1 1705.6h0M996.2 1736.2h0M997.0 1736.0h0M992.9 1704.2h0M992.5 1763.6h0M994.4 1765.3h0M994.8 1765.1h0M995.8 1697.4h0M996.5 1698.6h0M994.0 1761.8h0M992.6 1760.6h0M993.5 1738.4h0M992.9 1736.6h0M994.5 1740.8h0M994.4 1697.1h0M994.5 1699.5h0M992.4 1697.0h0M996.2 1768.7h0M995.6 1762.7h0M997.8 1762.2h0M995.9 1761.2h0M997.6 1764.4h0M996.6 1764.1h0M997.2 1765.1h0M264.1 2189.0h0M262.1 2189.0h0M262.7 2190.2h0M262.5 2189.8h0M262.6 2188.9h0M263.6 2190.7h0M260.5 2188.6h0M258.8 2190.6h0M260.0 2189.0h0M260.3 2194.3h0M259.9 2193.2h0M260.8 2193.4h0M259.1 2193.6h0M259.6 2194.1h0M260.3 2193.2h0M260.9 2193.6h0M262.7 2191.7h0M262.2 2193.3h0M262.7 2191.9h0M263.9 2191.3h0M263.3 2193.0h0M262.5 2193.1h0M262.1 2193.9h0M261.5 2193.6h0M630.7 2197.3h0M624.4 2193.1h0M621.7 2200.1h0M622.0 2199.3h0M622.8 2198.2h0M623.4 2198.2h0M625.1 2201.8h0M625.2 2201.8h0M625.7 2202.1h0M624.2 2201.5h0M626.5 2203.3h0M624.8 2200.9h0M625.3 2203.8h0M626.7 2203.7h0M625.0 2203.5h0M629.1 2198.6h0M628.0 2200.4h0M628.8 2198.5h0M628.5 2199.4h0M628.4 2200.9h0M627.8 2193.9h0M627.4 2192.8h0M629.0 2193.7h0M629.2 2192.4h0M628.4 2194.8h0M627.0 2199.1h0M627.4 2195.7h0M627.6 2195.7h0M628.1 2196.7h0M625.7 2195.1h0M624.3 2196.2h0M626.0 2195.9h0M626.7 2195.1h0M990.5 2205.4h0M989.7 2204.1h0M984.2 2193.0h0M995.6 2193.2h0M985.9 2200.4h0M983.9 2202.5h0M986.5 2200.7h0M988.7 2194.0h0M987.1 2192.1h0M989.6 2192.8h0M989.9 2193.3h0M990.1 2193.7h0M989.6 2193.3h0M991.0 2194.2h0M992.0 2192.4h0M994.5 2195.5h0M993.6 2197.2h0M993.6 2194.6h0M993.8 2196.4h0M983.6 2195.6h0M985.9 2197.2h0M984.1 2196.2h0M986.3 2195.0h0M984.5 2196.2h0M985.6 2195.5h0M993.0 2199.8h0M993.5 2198.0h0M993.8 2197.6h0M994.2 2199.4h0M994.0 2197.9h0M993.3 2197.5h0M994.4 2198.9h0M994.3 2197.3h0M995.0 2197.4h0M985.5 2198.0h0M986.2 2197.6h0M986.0 2200.2h0M986.3 2199.9h0M984.6 2198.5h0M986.5 2197.8h0M990.1 2201.9h0M992.2 2201.8h0M992.3 2203.0h0M990.9 2202.6h0M991.4 2202.4h0M987.3 2200.9h0M987.2 2201.7h0M989.0 2201.9h0M988.9 2195.8h0M988.4 2196.1h0M988.3 2195.1h0M991.2 2196.2h0M986.9 2198.6h0M992.2 2198.6h0"/>
<path stroke="#a0ff00" stroke-width="1.45" d="M258.0 260.6h0M262.6 249.4h0M263.6 255.3h0M255.8 258.7h0M257.2 256.7h0M257.5 256.4h0M258.3 250.7h0M261.0 250.1h0M260.3 253.6h0M260.2 254.8h0M626.7 261.4h0M627.8 258.5h0M623.9 253.9h0M625.2 253.9h0M622.4 253.0h0M622.6 262.5h0M623.7 262.0h0M624.9 262.6h0M623.9 256.2h0M624.4 256.8h0M623.3 257.2h0M623.1 256.7h0M624.3 255.5h0M622.4 260.2h0M624.1 258.8h0M991.3 253.2h0M993.4 246.4h0M993.2 254.5h0M993.5 248.7h0M993.9 250.2h0M993.4 248.3h0M992.2 253.4h0M993.3 252.8h0M992.0 253.3h0M626.6 578.6h0M625.1 696.7h0M992.3 663.8h0M993.7 613.3h0M995.3 589.1h0M993.8 660.3h0M992.8 659.8h0M992.7 584.8h0M993.8 619.0h0M992.7 624.2h0M992.2 621.7h0M992.9 594.8h0M993.0 590.9h0M992.7 590.6h0M631.5 1448.6h0M626.5 1452.1h0M629.0 1455.7h0M630.1 1454.7h0M630.4 1451.9h0M986.9 1454.2h0M996.8 1806.2h0M995.0 1813.9h0M992.1 1766.7h0M992.4 1768.4h0M627.8 2192.5h0M626.2 2197.9h0M626.5 2199.7h0M629.4 2196.0h0M986.3 2195.3h0M985.0 2199.4h0M991.5 2202.3h0M990.7 2201.0h0M991.0 2202.0h0M986.8 2201.0h0M987.9 2202.1h0M988.0 2201.4h0M989.4 2201.1h0M988.4 2201.8h0M986.7 2200.6h0M987.5 2200.4h0M988.5 2197.1h0M989.3 2195.7h0M988.7 2196.3h0M991.9 2195.4h0M992.4 2196.9h0M988.6 2199.8h0M991.5 2199.5h0M991.3 2198.3h0M991.2 2198.5h0"/>
<path stroke="#ffe000" stroke-width="1.45" d="M263.5 259.2h0M262.8 249.9h0M263.2 250.5h0M257.8 249.1h0M263.8 251.1h0M256.5 257.4h0M256.2 251.5h0M257.9 253.9h0M257.7 256.4h0M256.4 255.9h0M255.8 255.2h0M256.6 255.7h0M259.6 259.1h0M259.9 259.7h0M260.1 258.3h0M258.7 249.2h0M260.8 248.6h0M258.3 250.2h0M259.8 249.8h0M261.3 248.4h0M258.4 253.1h0M260.2 256.2h0M261.1 254.3h0M259.5 254.3h0M625.4 254.2h0M626.7 255.3h0M624.6 252.7h0M624.1 253.8h0M624.1 253.3h0M624.9 253.7h0M622.8 253.3h0M625.0 253.1h0M623.6 254.0h0M623.5 261.9h0M622.4 260.9h0M625.2 262.7h0M623.1 262.4h0M623.6 262.4h0M625.1 261.3h0M622.9 262.4h0M624.1 257.4h0M622.8 255.4h0M623.7 256.4h0M622.4 256.2h0M622.6 256.8h0M624.3 260.2h0M624.6 258.0h0M623.8 259.2h0M997.0 254.8h0M995.6 256.3h0M989.7 253.5h0M995.4 254.2h0M995.1 251.8h0M995.4 252.2h0M993.3 247.5h0M993.9 245.7h0M993.8 247.5h0M993.1 256.4h0M991.9 249.8h0M993.5 250.4h0M992.7 252.7h0M992.2 252.7h0M626.6 628.8h0M624.9 693.3h0M627.3 576.5h0M626.5 577.5h0M624.6 576.2h0M625.2 642.1h0M625.7 642.3h0M626.0 697.1h0M624.8 699.4h0M624.8 694.8h0M626.9 694.0h0M626.0 696.2h0M992.5 597.3h0M997.1 593.4h0M992.6 654.3h0M992.6 613.7h0M991.6 615.7h0M995.7 591.0h0M994.1 660.4h0M993.5 657.5h0M993.4 655.7h0M993.9 585.7h0M991.8 583.4h0M993.5 617.5h0M991.6 616.2h0M992.3 616.2h0M992.1 619.0h0M991.7 622.7h0M991.8 622.8h0M992.0 623.4h0M992.7 624.8h0M993.0 619.9h0M992.2 620.2h0M991.7 589.0h0M993.3 586.0h0M993.9 587.2h0M992.1 588.1h0M993.6 593.5h0M993.5 592.5h0M992.2 593.3h0M993.8 592.9h0M994.3 592.4h0M993.9 592.8h0M993.8 590.5h0M993.2 589.4h0M629.7 1428.2h0M630.8 1395.4h0M627.1 1454.7h0M628.5 1453.3h0M631.0 1456.6h0M629.7 1456.9h0M992.6 1472.9h0M986.3 1454.7h0M986.7 1451.2h0M990.2 1452.2h0M455.9 1851.6h0M453.9 1753.7h0M453.4 1715.0h0M454.5 1758.5h0M456.8 1751.3h0M454.3 1751.1h0M456.9 1716.5h0M455.3 1802.1h0M453.2 1708.7h0M454.6 1712.9h0M457.3 1623.1h0M456.4 1806.3h0M455.4 1717.4h0M453.4 1723.5h0M455.1 1727.9h0M453.6 1791.9h0M452.9 1798.3h0M458.2 1681.8h0M453.6 1811.1h0M455.7 1723.0h0M454.9 1733.8h0M453.4 1835.5h0M454.2 1792.8h0M454.6 1792.4h0M453.5 1698.4h0M455.4 1626.6h0M456.8 1736.7h0M454.3 1735.8h0M454.6 1735.8h0M456.3 1621.0h0M456.1 1666.6h0M455.9 1655.8h0M456.0 1831.2h0M453.9 1641.5h0M454.2 1831.3h0M455.1 1684.3h0M452.4 1780.4h0M455.7 1783.8h0M454.6 1785.2h0M455.5 1765.0h0M455.5 1763.8h0M453.3 1643.3h0M456.3 1707.8h0M454.6 1706.9h0M454.1 1692.7h0M455.7 1639.5h0M456.1 1700.2h0M454.7 1782.5h0M454.5 1705.1h0M455.6 1648.4h0M455.4 1648.3h0M454.8 1766.5h0M455.0 1774.2h0M455.3 1769.3h0M455.9 1773.5h0M454.9 1769.4h0M454.4 1769.8h0M627.1 1691.8h0M631.4 1684.2h0M632.0 1758.1h0M621.5 1806.3h0M617.0 1723.2h0M624.0 1825.9h0M629.5 1806.3h0M626.4 1707.2h0M628.3 1752.3h0M627.6 1703.5h0M623.4 1716.0h0M625.8 1785.6h0M629.2 1742.0h0M624.0 1801.2h0M629.9 1731.1h0M622.9 1722.0h0M623.9 1719.7h0M627.9 1732.8h0M1186.6 1641.5h0M1186.4 1652.7h0M1187.9 1716.9h0M1187.5 1815.8h0M1188.6 1643.0h0M1188.4 1658.5h0M1185.7 1695.2h0M1186.9 1747.4h0M1187.8 1664.5h0M1186.6 1797.1h0M1186.0 1697.5h0M997.9 1700.7h0M994.0 1705.4h0M993.6 1701.8h0M994.4 1761.0h0M625.7 2202.7h0M628.0 2196.7h0M626.8 2195.8h0M992.9 2198.5h0M984.0 2197.9h0M985.1 2200.0h0M991.7 2201.8h0M990.4 2201.6h0M991.2 2200.9h0M986.6 2201.4h0M989.3 2200.7h0M990.8 2196.7h0M990.7 2194.4h0M990.5 2195.4h0M991.2 2194.7h0M992.2 2196.5h0M991.5 2194.3h0M990.4 2196.2h0M988.8 2198.8h0M988.6 2197.4h0M989.4 2199.3h0M991.5 2198.4h0M991.3 2197.9h0M990.4 2200.1h0"/>
<path stroke="#ff9000" stroke-width="1.45" d="M262.8 242.0h0M255.6 245.4h0M262.5 259.2h0M259.7 247.8h0M261.8 254.4h0M255.8 257.5h0M256.9 254.7h0M257.0 255.8h0M257.2 256.4h0M256.7 254.9h0M260.1 257.4h0M259.3 248.8h0M260.4 249.3h0M258.7 250.1h0M258.6 249.0h0M259.4 249.4h0M259.7 252.8h0M261.1 252.1h0M259.4 252.1h0M258.8 251.7h0M259.1 252.9h0M260.0 253.8h0M260.0 254.3h0M259.3 256.8h0M260.2 256.5h0M259.7 255.8h0M258.7 255.1h0M260.9 256.2h0M628.1 259.9h0M622.3 252.2h0M623.2 254.4h0M623.8 261.8h0M624.8 255.9h0M623.8 255.8h0M622.4 257.0h0M623.4 257.5h0M622.3 258.8h0M622.5 260.4h0M622.9 258.2h0M623.8 259.4h0M623.8 258.4h0M624.1 259.4h0M623.9 258.7h0M624.4 260.2h0M995.5 252.1h0M996.7 251.8h0M994.2 255.6h0M992.0 255.1h0M994.3 255.7h0M994.5 255.3h0M993.8 248.7h0M993.0 249.6h0M993.7 251.0h0M992.9 250.8h0M993.4 249.1h0M992.4 250.4h0M994.5 252.7h0M992.5 252.8h0M992.0 253.4h0M993.1 253.8h0M996.3 591.0h0M994.0 657.4h0M992.8 619.7h0M993.9 587.0h0M992.1 594.3h0M991.8 590.9h0M993.3 590.3h0M986.4 1453.8h0M987.8 1466.9h0M988.6 1464.4h0M994.1 1453.4h0M992.1 1451.3h0M987.4 1456.8h0M988.7 1455.8h0M987.5 1455.0h0M988.3 1454.9h0M992.1 1452.6h0M455.9 1846.5h0M453.8 1845.9h0M455.3 1747.8h0M453.9 1673.3h0M454.1 1744.7h0M452.3 1825.1h0M455.9 1628.8h0M454.5 1636.3h0M453.9 1724.6h0M457.2 1698.0h0M453.8 1796.3h0M454.9 1724.0h0M454.8 1796.1h0M452.4 1653.6h0M455.0 1675.3h0M454.4 1677.0h0M455.6 1838.5h0M452.6 1684.7h0M456.5 1740.4h0M455.7 1619.4h0M454.8 1667.2h0M453.9 1665.8h0M455.5 1813.8h0M454.6 1814.5h0M456.1 1656.3h0M454.9 1623.5h0M456.3 1622.1h0M454.9 1836.3h0M453.6 1641.5h0M454.5 1829.2h0M455.4 1813.2h0M454.8 1811.0h0M454.8 1698.5h0M455.5 1682.2h0M454.8 1783.7h0M456.6 1689.4h0M455.4 1708.0h0M454.4 1663.8h0M455.9 1665.1h0M455.4 1701.8h0M455.5 1699.4h0M454.7 1661.6h0M455.4 1662.1h0M453.4 1775.7h0M454.3 1643.2h0M453.8 1767.9h0M456.0 1648.3h0M454.8 1646.5h0M455.9 1777.8h0M455.1 1776.3h0M455.0 1774.3h0M631.7 1852.2h0M630.7 1645.2h0M633.3 1843.6h0M631.6 1740.6h0M631.2 1811.8h0M621.4 1710.7h0M628.5 1836.3h0M631.1 1784.9h0M621.6 1740.5h0M625.8 1702.3h0M624.2 1787.1h0M627.0 1806.9h0M627.6 1785.9h0M630.4 1738.1h0M629.9 1725.8h0M628.2 1770.9h0M627.0 1801.7h0M627.5 1802.8h0M624.4 1722.4h0M627.6 1731.1h0M1185.8 1731.6h0M1190.2 1628.3h0M1187.0 1687.8h0M1187.5 1692.8h0M1189.8 1692.5h0M1189.6 1774.3h0M1187.8 1738.5h0M1186.4 1741.0h0M1186.7 1695.4h0M1187.7 1798.5h0M1186.6 1758.9h0M1188.5 1751.1h0M1186.5 1761.2h0M1185.3 1707.8h0M1188.3 1765.6h0M993.0 1696.5h0M989.4 1739.4h0M992.1 1703.3h0M995.7 1737.0h0M994.7 1698.2h0M992.9 1697.3h0M996.9 1761.8h0M995.9 1762.2h0M995.6 1763.9h0M996.6 1765.2h0M626.6 2198.4h0M629.2 2197.2h0M624.6 2196.3h0M988.9 2195.5h0M990.1 2196.6h0M991.0 2195.8h0M992.4 2196.9h0M988.0 2198.5h0M989.3 2199.5h0M987.8 2198.1h0M991.9 2199.8h0M991.4 2198.6h0M991.5 2198.9h0M990.2 2198.7h0"/>
<path stroke="#ff2000" stroke-width="1.45" d="M257.9 250.1h0M256.3 248.5h0M261.5 253.8h0M256.5 257.6h0M257.5 258.6h0M255.8 251.6h0M255.5 252.5h0M255.5 253.0h0M258.2 256.4h0M255.7 255.9h0M255.8 254.1h0M256.9 255.4h0M255.5 255.7h0M255.6 256.1h0M260.1 258.4h0M261.2 259.1h0M260.0 258.6h0M259.1 258.1h0M259.0 258.2h0M260.5 259.7h0M260.3 259.2h0M259.7 250.1h0M258.3 248.7h0M258.8 249.6h0M259.1 249.6h0M261.0 251.5h0M259.4 252.4h0M258.7 253.6h0M261.2 252.1h0M260.3 251.6h0M260.3 251.3h0M260.4 251.3h0M259.3 252.3h0M260.0 252.9h0M259.1 256.4h0M259.2 255.1h0M259.9 254.5h0M259.3 256.1h0M260.7 255.9h0M625.3 260.7h0M623.6 252.6h0M624.1 262.8h0M623.9 261.4h0M623.8 263.2h0M623.5 256.7h0M623.5 255.6h0M625.1 257.3h0M624.0 254.9h0M622.9 255.3h0M623.8 260.1h0M624.4 258.2h0M624.1 260.0h0M624.0 260.0h0M624.3 260.1h0M623.1 258.0h0M624.7 258.4h0M623.4 257.7h0M625.0 260.5h0M623.1 259.5h0M623.5 260.2h0M624.0 258.7h0M623.1 259.4h0M623.3 258.7h0M625.2 260.6h0M989.7 251.9h0M990.1 253.8h0M993.1 245.5h0M993.8 248.3h0M992.3 254.7h0M994.1 256.2h0M993.4 255.4h0M992.4 248.4h0M992.0 250.7h0M991.6 250.2h0M992.7 250.9h0M991.7 252.8h0M991.8 253.9h0M991.8 253.8h0M994.1 252.3h0M994.5 252.0h0M991.7 252.3h0M992.6 253.0h0M992.0 252.6h0M993.3 252.8h0M991.7 252.0h0M993.9 252.4h0M993.0 583.9h0M993.8 583.5h0M994.2 618.9h0M993.1 616.1h0M992.4 624.7h0M992.7 622.4h0M992.8 588.4h0M992.4 587.1h0M993.7 591.3h0M993.1 590.3h0M989.9 1471.1h0M989.8 1471.5h0M994.6 1450.0h0M987.9 1465.0h0M991.2 1446.5h0M990.0 1450.0h0M987.5 1454.0h0M455.2 1716.3h0M455.6 1843.6h0M456.5 1741.5h0M453.6 1834.7h0M455.7 1739.0h0M456.8 1816.4h0M455.2 1808.1h0M454.5 1791.6h0M455.9 1789.4h0M454.9 1814.2h0M453.2 1641.1h0M456.8 1683.0h0M455.3 1683.1h0M455.8 1707.0h0M454.4 1690.8h0M454.3 1661.5h0M452.3 1765.9h0M453.4 1767.4h0M454.9 1650.9h0M454.6 1777.7h0M456.3 1766.0h0M629.9 1861.8h0M618.5 1769.4h0M623.5 1677.9h0M622.1 1753.0h0M632.1 1843.8h0M618.3 1728.8h0M622.3 1769.6h0M622.2 1768.4h0M628.6 1850.0h0M632.2 1738.1h0M621.8 1784.0h0M629.4 1713.8h0M621.8 1795.8h0M627.2 1711.4h0M629.6 1803.1h0M626.5 1823.2h0M624.1 1795.4h0M626.8 1744.0h0M626.4 1775.0h0M628.0 1774.1h0M625.9 1764.1h0M624.3 1738.2h0M626.1 1739.2h0M628.3 1732.1h0M625.6 1733.7h0M626.7 1733.7h0M992.6 1809.4h0M994.9 1703.5h0M994.0 1704.1h0M996.6 1737.1h0M996.1 1758.5h0M997.5 1758.3h0M995.8 1698.5h0M994.6 1738.8h0M993.7 1738.0h0M993.2 1736.8h0M994.6 1741.6h0M994.8 1739.5h0M996.2 1768.5h0M996.5 1762.0h0M996.7 1761.6h0M996.1 1762.6h0M995.4 1762.2h0M996.5 1765.1h0M628.6 2193.3h0M627.1 2196.8h0M625.5 2196.1h0M626.0 2195.1h0M624.8 2196.5h0M988.6 2195.1h0M988.3 2194.4h0M990.1 2194.9h0M992.5 2196.5h0M989.0 2200.1h0M987.8 2198.7h0M988.0 2198.5h0M988.8 2200.3h0M988.0 2197.5h0M991.4 2198.5h0M990.2 2197.9h0M990.9 2197.6h0M991.5 2198.1h0"/>
</g>
<g style="filter:grayscale(1)">
<text transform="translate(251.61 25.27) scale(1 1.07)" font-size="31.3" font-weight="bold" fill="#231f20">PBS</text>
<text transform="translate(620.21 25.27) scale(1 1.07)" font-size="31.3" font-weight="bold" fill="#231f20">MS1</text>
<text transform="translate(953.11 25.27) scale(1 1.07)" font-size="31.3" font-weight="bold" fill="#231f20">H2.1MS1</text>
<text transform="translate(3.63 53.46) scale(0.95 1.1)" font-size="31.3" font-weight="bold" fill="#231f20">a</text>
<rect x="99.5" y="74.2" width="5" height="251" fill="#000"/>
<polygon points="102,52.4 90.2,75.2 113.8,75.2" fill="#000"/>
<rect x="101.5" y="378.1" width="1078.5" height="5" fill="#000"/>
<polygon points="1200.6,380.6 1178.2,368.6 1178.2,392.6" fill="#000"/>
<text transform="translate(99.51 414.4) scale(1 1.04)" font-size="31.3" font-weight="bold" fill="#231f20">FITC (CD3)</text>
<text transform="translate(26.93 329.88) rotate(-90) scale(1 1.04)" font-size="31.3" font-weight="bold" fill="#231f20">CD4+</text>
<text transform="translate(75.99 329.79) rotate(-90) scale(1 1.04)" font-size="31.3" font-weight="bold" fill="#231f20">PE (CD4)</text>
<rect x="195" y="52.7" width="271.6" height="271.6" fill="none" stroke="#000" stroke-width="5.4"/>
<rect x="271.6" y="50" width="5.4" height="277" fill="#000"/>
<rect x="192.3" y="184.3" width="277" height="5.4" fill="#000"/>
<text x="387.29" y="85.1" font-size="28" class="r" fill="#231f20">14.2</text>
<text class="r" x="150.91" y="91.83" font-size="19" fill="#1a1a1a">10<tspan dy="-15">5</tspan></text>
<text class="r" x="150.91" y="157.2" font-size="19" fill="#1a1a1a">10<tspan dy="-15">4</tspan></text>
<text class="r" x="150.91" y="232.27" font-size="19" fill="#1a1a1a">10<tspan dy="-15">3</tspan></text>
<text x="161.48" y="273.28" font-size="19" class="r" fill="#1a1a1a">0</text>
<text class="r" x="146.88" y="321.74" font-size="19" fill="#1a1a1a">-10<tspan dy="-15">3</tspan></text>
<text class="r" x="202.81" y="361.6" font-size="19" fill="#1a1a1a">-10<tspan dy="-15">3</tspan></text>
<text x="253.61" y="361.61" font-size="19" class="r" fill="#1a1a1a">0</text>
<text class="r" x="295.28" y="361.6" font-size="19" fill="#1a1a1a">10<tspan dy="-15">3</tspan></text>
<text class="r" x="369.52" y="361.6" font-size="19" fill="#1a1a1a">10<tspan dy="-15">4</tspan></text>
<text class="r" x="434.89" y="361.6" font-size="19" fill="#1a1a1a">10<tspan dy="-15">5</tspan></text>
<rect x="561.9" y="53.4" width="272.9" height="272.9" fill="none" stroke="#000" stroke-width="5.4"/>
<rect x="639.1" y="50.7" width="5.4" height="278.3" fill="#000"/>
<rect x="559.2" y="185.3" width="278.3" height="5.4" fill="#000"/>
<text x="754.03" y="84.83" font-size="28" class="r" fill="#231f20">8.61</text>
<text class="r" x="517.81" y="92.72" font-size="19" fill="#1a1a1a">10<tspan dy="-15">5</tspan></text>
<text class="r" x="517.81" y="158.4" font-size="19" fill="#1a1a1a">10<tspan dy="-15">4</tspan></text>
<text class="r" x="517.81" y="233.82" font-size="19" fill="#1a1a1a">10<tspan dy="-15">3</tspan></text>
<text x="528.38" y="275.02" font-size="19" class="r" fill="#1a1a1a">0</text>
<text class="r" x="513.78" y="323.71" font-size="19" fill="#1a1a1a">-10<tspan dy="-15">3</tspan></text>
<text class="r" x="569.77" y="363.6" font-size="19" fill="#1a1a1a">-10<tspan dy="-15">3</tspan></text>
<text x="620.8" y="363.61" font-size="19" class="r" fill="#1a1a1a">0</text>
<text class="r" x="662.67" y="363.6" font-size="19" fill="#1a1a1a">10<tspan dy="-15">3</tspan></text>
<text class="r" x="737.26" y="363.6" font-size="19" fill="#1a1a1a">10<tspan dy="-15">4</tspan></text>
<text class="r" x="802.94" y="363.6" font-size="19" fill="#1a1a1a">10<tspan dy="-15">5</tspan></text>
<rect x="931.3" y="53" width="269.5" height="270.5" fill="none" stroke="#000" stroke-width="5.4"/>
<rect x="1007.1" y="50.3" width="5.4" height="275.9" fill="#000"/>
<rect x="928.6" y="184.3" width="274.9" height="5.4" fill="#000"/>
<text x="1123.11" y="83.73" font-size="28" class="r" fill="#231f20">8.29</text>
<text class="r" x="887.21" y="91.96" font-size="19" fill="#1a1a1a">10<tspan dy="-15">5</tspan></text>
<text class="r" x="887.21" y="157.07" font-size="19" fill="#1a1a1a">10<tspan dy="-15">4</tspan></text>
<text class="r" x="887.21" y="231.84" font-size="19" fill="#1a1a1a">10<tspan dy="-15">3</tspan></text>
<text x="897.78" y="272.69" font-size="19" class="r" fill="#1a1a1a">0</text>
<text class="r" x="883.18" y="320.96" font-size="19" fill="#1a1a1a">-10<tspan dy="-15">3</tspan></text>
<text class="r" x="939.03" y="360.8" font-size="19" fill="#1a1a1a">-10<tspan dy="-15">3</tspan></text>
<text x="989.44" y="360.81" font-size="19" class="r" fill="#1a1a1a">0</text>
<text class="r" x="1030.79" y="360.8" font-size="19" fill="#1a1a1a">10<tspan dy="-15">3</tspan></text>
<text class="r" x="1104.46" y="360.8" font-size="19" fill="#1a1a1a">10<tspan dy="-15">4</tspan></text>
<text class="r" x="1169.34" y="360.8" font-size="19" fill="#1a1a1a">10<tspan dy="-15">5</tspan></text>
<text transform="translate(1.14 438.79) scale(1 1.03)" font-size="31.3" font-weight="bold" fill="#231f20">b</text>
<rect x="99.5" y="462.2" width="5" height="251" fill="#000"/>
<polygon points="102,441.8 90.2,463.2 113.8,463.2" fill="#000"/>
<rect x="101.5" y="765.9" width="1078.5" height="5" fill="#000"/>
<polygon points="1200.6,768.4 1178.2,756.4 1178.2,780.4" fill="#000"/>
<text transform="translate(99.51 801.6) scale(1 1.04)" font-size="31.3" font-weight="bold" fill="#231f20">FITC (CD3)</text>
<text transform="translate(26.93 716.28) rotate(-90) scale(1 1.04)" font-size="31.3" font-weight="bold" fill="#231f20">CD8+</text>
<text transform="translate(75.99 717.09) rotate(-90) scale(1 1.04)" font-size="31.3" font-weight="bold" fill="#231f20">PeCy7-A (CD19)</text>
<rect x="197.7" y="441.9" width="269.5" height="268.6" fill="none" stroke="#000" stroke-width="5.4"/>
<rect x="274.9" y="439.2" width="5.4" height="274" fill="#000"/>
<rect x="195" y="556.3" width="274.9" height="5.4" fill="#000"/>
<text x="386.93" y="473.33" font-size="28" class="r" fill="#231f20">9.51</text>
<text class="r" x="153.61" y="480.57" font-size="19" fill="#1a1a1a">10<tspan dy="-15">5</tspan></text>
<text class="r" x="153.61" y="545.24" font-size="19" fill="#1a1a1a">10<tspan dy="-15">4</tspan></text>
<text class="r" x="153.61" y="619.49" font-size="19" fill="#1a1a1a">10<tspan dy="-15">3</tspan></text>
<text x="164.18" y="660.06" font-size="19" class="r" fill="#1a1a1a">0</text>
<text class="r" x="149.58" y="707.99" font-size="19" fill="#1a1a1a">-10<tspan dy="-15">3</tspan></text>
<text class="r" x="205.43" y="747.8" font-size="19" fill="#1a1a1a">-10<tspan dy="-15">3</tspan></text>
<text x="255.84" y="747.81" font-size="19" class="r" fill="#1a1a1a">0</text>
<text class="r" x="297.19" y="747.8" font-size="19" fill="#1a1a1a">10<tspan dy="-15">3</tspan></text>
<text class="r" x="370.86" y="747.8" font-size="19" fill="#1a1a1a">10<tspan dy="-15">4</tspan></text>
<text class="r" x="435.74" y="747.8" font-size="19" fill="#1a1a1a">10<tspan dy="-15">5</tspan></text>
<rect x="564.2" y="441.3" width="270" height="269.8" fill="none" stroke="#000" stroke-width="5.4"/>
<rect x="641.3" y="438.6" width="5.4" height="275.2" fill="#000"/>
<rect x="561.5" y="556.6" width="275.4" height="5.4" fill="#000"/>
<text x="757.01" y="472.73" font-size="28" class="r" fill="#231f20">2.79</text>
<text class="r" x="520.11" y="480.16" font-size="19" fill="#1a1a1a">10<tspan dy="-15">5</tspan></text>
<text class="r" x="520.11" y="545.1" font-size="19" fill="#1a1a1a">10<tspan dy="-15">4</tspan></text>
<text class="r" x="520.11" y="619.68" font-size="19" fill="#1a1a1a">10<tspan dy="-15">3</tspan></text>
<text x="530.68" y="660.43" font-size="19" class="r" fill="#1a1a1a">0</text>
<text class="r" x="516.08" y="708.57" font-size="19" fill="#1a1a1a">-10<tspan dy="-15">3</tspan></text>
<text class="r" x="571.95" y="748.4" font-size="19" fill="#1a1a1a">-10<tspan dy="-15">3</tspan></text>
<text x="622.45" y="748.41" font-size="19" class="r" fill="#1a1a1a">0</text>
<text class="r" x="663.88" y="748.4" font-size="19" fill="#1a1a1a">10<tspan dy="-15">3</tspan></text>
<text class="r" x="737.69" y="748.4" font-size="19" fill="#1a1a1a">10<tspan dy="-15">4</tspan></text>
<text class="r" x="802.68" y="748.4" font-size="19" fill="#1a1a1a">10<tspan dy="-15">5</tspan></text>
<rect x="931.3" y="444.7" width="265.2" height="265.2" fill="none" stroke="#000" stroke-width="5.4"/>
<rect x="1007.1" y="442" width="5.4" height="270.6" fill="#000"/>
<rect x="928.6" y="557.3" width="270.6" height="5.4" fill="#000"/>
<text x="1117.53" y="476.4" font-size="28" class="r" fill="#231f20">4.17</text>
<text class="r" x="887.21" y="482.86" font-size="19" fill="#1a1a1a">10<tspan dy="-15">5</tspan></text>
<text class="r" x="887.21" y="546.72" font-size="19" fill="#1a1a1a">10<tspan dy="-15">4</tspan></text>
<text class="r" x="887.21" y="620.05" font-size="19" fill="#1a1a1a">10<tspan dy="-15">3</tspan></text>
<text x="897.78" y="660.12" font-size="19" class="r" fill="#1a1a1a">0</text>
<text class="r" x="883.18" y="707.46" font-size="19" fill="#1a1a1a">-10<tspan dy="-15">3</tspan></text>
<text class="r" x="938.85" y="747.2" font-size="19" fill="#1a1a1a">-10<tspan dy="-15">3</tspan></text>
<text x="988.47" y="747.21" font-size="19" class="r" fill="#1a1a1a">0</text>
<text class="r" x="1029.17" y="747.2" font-size="19" fill="#1a1a1a">10<tspan dy="-15">3</tspan></text>
<text class="r" x="1101.69" y="747.2" font-size="19" fill="#1a1a1a">10<tspan dy="-15">4</tspan></text>
<text class="r" x="1165.55" y="747.2" font-size="19" fill="#1a1a1a">10<tspan dy="-15">5</tspan></text>
<text transform="translate(2.38 824.39) scale(1 1.03)" font-size="31.3" font-weight="bold" fill="#231f20">c</text>
<rect x="99.5" y="846.8" width="5" height="253.7" fill="#000"/>
<polygon points="102,826.5 90.2,847.8 113.8,847.8" fill="#000"/>
<rect x="101.5" y="1149.9" width="1078.5" height="5" fill="#000"/>
<polygon points="1200.6,1152.4 1178.2,1140.4 1178.2,1164.4" fill="#000"/>
<text transform="translate(99.51 1189.3) scale(1 1.04)" font-size="31.3" font-weight="bold" fill="#231f20">PE (FOXP3)</text>
<text transform="translate(26.6 1102.65) rotate(-90) scale(1 1.04)" font-size="31.3" font-weight="bold" fill="#231f20">Treg</text>
<text transform="translate(75.99 1102.18) rotate(-90) scale(1 1.04)" font-size="31.3" font-weight="bold" fill="#231f20">APC (CD25)</text>
<rect x="197.7" y="831.9" width="267.2" height="267.2" fill="none" stroke="#000" stroke-width="5.4"/>
<rect x="374.1" y="829.2" width="5.4" height="272.6" fill="#000"/>
<rect x="195" y="969.1" width="272.6" height="5.4" fill="#000"/>
<text x="386.72" y="863.33" font-size="28" class="r" fill="#231f20">0.86</text>
<text class="r" x="153.61" y="870.36" font-size="19" fill="#1a1a1a">10<tspan dy="-15">5</tspan></text>
<text class="r" x="153.61" y="934.7" font-size="19" fill="#1a1a1a">10<tspan dy="-15">4</tspan></text>
<text class="r" x="153.61" y="1008.57" font-size="19" fill="#1a1a1a">10<tspan dy="-15">3</tspan></text>
<text x="164.18" y="1048.93" font-size="19" class="r" fill="#1a1a1a">0</text>
<text class="r" x="149.58" y="1096.62" font-size="19" fill="#1a1a1a">-10<tspan dy="-15">3</tspan></text>
<text class="r" x="205.33" y="1136.4" font-size="19" fill="#1a1a1a">-10<tspan dy="-15">3</tspan></text>
<text x="255.32" y="1136.41" font-size="19" class="r" fill="#1a1a1a">0</text>
<text class="r" x="296.32" y="1136.4" font-size="19" fill="#1a1a1a">10<tspan dy="-15">3</tspan></text>
<text class="r" x="369.38" y="1136.4" font-size="19" fill="#1a1a1a">10<tspan dy="-15">4</tspan></text>
<text class="r" x="433.71" y="1136.4" font-size="19" fill="#1a1a1a">10<tspan dy="-15">5</tspan></text>
<rect x="564.2" y="832.4" width="266.6" height="266.7" fill="none" stroke="#000" stroke-width="5.4"/>
<rect x="739.5" y="829.7" width="5.4" height="272.1" fill="#000"/>
<rect x="561.5" y="969.3" width="272" height="5.4" fill="#000"/>
<text x="759.9" y="863.33" font-size="28" class="r" fill="#231f20">0.00</text>
<text class="r" x="520.11" y="870.79" font-size="19" fill="#1a1a1a">10<tspan dy="-15">5</tspan></text>
<text class="r" x="520.11" y="935" font-size="19" fill="#1a1a1a">10<tspan dy="-15">4</tspan></text>
<text class="r" x="520.11" y="1008.74" font-size="19" fill="#1a1a1a">10<tspan dy="-15">3</tspan></text>
<text x="530.68" y="1049.03" font-size="19" class="r" fill="#1a1a1a">0</text>
<text class="r" x="516.08" y="1096.63" font-size="19" fill="#1a1a1a">-10<tspan dy="-15">3</tspan></text>
<text class="r" x="571.81" y="1136.4" font-size="19" fill="#1a1a1a">-10<tspan dy="-15">3</tspan></text>
<text x="621.69" y="1136.41" font-size="19" class="r" fill="#1a1a1a">0</text>
<text class="r" x="662.6" y="1136.4" font-size="19" fill="#1a1a1a">10<tspan dy="-15">3</tspan></text>
<text class="r" x="735.49" y="1136.4" font-size="19" fill="#1a1a1a">10<tspan dy="-15">4</tspan></text>
<text class="r" x="799.68" y="1136.4" font-size="19" fill="#1a1a1a">10<tspan dy="-15">5</tspan></text>
<rect x="930.7" y="831.9" width="267.6" height="267.2" fill="none" stroke="#000" stroke-width="5.4"/>
<rect x="1106.1" y="829.2" width="5.4" height="272.6" fill="#000"/>
<rect x="928" y="969.1" width="273" height="5.4" fill="#000"/>
<text x="1118.55" y="863.33" font-size="28" class="r" fill="#231f20">0.50</text>
<text class="r" x="886.61" y="870.36" font-size="19" fill="#1a1a1a">10<tspan dy="-15">5</tspan></text>
<text class="r" x="886.61" y="934.7" font-size="19" fill="#1a1a1a">10<tspan dy="-15">4</tspan></text>
<text class="r" x="886.61" y="1008.57" font-size="19" fill="#1a1a1a">10<tspan dy="-15">3</tspan></text>
<text x="897.18" y="1048.93" font-size="19" class="r" fill="#1a1a1a">0</text>
<text class="r" x="882.58" y="1096.62" font-size="19" fill="#1a1a1a">-10<tspan dy="-15">3</tspan></text>
<text class="r" x="938.35" y="1136.4" font-size="19" fill="#1a1a1a">-10<tspan dy="-15">3</tspan></text>
<text x="988.41" y="1136.41" font-size="19" class="r" fill="#1a1a1a">0</text>
<text class="r" x="1029.47" y="1136.4" font-size="19" fill="#1a1a1a">10<tspan dy="-15">3</tspan></text>
<text class="r" x="1102.64" y="1136.4" font-size="19" fill="#1a1a1a">10<tspan dy="-15">4</tspan></text>
<text class="r" x="1167.07" y="1136.4" font-size="19" fill="#1a1a1a">10<tspan dy="-15">5</tspan></text>
<text transform="translate(0.82 1213.49) scale(1 1.03)" font-size="31.3" font-weight="bold" fill="#231f20">d</text>
<rect x="99.5" y="1235.9" width="5" height="253.7" fill="#000"/>
<polygon points="102,1214.7 90.2,1236.9 113.8,1236.9" fill="#000"/>
<rect x="101.5" y="1534.7" width="1078.5" height="5" fill="#000"/>
<polygon points="1200.6,1537.2 1178.2,1525.2 1178.2,1549.2" fill="#000"/>
<text transform="translate(99.51 1575.9) scale(1 1.04)" font-size="31.3" font-weight="bold" fill="#231f20">PE (CD3)</text>
<text transform="translate(27.79 1492.59) rotate(-90) scale(1 1.04)" font-size="31.3" font-weight="bold" fill="#231f20">Lymphocytes B</text>
<text transform="translate(75.99 1492.59) rotate(-90) scale(1 1.04)" font-size="31.3" font-weight="bold" fill="#231f20">PeCy7 (CD19)</text>
<rect x="199.1" y="1216.9" width="265.8" height="265.8" fill="none" stroke="#000" stroke-width="5.4"/>
<rect x="291.8" y="1214.2" width="5.4" height="271.2" fill="#000"/>
<rect x="196.4" y="1364" width="271.2" height="5.4" fill="#000"/>
<text x="202.16" y="1246.93" font-size="28" class="r" fill="#231f20">25.3</text>
<text class="r" x="155.01" y="1255.15" font-size="19" fill="#1a1a1a">10<tspan dy="-15">5</tspan></text>
<text class="r" x="155.01" y="1319.15" font-size="19" fill="#1a1a1a">10<tspan dy="-15">4</tspan></text>
<text class="r" x="155.01" y="1392.65" font-size="19" fill="#1a1a1a">10<tspan dy="-15">3</tspan></text>
<text x="165.58" y="1432.8" font-size="19" class="r" fill="#1a1a1a">0</text>
<text class="r" x="150.98" y="1480.25" font-size="19" fill="#1a1a1a">-10<tspan dy="-15">3</tspan></text>
<text class="r" x="206.67" y="1520" font-size="19" fill="#1a1a1a">-10<tspan dy="-15">3</tspan></text>
<text x="256.41" y="1520.01" font-size="19" class="r" fill="#1a1a1a">0</text>
<text class="r" x="297.2" y="1520" font-size="19" fill="#1a1a1a">10<tspan dy="-15">3</tspan></text>
<text class="r" x="369.88" y="1520" font-size="19" fill="#1a1a1a">10<tspan dy="-15">4</tspan></text>
<text class="r" x="433.88" y="1520" font-size="19" fill="#1a1a1a">10<tspan dy="-15">5</tspan></text>
<rect x="565.3" y="1216.9" width="265.2" height="265.8" fill="none" stroke="#000" stroke-width="5.4"/>
<rect x="657.7" y="1214.2" width="5.4" height="271.2" fill="#000"/>
<rect x="562.6" y="1364" width="270.6" height="5.4" fill="#000"/>
<text x="569.35" y="1248.03" font-size="28" class="r" fill="#231f20">10.4</text>
<text class="r" x="521.21" y="1255.15" font-size="19" fill="#1a1a1a">10<tspan dy="-15">5</tspan></text>
<text class="r" x="521.21" y="1319.15" font-size="19" fill="#1a1a1a">10<tspan dy="-15">4</tspan></text>
<text class="r" x="521.21" y="1392.65" font-size="19" fill="#1a1a1a">10<tspan dy="-15">3</tspan></text>
<text x="531.78" y="1432.8" font-size="19" class="r" fill="#1a1a1a">0</text>
<text class="r" x="517.18" y="1480.25" font-size="19" fill="#1a1a1a">-10<tspan dy="-15">3</tspan></text>
<text class="r" x="572.85" y="1520" font-size="19" fill="#1a1a1a">-10<tspan dy="-15">3</tspan></text>
<text x="622.47" y="1520.01" font-size="19" class="r" fill="#1a1a1a">0</text>
<text class="r" x="663.17" y="1520" font-size="19" fill="#1a1a1a">10<tspan dy="-15">3</tspan></text>
<text class="r" x="735.69" y="1520" font-size="19" fill="#1a1a1a">10<tspan dy="-15">4</tspan></text>
<text class="r" x="799.55" y="1520" font-size="19" fill="#1a1a1a">10<tspan dy="-15">5</tspan></text>
<rect x="929.3" y="1215.2" width="269" height="268.9" fill="none" stroke="#000" stroke-width="5.4"/>
<rect x="1023.4" y="1212.5" width="5.4" height="274.3" fill="#000"/>
<rect x="926.6" y="1363.7" width="274.4" height="5.4" fill="#000"/>
<text x="934.23" y="1246.93" font-size="28" class="r" fill="#231f20">31.3</text>
<text class="r" x="885.21" y="1253.92" font-size="19" fill="#1a1a1a">10<tspan dy="-15">5</tspan></text>
<text class="r" x="885.21" y="1318.65" font-size="19" fill="#1a1a1a">10<tspan dy="-15">4</tspan></text>
<text class="r" x="885.21" y="1392.99" font-size="19" fill="#1a1a1a">10<tspan dy="-15">3</tspan></text>
<text x="895.78" y="1433.6" font-size="19" class="r" fill="#1a1a1a">0</text>
<text class="r" x="881.18" y="1481.59" font-size="19" fill="#1a1a1a">-10<tspan dy="-15">3</tspan></text>
<text class="r" x="937.01" y="1521.4" font-size="19" fill="#1a1a1a">-10<tspan dy="-15">3</tspan></text>
<text x="987.32" y="1521.41" font-size="19" class="r" fill="#1a1a1a">0</text>
<text class="r" x="1028.6" y="1521.4" font-size="19" fill="#1a1a1a">10<tspan dy="-15">3</tspan></text>
<text class="r" x="1102.14" y="1521.4" font-size="19" fill="#1a1a1a">10<tspan dy="-15">4</tspan></text>
<text class="r" x="1166.9" y="1521.4" font-size="19" fill="#1a1a1a">10<tspan dy="-15">5</tspan></text>
<text transform="translate(1.48 1599.89) scale(1 1.03)" font-size="31.3" font-weight="bold" fill="#231f20">e</text>
<rect x="99.5" y="1620.6" width="5" height="253.7" fill="#000"/>
<polygon points="102,1599.4 90.2,1621.6 113.8,1621.6" fill="#000"/>
<rect x="101.5" y="1922.8" width="1078.5" height="5" fill="#000"/>
<polygon points="1200.6,1925.3 1178.2,1913.3 1178.2,1937.3" fill="#000"/>
<text transform="translate(99.51 1963.5) scale(1 1.04)" font-size="31.3" font-weight="bold" fill="#000">FITC (CD14)</text>
<text transform="translate(27.79 1878.99) rotate(-90) scale(1 1.04)" font-size="31.3" font-weight="bold" fill="#231f20">Macrophages</text>
<text transform="translate(75.13 1877.8) rotate(-90) scale(1 1.04)" font-size="31.3" font-weight="bold" fill="#000">SSC</text>
<rect x="195.8" y="1603" width="267.8" height="268.3" fill="none" stroke="#000" stroke-width="5.4"/>
<rect x="318.1" y="1628" width="123.2" height="229.1" fill="none" stroke="#000" stroke-width="5.2"/>
<text x="343.16" y="1734.93" font-size="28" class="r" fill="#231f20">CD14+</text>
<text x="354.95" y="1762.43" font-size="28" class="r" fill="#231f20">14.3</text>
<text x="138.54" y="1624.81" font-size="19" class="r" fill="#1a1a1a">250K</text>
<text x="138.54" y="1675.51" font-size="19" class="r" fill="#1a1a1a">200K</text>
<text x="138.54" y="1726.31" font-size="19" class="r" fill="#1a1a1a">150K</text>
<text x="138.54" y="1777.01" font-size="19" class="r" fill="#1a1a1a">100K</text>
<text x="149.11" y="1827.81" font-size="19" class="r" fill="#1a1a1a">50K</text>
<text x="172.88" y="1870.01" font-size="19" class="r" fill="#1a1a1a">0</text>
<text class="r" x="203.46" y="1908.6" font-size="19" fill="#1a1a1a">-10<tspan dy="-15">3</tspan></text>
<text x="253.55" y="1908.61" font-size="19" class="r" fill="#1a1a1a">0</text>
<text class="r" x="294.65" y="1908.6" font-size="19" fill="#1a1a1a">10<tspan dy="-15">3</tspan></text>
<text class="r" x="367.87" y="1908.6" font-size="19" fill="#1a1a1a">10<tspan dy="-15">4</tspan></text>
<text class="r" x="432.34" y="1908.6" font-size="19" fill="#1a1a1a">10<tspan dy="-15">5</tspan></text>
<rect x="565.2" y="1605.1" width="266" height="266.2" fill="none" stroke="#000" stroke-width="5.4"/>
<rect x="686.6" y="1630.4" width="122.6" height="227" fill="none" stroke="#000" stroke-width="5.2"/>
<text x="712.16" y="1736.43" font-size="28" class="r" fill="#231f20">CD14+</text>
<text x="722.21" y="1764.73" font-size="28" class="r" fill="#231f20">9.04</text>
<text x="507.94" y="1626.91" font-size="19" class="r" fill="#1a1a1a">250K</text>
<text x="507.94" y="1677.61" font-size="19" class="r" fill="#1a1a1a">200K</text>
<text x="507.94" y="1728.41" font-size="19" class="r" fill="#1a1a1a">150K</text>
<text x="507.94" y="1779.11" font-size="19" class="r" fill="#1a1a1a">100K</text>
<text x="518.51" y="1829.91" font-size="19" class="r" fill="#1a1a1a">50K</text>
<text x="542.28" y="1872.11" font-size="19" class="r" fill="#1a1a1a">0</text>
<text class="r" x="572.78" y="1908.6" font-size="19" fill="#1a1a1a">-10<tspan dy="-15">3</tspan></text>
<text x="622.55" y="1908.61" font-size="19" class="r" fill="#1a1a1a">0</text>
<text class="r" x="663.37" y="1908.6" font-size="19" fill="#1a1a1a">10<tspan dy="-15">3</tspan></text>
<text class="r" x="736.11" y="1908.6" font-size="19" fill="#1a1a1a">10<tspan dy="-15">4</tspan></text>
<text class="r" x="800.16" y="1908.6" font-size="19" fill="#1a1a1a">10<tspan dy="-15">5</tspan></text>
<rect x="931.7" y="1603.6" width="266.2" height="267.7" fill="none" stroke="#000" stroke-width="5.4"/>
<rect x="1053.1" y="1628.9" width="122.3" height="228.5" fill="none" stroke="#000" stroke-width="5.2"/>
<text x="1077.36" y="1735.53" font-size="28" class="r" fill="#231f20">CD14+</text>
<text x="1088.87" y="1763.33" font-size="28" class="r" fill="#231f20">6.01</text>
<text x="874.44" y="1625.41" font-size="19" class="r" fill="#1a1a1a">250K</text>
<text x="874.44" y="1676.11" font-size="19" class="r" fill="#1a1a1a">200K</text>
<text x="874.44" y="1726.91" font-size="19" class="r" fill="#1a1a1a">150K</text>
<text x="874.44" y="1777.61" font-size="19" class="r" fill="#1a1a1a">100K</text>
<text x="885.01" y="1828.41" font-size="19" class="r" fill="#1a1a1a">50K</text>
<text x="908.78" y="1870.61" font-size="19" class="r" fill="#1a1a1a">0</text>
<text class="r" x="939.29" y="1908.6" font-size="19" fill="#1a1a1a">-10<tspan dy="-15">3</tspan></text>
<text x="989.1" y="1908.61" font-size="19" class="r" fill="#1a1a1a">0</text>
<text class="r" x="1029.95" y="1908.6" font-size="19" fill="#1a1a1a">10<tspan dy="-15">3</tspan></text>
<text class="r" x="1102.73" y="1908.6" font-size="19" fill="#1a1a1a">10<tspan dy="-15">4</tspan></text>
<text class="r" x="1166.83" y="1908.6" font-size="19" fill="#1a1a1a">10<tspan dy="-15">5</tspan></text>
<text transform="translate(2.07 1986.6) scale(1 1.03)" font-size="31.3" font-weight="bold" fill="#231f20">f</text>
<rect x="99.5" y="2009.9" width="5" height="252.5" fill="#000"/>
<polygon points="102,1988.6 90.2,2010.9 113.8,2010.9" fill="#000"/>
<rect x="101.5" y="2311.7" width="1078.5" height="5" fill="#000"/>
<polygon points="1200.6,2314.2 1178.2,2302.2 1178.2,2326.2" fill="#000"/>
<text transform="translate(99.51 2350.3) scale(1 1.04)" font-size="31.3" font-weight="bold" fill="#231f20">PE (CD3)</text>
<text transform="translate(26.6 2266.29) rotate(-90) scale(1 1.04)" font-size="31.3" font-weight="bold" fill="#231f20">NK</text>
<text transform="translate(75.99 2264.08) rotate(-90) scale(1 1.04)" font-size="31.3" font-weight="bold" fill="#231f20">APC (CD16/56)</text>
<rect x="197.9" y="1990" width="268.1" height="268.3" fill="none" stroke="#000" stroke-width="5.4"/>
<rect x="309.8" y="1987.3" width="5.4" height="273.7" fill="#000"/>
<rect x="195.2" y="2149.1" width="273.5" height="5.4" fill="#000"/>
<text x="202.44" y="2021.93" font-size="28" class="r" fill="#231f20">2.50</text>
<text class="r" x="153.81" y="2028.63" font-size="19" fill="#1a1a1a">10<tspan dy="-15">5</tspan></text>
<text class="r" x="153.81" y="2093.22" font-size="19" fill="#1a1a1a">10<tspan dy="-15">4</tspan></text>
<text class="r" x="153.81" y="2167.39" font-size="19" fill="#1a1a1a">10<tspan dy="-15">3</tspan></text>
<text x="164.38" y="2207.92" font-size="19" class="r" fill="#1a1a1a">0</text>
<text class="r" x="149.78" y="2255.8" font-size="19" fill="#1a1a1a">-10<tspan dy="-15">3</tspan></text>
<text class="r" x="205.57" y="2295.6" font-size="19" fill="#1a1a1a">-10<tspan dy="-15">3</tspan></text>
<text x="255.72" y="2295.61" font-size="19" class="r" fill="#1a1a1a">0</text>
<text class="r" x="296.86" y="2295.6" font-size="19" fill="#1a1a1a">10<tspan dy="-15">3</tspan></text>
<text class="r" x="370.16" y="2295.6" font-size="19" fill="#1a1a1a">10<tspan dy="-15">4</tspan></text>
<text class="r" x="434.71" y="2295.6" font-size="19" fill="#1a1a1a">10<tspan dy="-15">5</tspan></text>
<rect x="563.7" y="1987.6" width="270.5" height="272.2" fill="none" stroke="#000" stroke-width="5.4"/>
<rect x="675.7" y="1984.9" width="5.4" height="277.6" fill="#000"/>
<rect x="561" y="2149.7" width="275.9" height="5.4" fill="#000"/>
<text x="567.37" y="2019.83" font-size="28" class="r" fill="#231f20">0.14</text>
<text class="r" x="519.61" y="2026.82" font-size="19" fill="#1a1a1a">10<tspan dy="-15">5</tspan></text>
<text class="r" x="519.61" y="2092.33" font-size="19" fill="#1a1a1a">10<tspan dy="-15">4</tspan></text>
<text class="r" x="519.61" y="2167.56" font-size="19" fill="#1a1a1a">10<tspan dy="-15">3</tspan></text>
<text x="530.18" y="2208.66" font-size="19" class="r" fill="#1a1a1a">0</text>
<text class="r" x="515.58" y="2257.23" font-size="19" fill="#1a1a1a">-10<tspan dy="-15">3</tspan></text>
<text class="r" x="571.47" y="2297.1" font-size="19" fill="#1a1a1a">-10<tspan dy="-15">3</tspan></text>
<text x="622.06" y="2297.11" font-size="19" class="r" fill="#1a1a1a">0</text>
<text class="r" x="663.57" y="2297.1" font-size="19" fill="#1a1a1a">10<tspan dy="-15">3</tspan></text>
<text class="r" x="737.51" y="2297.1" font-size="19" fill="#1a1a1a">10<tspan dy="-15">4</tspan></text>
<text class="r" x="802.62" y="2297.1" font-size="19" fill="#1a1a1a">10<tspan dy="-15">5</tspan></text>
<rect x="929.3" y="1990" width="269.2" height="270.4" fill="none" stroke="#000" stroke-width="5.4"/>
<rect x="1040.6" y="1987.3" width="5.4" height="275.8" fill="#000"/>
<rect x="926.6" y="2150.9" width="274.6" height="5.4" fill="#000"/>
<text x="933.81" y="2021.03" font-size="28" class="r" fill="#231f20">0.72</text>
<text class="r" x="885.21" y="2028.95" font-size="19" fill="#1a1a1a">10<tspan dy="-15">5</tspan></text>
<text class="r" x="885.21" y="2094.03" font-size="19" fill="#1a1a1a">10<tspan dy="-15">4</tspan></text>
<text class="r" x="885.21" y="2168.78" font-size="19" fill="#1a1a1a">10<tspan dy="-15">3</tspan></text>
<text x="895.78" y="2209.61" font-size="19" class="r" fill="#1a1a1a">0</text>
<text class="r" x="881.18" y="2257.86" font-size="19" fill="#1a1a1a">-10<tspan dy="-15">3</tspan></text>
<text class="r" x="937.01" y="2297.7" font-size="19" fill="#1a1a1a">-10<tspan dy="-15">3</tspan></text>
<text x="987.37" y="2297.71" font-size="19" class="r" fill="#1a1a1a">0</text>
<text class="r" x="1028.68" y="2297.7" font-size="19" fill="#1a1a1a">10<tspan dy="-15">3</tspan></text>
<text class="r" x="1102.27" y="2297.7" font-size="19" fill="#1a1a1a">10<tspan dy="-15">4</tspan></text>
<text class="r" x="1167.08" y="2297.7" font-size="19" fill="#1a1a1a">10<tspan dy="-15">5</tspan></text>
</g>
</svg>
</body></html>
